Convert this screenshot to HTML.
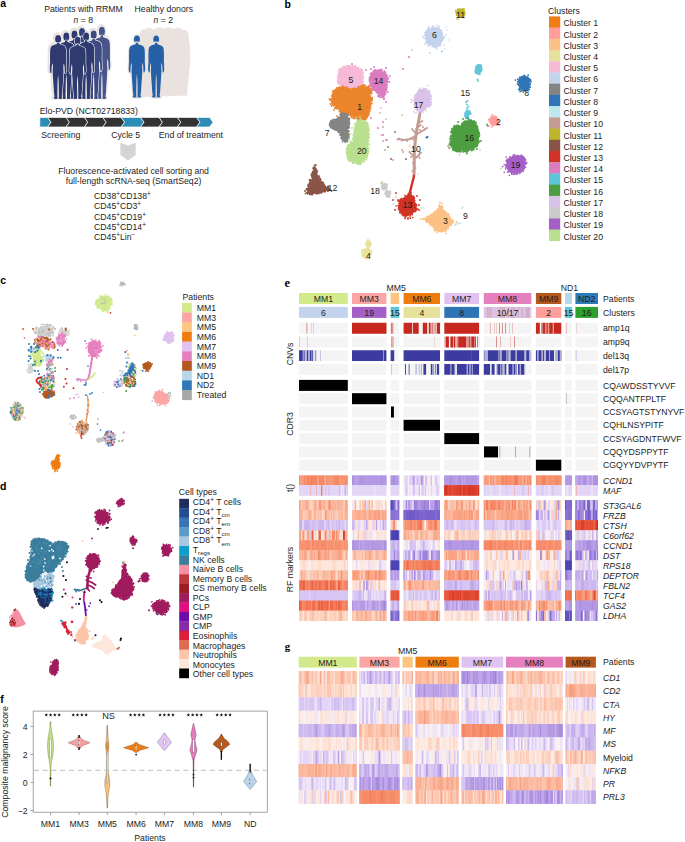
<!DOCTYPE html>
<html><head><meta charset="utf-8"><title>Figure</title><style>
html,body{margin:0;padding:0;background:#fff;overflow:hidden;}
svg{display:block;}
text{font-family:"Liberation Sans",sans-serif;font-size:8.7px;fill:#1d1d1b;}
.pl{font-weight:bold;font-size:10.5px;fill:#000;}
.pls{font-family:"Liberation Serif",serif;font-weight:bold;font-size:12.5px;fill:#000;}
.it{font-style:italic;}
</style></head><body>
<svg width="685" height="842" viewBox="0 0 685 842" shape-rendering="auto">
<text x="0.3" y="6.9" class="pl">a</text>
<defs><g id="pp"><ellipse cx="8" cy="3.8" rx="3.0" ry="4.0"/><path d="M9.1,7.2L9.3,8.8L13.2,9.9L15.2,11.5L15.9,14L16.1,20L16,26L16.3,31L16.4,34.5L15.8,37L14.8,37.3L14.6,35L14.4,31L13.9,27.5L13.4,29L13.3,32L13.5,36L13,44L12.4,52L12.2,56L11.6,60L12.4,62.3L8.6,62.5L8.7,58L8.6,50L8.45,44L8,38.5L7.55,44L7.4,50L7.3,58L7.4,62.5L3.6,62.3L4.4,60L3.8,56L3.6,52L3,44L2.5,36L2.7,32L2.6,29L2.1,27.5L1.6,31L1.4,35L1.2,37.3L0.2,37L-0.4,34.5L-0.3,31L0,26L-0.1,20L0.1,14L0.8,11.5L2.8,9.9L6.7,8.8L6.9,7.2Z"/></g></defs>
<use href="#pp" transform="translate(93.3,26.2) scale(1.0,1.153448275862069)" fill="#e9e2de" stroke="#e9e2de" stroke-width="3.6" stroke-linejoin="round" paint-order="stroke"/>
<use href="#pp" transform="translate(73.4,27.5) scale(1.0,1.1327586206896552)" fill="#e9e2de" stroke="#e9e2de" stroke-width="3.6" stroke-linejoin="round" paint-order="stroke"/>
<use href="#pp" transform="translate(65.9,29.8) scale(1.0,1.0948275862068966)" fill="#e9e2de" stroke="#e9e2de" stroke-width="3.6" stroke-linejoin="round" paint-order="stroke"/>
<use href="#pp" transform="translate(85.1,29.8) scale(1.0,1.0948275862068966)" fill="#e9e2de" stroke="#e9e2de" stroke-width="3.6" stroke-linejoin="round" paint-order="stroke"/>
<use href="#pp" transform="translate(57.7,31.9) scale(1.0,1.0620689655172415)" fill="#e9e2de" stroke="#e9e2de" stroke-width="3.6" stroke-linejoin="round" paint-order="stroke"/>
<use href="#pp" transform="translate(77.5,31.9) scale(1.0,1.0620689655172415)" fill="#e9e2de" stroke="#e9e2de" stroke-width="3.6" stroke-linejoin="round" paint-order="stroke"/>
<use href="#pp" transform="translate(49.5,34.3) scale(1.0,1.0224137931034483)" fill="#e9e2de" stroke="#e9e2de" stroke-width="3.6" stroke-linejoin="round" paint-order="stroke"/>
<use href="#pp" transform="translate(69,36.2) scale(1.0,0.9913793103448276)" fill="#e9e2de" stroke="#e9e2de" stroke-width="3.6" stroke-linejoin="round" paint-order="stroke"/>
<use href="#pp" transform="translate(93.9,27) scale(1.0,1.153448275862069)" fill="#48548a" stroke="#fff" stroke-width="1.1" stroke-linejoin="round" paint-order="stroke"/>
<use href="#pp" transform="translate(74,28.3) scale(1.0,1.1327586206896552)" fill="#34407a" stroke="#fff" stroke-width="1.1" stroke-linejoin="round" paint-order="stroke"/>
<use href="#pp" transform="translate(66.5,30.6) scale(1.0,1.0948275862068966)" fill="#2f3a6e" stroke="#fff" stroke-width="1.1" stroke-linejoin="round" paint-order="stroke"/>
<use href="#pp" transform="translate(85.7,30.6) scale(1.0,1.0948275862068966)" fill="#3e4a82" stroke="#fff" stroke-width="1.1" stroke-linejoin="round" paint-order="stroke"/>
<use href="#pp" transform="translate(58.3,32.7) scale(1.0,1.0620689655172415)" fill="#2f3a6e" stroke="#fff" stroke-width="1.1" stroke-linejoin="round" paint-order="stroke"/>
<use href="#pp" transform="translate(78.1,32.7) scale(1.0,1.0620689655172415)" fill="#2f3a6e" stroke="#fff" stroke-width="1.1" stroke-linejoin="round" paint-order="stroke"/>
<use href="#pp" transform="translate(50.1,35.1) scale(1.0,1.0224137931034483)" fill="#2f3a6e" stroke="#fff" stroke-width="1.1" stroke-linejoin="round" paint-order="stroke"/>
<use href="#pp" transform="translate(69.6,37) scale(1.0,0.9913793103448276)" fill="#2f3a6e" stroke="#fff" stroke-width="1.1" stroke-linejoin="round" paint-order="stroke"/>
<path d="M139.5,37 C139,31 141.5,28.5 145,29.5 C148,27 151.5,27.5 154,30 C157,26.5 161,26.5 164,29 C167,26.8 171,27.2 173.5,29.5 C176.5,27 180.5,27.5 182.5,30 C186,29.5 188.5,31.5 188.5,35 L189.8,46 L190.2,62 L189,74 L187.8,84 L187.2,95.5 L141,97.2 Z" fill="#e9e2de"/>
<use href="#pp" transform="translate(129.1,35.6) scale(0.98,0.99)" fill="#2560a6" stroke="#e9e2de" stroke-width="2.4" stroke-linejoin="round" paint-order="stroke"/>
<use href="#pp" transform="translate(148.5,35.6) scale(0.96,0.99)" fill="#2560a6" stroke="#e9e2de" stroke-width="2.4" stroke-linejoin="round" paint-order="stroke"/>
<text x="83.5" y="11.9" text-anchor="middle">Patients with RRMM</text>
<text x="83.4" y="22.7" text-anchor="middle"><tspan class="it">n</tspan> = 8</text>
<text x="163.8" y="11.9" text-anchor="middle">Healthy donors</text>
<text x="163.3" y="22.7" text-anchor="middle"><tspan class="it">n</tspan> = 2</text>
<text x="39.8" y="113.6">Elo-PVD (NCT02718833)</text>
<polygon points="39.8,117.4 47.6,117.4 51,122.2 47.6,127 39.8,127" fill="#2e8db6" stroke="#fff" stroke-width="0.7"/>
<polygon points="47.6,117.4 66,117.4 69.4,122.2 66,127 47.6,127 51,122.2" fill="#333333" stroke="#fff" stroke-width="0.7"/>
<polygon points="66,117.4 84.4,117.4 87.8,122.2 84.4,127 66,127 69.4,122.2" fill="#333333" stroke="#fff" stroke-width="0.7"/>
<polygon points="84.4,117.4 102.8,117.4 106.2,122.2 102.8,127 84.4,127 87.8,122.2" fill="#333333" stroke="#fff" stroke-width="0.7"/>
<polygon points="102.8,117.4 121.2,117.4 124.6,122.2 121.2,127 102.8,127 106.2,122.2" fill="#333333" stroke="#fff" stroke-width="0.7"/>
<polygon points="121.2,117.4 140.6,117.4 144,122.2 140.6,127 121.2,127 124.6,122.2" fill="#2e8db6" stroke="#fff" stroke-width="0.7"/>
<polygon points="140.6,117.4 159,117.4 162.4,122.2 159,127 140.6,127 144,122.2" fill="#333333" stroke="#fff" stroke-width="0.7"/>
<polygon points="159,117.4 177.4,117.4 180.8,122.2 177.4,127 159,127 162.4,122.2" fill="#333333" stroke="#fff" stroke-width="0.7"/>
<polygon points="177.4,117.4 196.6,117.4 200,122.2 196.6,127 177.4,127 180.8,122.2" fill="#333333" stroke="#fff" stroke-width="0.7"/>
<polygon points="196.6,117.4 209.6,117.4 213,122.2 209.6,127 196.6,127 200,122.2" fill="#2e8db6" stroke="#fff" stroke-width="0.7"/>
<text x="41.3" y="137.6">Screening</text>
<text x="111.2" y="137.6">Cycle 5</text>
<text x="158.8" y="137.6">End of treatment</text>
<polygon points="120.4,142.8 128,145.6 135.7,142.8 135.7,155 128,160.5 120.4,155" fill="#d4d4d4"/>
<text x="133.6" y="173.6" text-anchor="middle">Fluorescence-activated cell sorting and</text>
<text x="133.6" y="184" text-anchor="middle">full-length scRNA-seq (SmartSeq2)</text>
<text x="94" y="198.6"><tspan y="198.6">CD38</tspan><tspan y="195.6" font-size="6.4">+</tspan><tspan y="198.6">CD138</tspan><tspan y="195.6" font-size="6.4">+</tspan></text>
<text x="94" y="209"><tspan y="209">CD45</tspan><tspan y="206" font-size="6.4">+</tspan><tspan y="209">CD3</tspan><tspan y="206" font-size="6.4">+</tspan></text>
<text x="94" y="219.5"><tspan y="219.5">CD45</tspan><tspan y="216.5" font-size="6.4">+</tspan><tspan y="219.5">CD19</tspan><tspan y="216.5" font-size="6.4">+</tspan></text>
<text x="94" y="229.8"><tspan y="229.8">CD45</tspan><tspan y="226.8" font-size="6.4">+</tspan><tspan y="229.8">CD14</tspan><tspan y="226.8" font-size="6.4">+</tspan></text>
<text x="94" y="240.1"><tspan y="240.1">CD45</tspan><tspan y="237.1" font-size="6.4">+</tspan><tspan y="240.1">Lin</tspan><tspan y="237.1" font-size="6.4">−</tspan></text>
<text x="284.6" y="7.9" class="pl">b</text>
<polygon points="464.7,13 464.6,13.6 464.2,14.1 463.9,14.6 463.6,15.1 463.4,15.6 463.1,16.3 462.6,16.8 462,17.1 461.2,17.1 460.5,17.1 459.8,17 459.1,16.9 458.4,16.7 457.9,16.3 457.6,15.7 457.4,15 457.3,14.5 457,14 456.5,13.6 456.1,13 456,12.3 456.1,11.7 456.5,11.1 456.9,10.6 457.4,10.2 457.9,9.8 458.6,9.5 459.2,9.4 459.9,9.4 460.5,9.4 461.1,9.3 461.8,9.2 462.6,9.2 463.3,9.5 463.8,10 464.1,10.6 464.3,11.2 464.5,11.8 464.7,12.4" fill="#bfb52a"/>
<path d="M464 10.7h0M463.1 9.6h0M458.1 16.8h0M457.9 9.2h0M463.2 17.6h0M462.6 9.1h0M461.1 9.3h0M463.4 9.4h0M464.5 12.9h0M464.1 14.3h0M465 13.5h0M464.5 15h0M464.1 9.6h0M459.6 16.6h0M463.6 16.1h0M464.7 12h0M459.7 9h0M457.6 10.2h0M462.2 9.2h0M464.6 12.8h0M461.9 17.2h0M458.2 9.6h0M461.1 17h0M457.6 9.7h0M459.3 9.2h0M463.2 15.3h0M456.1 11.7h0M455.8 10.6h0M458.3 15.6h0M456.1 12.2h0M456.8 15.2h0M463.8 16.1h0M464.8 13.7h0M459.8 17h0M464 8.9h0M456.4 13.8h0M463.4 17.1h0" stroke="#bfb52a" stroke-width="1.7" stroke-linecap="round" fill="none"/>
<path d="M456.5 18.5h0M458 19.5h0" stroke="#bfb52a" stroke-width="1.5" stroke-linecap="round" fill="none"/>
<polygon points="443.4,37 443.4,38.5 443.1,40 442.4,41.4 441.6,42.6 440.6,43.6 439.7,44.8 438.7,45.9 437.4,46.7 436,47 434.5,46.7 433.2,46.1 431.9,45.6 430.7,45.1 429.3,44.7 428,44.1 427,42.9 426.4,41.5 426.1,40 425.9,38.5 425.7,37 425.5,35.5 425.7,33.9 426.3,32.5 427.3,31.3 428.3,30.3 429.4,29.4 430.5,28.4 431.7,27.7 433.1,27.3 434.5,27.3 435.9,27.7 437.1,28.2 438.4,28.6 439.8,29.1 441,29.9 442,31.1 442.6,32.5 443,34 443.2,35.5" fill="#c3d3ee"/>
<path d="M436.1 27.5h0M433.7 46.6h0M440.7 43.4h0M428.5 44.3h0M432.6 28.2h0M427 32.4h0M432.4 28.3h0M426.8 30.2h0M425.7 41.7h0M426.2 38.2h0M439.9 45.2h0M442.5 33.8h0M424 38h0M432.5 27.4h0M435.9 27.8h0M438.3 45.8h0M428.3 30.2h0M433.2 25.9h0M427.1 30.8h0M445.8 34.9h0M426.4 31h0M436.9 25.3h0M429 44h0M428.5 27.8h0M437.6 45.5h0M425.1 35.1h0M441.4 31.9h0M423 36.5h0M435 46.4h0M440 45.7h0M437.3 46.5h0M434.7 47.2h0M436.3 46.8h0M430.1 44.9h0M441.1 30.4h0M426.7 43.3h0M424.8 44.1h0M426.8 31.2h0M432.8 45.3h0M442.3 40.6h0M432.7 45.7h0M428.5 29.4h0M425.2 38.6h0M428.8 26.7h0M437.9 28.1h0M442.3 34h0M439.6 45.2h0M439.8 29.7h0M440.2 43h0M427.8 29.3h0M439.3 28.4h0M427.9 46.1h0M425.8 32.6h0M426.1 35.5h0M435.7 47.9h0M443.6 37.2h0M429.5 28.5h0M431.7 27.7h0M439.1 28.3h0M433 27.9h0M425.7 34.5h0M426.9 43.5h0M424.6 35.5h0M439.8 29.8h0M432.8 27.1h0M426 33.5h0M425 32.7h0M427.1 43.3h0M443.2 39.2h0M425.1 35.1h0M444.4 37.3h0M432.5 46.2h0M436.5 46.4h0M434.2 47.2h0M425.6 34.1h0M430.1 45.7h0M426.9 41.5h0M435.8 27.8h0M438.9 26.4h0M440.6 43h0M433 26.4h0M440.3 44.6h0" stroke="#c3d3ee" stroke-width="1.7" stroke-linecap="round" fill="none"/>
<path d="M446 27h0M447 30h0M444 45h0M449 40h0M442 51h0M445 49h0M437 49h0" stroke="#c3d3ee" stroke-width="1.5" stroke-linecap="round" fill="none"/>
<path d="M430 53h0M442 51.5h0" stroke="#6cc6d8" stroke-width="1.5" stroke-linecap="round" fill="none"/>
<polygon points="339.9,68.7 345.5,66.6 351.8,66.2 357.3,67 361.9,70.6 362.8,77.9 362,85.3 355.5,88.9 348.2,89.3 341.8,87.1 338.6,81.6 338.7,74.3" fill="#f6b9d6"/>
<path d="M337.9 74.9h0M339.1 70.1h0M340.4 72h0M340.1 71.1h0M338.9 72.2h0M338.9 70.9h0M339.8 72.6h0M340 71.9h0M339.2 69.6h0M338.3 74.5h0M339.1 73.3h0M343.8 67.4h0M343.6 67.2h0M344.6 67.3h0M342 68.2h0M343.3 66.7h0M343.4 67.3h0M343.7 67.4h0M345.1 67.5h0M344 67.7h0M339.6 69h0M339.9 68.7h0M348.5 66h0M351.1 66.5h0M347.1 65.7h0M349.2 66h0M349.7 65.9h0M349.5 65.9h0M345.1 66.1h0M349.3 66h0M349.4 67.2h0M348.7 66.4h0M351.6 66.7h0M351.7 66.9h0M355.8 65.9h0M356.9 67.8h0M355.3 66.8h0M354.6 67.1h0M354.4 66.1h0M354.2 66.1h0M355.2 66.7h0M352.6 65.9h0M356.1 67.6h0M356.6 67.8h0M360.8 70.3h0M360.9 71.2h0M362.1 69.9h0M360.6 71h0M362 71.1h0M357.7 68.7h0M360.2 69.1h0M358.6 67.7h0M360.6 68.9h0M358.3 68h0M360.6 69.1h0M363.3 76.8h0M362.2 73.7h0M362.9 74.6h0M362.4 73.7h0M361.6 69.9h0M362.7 76.8h0M362.7 74.1h0M363.1 74.8h0M361.8 73.2h0M362.4 74.1h0M363 72.7h0M362.9 72.1h0M361.4 71.3h0M361.8 70.7h0M362.3 85.3h0M363.1 78.5h0M363.2 82.2h0M362.3 84.5h0M362.3 82.7h0M362.3 84.6h0M361.9 78.8h0M361.2 83.7h0M363.3 81.2h0M363.2 77.9h0M362.6 84.4h0M363 83.1h0M361.9 83.8h0M362 83.8h0M361.9 85h0M359.2 86.4h0M358.2 86.9h0M360 85.7h0M361.4 86.6h0M362 86.8h0M357.7 88.2h0M358.8 86.5h0M357.8 87.9h0M357.5 88.3h0M360.1 87.6h0M360.4 86.7h0M361.9 86.3h0M355.4 89.3h0M352.9 88.7h0M354.4 88.5h0M348.5 89.6h0M349 90.1h0M349.7 89h0M353.7 88.6h0M351.7 89.6h0M350.1 89.7h0M351.7 88.2h0M347.5 89.6h0M350.3 90.1h0M348.2 89.1h0M347.9 88.8h0M352.6 89.5h0M343.1 87.9h0M344.6 87.5h0M348.8 89.8h0M344.4 88.2h0M344.3 86.8h0M343.7 88.6h0M347.1 89.7h0M345.7 87.7h0M343.8 86.8h0M345.6 87.9h0M344.7 88.4h0M343.3 86.9h0M344.2 88.4h0M340.3 83.9h0M339.8 81.8h0M339.4 83.3h0M339.7 84h0M341.4 84.7h0M340.1 83h0M339.1 81.9h0M338.8 83.9h0M338.2 83.2h0M339.5 81.8h0M339.8 83.2h0M340.8 86.7h0M337.7 80h0M338.2 77h0M338.6 75.7h0M338.9 77.9h0M339 80.9h0M339 80.5h0M338.9 78.3h0M338.8 75.5h0M338.8 81h0M338.3 76.9h0M337.7 82.1h0M338.3 77.1h0M337.7 77.8h0M337.9 80.8h0" stroke="#f6b9d6" stroke-width="1.8" stroke-linecap="round" fill="none"/>
<polygon points="371.7,73 375.3,70.1 380.8,70.2 385.4,73 387.9,78.5 386.8,84.7 385.2,90.1 384.5,95.9 380.9,96.8 377.2,91.8 372.8,89.2 370.2,84.8 370.1,78.5" fill="#db7cc0"/>
<path d="M370.4 73.6h0M371.5 76h0M371.4 75.4h0M371.6 73.1h0M370.9 74.3h0M369.6 77.1h0M372 74.7h0M371.6 75.7h0M370.8 75.9h0M370.6 78.4h0M369.8 77.3h0M373.4 70.9h0M371.8 72.8h0M373.4 72h0M373.7 71.6h0M373.2 71.4h0M374.9 70.9h0M374.1 71.7h0M375 69.7h0M371 73.6h0M375.5 70.7h0M376.2 71h0M378.5 70.8h0M380.1 71h0M378.5 69.8h0M378.5 70.3h0M380.4 69.7h0M376.9 70.4h0M378 70.4h0M375.8 71h0M381.4 70.3h0M381.5 70.4h0M380.2 70h0M380.5 70.4h0M384.4 71.8h0M381.8 69.5h0M381.4 71.4h0M381.1 71.3h0M384.1 70.9h0M382.7 72.8h0M385.6 74.4h0M386.4 77.1h0M388.4 77.8h0M385.5 72.4h0M387 75.2h0M386.6 74.8h0M385.3 72.1h0M384.7 73.2h0M387 76.8h0M385.6 74.9h0M387.5 77.1h0M387.3 80.8h0M387.9 81.5h0M386.8 83.1h0M386.9 83.9h0M386.2 84.5h0M387.9 79.2h0M387 85.3h0M386.7 81.1h0M387.6 81.3h0M387.4 81.2h0M387.8 79.2h0M387.9 81.7h0M385.9 90.3h0M386.4 86.2h0M386.5 88.4h0M386.6 89.5h0M386.2 85.5h0M385.5 88.9h0M386.6 85.9h0M386.3 85.6h0M385.7 86.4h0M385.3 89.3h0M387.1 87.3h0M384.5 93.6h0M385.4 93.8h0M385.6 93.9h0M384.6 91.8h0M385.2 90.8h0M385.6 92.3h0M385.2 90.8h0M384.1 92.1h0M385.4 92.3h0M386.2 91h0M384.7 95.1h0M381 97.3h0M382.5 97.2h0M382.9 96.3h0M383 95.5h0M383.3 96.9h0M382.1 96.8h0M384 97h0M377.5 93.4h0M379.1 95.7h0M379.7 97.2h0M378.8 95.4h0M378.1 92.6h0M376.9 92.2h0M379.8 94.2h0M379 92.5h0M379.5 94.5h0M379.4 95.1h0M379.2 96.3h0M378.1 93.1h0M373 89.1h0M374.5 89.7h0M373.1 90.3h0M375.9 91.6h0M376.3 90.2h0M372.9 90.2h0M376.3 90.9h0M374 90.1h0M375.9 91.5h0M375.6 90h0M372.5 88.9h0M370.6 85.6h0M371.2 86.2h0M372.3 87.3h0M371.4 88.7h0M372.5 86.1h0M370.9 85.8h0M372.3 86.1h0M371.2 88.3h0M370.1 86.3h0M370.6 84.9h0M369.7 79.9h0M370.8 77.7h0M370.1 84.7h0M369.7 79h0M369.5 79.9h0M370.3 82.8h0M369.5 79h0M369.5 78.6h0M369.3 80.7h0M369.8 82.5h0M370.6 84.4h0" stroke="#db7cc0" stroke-width="1.8" stroke-linecap="round" fill="none"/>
<path d="M371 69h0M374 67h0M366 70h0M384 99h0M386 102h0M388 92h0M390 76h0M389.5 82h0" stroke="#db7cc0" stroke-width="1.8" stroke-linecap="round" fill="none"/>
<polygon points="336.9,88.8 343.6,87 350.2,90.2 357.6,88.1 363.3,86 368.1,86.8 370.9,92.5 371.3,100.1 369.9,107.6 368.1,114.2 365.3,119 359.6,120.4 355.8,117.8 351.1,115.8 345.6,113 340.9,111.2 336.1,107.6 332.2,102.9 332.2,96.3 334,91.6" fill="#ec842c"/>
<path d="M335.2 90.3h0M335.6 89.3h0M333.6 92h0M337.4 89.8h0M333.8 91.5h0M334.5 92.4h0M337.1 89.7h0M334.6 90.7h0M335.9 89.8h0M338 87.8h0M337.6 89.4h0M339.5 87.5h0M340 87.9h0M339.3 87.1h0M339.8 87.1h0M336.9 87.9h0M342.2 87.8h0M338.2 89.6h0M340.1 88.4h0M342.5 87.8h0M342.7 87.6h0M342.2 86.2h0M338.3 89.1h0M348.5 89.8h0M347.4 87.7h0M348.9 88.9h0M345 89.3h0M351.1 90.5h0M347.9 89h0M350.9 90.7h0M345.3 87.6h0M349.2 89.9h0M350.4 89.4h0M343.5 86.4h0M347.3 89h0M345 88.4h0M346.1 87.1h0M345.6 87.9h0M354.6 89h0M356.3 89.5h0M352.8 90.3h0M358.2 88.4h0M350.8 88.8h0M350.5 89h0M356.5 88.8h0M353.7 88.2h0M355.1 89.6h0M358.1 88.1h0M353.8 89.9h0M355.6 88.4h0M352.9 88.9h0M351.3 90.5h0M355.5 88.8h0M354.6 88.8h0M359.5 88.1h0M362.6 85.1h0M358.8 88.7h0M360.4 86.4h0M361.6 86h0M360.5 87.6h0M358.8 87h0M358 87h0M360.6 86.9h0M359.5 88.9h0M362.1 87.2h0M361.7 87.7h0M360.8 87.9h0M362.7 86.7h0M362.5 86.5h0M367.5 87h0M365.2 85.2h0M368.7 85.9h0M364 85.1h0M363.9 86.4h0M363.8 87h0M366.9 87.2h0M363.7 85.5h0M370.5 89.9h0M369.6 90.1h0M370 91h0M369.3 88h0M369.5 88.5h0M371.3 90.8h0M370.6 89.3h0M371.1 91.7h0M371.6 92.2h0M369.6 89.4h0M370 92.9h0M368.2 87.4h0M369.2 89.6h0M370.2 96.5h0M371.6 99.9h0M372.2 97.7h0M371.3 99.2h0M370.5 93.9h0M370 94.3h0M370.6 98.4h0M371.5 93.5h0M370.7 93.5h0M371.5 100.8h0M372 98.5h0M370.7 94.1h0M371.1 101h0M372.4 99.8h0M370.3 97.1h0M370.8 101.1h0M368.9 107.3h0M369.5 104.2h0M370.5 101.1h0M370.5 100.5h0M372 103.5h0M370.5 108.3h0M371.7 103.5h0M369.6 107.4h0M370.1 104.5h0M369.6 107.2h0M370.1 100.6h0M370.9 104h0M370.1 106.3h0M370.6 101.8h0M369.8 104.2h0M370.7 106.3h0M369.4 111.2h0M367.2 113.4h0M370 108.8h0M368 113.7h0M369.8 111h0M369.2 113.4h0M367.8 112.3h0M369.7 108.6h0M369.1 107.6h0M369.8 110.1h0M368.7 107.9h0M368.8 111.9h0M368.6 113.8h0M369.4 110.7h0M367 116.2h0M368.6 115.6h0M366.3 117.6h0M366.5 117.7h0M368.4 115.7h0M367.1 114.1h0M366.3 114.4h0M368 114.8h0M367.2 113.5h0M367.3 116.9h0M365.8 118.7h0M366.3 116h0M365 118.9h0M360.4 119.1h0M360.2 119.8h0M363.2 119.6h0M360.9 120.9h0M360.7 120.6h0M365.6 120h0M363.6 118.5h0M364.6 119.2h0M359.1 119.5h0M365 119.2h0M359.8 120.1h0M359.2 119.2h0M355.9 117.4h0M358.3 118.5h0M357.4 118.4h0M358 120.4h0M358.1 120.1h0M357.8 119.3h0M356.9 118.2h0M357.5 118.9h0M358.6 119h0M354.5 118.6h0M355.3 117.1h0M353.1 118.1h0M356.3 118h0M354.4 118h0M353.5 116.9h0M355.9 116.2h0M351.7 116.3h0M356.2 117.3h0M354.3 117.8h0M351.6 117.6h0M347.7 115.1h0M347.2 113.4h0M347 114.5h0M346.7 112.8h0M351 114.9h0M347.2 112.4h0M350.2 115.3h0M350.7 115.8h0M347.6 113.6h0M348.1 113.8h0M348.3 113.1h0M346.7 113.4h0M346.7 115.2h0M342.9 110.9h0M341.4 111.9h0M340.6 110.6h0M343.2 110.9h0M342.3 111.9h0M341 112.8h0M344.6 111.7h0M343.6 112.7h0M341.5 110.7h0M342.8 113.1h0M344.7 113.6h0M337.1 108.8h0M340.3 110.2h0M339.6 108.7h0M340.2 109.4h0M338.5 108.3h0M336.8 107.6h0M339.7 109.9h0M335.7 107.5h0M340.8 112.2h0M336.8 108.5h0M335.9 107.4h0M339.4 111.4h0M336 108h0M335.8 106.1h0M332.5 101.8h0M335.4 106.1h0M335.3 105.6h0M333.2 104.8h0M335.6 107.9h0M332.1 104.1h0M337.1 107.2h0M333.3 105.7h0M335.7 107.1h0M334.8 108.1h0M335.9 106.8h0M334.1 102.9h0M332.6 99.2h0M333.1 103h0M331.2 100.4h0M332.8 101.9h0M331.7 101.9h0M331.8 101.7h0M333.1 100.3h0M333.1 100.2h0M331.2 99h0M332.1 102.9h0M331.6 95.9h0M332.4 98.1h0M332.9 97.8h0M331.1 99.1h0M333.8 92.9h0M332.5 94.2h0M332.7 97.3h0M333.1 94.8h0M332.9 91h0M333.1 95.2h0M333.3 95.6h0M333.7 93.9h0M333.8 92.5h0M334.5 90.4h0M333.2 92.4h0" stroke="#ec842c" stroke-width="1.8" stroke-linecap="round" fill="none"/>
<path d="M333 96h0M330 100h0M331.5 106h0M334 110h0M337 116h0M341 119h0M358 122.5h0M362 123h0M366 118h0M371 93h0M369 88h0M341 88h0M329.5 99h0M330.5 104h0" stroke="#ec842c" stroke-width="1.8" stroke-linecap="round" fill="none"/>
<polygon points="341,114.2 345.6,113.6 348.3,117 349.4,122.6 348.3,127.8 347.6,133.2 348.9,139 346.1,141.9 342.9,140.3 341,135.8 339,131.4 335.6,129.5 331.7,127.4 329.7,123.8 331.5,120.7 335.3,119.9 338.8,118.7" fill="#848484"/>
<path d="M340.7 117.5h0M338.9 117.9h0M341.1 115h0M338.6 117.1h0M340.9 115.7h0M341.1 115.9h0M340 118.4h0M340.2 117.5h0M340.4 114h0M343.6 112.9h0M341.6 113.9h0M340.5 115.1h0M344.7 114.8h0M345 113.4h0M343.2 113.6h0M345.5 113.8h0M340.2 114.5h0M342.7 113.4h0M347.6 114.1h0M348 115.2h0M346 114.3h0M347.1 115.5h0M347.2 115.2h0M346 114.1h0M347.3 115.5h0M347.1 115.3h0M348.1 119.5h0M348.2 119.7h0M349.3 119.6h0M349.1 122.2h0M349.3 119.8h0M349 118.2h0M348.5 120.8h0M348.5 120.2h0M349.3 120.1h0M349.3 118.4h0M349.6 122.8h0M348.7 126.7h0M348.7 123.8h0M349 124.4h0M348.7 126h0M349.3 124.6h0M348.6 128.1h0M348.2 125.6h0M349.1 127.4h0M348.8 123.1h0M348.3 123.6h0M347.6 132.5h0M347.9 128.1h0M347.2 132.9h0M347.5 128.4h0M348.8 130.9h0M347.7 132.3h0M349.1 127.2h0M348.9 130.9h0M348.6 131.5h0M347.9 130.9h0M347.6 135.7h0M348.6 136.6h0M348.5 134h0M347 133.1h0M349.1 138.1h0M348.8 134.9h0M348.9 138.4h0M347.8 137h0M348.7 135.9h0M348.6 136.5h0M347.7 136.1h0M347.3 140.3h0M348.5 138.4h0M347.4 141.5h0M345.9 140.3h0M348.5 139h0M348 138.4h0M347.5 141.5h0M347.2 141.1h0M344.7 141.6h0M344.9 140.4h0M345.1 142h0M346 141.2h0M345.5 141.3h0M343.1 139.9h0M342.6 141.5h0M341.2 138.2h0M341.5 135.2h0M341.3 137.9h0M342.9 139.1h0M342 138.9h0M342 138.7h0M343 138.5h0M341.2 137.1h0M342.3 139h0M339.9 134.7h0M340.6 133.7h0M341.6 135h0M339 132.4h0M338.8 131.8h0M340.1 134.9h0M340.2 134.7h0M340.9 135.1h0M341.4 134.9h0M336 129.2h0M335.7 129.4h0M336.1 129.9h0M338.8 131.7h0M336.4 130.1h0M338 130.4h0M338.1 131.9h0M335.5 129.9h0M334.2 128.9h0M334 129.4h0M333.6 127.7h0M335 129h0M333.4 129h0M334.2 129h0M332.2 127.4h0M332.1 128.1h0M329.9 125.6h0M330.5 126.3h0M329.6 124.8h0M332.1 127.1h0M329.6 125.1h0M330.6 127.4h0M329.9 122.8h0M330.8 125.3h0M331 122h0M331.2 123.2h0M331 123.1h0M331.8 120.8h0M330.7 123.6h0M329.9 123h0M331 120.6h0M332.3 120.1h0M331 121h0M333.5 119.8h0M334.2 119.7h0M335.8 119.5h0M334.1 120.7h0M333.9 119.8h0M336.4 120.2h0M338.7 118.1h0M337.4 120h0M337.1 119.9h0M337.4 119.4h0M337.2 118.4h0M337.5 118.9h0" stroke="#848484" stroke-width="1.9" stroke-linecap="round" fill="none"/>
<polygon points="357.1,121.2 361.8,120 367,122.6 368.6,132.8 368.3,142 367.6,151.2 365.5,158.9 359.9,163.3 353.3,162.8 348.6,159 346.4,152.2 348.1,145.6 352.7,141.2 354.5,134.1 355.2,126.2" fill="#b9e08e"/>
<path d="M357 122.8h0M356.2 125.4h0M356.5 125.9h0M355.7 124h0M357.4 121h0M355.7 126.2h0M356.4 122.4h0M356.4 122.5h0M356.2 125.3h0M354.7 124.1h0M359.9 121.4h0M360.7 121.3h0M360.8 119.7h0M359 119.9h0M360.9 121.1h0M359.5 121.1h0M359.1 120.6h0M360.8 120.9h0M360.9 119.1h0M366.2 122.9h0M367 122.7h0M365 121.2h0M364.3 121.5h0M362.3 121.4h0M363.6 121.6h0M364.9 121.3h0M366.4 122.8h0M364.5 120.9h0M365 120.8h0M365.2 122.2h0M368 127.9h0M368 129.7h0M367.4 127.2h0M367.9 123.1h0M368.5 131.4h0M367.2 124h0M368 125.1h0M366.9 125h0M368.7 128.6h0M367.4 125.6h0M368.3 131.7h0M368.2 127h0M367.5 123.6h0M369 130.3h0M366 124h0M367.8 127.6h0M366.8 126.4h0M366.9 128.3h0M368.7 126.8h0M369.6 134.3h0M368.2 136.6h0M368.1 139.7h0M368.2 133.9h0M368.6 134.6h0M368.2 133.1h0M367.8 132.8h0M367.6 133.4h0M367.9 140.2h0M368.6 137.9h0M368.2 136.2h0M367.5 135.2h0M368.6 137.4h0M368.5 140.7h0M368.3 140.6h0M368.5 136.4h0M369.2 137.3h0M368.4 147.1h0M367.2 150.3h0M367.1 151.8h0M368.2 143.4h0M367.7 150.6h0M368.3 150.4h0M368.2 149.2h0M366.7 149.3h0M368 151h0M367.9 147.7h0M369.2 144.6h0M367.2 143.2h0M369.1 144.7h0M368.4 151.3h0M367.4 149.1h0M367.9 150.9h0M367.2 151.4h0M367.9 152.6h0M367.3 155.5h0M366.8 157.8h0M367.5 151.3h0M367.1 155h0M368 153.8h0M367.1 157.2h0M366.5 153.8h0M367 153.9h0M368.1 151.8h0M365.9 155.9h0M367 155h0M367.2 155.1h0M367.3 155.2h0M366.9 156.3h0M364.6 159.4h0M363.2 160.1h0M363.6 161h0M364.3 161.6h0M363.3 160.3h0M360.2 162.4h0M361 163.4h0M361 162.2h0M360.2 161.8h0M363.1 161h0M362.7 161.7h0M361.7 161.7h0M366.4 159.7h0M358.4 163.3h0M355.5 162.5h0M357.3 162.5h0M355.9 162.7h0M353.8 163h0M360.2 164.4h0M357.2 163.3h0M357.6 164.1h0M356 162.3h0M358.2 163.6h0M359.2 163.9h0M355.6 162.4h0M348.8 158.3h0M350 159.2h0M352.4 163h0M350.6 159.6h0M349.5 158.3h0M349.9 160h0M347.9 159.5h0M349.1 161h0M350.3 160.9h0M351.7 161h0M353.4 162.9h0M346.3 151.8h0M347.1 156.5h0M348.4 157h0M347.5 157.1h0M347.1 154.7h0M348.8 157.9h0M346.4 152.7h0M347.1 153.3h0M347.1 154.7h0M347.6 154.9h0M347.9 158h0M347.9 156.8h0M347.5 157.1h0M348.4 145.5h0M347.1 148h0M348.3 147.8h0M348.8 145.9h0M346.5 151.6h0M347.6 149.8h0M347.4 152.1h0M347.5 147.9h0M346.2 149.2h0M348.5 146.8h0M348.6 145h0M347.5 149.6h0M347.1 149h0M347.5 145.8h0M348.9 145.2h0M351 143.4h0M350.8 143.9h0M350.1 144.2h0M347.7 146.3h0M351 141.2h0M349.6 144.7h0M348.9 145.4h0M350.7 142.2h0M350.6 142.4h0M348.1 144.8h0M352.9 139h0M353.9 134.1h0M354.3 133.6h0M353.8 136.4h0M353.6 139.4h0M354.3 138.5h0M352.6 138.5h0M353.6 139.8h0M354.3 136.9h0M354 139.8h0M353.6 140.5h0M353.7 139.7h0M353.2 134.8h0M353.6 141.8h0M354.5 131.1h0M354.4 129.8h0M354 131.9h0M355.6 128.2h0M354.3 132.5h0M353.9 133.9h0M355.6 134h0M355.7 130.3h0M354.7 127.4h0M354.7 128.4h0M355.7 126.6h0M355.1 132.4h0M355.7 131.5h0M355.6 133.1h0M355.9 128.1h0" stroke="#b9e08e" stroke-width="1.8" stroke-linecap="round" fill="none"/>
<path d="M352 128h0M350.5 134h0M349 139h0M356 117.5h0M360 117h0" stroke="#b9e08e" stroke-width="1.8" stroke-linecap="round" fill="none"/>
<polygon points="314.5,167.7 316.5,170.2 317,174.2 319.1,177.6 320,181.1 322.8,183 324.4,186.1 327.9,187.5 329.4,189.9 325.6,191.2 320.5,191.9 317,193.3 311.5,193.9 307.8,193.1 307,189.8 309.6,186.5 310.2,182.2 311.9,178.8 312.1,174.1 313.3,170.7" fill="#8a5548"/>
<path d="M313.5 167.4h0M313.9 168.8h0M313.2 168.8h0M314.9 167.4h0M314.8 167.7h0M314.9 168.5h0M315 168.6h0M316.2 170.9h0M315.7 170.9h0M315 167.4h0M315.5 168.4h0M316.3 169.5h0M316.6 174.5h0M317.4 171.1h0M316.6 173.1h0M316.9 172.8h0M316.6 174.6h0M316.4 173.8h0M316.4 173.3h0M316.3 173.6h0M317.6 176.3h0M317.8 176.6h0M319.4 176.1h0M318.4 177h0M318.1 176.3h0M319.1 177.2h0M316.6 174.4h0M318.3 176.6h0M320.6 180.2h0M319.7 181.4h0M319.3 181.2h0M320.4 178.8h0M320.6 180.5h0M318.9 176.9h0M318.9 179.7h0M319.5 181h0M321.9 182h0M322.8 183.4h0M321.7 183.4h0M319.4 180.8h0M323.3 182.6h0M321.7 183.1h0M322.4 183.8h0M324 184.6h0M323 183.6h0M323.4 183.6h0M324.7 186.1h0M324.2 185.3h0M324.1 185h0M328.5 186.8h0M327.3 188h0M325.4 186.5h0M327.8 187.3h0M327.6 187.8h0M325.2 186.2h0M327.9 186.5h0M327.5 187.6h0M328.3 189.9h0M329.3 188.6h0M327.6 187.9h0M329.8 189.7h0M328.5 187.5h0M327.8 191h0M327.5 190.7h0M327.9 190.7h0M328.3 190.2h0M328.1 190.9h0M328.2 189.4h0M327.5 190.8h0M329.1 189.4h0M323.8 191.5h0M325.3 191.5h0M322.1 191h0M321.5 192.7h0M322 192.1h0M320.8 191.1h0M321.8 192.3h0M324.9 191.5h0M321.6 192.3h0M323.7 191.2h0M320.6 191.2h0M319.1 192.2h0M320 191.7h0M320.9 192.7h0M319 193.4h0M318.3 193.6h0M318.8 191.6h0M315 192.8h0M312.3 194.7h0M317.4 192.9h0M312.6 193.2h0M316.6 193.5h0M311.7 192.9h0M313.6 192.7h0M312.4 194.5h0M313.4 193.1h0M316.4 193.7h0M310.5 193.7h0M307.8 193.8h0M308.9 193.1h0M309.9 194.2h0M311 194.4h0M308 192.5h0M310.9 193.4h0M307.5 192.6h0M307 189.7h0M306.9 192.6h0M307.9 193.5h0M307.3 189.4h0M308.3 193.4h0M307.3 190.3h0M306.4 188.9h0M310.5 187.2h0M308.2 186.5h0M309.5 187.1h0M309.1 188h0M308.5 189.6h0M308.3 188.2h0M309.9 186h0M309.5 183.2h0M309.1 184.2h0M310.2 183.1h0M310.2 185.5h0M309.9 185.7h0M310.3 186.4h0M309.9 182.5h0M309.5 185.4h0M310.8 179.9h0M310.3 181.1h0M311.7 181.1h0M310.9 180.5h0M309.9 182.8h0M310.3 179.9h0M310.6 179.8h0M312.6 175.9h0M311.8 176.2h0M311.4 174.7h0M312.7 177.5h0M311.5 175.3h0M312.2 177.4h0M312.4 177.7h0M312.8 177.9h0M312.6 175.1h0M313.5 173.5h0M312.7 171.8h0M312.7 173.4h0M313.2 173.5h0M312.1 173.1h0M313.4 171.2h0M312 173.5h0" stroke="#8a5548" stroke-width="1.9" stroke-linecap="round" fill="none"/>
<path d="M314.5 165.5h0M315.8 165h0M331.5 191h0M305.5 193.5h0M305 191h0M309.5 180h0M308 185h0" stroke="#8a5548" stroke-width="1.9" stroke-linecap="round" fill="none"/>
<polygon points="386.5,186.5 386.4,186.9 386.4,187.2 386.3,187.6 386.3,188 386.2,188.5 386,189.1 385.6,189.5 385.1,189.7 384.5,189.7 384,189.5 383.5,189.3 383.1,189.2 382.6,189 382.2,188.8 381.8,188.5 381.6,188.2 381.5,187.7 381.4,187.3 381.4,186.9 381.4,186.5 381.5,186.1 381.7,185.8 381.9,185.5 381.9,185.1 382,184.6 382.1,184 382.3,183.4 382.8,183.1 383.4,183.1 384,183.3 384.5,183.6 384.9,183.8 385.4,184 385.8,184.2 386.2,184.5 386.4,184.9 386.5,185.3 386.5,185.7 386.5,186.1" fill="#cbcbcb"/>
<path d="M381.5 186.4h0M384 189.6h0M384.5 183.7h0M381.9 188.1h0M386.3 188.3h0M381.6 186.5h0M386.1 188.9h0M382 186.6h0M386.1 186.2h0M386.4 187.8h0M384.3 189.3h0M386.4 183.8h0M387.3 185.2h0M386.8 185.4h0M382 183.9h0M386.5 184.7h0M385.8 188.6h0M382.5 181.6h0M384.4 189.5h0M387.2 187.8h0M383.4 189.7h0M382 183.4h0M386.1 188h0M381.9 188.7h0M386.4 183.7h0M383.5 189.2h0" stroke="#cbcbcb" stroke-width="1.7" stroke-linecap="round" fill="none"/>
<polygon points="390.4,194 390.5,194.5 390.5,195 390.3,195.5 390,195.9 389.8,196.3 389.5,196.7 389.2,197 388.8,197.2 388.4,197.2 388,196.9 387.7,196.6 387.4,196.3 387.1,196.2 386.8,196.2 386.4,196.1 386,195.9 385.7,195.5 385.5,195.1 385.3,194.6 385.1,194 385.1,193.4 385.2,192.8 385.6,192.4 386,192.1 386.5,192 386.8,191.8 387.1,191.6 387.3,191.4 387.7,191.2 388,191.2 388.3,191.2 388.7,191.2 389.1,191.1 389.5,191.2 389.9,191.5 390.1,192 390.2,192.5 390.2,193.1 390.3,193.5" fill="#cbcbcb"/>
<path d="M387.1 196.1h0M390.5 192.9h0M390.4 191.3h0M385.7 191.7h0M387.4 191.9h0M385.1 194.1h0M387.6 191.4h0M389.7 191.7h0M390.3 192.7h0M387.5 196.5h0M389.6 197.2h0M387.2 191.5h0M388.1 197h0M386.2 191.6h0M388.1 190.9h0M386.4 196.4h0M387.6 196.3h0M385 193.2h0M386.7 191.6h0M385.1 193.3h0M390.3 191.2h0M390.1 194.3h0M386.9 196.5h0M386.4 190.5h0M388.8 197.2h0" stroke="#cbcbcb" stroke-width="1.7" stroke-linecap="round" fill="none"/>
<path d="M381 183h0" stroke="#b9e08e" stroke-width="2" stroke-linecap="round" fill="none"/>
<path d="M393 204h0" stroke="#cbcbcb" stroke-width="1.5" stroke-linecap="round" fill="none"/>
<path d="M420,113 C419,120 417.5,126 416.5,132 C415.5,138 415,144 414.5,150 C414,157 414.5,165 414,175" fill="none" stroke="#c49c94" stroke-width="3.0" stroke-linecap="round" stroke-linejoin="round"/>
<path d="M416,136 L410,139 L404,140 L398.5,139" fill="none" stroke="#c49c94" stroke-width="2.2" stroke-linecap="round" stroke-linejoin="round"/>
<path d="M417,134 L421.5,131.5 L426,128.5" fill="none" stroke="#c49c94" stroke-width="2.0" stroke-linecap="round" stroke-linejoin="round"/>
<path d="M415.5,133 L412,129" fill="none" stroke="#c49c94" stroke-width="1.8" stroke-linecap="round" stroke-linejoin="round"/>
<path d="M418.5,123 L422.5,121" fill="none" stroke="#c49c94" stroke-width="1.8" stroke-linecap="round" stroke-linejoin="round"/>
<path d="M414.5,158 L418.5,156 L420,152.5" fill="none" stroke="#c49c94" stroke-width="2.0" stroke-linecap="round" stroke-linejoin="round"/>
<path d="M414,157 L410.5,153" fill="none" stroke="#c49c94" stroke-width="1.8" stroke-linecap="round" stroke-linejoin="round"/>
<path d="M416,129 L418,127 L421,125" fill="none" stroke="#c49c94" stroke-width="1.6" stroke-linecap="round" stroke-linejoin="round"/>
<path d="M419 116h0M418.5 121h0M417 127h0M420 130h0M423 127h0M425 129.5h0M427 128h0M413 139.5h0M407 141h0M402 140.5h0M399 138.5h0M397.5 139.5h0M415 145h0M413 148h0M416 150h0M413 163h0M415.5 168h0M412.5 171h0M419.5 158h0M421 153h0M409.5 152h0M411 157h0" stroke="#c49c94" stroke-width="2" stroke-linecap="round" fill="none"/>
<path d="M402 150h0M403 152h0M393 160h0M385 150h0M383 141h0M383 127h0M387 140h0" stroke="#c49c94" stroke-width="1.8" stroke-linecap="round" fill="none"/>
<path d="M406 159h0M391 159h0" stroke="#8a5548" stroke-width="1.8" stroke-linecap="round" fill="none"/>
<path d="M426.5 137.5h0M427.5 137h0" stroke="#2f74b5" stroke-width="2.2" stroke-linecap="round" fill="none"/>
<path d="M409 147h0M410 145h0" stroke="#e6e29c" stroke-width="1.7" stroke-linecap="round" fill="none"/>
<path d="M418 174h0M411 151h0" stroke="#fbc185" stroke-width="1.6" stroke-linecap="round" fill="none"/>
<polygon points="430.9,100 431,101.7 430.7,103.4 429.9,104.8 428.8,105.8 427.8,106.7 426.9,107.7 426,108.8 425,109.9 423.8,110.6 422.5,111 421.1,110.9 419.8,110.6 418.5,110.1 417.2,109.3 416.1,108.2 415.3,106.7 414.8,105 414.4,103.3 414.2,101.7 414.1,100 414.2,98.3 414.6,96.7 415.4,95.4 416.4,94.3 417.3,93.3 418.1,92.2 419,91.1 420,90.1 421.2,89.4 422.5,89.1 423.9,89 425.2,89.2 426.6,89.6 427.9,90.5 428.9,91.8 429.6,93.4 429.9,95.2 430.2,96.8 430.5,98.4" fill="#d9c2ea"/>
<path d="M419 110.2h0M428.4 106h0M414.4 107.4h0M419.7 111h0M429.8 93.3h0M430.5 95h0M430.3 96.1h0M431 99.5h0M421.7 89.9h0M416 113.1h0M419.8 111.4h0M417.7 91.5h0M416 109.6h0M422.8 111.3h0M417.1 110.5h0M411.5 99.7h0M420.1 88.1h0M413.9 111.8h0M431.1 95.7h0M430.1 99.8h0M429.8 106.1h0M417.9 111h0M430.5 104h0M416.9 93.9h0M425.1 88.8h0M427.9 85.5h0M417.8 91.7h0M425.5 89.6h0M430.9 104.9h0M421.2 111.1h0M421.4 110.1h0M419.3 89.7h0M424.3 89.8h0M414 104.7h0M415.7 94.7h0M430.6 101.3h0M415.1 103.5h0M413.8 100.6h0M424.8 89.1h0M419.7 89.8h0M423.2 112.1h0M429.1 93h0M431.1 99h0M423 110.3h0M418.4 90.8h0M411.2 102.4h0M415.2 106.2h0M427.8 91.2h0M428.8 105.3h0M414.9 107.1h0M431.4 102.8h0M428 106.4h0M416.7 94.6h0M428.1 90.2h0M414.6 101.5h0M414.3 97.6h0M419 113.5h0M426 110.1h0M420 110.8h0M431.2 98.5h0M414.8 95.5h0M428.2 91.4h0M413.3 100.6h0M417.1 93.3h0M429.6 95.2h0M425.9 88.3h0M417.5 108.6h0M415.7 95.3h0M430.7 95.7h0M425.7 110.6h0M423.5 88.4h0M431.4 96.3h0M420.9 90.2h0M430.8 104.4h0M431.1 98.3h0M417.9 93.7h0M429.6 91.1h0M417.5 110.4h0M429 106.7h0M415.7 95.7h0M422.5 110.2h0M422.9 89.6h0M414.3 100.5h0M416.8 109.3h0M418.5 90.7h0" stroke="#d9c2ea" stroke-width="1.7" stroke-linecap="round" fill="none"/>
<path d="M414,176 L412,184 L410,192 L408,198" fill="none" stroke="#d03326" stroke-width="2.4" stroke-linecap="round" stroke-linejoin="round"/>
<polygon points="416.1,205.5 416.3,207.1 416.1,208.7 415.4,210.2 414.4,211.3 413.3,212.3 412.3,213.2 411.3,214.1 410.2,215 408.9,215.8 407.5,216.2 406,216.2 404.6,215.9 403.2,215.2 402,214.3 401,213.1 400.2,211.7 399.6,210.1 399.3,208.6 399,207.1 398.8,205.5 398.8,203.9 399.1,202.3 399.7,200.9 400.6,199.7 401.7,198.8 402.8,198.1 403.9,197.3 405,196.5 406.1,195.5 407.5,194.7 409,194.2 410.6,194.3 412.1,195.1 413.2,196.4 414,198 414.4,199.7 414.8,201.2 415.2,202.6 415.7,204" fill="#d03326"/>
<path d="M413.9 197.4h0M405.4 218.3h0M399.3 205.6h0M408.1 194.2h0M411 192.4h0M417.9 209.2h0M414.6 211.2h0M416.8 208.8h0M411.3 213.9h0M405.6 215.9h0M398.1 205.6h0M399 201.3h0M416.1 210.5h0M400.1 211.7h0M413.9 211.2h0M414.5 200.8h0M402.9 215.5h0M401.3 198.5h0M399.8 211.3h0M416.3 208.2h0M411.8 213h0M399.9 200h0M415.9 209.2h0M399.1 203.5h0M401.1 212.5h0M416.5 205.7h0M405.4 215.3h0M398.5 200.8h0M410.3 218.2h0M398.7 206.3h0M415.4 203.9h0M396.1 206h0M406.2 215.9h0M400.4 211.6h0M412.7 217.5h0M414.2 197.6h0M410.1 216.8h0M400.4 199.5h0M401.1 212h0M415.4 211.4h0M415.2 210.5h0M414.6 202.2h0M401.6 214h0M404.9 195.3h0M398.4 201.3h0M413.4 197.2h0M415.6 207.1h0M410.9 194h0M399.9 212.8h0M412.7 212.2h0M409.6 194.3h0M398.6 207.6h0M405 217.9h0M404.7 215h0M399.1 201h0M413.8 198.6h0M398.6 209.6h0M402.8 214.3h0M408 219h0M409.5 193.6h0M405.3 216.6h0M399.2 206.4h0M402.6 214.5h0M405.7 215.3h0M419 210.2h0M413.5 212h0M403.6 215.7h0M400.2 200.9h0M410.3 215.5h0M403.5 214.6h0M399.2 208.3h0M414.4 198.5h0M412 214.5h0M416.6 204.6h0M400 209.6h0M400.5 209.8h0M412.5 212.7h0M399.8 212.6h0M412.3 214.6h0M408.3 194.8h0M398.6 209.4h0M402.8 214.5h0M413.6 196.1h0M414.7 200.3h0M410.8 194.5h0" stroke="#d03326" stroke-width="1.7" stroke-linecap="round" fill="none"/>
<path d="M396 193h0M398 200h0M393 200h0M395 210h0M420 200h0M419 205h0M417 196h0M408 218h0" stroke="#d03326" stroke-width="1.8" stroke-linecap="round" fill="none"/>
<path d="M396 197h0M411 217h0M420 210h0" stroke="#f5b080" stroke-width="1.7" stroke-linecap="round" fill="none"/>
<polygon points="480.9,70.5 480.8,71.1 480.7,71.9 480.5,72.7 480.1,73.4 479.6,73.9 478.9,74 478.3,73.8 477.8,73.5 477.4,73.2 477,73.1 476.5,73 476,72.9 475.6,72.6 475.3,72.1 475.2,71.5 475.2,70.8 475.3,70.2 475.4,69.5 475.6,68.9 475.8,68.3 476,67.8 476.3,67.2 476.7,66.6 477.1,66 477.5,65.5 478.1,65.2 478.7,65 479.2,65.1 479.7,65.4 480.1,65.7 480.5,66.1 480.9,66.3 481.3,66.6 481.7,66.9 482,67.4 482,68.1 481.8,68.8 481.5,69.5 481.1,70" fill="#5dc6d7"/>
<path d="M480.5 70.9h0M477 66.3h0M478.4 64.7h0M480 65.4h0M481.3 66.3h0M481.7 69.6h0M475.8 68.8h0M476.2 65.9h0M475.5 72.6h0M481.7 70.2h0M481.1 66.8h0M481 70.6h0M475.3 70.9h0M481 70.1h0M475.6 69.6h0M479.3 74.3h0M476.7 73h0M476.6 66h0M480 74.1h0M479.9 64.8h0M476.9 73.5h0M481.8 68.1h0M477.6 65.2h0M481.1 65.2h0M475.1 70.9h0M481 71.8h0M480.6 70.2h0M479.9 65.7h0M478 65.3h0M481.5 70.4h0M481 69.2h0M477.9 73.9h0M475.6 72.9h0M475.9 67.5h0" stroke="#5dc6d7" stroke-width="1.7" stroke-linecap="round" fill="none"/>
<path d="M477.5 79.5h0M478 81h0" stroke="#5dc6d7" stroke-width="1.8" stroke-linecap="round" fill="none"/>
<path d="M466 102h0M467.5 101h0M467 104.5h0M468.5 106.5h0M467 108h0" stroke="#5dc6d7" stroke-width="1.9" stroke-linecap="round" fill="none"/>
<polygon points="470.1,114.5 469.9,115.1 469.5,115.5 469.1,115.7 468.8,115.9 468.6,116.1 468.5,116.5 468.4,117.2 468.2,118 467.9,118.7 467.5,119.2 467,119.3 466.5,119.1 466.1,118.6 465.9,118 465.7,117.3 465.6,116.6 465.5,116.1 465.4,115.6 465.2,115.1 465.1,114.5 465.2,113.9 465.3,113.4 465.6,113 465.9,112.7 466.1,112.3 466.3,111.9 466.5,111.4 466.7,110.9 467.1,110.7 467.5,110.6 467.9,110.7 468.3,110.8 468.7,111 469.1,111.2 469.4,111.5 469.8,112 470,112.5 470.2,113.2 470.2,113.8" fill="#5dc6d7"/>
<path d="M465.4 113h0M470.8 113.4h0M468.4 117.7h0M466.2 111.4h0M466.9 110.1h0M466.6 110.8h0M469.2 111.8h0M468.4 117.2h0M468.5 110h0M468.4 118.3h0M464.7 114.8h0M470.1 112.7h0M465.7 112.3h0M465.1 113.6h0M470 111.9h0M468.2 118.8h0M469.6 113h0M470.3 113.4h0M465.8 117h0M465.6 113.8h0M467.9 119h0M469.8 111.4h0M465.9 116h0M470.8 113.8h0M465 113.1h0M470.3 113h0M465.8 118.5h0M465.3 114.9h0M465 116.4h0M466 112.1h0" stroke="#5dc6d7" stroke-width="1.7" stroke-linecap="round" fill="none"/>
<polygon points="453,128.6 456.8,125.4 460.6,127.6 463.6,122.7 467.7,120.7 472.4,120.6 475.2,122.9 477.5,127.6 478.3,134.1 478.4,140.6 476.6,146.2 471.5,149.4 465,150.8 458.4,150.9 452.8,149.1 450.5,144.3 451.2,137.8 452.2,132.3" fill="#4c9e40"/>
<path d="M453.8 129.4h0M454 130h0M453.5 132.2h0M452.3 130.5h0M453.9 129.7h0M451.9 128.6h0M451.7 130.5h0M452.1 132.3h0M456.6 125.4h0M455 127.1h0M454.5 125.8h0M455.6 127.1h0M455.3 126.6h0M454.1 126.4h0M454.5 127.4h0M454.7 128.8h0M455.3 127.4h0M453.5 128.1h0M456.3 126.4h0M458.6 125.6h0M457.2 125.9h0M458.3 125.5h0M460.7 127.4h0M459.5 127.2h0M459.7 126.8h0M458.9 126.7h0M457 125.7h0M462.4 125.3h0M460.8 126.3h0M462.4 127.4h0M463.3 122.2h0M461.6 125.9h0M463 123.5h0M461.9 125h0M461.5 128.1h0M461.8 124.7h0M462 123.7h0M461.8 126.1h0M462.7 125.3h0M464.8 122.6h0M464.1 123.7h0M467.2 121.1h0M465.6 121.2h0M464.8 121.4h0M466.7 122.5h0M467 121.5h0M465 121.1h0M466 122.6h0M463.9 122.4h0M470.9 120.9h0M470.3 121h0M469.4 119.8h0M469 120.2h0M468.7 120.6h0M469.2 119.7h0M470.6 121h0M471.2 120.2h0M470.6 121.5h0M470.2 120.8h0M474.8 121.9h0M474.4 123.4h0M474 121h0M476.1 122.6h0M473.3 123h0M475.6 122.7h0M472.9 121.4h0M473.4 122h0M475.6 122.9h0M476.1 126h0M476.7 125.5h0M477.3 128.3h0M475.5 124.8h0M476 125.4h0M476.5 125.7h0M477.4 126.6h0M475.4 124.2h0M476 122.8h0M475.3 125.2h0M477.5 127.3h0M477.7 129.1h0M477 127.8h0M478.1 131.4h0M477.3 129.9h0M477.8 130.4h0M479.2 132.7h0M477.2 133.3h0M478.4 130.5h0M478.4 132.6h0M477.9 134.3h0M478.3 133.1h0M477.4 130.4h0M477.5 128.6h0M478.5 134.6h0M477.9 139.3h0M477.2 137.3h0M479.1 136.5h0M477.4 136.6h0M479.5 135h0M478.5 140.5h0M477.8 138.6h0M478.2 137.9h0M477.7 138.9h0M479 133.4h0M478.1 139.9h0M478.9 134.9h0M476.9 146.2h0M477 145.7h0M479.2 141.8h0M476.5 144h0M476.7 143.8h0M478 143.2h0M477.4 141.3h0M475.6 145.6h0M478 143.4h0M477.3 141.2h0M476.9 141.5h0M477.4 144.9h0M472.9 149.5h0M476.3 146.3h0M472.3 148.2h0M472.2 149.9h0M475 145.5h0M474 147.5h0M472 149.4h0M471.5 147.7h0M475.5 146.2h0M474.9 147.5h0M474.2 146.6h0M472.7 149.1h0M473.8 149.4h0M471.1 149.3h0M471.4 148.5h0M467.5 149.6h0M466.3 151.9h0M469 150.2h0M471.8 150.3h0M467.7 151h0M465.6 150.6h0M465.8 151h0M471.6 150.5h0M467.5 151.4h0M466.9 151.2h0M465.1 150.8h0M467.1 151.5h0M464.4 151h0M463.8 151h0M457.3 151.8h0M464.3 150.7h0M459.4 151h0M460.1 150.4h0M463.9 149.7h0M463.3 151.7h0M459.2 149.9h0M461 151.7h0M458.7 150.8h0M465.6 151.1h0M465.4 151.6h0M459.9 151.6h0M455 149.2h0M456.5 149.7h0M456.1 151.1h0M455.1 150.1h0M453.6 148.6h0M455.7 150.9h0M457.1 151.2h0M457.9 151.5h0M453.1 149.7h0M456.7 149.8h0M454.4 150.4h0M456.9 150.4h0M451.8 146.9h0M449.9 144.8h0M450.9 145h0M451.6 143.6h0M451.5 146.3h0M453 148.7h0M453.5 148.7h0M451.1 145h0M452.8 149.8h0M451.5 144.6h0M451.5 146h0M450.8 137.6h0M451.7 142.2h0M450.4 141.4h0M451.8 139.8h0M450.5 141.3h0M450.4 142.9h0M451 141.4h0M451.3 138.6h0M451.8 141.7h0M449.6 144.6h0M450.1 142.1h0M449.3 144.1h0M450.6 142.5h0M450.7 137.8h0M451.2 131.9h0M453 133.9h0M450.9 136.1h0M450.9 132.2h0M452.4 135.7h0M452.1 132.7h0M451 135.7h0M452.4 134.8h0M450.7 136.4h0M453 133.5h0M452.6 132.5h0M451.9 132.6h0" stroke="#4c9e40" stroke-width="1.9" stroke-linecap="round" fill="none"/>
<path d="M467.5 118h0M451 145h0M450 139h0M477 149h0M481 141h0M467 153.5h0M463 119h0M458 122h0M449.5 148h0" stroke="#4c9e40" stroke-width="1.9" stroke-linecap="round" fill="none"/>
<path d="M459.5 154.5h0" stroke="#cbcbcb" stroke-width="1.8" stroke-linecap="round" fill="none"/>
<path d="M449 147.5h0M448 146h0" stroke="#c49c94" stroke-width="1.8" stroke-linecap="round" fill="none"/>
<path d="M480 150h0" stroke="#f5b080" stroke-width="1.6" stroke-linecap="round" fill="none"/>
<polygon points="498.5,121 498.8,121.7 498.8,122.5 498.5,123.2 498,123.8 497.3,124.2 496.7,124.5 496,124.8 495.4,125.2 494.8,125.6 494,125.8 493.2,125.7 492.5,125.3 492,124.7 491.7,124 491.4,123.4 491.2,123 490.9,122.5 490.4,122.1 489.9,121.6 489.5,121 489.3,120.3 489.3,119.5 489.5,118.8 490,118.2 490.5,117.7 491.2,117.2 491.8,116.9 492.5,116.6 493.2,116.4 494,116.4 494.7,116.7 495.3,117.1 495.8,117.6 496.2,118 496.6,118.5 497,118.9 497.4,119.3 497.8,119.8 498.2,120.4" fill="#ff9e9b"/>
<path d="M490.1 122.5h0M489.9 121.8h0M498.3 121.7h0M491.2 123.5h0M492.8 126h0M495.6 125h0M493.3 116.4h0M497.2 119.1h0M492.3 114.7h0M497.9 123.7h0M498.3 120.8h0M490.8 122.7h0M497.1 119.4h0M488.9 119.5h0M496.6 117.1h0M498.8 125.3h0M498.4 124.4h0M489.4 118.8h0M495.5 124.9h0M489.2 121h0M496.8 119.3h0M491 122.9h0M498.8 121.3h0M497 124.5h0M491 122.7h0M497.1 118.5h0M491.5 117.2h0M498.2 119.4h0M497.3 124.2h0M495.6 116.9h0M494.6 116.2h0M497.4 125h0M491.7 123.9h0M492 126.9h0M496.4 118.4h0M499.4 121.7h0M492.1 124.8h0M491.2 116.3h0M491.2 124.3h0" stroke="#ff9e9b" stroke-width="1.7" stroke-linecap="round" fill="none"/>
<path d="M487 124.5h0M488 126h0" stroke="#4c9e40" stroke-width="1.8" stroke-linecap="round" fill="none"/>
<path d="M489 126h0" stroke="#ff9e9b" stroke-width="1.8" stroke-linecap="round" fill="none"/>
<polygon points="529.6,83 529.6,84.1 529.7,85.2 529.6,86.5 529.2,87.6 528.5,88.5 527.6,89 526.7,89.4 525.8,89.7 524.9,89.9 524,89.9 523.1,89.7 522.3,89.5 521.4,89.2 520.5,88.9 519.6,88.3 519,87.5 518.6,86.3 518.5,85.2 518.4,84.1 518.2,83 517.9,81.8 517.9,80.6 518.2,79.4 518.9,78.5 519.8,77.9 520.6,77.3 521.4,76.7 522.2,76.1 523,75.6 524,75.7 524.9,76.2 525.7,76.8 526.4,77.3 527.3,77.5 528.3,77.7 529.3,78.3 529.8,79.4 529.9,80.6 529.8,81.9" fill="#2f74b5"/>
<path d="M530.5 79.8h0M530.4 83.4h0M529.7 86.6h0M520 88.1h0M518.7 84.9h0M524.1 75.6h0M521.9 76.5h0M528.6 89.1h0M529.8 79.1h0M520.1 77h0M529.3 87h0M519.6 89.7h0M523.4 91.1h0M525.2 90.5h0M524.7 75.7h0M529.6 79.2h0M529.7 80.8h0M528.1 77.8h0M529.3 85.8h0M526.3 89.5h0M530 84.8h0M517.3 84.1h0M521 91.1h0M522 90h0M526.1 77.3h0M526.5 90.5h0M520.7 91.4h0M528.1 88.3h0M522.6 89.7h0M517.7 79.3h0M518.7 89.4h0M530.5 80.5h0M521.7 77h0M523.2 91.9h0M528.2 75.2h0M527.9 89.7h0M522.4 89.6h0M519.5 77.7h0M519.9 89.5h0M531.1 81.6h0M530.1 87.2h0M520.1 91.4h0M524.2 90.5h0M522.9 89.9h0M525.1 75.9h0M522.9 90.1h0M522.7 89.4h0M529.6 80.1h0M519.7 88.5h0M517.6 81.9h0M527.2 76.9h0M529.8 84.3h0M525.2 90.8h0M521.9 89h0M515.4 80.1h0M527.6 77.2h0M524.1 89.7h0M529.4 89.3h0M519.9 88.9h0" stroke="#2f74b5" stroke-width="1.7" stroke-linecap="round" fill="none"/>
<polygon points="525.7,164.5 525.2,165.9 524.6,167.1 524,168.3 523.3,169.4 522.5,170.5 521.5,171.5 520.3,172.3 518.9,172.9 517.5,173.4 516,173.7 514.4,173.8 512.8,173.6 511.3,173.2 509.8,172.4 508.6,171.4 507.6,170.2 506.9,168.8 506.5,167.4 506.3,165.9 506.4,164.5 506.7,163.1 507.1,161.8 507.7,160.5 508.4,159.4 509.5,158.4 510.6,157.6 511.9,157 513.2,156.4 514.5,155.8 516,155.4 517.6,155.1 519.2,155.3 520.7,155.8 522.1,156.6 523.3,157.6 524.4,158.8 525.3,160.1 525.8,161.5 526,163" fill="#a560c7"/>
<path d="M523.3 168.7h0M516.4 172.7h0M504.3 164.6h0M507.7 161h0M522.6 170.2h0M509 158.7h0M513.2 155.8h0M523.9 159.1h0M511.6 172.4h0M513.2 156.1h0M506.2 166h0M520.9 155.8h0M524 168.8h0M517.3 155.9h0M525.3 159h0M517.7 172.6h0M523.3 156.5h0M511.9 174.3h0M506.4 160.8h0M510 156.6h0M523.9 168.3h0M517.2 155.4h0M517.3 173.8h0M506.8 165.7h0M515.5 173.1h0M523.8 157.3h0M521.8 170.5h0M519.8 173.4h0M509.8 157.8h0M525 167.5h0M513.7 174.3h0M507 162.6h0M502.7 166.6h0M522.5 170.6h0M505.8 165.1h0M516.2 173.4h0M516.9 174.2h0M507.6 172.1h0M525.4 162.9h0M514.6 154.9h0M522.4 157.3h0M518.7 172h0M511.7 173.4h0M521.3 155.2h0M524.1 168.2h0M514.9 174.1h0M523.4 171.1h0M524.3 158.1h0M509.4 175.3h0M508.6 171.8h0M526.8 162.6h0M512.5 156.7h0M506.5 166h0M506.1 157.1h0M506.7 164.5h0M513.4 155.1h0M511.9 173.8h0M524 166.9h0M511.8 157.3h0M522.6 171h0M525.3 159.1h0M507.6 160.2h0M521.6 155.4h0M506.1 160.8h0M507.4 159.2h0M505.9 166h0M521.1 172.2h0M506 167.7h0M525.6 160.1h0M525.6 167h0M506.6 160h0M521.5 155.4h0M505.6 168.8h0M522 156.1h0M504.2 172.3h0M507.2 162.5h0M526.1 163.7h0M523.7 169.2h0M507.2 159.8h0M505.9 165.7h0M514.9 155h0M506.3 165.8h0M525.6 163.8h0" stroke="#a560c7" stroke-width="1.7" stroke-linecap="round" fill="none"/>
<path d="M501 168.5h0" stroke="#b9e08e" stroke-width="1.8" stroke-linecap="round" fill="none"/>
<polygon points="423.7,219 429.2,216.7 433,214.2 436.1,212 438.2,208.7 440,205.2 441.9,207.7 442.7,211.2 446.2,213.4 448.9,215.5 450.8,219 453.8,221.8 450.9,224 448.1,226.2 446.9,229.5 442.8,231.8 439.1,231.3 435.5,228.9 432,225.3 428.2,222.2" fill="#fbc185"/>
<path d="M426.1 220.8h0M425.8 220.2h0M427 222h0M426.3 221.7h0M423.2 219.1h0M427.3 222.3h0M425.8 220.5h0M427.3 221.5h0M428 221.3h0M428.5 218h0M426.3 218.3h0M428.5 217.2h0M427.2 218.5h0M427.1 216.7h0M424.2 218.5h0M429 216.2h0M428.6 216.1h0M425.5 218.8h0M427.5 216.7h0M430.5 214.6h0M432.3 215.3h0M431.8 215.2h0M432.9 215.3h0M431.1 216.2h0M431.8 214.4h0M431.6 214.7h0M430.3 216.3h0M435.7 212h0M433.8 212.6h0M432.4 213.9h0M435 211.4h0M434.3 212.4h0M434.7 212.4h0M433.6 214.3h0M438 210.1h0M436.8 210.9h0M436.5 210.6h0M438 210.4h0M438.2 208.9h0M437.7 211.1h0M437.7 209.2h0M439 205.8h0M439.5 207.1h0M439.5 208.5h0M438.5 209.1h0M439.4 204.9h0M439.8 206.2h0M439.1 206.3h0M441 208.6h0M442.2 208.1h0M442.2 206.5h0M441.4 206.9h0M440.7 206.1h0M443.4 210.2h0M442.6 207.7h0M442 207.5h0M442.5 208.7h0M442.8 209.8h0M442.2 210.5h0M446 212.2h0M443.7 211.7h0M445.9 213.4h0M444.9 211.5h0M442.9 212.5h0M442.4 210.6h0M444.6 212.2h0M448.6 214.1h0M447.2 214.3h0M447.7 214h0M448 213.6h0M449 214.6h0M448.1 213.8h0M449.3 217.1h0M449 217.3h0M449.2 218h0M449.6 217.5h0M450.1 217.9h0M450.4 217.4h0M448.3 215.4h0M452.8 220h0M452.2 220.2h0M452.2 219.9h0M452.4 220.1h0M451.3 220.6h0M451.6 219.6h0M451.8 220h0M451.8 223.9h0M452.7 221.1h0M452.2 223.5h0M453.1 222.3h0M452.6 221.9h0M450.9 224.2h0M448.3 225h0M447.6 225.7h0M451.1 225.3h0M449.5 225.3h0M448.8 226h0M448.4 226.1h0M448.3 227.2h0M447.4 227.2h0M446.4 227.5h0M448.2 227.4h0M448 228.7h0M447.6 228.8h0M444.6 230.4h0M445.9 231.3h0M442.7 231.4h0M443.1 231.5h0M444.6 229.7h0M443.9 230.6h0M445.7 230.5h0M445.7 229.6h0M438.4 231.2h0M440.5 231.8h0M440.5 230.8h0M441.4 231.1h0M439.8 231.6h0M441 231.5h0M438.4 230.9h0M436.2 230.6h0M436.3 228.7h0M436 230.4h0M436.8 230.4h0M439.6 231.3h0M437.7 228.9h0M432 225.5h0M434.1 228.6h0M432.8 226.5h0M435.4 227.7h0M432.7 225.6h0M433.2 225.3h0M434.6 226.1h0M435.6 229.4h0M434.1 226.9h0M431.3 224.8h0M430.4 225.1h0M431 225.4h0M432.4 225.8h0M431.4 225h0M428.3 221.8h0M429.4 223.7h0M429.9 222.7h0" stroke="#fbc185" stroke-width="1.8" stroke-linecap="round" fill="none"/>
<polygon points="448.9,221 448.7,222.2 448.3,223.2 447.8,224.3 447.2,225.3 446.5,226.2 445.6,227 444.6,227.6 443.4,228 442.2,228.3 441,228.4 439.8,228.3 438.5,228.2 437.3,227.8 436.2,227.3 435.1,226.5 434.3,225.6 433.7,224.5 433.3,223.4 433.1,222.2 433.2,221 433.4,219.9 433.9,218.8 434.4,217.8 435,216.9 435.8,216.1 436.6,215.3 437.5,214.6 438.6,213.9 439.7,213.4 441,213.1 442.3,213 443.7,213.3 444.8,214 445.8,214.8 446.5,215.8 447.2,216.8 447.8,217.7 448.4,218.7 448.8,219.8" fill="#fbc185"/>
<path d="M436.7 214.6h0M443.5 213.5h0M437.8 228.2h0M446.3 225.9h0M449.7 220.7h0M440.2 213.2h0M442.8 228.2h0M432.5 221h0M446.1 227.4h0M444.9 227.5h0M434.2 219.3h0M435.1 217h0M445.5 214.6h0M444.3 228.9h0M436.1 227.6h0" stroke="#fbc185" stroke-width="1.7" stroke-linecap="round" fill="none"/>
<path d="M423 219h0M420.5 219h0M442 203.5h0M440 202.5h0M450 225h0M456.5 222h0M434.5 230.5h0M437 232.5h0M446 233.5h0" stroke="#fbc185" stroke-width="1.8" stroke-linecap="round" fill="none"/>
<path d="M422 208h0M424 208h0" stroke="#cbcbcb" stroke-width="1.6" stroke-linecap="round" fill="none"/>
<path d="M461.5 208.5h0M462.5 207h0" stroke="#bfe7ee" stroke-width="2" stroke-linecap="round" fill="none"/>
<path d="M456 224h0M458 223.5h0M460 223h0M455 225h0" stroke="#bfe7ee" stroke-width="2" stroke-linecap="round" fill="none"/>
<polygon points="371,243.5 371.1,244 371,244.5 370.9,245 370.7,245.4 370.3,245.8 369.9,245.9 369.5,245.9 369.1,245.9 368.8,246 368.5,246.2 368.1,246.5 367.7,246.6 367.3,246.5 366.9,246.1 366.7,245.7 366.6,245.2 366.4,244.8 366.3,244.4 366.2,244 366.2,243.5 366.3,243.1 366.4,242.7 366.5,242.3 366.6,241.8 366.8,241.4 367,240.9 367.3,240.6 367.7,240.4 368.1,240.3 368.5,240.3 368.9,240.3 369.3,240.5 369.6,240.9 369.8,241.3 370,241.7 370.1,242 370.4,242.3 370.7,242.6 370.9,243" fill="#e6e29c"/>
<path d="M368.1 247.4h0M367.5 240.2h0M370.1 246.2h0M366.4 243.9h0M366.2 243.5h0M370.9 242.6h0M367.4 246.1h0M365.2 243.1h0M370.6 242.5h0M369.2 245.9h0M366.9 241h0M368.8 247.4h0M368.8 240.2h0M371.1 244.1h0M367.7 239.9h0M369.9 245.7h0M370.4 245.5h0M370.4 245.6h0M366.2 244.1h0M367.6 247.3h0M370.2 242.2h0M369.9 246.1h0M366.6 246.1h0M368.7 245.7h0" stroke="#e6e29c" stroke-width="1.7" stroke-linecap="round" fill="none"/>
<polygon points="370.4,253 370.5,253.7 370.5,254.5 370.3,255.2 370,255.9 369.6,256.5 369.1,257 368.5,257.5 367.9,257.8 367.2,257.9 366.5,257.9 365.8,257.7 365.2,257.4 364.7,257.1 364.1,256.8 363.5,256.4 363,255.9 362.6,255.3 362.3,254.5 362.2,253.8 362.2,253 362.3,252.2 362.5,251.5 362.8,250.9 363.1,250.2 363.5,249.6 363.9,248.9 364.4,248.4 365.1,248.2 365.8,248.3 366.5,248.5 367.1,248.7 367.7,248.8 368.4,248.8 369.2,248.9 369.8,249.2 370.3,249.9 370.5,250.7 370.5,251.5 370.4,252.3" fill="#e6e29c"/>
<path d="M368.4 258h0M364.2 256.7h0M370.1 254.6h0M363.2 255.7h0M363.1 250.3h0M371.1 252.2h0M371 253.4h0M364.5 258.4h0M362.2 253.2h0M370.4 253.8h0M371.4 253.4h0M366.7 258.9h0M369 248.9h0M362.2 252.8h0M368.7 249.2h0M368.3 257.2h0M363 249.7h0M368.6 257.6h0M364 257.3h0M370.8 254.6h0M362.1 253.8h0M370.7 251.1h0M369 256.5h0M364 256.6h0M361.8 251.7h0M369.2 257.6h0M367.3 248.9h0M361.8 254.6h0M365.4 257.7h0M371.6 251.7h0M362.4 256.1h0M367.9 258h0M361.8 250.3h0M364.1 256.2h0M370.6 250.3h0M368.1 248.6h0M364.8 256.9h0M370.2 255.2h0M366.6 248.8h0M370.7 253.1h0" stroke="#e6e29c" stroke-width="1.7" stroke-linecap="round" fill="none"/>
<path d="M409 57h0" stroke="#db7cc0" stroke-width="2" stroke-linecap="round" fill="none"/>
<path d="M352 64h0" stroke="#db7cc0" stroke-width="2" stroke-linecap="round" fill="none"/>
<path d="M374 72h0" stroke="#db7cc0" stroke-width="2" stroke-linecap="round" fill="none"/>
<path d="M386 68h0" stroke="#db7cc0" stroke-width="2" stroke-linecap="round" fill="none"/>
<path d="M378 96h0" stroke="#db7cc0" stroke-width="2" stroke-linecap="round" fill="none"/>
<path d="M384 99h0" stroke="#db7cc0" stroke-width="2" stroke-linecap="round" fill="none"/>
<path d="M381 108h0" stroke="#f6b9d6" stroke-width="2" stroke-linecap="round" fill="none"/>
<path d="M378 128h0" stroke="#db7cc0" stroke-width="2" stroke-linecap="round" fill="none"/>
<path d="M383 122h0" stroke="#db7cc0" stroke-width="2" stroke-linecap="round" fill="none"/>
<path d="M386 119h0" stroke="#cbcbcb" stroke-width="2" stroke-linecap="round" fill="none"/>
<path d="M371 118h0" stroke="#db7cc0" stroke-width="2" stroke-linecap="round" fill="none"/>
<path d="M383 135h0" stroke="#db7cc0" stroke-width="2" stroke-linecap="round" fill="none"/>
<path d="M388 147h0" stroke="#4c9e40" stroke-width="2" stroke-linecap="round" fill="none"/>
<path d="M386 140h0" stroke="#c49c94" stroke-width="2" stroke-linecap="round" fill="none"/>
<path d="M381 135h0" stroke="#cbcbcb" stroke-width="2" stroke-linecap="round" fill="none"/>
<path d="M402 115h0" stroke="#b9e08e" stroke-width="2" stroke-linecap="round" fill="none"/>
<path d="M412 50h0" stroke="#c3d3ee" stroke-width="2" stroke-linecap="round" fill="none"/>
<path d="M403 69h0" stroke="#db7cc0" stroke-width="2" stroke-linecap="round" fill="none"/>
<path d="M395 132h0" stroke="#4c9e40" stroke-width="2" stroke-linecap="round" fill="none"/>
<path d="M375 86h0" stroke="#db7cc0" stroke-width="2" stroke-linecap="round" fill="none"/>
<path d="M380 113h0" stroke="#cbcbcb" stroke-width="2" stroke-linecap="round" fill="none"/>
<path d="M371 95h0" stroke="#f6b9d6" stroke-width="2" stroke-linecap="round" fill="none"/>
<text x="460.6" y="18.4" text-anchor="middle">11</text>
<text x="434.4" y="37.9" text-anchor="middle">6</text>
<text x="350.8" y="82.5" text-anchor="middle">5</text>
<text x="378.6" y="84.4" text-anchor="middle">14</text>
<text x="359.6" y="110.2" text-anchor="middle">1</text>
<text x="327.2" y="136.1" text-anchor="middle">7</text>
<text x="361.8" y="154.2" text-anchor="middle">20</text>
<text x="418.5" y="107.6" text-anchor="middle">17</text>
<text x="415.9" y="152" text-anchor="middle">10</text>
<text x="465.3" y="96.3" text-anchor="middle">15</text>
<text x="469.3" y="141" text-anchor="middle">16</text>
<text x="498.5" y="125.2" text-anchor="middle">2</text>
<text x="526.7" y="96.2" text-anchor="middle">8</text>
<text x="515.5" y="167.7" text-anchor="middle">19</text>
<text x="332.4" y="190.5" text-anchor="middle">12</text>
<text x="375" y="194" text-anchor="middle">18</text>
<text x="407.6" y="208.3" text-anchor="middle">13</text>
<text x="445.4" y="224.2" text-anchor="middle">3</text>
<text x="465.3" y="219.2" text-anchor="middle">9</text>
<text x="368.5" y="259" text-anchor="middle">4</text>
<text x="548" y="14.3">Clusters</text>
<rect x="549" y="16.4" width="11.2" height="11.5" fill="#ef7d12"/>
<text x="563.4" y="26.3">Cluster 1</text>
<rect x="549" y="27.6" width="11.2" height="11.5" fill="#ff9e9b"/>
<text x="563.4" y="37.5">Cluster 2</text>
<rect x="549" y="38.8" width="11.2" height="11.5" fill="#fbc185"/>
<text x="563.4" y="48.7">Cluster 3</text>
<rect x="549" y="50.1" width="11.2" height="11.5" fill="#e6e29c"/>
<text x="563.4" y="60">Cluster 4</text>
<rect x="549" y="61.3" width="11.2" height="11.5" fill="#f6b9d6"/>
<text x="563.4" y="71.2">Cluster 5</text>
<rect x="549" y="72.5" width="11.2" height="11.5" fill="#c3d3ee"/>
<text x="563.4" y="82.4">Cluster 6</text>
<rect x="549" y="83.7" width="11.2" height="11.5" fill="#848484"/>
<text x="563.4" y="93.6">Cluster 7</text>
<rect x="549" y="94.9" width="11.2" height="11.5" fill="#2f74b5"/>
<text x="563.4" y="104.8">Cluster 8</text>
<rect x="549" y="106.2" width="11.2" height="11.5" fill="#bfe7ee"/>
<text x="563.4" y="116.1">Cluster 9</text>
<rect x="549" y="117.4" width="11.2" height="11.5" fill="#c49c94"/>
<text x="563.4" y="127.3">Cluster 10</text>
<rect x="549" y="128.6" width="11.2" height="11.5" fill="#bfb52a"/>
<text x="563.4" y="138.5">Cluster 11</text>
<rect x="549" y="139.8" width="11.2" height="11.5" fill="#8a5548"/>
<text x="563.4" y="149.7">Cluster 12</text>
<rect x="549" y="151" width="11.2" height="11.5" fill="#d03326"/>
<text x="563.4" y="160.9">Cluster 13</text>
<rect x="549" y="162.3" width="11.2" height="11.5" fill="#db7cc0"/>
<text x="563.4" y="172.2">Cluster 14</text>
<rect x="549" y="173.5" width="11.2" height="11.5" fill="#5dc6d7"/>
<text x="563.4" y="183.4">Cluster 15</text>
<rect x="549" y="184.7" width="11.2" height="11.5" fill="#4c9e40"/>
<text x="563.4" y="194.6">Cluster 16</text>
<rect x="549" y="195.9" width="11.2" height="11.5" fill="#d9c2ea"/>
<text x="563.4" y="205.8">Cluster 17</text>
<rect x="549" y="207.1" width="11.2" height="11.5" fill="#cbcbcb"/>
<text x="563.4" y="217">Cluster 18</text>
<rect x="549" y="218.4" width="11.2" height="11.5" fill="#a560c7"/>
<text x="563.4" y="228.3">Cluster 19</text>
<rect x="549" y="229.6" width="11.2" height="11.5" fill="#b9e08e"/>
<text x="563.4" y="239.5">Cluster 20</text>
<text x="0.3" y="284" class="pl">c</text>
<polygon points="125.1,284 125.2,284.3 125,284.6 124.7,284.8 124.3,285 123.9,285.1 123.6,285.1 123.3,285.2 123.1,285.4 122.8,285.6 122.5,285.7 122.1,285.7 121.8,285.6 121.5,285.4 121.3,285.2 121,285.1 120.7,285 120.4,284.8 120.2,284.6 120,284.3 120,284 120.1,283.7 120.3,283.5 120.4,283.2 120.6,283 120.8,282.8 121.1,282.6 121.5,282.5 121.9,282.5 122.2,282.6 122.5,282.6 122.8,282.6 123.1,282.5 123.5,282.5 123.8,282.6 124.1,282.8 124.3,283 124.5,283.2 124.7,283.5 124.9,283.7" fill="#b8b8b8"/>
<path d="M120.6 285h0M120.8 282.5h0M122.2 285.8h0M121.6 285.2h0M120.5 283.1h0M124.8 284.9h0M124.7 283.7h0M121.6 282.2h0M122 282.7h0M123.5 282.3h0M119.8 285.2h0" stroke="#b8b8b8" stroke-width="1.5" stroke-linecap="round" fill="none"/>
<polygon points="137.6,327.2 137.6,327.6 137.7,328 137.7,328.5 137.6,329 137.4,329.4 137.1,329.6 136.7,329.7 136.4,329.7 136.1,329.7 135.8,329.8 135.5,329.9 135.2,329.9 134.9,329.7 134.6,329.4 134.4,329.1 134.1,328.8 133.9,328.5 133.7,328.1 133.6,327.7 133.7,327.2 133.9,326.8 134,326.4 134.1,326 134.1,325.6 134.3,325.1 134.5,324.8 134.9,324.7 135.2,324.7 135.5,324.7 135.8,324.6 136.1,324.5 136.5,324.4 136.8,324.5 137.1,324.7 137.3,325.1 137.5,325.5 137.6,325.9 137.7,326.4 137.7,326.8" fill="#b8b8b8"/>
<path d="M134.3 328.4h0M137.3 328.1h0M136.7 329.7h0M137.8 329.3h0M134.4 325.1h0M137.6 327.5h0M134.6 325.8h0M134.3 325.1h0M137.7 325.2h0M134.7 328.8h0M134.3 328.8h0M135.9 324.6h0M136.1 329.1h0" stroke="#b8b8b8" stroke-width="1.5" stroke-linecap="round" fill="none"/>
<path d="M134.7 335.3h0" stroke="#fdc57f" stroke-width="1.8" stroke-linecap="round" fill="none"/>
<polygon points="111.6,303 111.2,304.2 110.5,305.2 109.8,306.1 109.1,306.9 108.5,307.8 107.9,308.7 107.2,309.7 106.3,310.5 105.2,311 104,311 102.8,310.7 101.8,310.1 100.9,309.5 100,308.9 99,308.2 98.1,307.5 97.2,306.6 96.6,305.5 96.2,304.3 96.1,303 96.3,301.7 96.7,300.5 97.4,299.5 98.2,298.6 99.1,297.9 100.1,297.4 101.1,297 102,296.6 103,296.3 104,295.9 105.1,295.7 106.3,295.7 107.4,295.9 108.6,296.4 109.6,297.1 110.4,298.1 111.1,299.2 111.5,300.4 111.7,301.7" fill="#d3ea8c"/>
<path d="M95.9 304.3h0M112.2 300.4h0M96.3 300h0M97 306.1h0M108.8 296.1h0M108.1 309.7h0M96.2 302.3h0M103.3 310.9h0M111.1 304h0M96.1 303.4h0M111.9 303h0M110.9 299.5h0M98 306.9h0M105.2 296h0M110.8 298.8h0M108.8 307.7h0M105.8 310.5h0M100.2 295.9h0M103.7 311.4h0M97.9 308h0M96.3 303.9h0M103 296.4h0M105.6 294.5h0M95.7 302.5h0M100.9 297.3h0M110.4 305.7h0M102.4 296.4h0M107.1 310.5h0M107 309.4h0M96.9 300.8h0M111.3 298.2h0M109.9 309.1h0M96 303.2h0M104.1 296.6h0M95.5 304.2h0M110.1 305.5h0M108.9 296h0M112 304.6h0M95.9 303.1h0M108 310.2h0M98 300h0M100.1 296.7h0M107.4 309.8h0M100.2 297.4h0M108.1 309.5h0M97.5 308.3h0M107.5 312.1h0M107.8 312.2h0M101.3 296.1h0M100.8 296.4h0M95.6 302.6h0M105.2 296.1h0M95.5 302.3h0M102 296.9h0M103.3 296.8h0M111.3 304.4h0M111.7 299.9h0M97.5 307.5h0M109.9 307.8h0M107 310.8h0M96 304.6h0M102.8 310.9h0M96.3 301.6h0M106.7 310.5h0M102.3 310.5h0M100.1 297.1h0" stroke="#d3ea8c" stroke-width="1.7" stroke-linecap="round" fill="none"/>
<path d="M107.1 300.1h0M102.3 299.2h0M105.7 302.8h0M103.3 303.4h0M104.8 298.6h0M104.8 300.6h0M102.2 303.1h0M102.8 298.1h0M101.2 303.5h0M105.4 301.4h0M104.5 303.5h0M102.4 298.8h0" stroke="#bdbdbd" stroke-width="1.3" stroke-linecap="round" fill="none"/>
<path d="M110.5 312.8h0" stroke="#d42a2a" stroke-width="1.8" stroke-linecap="round" fill="none"/>
<polygon points="173.1,337.5 173.1,338.3 173.1,339.1 173.1,339.9 172.8,340.7 172.4,341.4 171.7,341.9 171.1,342.2 170.4,342.4 169.7,342.6 169,342.7 168.3,342.6 167.6,342.4 167,342 166.5,341.6 165.9,341.1 165.4,340.5 165,339.9 164.7,339.1 164.5,338.3 164.5,337.5 164.7,336.7 164.9,335.9 165.1,335.2 165.4,334.5 165.8,333.8 166.3,333.1 166.8,332.6 167.5,332.2 168.3,332.2 169,332.3 169.7,332.6 170.3,332.9 170.9,333.2 171.6,333.4 172.3,333.7 172.9,334.2 173.2,335 173.3,335.9 173.2,336.7" fill="#e1c1ef"/>
<path d="M174 335.3h0M173 340.4h0M165.1 340.2h0M168.2 343.1h0M171.4 332.9h0M164.5 335.7h0M173.3 338h0M166.2 333.9h0M172.1 331.9h0M164.8 335h0M167.3 332.2h0M169.6 343h0M164.9 337.1h0M171.3 341.6h0M168.8 342.4h0M164 336.9h0M167.7 332.3h0M165.6 334.7h0M164.2 340.5h0M162.9 339.6h0M173.9 336.1h0M171.3 332.8h0M166.2 333.7h0M172.9 334.4h0M172.5 333.8h0M173.3 341.1h0M173 333.8h0M165.2 340.1h0M170.1 332.9h0M172.1 332.9h0M167 342.1h0M171.4 342.6h0M167.3 331.7h0M164.1 338.8h0M173 340.3h0M170.6 332.8h0M171.7 341.8h0M168.7 342.2h0M166.8 332.7h0M164 338.7h0M173.4 338.8h0M169.5 332.7h0M168.7 332.9h0" stroke="#e1c1ef" stroke-width="1.7" stroke-linecap="round" fill="none"/>
<polygon points="150.6,366 150.3,366.6 150,367.1 149.7,367.6 149.4,368 149.2,368.4 148.9,368.9 148.6,369.5 148.1,370 147.6,370.4 147,370.5 146.4,370.3 145.9,369.9 145.4,369.5 145,369.1 144.5,368.8 144,368.4 143.6,367.9 143.4,367.3 143.4,366.6 143.6,366 143.8,365.4 143.9,364.9 144,364.3 144.2,363.7 144.5,363.2 144.9,362.8 145.4,362.5 145.9,362.3 146.5,362.2 147,362.1 147.5,362.1 148.1,362.2 148.6,362.4 149.1,362.7 149.6,363 150.1,363.4 150.5,364 150.8,364.6 150.8,365.3" fill="#b4581e"/>
<path d="M150.2 362.8h0M150.8 366.6h0M143.5 367.2h0M149.3 369.1h0M149.2 363.1h0M149.6 368.8h0M143.6 367.8h0M144.4 368.5h0M145.8 371.1h0M144.5 363.7h0M148.7 368.7h0M144.3 365h0M144 366.3h0M148 361.9h0M152.1 363.9h0M150.1 367.6h0M143.5 366.1h0M148.8 368.3h0M149.3 368.3h0M148.9 362.6h0M150.6 363.9h0M149 368.5h0M147.2 370.5h0M143.9 368.4h0M151.3 365.5h0M150.2 366.5h0M149.1 369h0M149.2 368.8h0M143 364.4h0M150.2 363.9h0M147.9 371h0M149.4 368.4h0M148.4 371.2h0" stroke="#b4581e" stroke-width="1.7" stroke-linecap="round" fill="none"/>
<path d="M141.2 370h0" stroke="#fdc57f" stroke-width="1.8" stroke-linecap="round" fill="none"/>
<path d="M142.8 370.8h0" stroke="#2f79b8" stroke-width="1.8" stroke-linecap="round" fill="none"/>
<polygon points="168.5,398 168.4,399 168.2,400 167.9,400.9 167.4,401.9 166.7,402.7 165.8,403.4 164.9,404 163.8,404.4 162.7,404.6 161.5,404.6 160.4,404.4 159.4,403.9 158.6,403.2 157.9,402.5 157.2,401.9 156.4,401.3 155.7,400.7 154.9,399.9 154.4,399 154.2,398 154.3,397 154.7,396 155.3,395.1 155.9,394.3 156.5,393.5 157.2,392.7 158.1,391.9 159.1,391.3 160.3,391.1 161.5,391.2 162.6,391.7 163.5,392.4 164.3,393 165.1,393.5 165.9,394 166.8,394.5 167.6,395.2 168.1,396 168.4,397" fill="#fba6a5"/>
<path d="M167.6 396.3h0M158.6 391.5h0M167 394.1h0M166.1 394.1h0M157 392h0M159.6 405.4h0M154.1 397.6h0M154.3 397.9h0M166.3 403.1h0M156.2 400.9h0M155.3 394.1h0M163.5 392.5h0M169.1 400.4h0M166.2 394h0M162 391.2h0M159.2 390.5h0M159.1 391.5h0M166.1 403.3h0M167.1 400.5h0M157.5 405.2h0M167.1 403.3h0M154.9 393.7h0M157.1 402.3h0M157.3 403h0M169.4 398.5h0M157.7 392.1h0M155.6 391.9h0M155.3 401.3h0M154.7 395.3h0M167.9 400.7h0M162.3 389.4h0M168.1 401.9h0M159 391.6h0M153.5 397.9h0M166.6 402.7h0M165.9 402.7h0M156.2 392.9h0M158.5 391.4h0M164.5 403.3h0M164.1 404.1h0M156.7 402.4h0M156 401.7h0M165.2 405.5h0M156.1 394.7h0M167.1 403.2h0M158.3 402.4h0M166.9 394.9h0M155.5 395.3h0M156.3 402.4h0M155.9 394h0M153.9 396.6h0M157.6 392.9h0M153.8 398.4h0M160.3 404.5h0M155 400.3h0M161.7 391.7h0M158.7 391.5h0M159.7 391.7h0M168.4 396.2h0" stroke="#fba6a5" stroke-width="1.7" stroke-linecap="round" fill="none"/>
<path d="M166.2 394.4h0M169.5 393.1h0M167.6 395.4h0M169.4 396.5h0M170.2 392.8h0M169.5 398h0M168.7 393.7h0M165.8 395.6h0M170.3 393.4h0M170.9 395.6h0M170.4 395.3h0M169.1 398.5h0M170.9 395.8h0M168 394.4h0M168.6 398h0M168.5 392.4h0" stroke="#bdbdbd" stroke-width="1.5" stroke-linecap="round" fill="none"/>
<path d="M152.2 401h0" stroke="#e1c1ef" stroke-width="1.8" stroke-linecap="round" fill="none"/>
<polygon points="135.4,370.5 135.5,371.7 135.2,372.9 134.8,373.9 134.4,374.8 133.9,375.5 133.3,376.1 132.6,376.4 132,376.4 131.3,376.2 130.7,375.7 130.2,374.9 129.7,373.9 129.3,372.9 128.9,371.8 128.7,370.5 128.8,369.1 129.3,368 129.9,367.3 130.5,366.8 131,366.2 131.4,365.6 132,364.9 132.7,364.3 133.4,364 134.2,364.4 134.7,365.5 135,366.9 135.1,368.2 135.2,369.3" fill="#2f79b8"/>
<path d="M135.3 372.1h0M131.5 370.5h0M135.4 368.2h0M132.4 365.2h0M129.2 367.5h0M135.2 369.4h0M128.3 370.4h0M130.5 372.1h0M133.4 371.4h0M131.4 374.3h0M132 376.5h0M132.1 364.1h0M134.7 374.5h0M128.8 370.3h0M131.3 366.5h0M134.9 373h0M134.2 369.7h0M129.6 372.5h0M134.2 374.4h0M134.4 365.7h0M133.2 367.5h0M130.2 375h0M132.5 363.4h0M132.5 363.7h0M134.1 366.8h0M130.7 376.6h0M131.1 376.7h0M133 365.8h0M131.2 376.7h0M131.6 368.1h0M131.8 363.4h0M134.5 365.6h0M133.2 371.3h0M134.2 375.5h0M133.2 375h0M130.2 373h0M133.8 369.1h0M131.2 370.1h0M131.5 363.7h0M130.8 370.2h0M133.3 373.4h0M129.7 375.3h0M134.2 372.7h0M130.5 365.7h0M132.1 364.5h0M133 370.5h0M128.7 373.5h0M132.7 366h0M132.7 363.4h0M135 374.8h0M132.4 369.5h0M132 372.9h0M131.3 377.1h0M128.8 371.6h0M135.4 374.3h0M128.5 371.7h0M132.5 373.7h0M134.6 376.1h0M134.9 369.3h0M134.8 365.6h0M129.9 373.9h0" stroke="#2f79b8" stroke-width="2" stroke-linecap="round" fill="none"/>
<path d="M135.8 369.1h0M133.3 372.1h0M134.9 368.7h0M131.8 374.6h0" stroke="#d3ea8c" stroke-width="2" stroke-linecap="round" fill="none"/>
<path d="M135 366.1h0M132.7 375.9h0M133.5 372.7h0M133.2 371.7h0M133.4 376.3h0" stroke="#fdc57f" stroke-width="2" stroke-linecap="round" fill="none"/>
<path d="M123.7 375.8h0M125.8 373.8h0M127.1 374.3h0M127.3 375.3h0M125.6 373.4h0M125.2 374.1h0M124.5 378.1h0M126.7 373.4h0M125.2 378.1h0M127.4 375h0M125.1 375.6h0M126.8 376.3h0M126.7 377.7h0M127.4 373.1h0" stroke="#2f79b8" stroke-width="2" stroke-linecap="round" fill="none"/>
<polygon points="133,381.5 132.7,382.1 132.5,382.7 132.4,383.4 132,384 131.3,384.4 130.6,384.6 129.9,384.7 129.1,384.9 128.3,384.9 127.6,384.5 127.1,384 126.8,383.3 126.5,382.7 126.3,382.1 125.9,381.5 125.7,380.8 125.8,380 126.3,379.4 127.2,379.1 127.9,379 128.5,378.8 129.1,378.3 129.9,378 130.7,378.1 131.4,378.6 131.9,379.1 132.5,379.5 133,380.1 133.2,380.8" fill="#7a7a58"/>
<path d="M135.2 381.7h0M127 378.1h0M124.9 381.4h0M124.1 381.9h0M129.7 380h0M135.3 382.2h0M129.7 386.5h0M134 385.3h0M132.1 376.5h0M131.5 383.9h0M128 384.5h0M131.8 382.9h0M126.8 384.6h0M127.1 384.6h0M126.7 379.1h0M130.6 386.3h0M126.1 377.7h0" stroke="#2f79b8" stroke-width="2" stroke-linecap="round" fill="none"/>
<path d="M130.9 384h0M132.2 380.2h0M131.4 382.1h0M126.8 382.9h0M129.7 382.6h0M129.1 377.9h0M130.2 382.1h0M127.7 382.6h0M127.3 380.1h0M128.7 384.8h0M126.8 376.9h0" stroke="#fdc57f" stroke-width="2" stroke-linecap="round" fill="none"/>
<path d="M127.5 381.4h0M129.4 387h0M133.7 381.2h0M130.5 384.9h0M129.1 386.5h0M124 379.2h0M130 378.9h0M127 386h0M124.2 380.4h0M133.4 383h0M134.1 379h0M126.4 378.1h0M132 381.7h0M134.3 383.7h0M125.5 379.9h0M124.4 382.8h0" stroke="#3ba23a" stroke-width="2" stroke-linecap="round" fill="none"/>
<path d="M131.9 376.8h0M132.5 377.1h0M123.8 382.5h0M126.7 382.6h0M133.3 381.7h0M133.9 377.8h0M133.8 385.6h0M126.6 385.9h0M132.7 386.3h0M130 379.5h0M127.4 380h0M134 383h0M127.7 378.3h0M128.6 380.3h0M128.5 383.9h0M132.6 383.6h0M135.1 379.4h0M135.1 383.7h0M125.8 384.9h0M134.3 382.7h0" stroke="#b4581e" stroke-width="2" stroke-linecap="round" fill="none"/>
<path d="M133.5 383.1h0M128.8 375.9h0M130 381.4h0M127.8 384.8h0M129.8 379.5h0M133.4 383.1h0" stroke="#fba6a5" stroke-width="2" stroke-linecap="round" fill="none"/>
<path d="M115.9 381.5h0M120.3 379.5h0M119.7 383.9h0M119.2 385.2h0M118.9 385.2h0M119.3 380.8h0M121.6 385.7h0M122.4 381.4h0M116.2 381.9h0M123.3 381.9h0M118.3 379.8h0M122.4 384.7h0M122.3 383.5h0M121.4 380.3h0M121.7 383.2h0M121.7 381.8h0M113.7 384.9h0M114.2 385.9h0M117 380.1h0M115.6 384.6h0M117.3 386.6h0M122.2 380.7h0" stroke="#cfcfcf" stroke-width="1.8" stroke-linecap="round" fill="none"/>
<path d="M119.2 387.1h0M115.4 382.7h0M120.4 380.9h0M117.5 383.8h0M117 381h0M114.5 383.5h0M119.9 380.8h0M117.6 379h0M117.2 384.7h0M114.2 381.7h0M121.4 379.6h0M120.2 384.4h0M120.6 384.2h0M116.7 381.3h0M118.6 385.9h0M121.6 384.9h0" stroke="#e1c1ef" stroke-width="1.8" stroke-linecap="round" fill="none"/>
<path d="M121 379h0M116.9 387h0M118.3 381.6h0M118.3 384.5h0M116.1 382.2h0M115.2 384.8h0M120 386.1h0M117.5 382.5h0" stroke="#2f79b8" stroke-width="1.8" stroke-linecap="round" fill="none"/>
<path d="M121.6 380.2h0M115.3 386.2h0M115.5 382.3h0M121.9 383.8h0" stroke="#fba6a5" stroke-width="1.8" stroke-linecap="round" fill="none"/>
<path d="M121 370.7h0M120.2 370.6h0M120.1 375.6h0M121 376.1h0M121.6 372.8h0M122.8 372.9h0M119.7 370.9h0M123 370.6h0M122.7 372.1h0M120.4 374.5h0M122.6 370.9h0M119.9 370.5h0M122.1 374.6h0M121.7 375.3h0M120.2 375h0M120.3 375h0M122.6 371.9h0M119.8 371.5h0" stroke="#d6d6d6" stroke-width="1.6" stroke-linecap="round" fill="none"/>
<path d="M125.3 352.1h0M127 362.5h0M126.5 366.5h0M135.5 384h0M134.5 386h0" stroke="#2f79b8" stroke-width="2.1" stroke-linecap="round" fill="none"/>
<path d="M126.9 350.8h0" stroke="#fba6a5" stroke-width="2" stroke-linecap="round" fill="none"/>
<path d="M127.9 354h0M128.3 355.2h0" stroke="#fdc57f" stroke-width="2" stroke-linecap="round" fill="none"/>
<path d="M125.8 358h0M127.5 358h0M129 358h0" stroke="#b9d5e8" stroke-width="2.2" stroke-linecap="round" fill="none"/>
<path d="M129.2 363.9h0M128.5 366.8h0M135 374.5h0M135.2 376h0" stroke="#d3ea8c" stroke-width="2.1" stroke-linecap="round" fill="none"/>
<path d="M126.2 391h0" stroke="#3ba23a" stroke-width="2" stroke-linecap="round" fill="none"/>
<path d="M103.3 392.5h0" stroke="#b9d5e8" stroke-width="1.6" stroke-linecap="round" fill="none"/>
<polygon points="53.5,331 53.4,332.2 52.7,333.3 51.6,334.2 50.2,334.9 48.7,335.3 47.2,335.5 45.7,335.5 44.3,335.4 42.8,335.5 41,335.7 38.9,335.5 37.4,334.7 36.8,333.4 37.1,332.1 37.6,331 37.8,330 38,328.9 38.6,327.9 39.8,327.1 41.2,326.6 42.6,326.2 44.2,325.8 45.8,325.8 47.4,326.1 48.8,326.6 50.1,327.2 51.3,328 52.4,328.8 53.2,329.8" fill="#d0d0d0"/>
<path d="M48.5 329h0M49.2 324.9h0M47 326.3h0M51.6 325.6h0M53 327.5h0M52.2 328.5h0M34.1 331h0M48.7 335.3h0M35.8 331.5h0M45.4 326.7h0M35.3 333.6h0M49.8 325.3h0M43.1 331.6h0M44.7 324.8h0M39.8 333.3h0M48.9 332.8h0M39.7 334.1h0M53.5 333.1h0M46.8 324.9h0M41.4 330.1h0M41.3 324.5h0M43 331h0M49.9 330.8h0M38.6 332.8h0M41.7 333.6h0M51.7 332.1h0M52.5 335.8h0M46.6 336.1h0M52.4 329h0M50.5 335.2h0M41.8 328.5h0M47.9 336.8h0M46.4 334.8h0M49.2 329.9h0M50 328.1h0M50.9 332.6h0M37 328h0M44.8 335.3h0M36.1 328.7h0M45.6 337.9h0M52.7 326.6h0M55.4 329.3h0M46.9 324.4h0M35.3 328.4h0" stroke="#c9c9c9" stroke-width="1.7" stroke-linecap="round" fill="none"/>
<path d="M41 327.1h0M36.1 332.8h0M51.2 332.2h0M42.2 332.5h0M38.1 335.7h0M42.6 332h0M43 324.4h0M38.5 329.9h0M47.2 328.6h0M42 331.3h0M50.3 324.8h0M51.2 329.1h0M53.9 327.9h0M50.1 328h0M47.4 324.9h0M49.9 332.7h0M49.5 332.9h0M39.9 337.1h0M48.2 334.4h0M39.5 331.5h0M48.9 325.6h0M38.1 333.5h0M41.5 336.2h0M42.2 332.5h0M39.2 331.7h0M39.6 337.3h0M49.3 335.9h0M40.8 336.1h0M46.3 326.1h0M43.2 330h0M42.9 336.6h0M47 333.2h0M53.1 332.7h0M49.8 333h0M46.1 337.3h0M44.5 329.7h0M35.2 331.9h0M50 335.7h0M36.6 327.4h0M55.2 328.9h0" stroke="#bdbdbd" stroke-width="1.7" stroke-linecap="round" fill="none"/>
<path d="M36.9 329.7h0M47 332.6h0M41.8 334.5h0M40.8 330h0M37.4 333.7h0M42 334.6h0M50.2 327.7h0M50.3 336.3h0M44.6 326.5h0M47.4 327.2h0M53.2 326.6h0M35.3 330.6h0M39.2 335.4h0M43.5 335.7h0M44 337h0M44.9 326.5h0M43.7 335.9h0M45.2 334.2h0M53 335.2h0M44.9 329.3h0M41.4 324.5h0M50.3 326h0M42.6 336h0M53.9 331.6h0M46 328.1h0M51.3 333.4h0M52.1 333.7h0M40.1 330.5h0M48.1 326.1h0M53.1 326.7h0M48.3 329.4h0M40.8 327h0M34.3 332.1h0M37.4 334.8h0M50.2 336.8h0M48.7 326.3h0" stroke="#d5d5d5" stroke-width="1.7" stroke-linecap="round" fill="none"/>
<polygon points="67.5,332 67.4,332.7 67.2,333.3 66.8,333.8 66.2,334.2 65.7,334.6 65.1,335 64.4,335.2 63.6,335.2 62.9,335 62.3,334.6 61.8,334.2 61.3,333.8 60.7,333.3 60.2,332.7 60.2,332 60.4,331.3 60.8,330.7 61.2,330.2 61.6,329.6 62.2,329.2 63,329.2 63.7,329.3 64.3,329.4 65,329.3 65.8,329.1 66.6,329.4 67.2,329.9 67.4,330.6 67.4,331.3" fill="#d3d3d3"/>
<path d="M64.3 330.8h0M67.2 332.4h0M63.8 334.3h0M62.4 331.1h0M60.6 334.5h0M65.8 332.8h0M62 328.4h0M61.5 333.1h0M62.2 334h0M66.6 335.1h0M69 333.4h0M61.8 330.8h0M60.8 332.2h0M63.9 330.2h0M62.2 335.3h0M59.5 331.3h0M66 330.5h0" stroke="#d3d3d3" stroke-width="1.6" stroke-linecap="round" fill="none"/>
<path d="M66.8 328.4h0M58.9 332.3h0M68.4 334.4h0M68.6 331.7h0M59.9 330.2h0M65.9 332.9h0M60.7 328.5h0M62 327.8h0M68.5 331.3h0M65.1 335.2h0M61.2 328.9h0M61.9 330.5h0M62.3 328.6h0M68.7 333.7h0M64.1 336.5h0M67.5 335.1h0M69 330.6h0M65.9 332.6h0M66.7 328.8h0M62.7 335.5h0M68.2 334.7h0M65.7 334.6h0M65.8 331.2h0" stroke="#c9c9c9" stroke-width="1.6" stroke-linecap="round" fill="none"/>
<path d="M33 329h0M49 329.5h0M65.5 328.5h0M66 330h0" stroke="#b4581e" stroke-width="2" stroke-linecap="round" fill="none"/>
<polygon points="64.9,339.5 64.8,340.4 64.9,341.5 65,342.8 64.6,344 63.8,344.8 62.9,345.1 61.9,345 61.1,344.8 60.3,344.4 59.5,343.9 58.9,343.3 58.4,342.4 58.1,341.5 58,340.5 58.1,339.5 58.1,338.6 58,337.5 58,336.2 58.4,335 59.2,334.3 60.1,334.1 61.1,334.2 61.9,334.3 62.7,334.5 63.5,335 64.1,335.7 64.6,336.5 64.9,337.5 65,338.5" fill="#e580bf"/>
<path d="M56.8 341.2h0M62.1 342.6h0M59.4 343.9h0M61.5 338.3h0M56.6 338.5h0M62 334.3h0M61.5 341.4h0M59.6 337.3h0M62.5 333.2h0M65.3 342h0M61.7 337.5h0M56.4 338.1h0M57.5 343h0M62.1 342.4h0M57.4 343.3h0M63.8 335.1h0M57.3 339.2h0M62.2 342.4h0M60.5 339.9h0M62 346h0M59.9 340.7h0M59.4 345.6h0M62.2 345.3h0M60.2 339.6h0M61.5 341.3h0M64.5 335.1h0M63.2 335.4h0M62.1 338.4h0M61.8 333.2h0M64.9 341.1h0M60.3 339.8h0M65 336.5h0M62.6 344h0M64.8 336.4h0M62.8 340.3h0M57.1 337.5h0M60.8 340.4h0M59.7 343.2h0M63.6 341.7h0M62.7 342h0M59.1 342.9h0M58.9 334.1h0M59.8 341h0M60 340.2h0M65.1 335.8h0M62.9 339h0M61.3 343.5h0M59.3 339.1h0M58.9 338.2h0M59.4 336.6h0M57.9 343.8h0M60.7 341.1h0M64.1 340h0" stroke="#e580bf" stroke-width="1.9" stroke-linecap="round" fill="none"/>
<path d="M59.9 341.1h0M61 337h0M60.7 339.6h0M66.5 339.3h0M61.9 341h0M57.2 341.3h0M64 339h0" stroke="#f0a8d8" stroke-width="1.9" stroke-linecap="round" fill="none"/>
<polygon points="51.6,345.4 51,346 50.7,346.7 50.3,347.6 49.3,348.2 47.7,348.2 46,347.8 44.3,347.4 42.7,346.7 41.3,345.9 40.2,345 39.1,344.1 38.1,343.1 37.5,342.1 37.8,341.3 38.7,340.7 39.2,340.1 39.3,339.3 39.6,338.3 40.6,337.7 42.2,337.8 44,338.2 45.7,338.7 47.3,339.3 48.7,340.1 49.8,341 50.8,342 51.8,342.9 52.4,343.9 52.3,344.8" fill="#c97a5a"/>
<path d="M54.6 346.7h0M45.8 348.4h0M53.6 342.8h0M50 345h0M41.9 337.2h0M38.3 344.6h0M46.1 340.5h0M37.4 340.1h0M46.3 348.2h0M46.6 337.9h0M49.3 339.9h0M38.7 346.1h0M50.6 339.3h0M44.8 338.2h0M52.1 347.1h0M46.5 348.2h0M38.6 345.2h0M38.1 339.8h0M47.7 339.1h0M44.7 342.7h0M44.4 339.9h0M48.1 340.9h0M48.4 349.6h0M46.8 339.8h0M41.6 340.1h0M40.9 343h0M47.7 338.6h0M37.4 340.4h0M48.7 340.9h0M46.6 346.8h0M46.6 344.6h0M41.4 336.8h0M45.8 345.2h0M40.9 345.8h0M42.1 346.1h0M43.3 342.8h0M41.5 338.3h0M38.2 340.9h0M46 341.9h0M42.9 339.2h0M38.8 336.7h0M48 344.6h0M41.2 338.2h0M48.8 348h0M37.3 338.7h0M40.7 341.3h0M42.1 341.1h0M54.5 347.5h0M34.8 339.7h0M37 340.1h0M53.4 348h0M46.3 339.1h0M48.3 345.5h0M39.1 344.6h0M45.9 337.9h0M49.8 342.4h0M37.2 343.6h0M52.2 341.9h0M48.4 344.2h0M54.6 345.1h0M43.1 339.7h0M53.5 344.8h0M40.1 344h0M39.5 343.9h0M43.8 337.4h0M35.1 342.3h0" stroke="#b4581e" stroke-width="2" stroke-linecap="round" fill="none"/>
<path d="M52.4 345.3h0M51.9 346.1h0M50.5 345.5h0M44.7 345.9h0M47.6 344.1h0M42.9 338.9h0M43.3 345.5h0M49.7 341.1h0M40.3 337.4h0M36.4 338.6h0M44.4 345.2h0M50.4 345h0M47.1 343.3h0M51 346.7h0M44.3 342.8h0M52.8 348.6h0M41.4 345.7h0M40.3 342.8h0M49.2 342.2h0M49 346.8h0M44.1 339.7h0M46.3 347.4h0M48.1 348.2h0M51 343.3h0M38.4 343.5h0M35.8 343.3h0M52.7 347h0M52.9 343.9h0M41.5 341.5h0" stroke="#fba6a5" stroke-width="2" stroke-linecap="round" fill="none"/>
<path d="M52.6 347.2h0M38.7 337h0M40.8 337h0M45.6 347.7h0M41.4 341.9h0M45.8 340h0M40 346.9h0M50.6 343.1h0M47.9 342.8h0M41.5 344.3h0M42.4 341.3h0M50.6 344.8h0M44.7 341.2h0M54.4 343.6h0M43.2 345.3h0" stroke="#e580bf" stroke-width="2" stroke-linecap="round" fill="none"/>
<path d="M35.2 352.3h0M36.9 351.7h0M30.5 356.6h0M32.3 351.2h0M36.8 356h0M37.3 354.1h0M29.9 349.8h0M36.1 351.5h0M37.3 346.1h0M38.8 355.4h0M32.6 351.2h0M34.9 348.9h0M39.3 349.8h0M31.1 350.3h0M37.1 345.4h0M31.4 346.8h0M29.1 350.8h0M39.6 350.2h0M34.6 353.8h0M34 358.5h0M38.9 357.3h0M34.5 352.4h0M37.9 348h0M38.4 349.8h0M35.2 352.3h0M38.9 347.4h0M39.1 347.6h0M36.5 349.1h0M31.3 348.2h0M33.6 348.3h0M38 356.4h0M37.9 347.6h0M36.8 354.7h0M36.1 347h0M38.5 356.4h0M35.2 347.8h0" stroke="#2f79b8" stroke-width="1.9" stroke-linecap="round" fill="none"/>
<path d="M37.1 348.9h0M32.4 349.9h0M38.5 355.4h0M30 349.9h0M35.2 348.9h0M38.6 351.5h0M32.4 350.9h0M29.6 348.6h0M33.8 358.7h0" stroke="#b9d5e8" stroke-width="1.9" stroke-linecap="round" fill="none"/>
<path d="M31.9 356.1h0M39.6 351.5h0M33.9 347.7h0M40.1 356h0M31 354.5h0" stroke="#d3ea8c" stroke-width="1.9" stroke-linecap="round" fill="none"/>
<polygon points="41.9,358 42.3,359.2 42.4,360.5 41.9,361.7 41.1,362.6 40.1,363.2 39.1,363.6 38,363.8 37,363.8 35.9,363.5 35.1,362.8 34.4,361.9 33.9,361 33.3,360.1 32.8,359.1 32.6,358 32.9,356.9 33.4,355.9 33.9,355 34.3,353.9 34.8,352.7 35.7,351.7 36.9,351.4 38.1,351.7 39.1,352.4 39.9,353.2 40.6,354.1 40.9,355.2 41.1,356.2 41.5,357" fill="#d3ea8c"/>
<path d="M42.4 353.1h0M40.2 357.9h0M37.5 355.1h0M34.2 359.7h0M41.6 363.5h0M34.5 360.7h0M39.2 364.8h0M36.8 351.1h0M39.4 355.5h0M43.7 354.2h0M36.8 364.5h0M41.3 361.8h0M40.2 360.6h0M33.5 364.5h0M41.5 356.9h0M36.7 356.3h0M41.7 351.6h0M32.9 353.8h0M35.3 354.3h0M37.3 350.6h0M38.5 351.3h0M39.4 366h0M40.2 351.9h0M43.3 359.2h0M34.7 355.1h0M40.9 360.4h0M38.6 363.5h0M39.3 349.9h0M35.9 366.1h0M34.2 357.4h0M39.8 350h0M38.4 362.7h0M35.5 355.4h0M32.2 363.5h0M42.9 360h0M35.6 350.9h0M35.4 365.6h0M36.4 351.9h0M41.9 360.7h0M38.8 353h0M34.4 362.7h0M36.5 365.6h0M35.8 349.9h0M39.3 352.5h0M30.5 358.6h0M39.1 358.9h0M37.9 364.8h0M42.6 359h0M34.9 365.7h0M38.3 356.4h0M42.9 360.9h0M37.4 357.4h0M31.8 356.1h0M40.6 364h0M40.6 364.9h0M41.3 362.9h0M32.8 354.2h0M35.8 363.9h0M40.1 363.6h0M37 363h0M39.4 353.3h0M43.2 360h0M39.5 356.2h0M34.1 353.5h0M34.2 355.7h0M33.7 360.8h0M34.1 356.9h0M39.7 364.8h0M43.2 356.5h0M37.5 364.4h0M36.6 362.6h0M31.3 355.4h0M33.4 364h0" stroke="#d3ea8c" stroke-width="2" stroke-linecap="round" fill="none"/>
<path d="M35.3 352.1h0M30.6 358.4h0M41 360.8h0M35.1 361.4h0M40.9 361.4h0M34.8 364.4h0M37.3 350.7h0" stroke="#2f79b8" stroke-width="2" stroke-linecap="round" fill="none"/>
<polygon points="51.4,358 51.3,358.4 51.5,359 51.8,359.8 51.5,360.5 50.8,360.8 50,360.8 49.3,360.7 48.7,360.8 48,360.7 47.4,360.4 47,360 46.5,359.6 46,359.2 45.8,358.6 45.9,358 46.1,357.5 46.4,357 46.5,356.4 46.9,355.9 47.4,355.5 48,355.4 48.7,355.3 49.3,355.1 50.1,355.1 50.8,355.3 51.4,355.7 51.8,356.2 51.9,356.8 51.7,357.5" fill="#b9d5e8"/>
<path d="M48.8 358.6h0M45.8 356h0M47 358.3h0M46.8 359.9h0M44.5 356.8h0M48.4 357.9h0M47.5 355.7h0M50.8 355.1h0M52.7 360.4h0M46.2 356.2h0M51.5 358.9h0M51.1 355.9h0M50 357.1h0M45.8 359.5h0M47.3 355.3h0M47.8 357.6h0M46.1 360.6h0M49.1 361.7h0M47.3 355.3h0M46.4 356.7h0M46.4 361.1h0M47.3 360.9h0M49.2 355.5h0M50.1 358.2h0M47.7 360.6h0M48.7 355.4h0M50.4 358.4h0M46.6 360.3h0M47.9 356h0M49 361.6h0M48.7 360.1h0M49.6 361.1h0M49.2 355.3h0" stroke="#b9d5e8" stroke-width="2" stroke-linecap="round" fill="none"/>
<path d="M50.7 355.4h0M47.2 355.2h0M51 361.1h0M47.6 354.9h0M53.1 358.3h0M53.1 358.2h0M53.5 357.1h0" stroke="#2f79b8" stroke-width="2" stroke-linecap="round" fill="none"/>
<polygon points="32.3,368.5 32.2,369 32,369.5 31.8,370 31.6,370.5 31.2,370.9 30.8,371.1 30.3,371.2 29.7,371.3 29.2,371.3 28.7,371 28.4,370.5 28.1,370 27.8,369.6 27.6,369.1 27.6,368.5 27.8,368 28.1,367.5 28.3,367.1 28.4,366.5 28.7,366 29.2,365.7 29.7,365.7 30.3,365.8 30.8,365.9 31.3,366.1 31.7,366.4 32,366.9 32.2,367.4 32.3,368" fill="#d2d2d2"/>
<path d="M30.2 368.2h0M29.5 372.7h0M32.2 366.2h0M31.8 364.5h0M29.1 372.1h0M28.6 365h0M30.3 369.1h0M30.8 368.3h0M31.3 372.1h0M27.8 372.3h0M31 364.4h0M32.9 369.6h0M34 369.9h0M31.9 368.1h0M31.5 372.6h0M32.9 370.8h0" stroke="#c9c9c9" stroke-width="1.7" stroke-linecap="round" fill="none"/>
<path d="M30 365.6h0M29.1 365.2h0M30.8 365.8h0M26.6 370.4h0M27.8 370.1h0M30.7 368.3h0M33 365.7h0M31.7 372.4h0M33.4 369.9h0M32.1 371.8h0M29.7 371.2h0M30.3 369.6h0M30.7 372.2h0M29.8 369h0" stroke="#d8d8d8" stroke-width="1.7" stroke-linecap="round" fill="none"/>
<path d="M50.6 380.3h0M53.7 379.3h0M47.1 369.8h0M50.9 378.4h0M55.1 371.2h0M49.4 374h0M48.8 376.6h0M49.7 359.8h0M50.8 361.5h0M55 367.9h0M50.8 375.4h0M52 372.7h0M49.6 364.5h0M52.3 372h0M51.5 372.4h0M48.9 362.7h0M52.5 364.4h0M48.6 375.4h0M49.2 369.8h0M49.7 359.8h0M49.6 375.5h0M48.8 362h0M48.8 364.2h0M50.6 365.5h0M50.2 368.9h0M50.3 364.2h0M53.3 376h0M55.1 371.3h0" stroke="#3ba23a" stroke-width="1.9" stroke-linecap="round" fill="none"/>
<path d="M52 368.8h0M53.5 378.4h0M50.2 363.7h0M48 366.7h0M49.7 378.2h0M50.8 370.9h0M47.3 370.6h0M51 369.8h0M50.3 380.5h0M51 361.9h0M51.6 374.7h0" stroke="#b9d5e8" stroke-width="1.9" stroke-linecap="round" fill="none"/>
<path d="M50.9 379.6h0M51.2 375.4h0M54.1 377h0M51.2 362h0M48 363.7h0M51.4 372.4h0M47.7 368.8h0M53.1 364.6h0M48.6 362.6h0M50 359.6h0M51.1 377.1h0M50.2 380h0M51.1 364.9h0M49.4 381.6h0M53.5 378.8h0" stroke="#fba6a5" stroke-width="1.9" stroke-linecap="round" fill="none"/>
<path d="M47.1 368.5h0M52.8 379.5h0M52.5 376.2h0M52.8 377.8h0M47.8 375.2h0M47.3 365.6h0M48.7 366.7h0" stroke="#2f79b8" stroke-width="1.9" stroke-linecap="round" fill="none"/>
<path d="M49.6 366.5h0M48.6 360.7h0M50 374h0M46.6 376.1h0M48.5 369.6h0M52.3 380.1h0M50.3 371.8h0M49.6 381h0" stroke="#e1c1ef" stroke-width="1.9" stroke-linecap="round" fill="none"/>
<path d="M46.7 365.1h0M53.1 379.5h0M47.2 373.5h0M49.4 377.4h0M47.8 366.3h0M48.7 361.7h0M47.1 374.4h0M48.1 379.1h0M50.2 374.5h0M51.3 377.9h0M50.7 360.9h0M51.5 372.5h0M48 378h0M51.9 360h0M53.7 378.6h0M47.8 376.8h0M52.6 376.5h0M51.7 362h0M51.4 363h0M47.1 364h0M53 372.7h0" stroke="#e580bf" stroke-width="1.9" stroke-linecap="round" fill="none"/>
<polygon points="51,383 50.7,383.8 50.2,384.6 49.8,385.2 49.3,385.9 48.7,386.6 48,387.3 47,387.8 45.9,388 44.8,387.9 43.8,387.5 42.9,386.7 42.3,385.8 42,384.9 42,383.9 42.1,383 42.4,382.2 42.7,381.4 43.2,380.7 43.6,380 44.2,379.3 45,378.7 46,378.2 47.1,378 48.2,378.2 49.2,378.6 50,379.3 50.7,380.1 51.1,381.1 51.2,382.1" fill="#b8b8a0"/>
<path d="M40.3 386.2h0M52.4 386.2h0M42.6 387.7h0M41.3 377.8h0M46.3 381.9h0M40.9 383.2h0M40.3 385.2h0M50 381.2h0M50 384.7h0M52.8 384.4h0M39.9 386.4h0M42.3 389.8h0M47.3 378.7h0M43.1 389.9h0M47.6 385h0M45.8 387.7h0M44.3 381.1h0M47.9 377.7h0M42.3 379.9h0M48.8 380.7h0M49.5 381.5h0M53.6 380.4h0M46.5 386.9h0M48.1 379.5h0M50.1 386.1h0M41.7 383.4h0" stroke="#d3ea8c" stroke-width="1.9" stroke-linecap="round" fill="none"/>
<path d="M41.7 379.3h0M43.1 387.1h0M44.2 375.7h0M47 378.2h0M53.6 386.4h0M53.1 381.3h0M41.1 387.2h0M50.5 378.2h0M45.2 380.1h0M39.2 382.1h0M41.6 385.1h0M45.8 381.1h0M46.8 384.4h0M54.3 382.3h0M47.7 390.8h0M51.4 379h0M43.7 388.6h0M49.8 378.9h0M42.2 382.2h0M42.4 389.4h0M50.6 380.4h0M43.9 382.2h0M47.5 378.4h0M49.7 389.8h0M47.5 384.7h0M52.1 384.9h0M42 377.1h0M41.7 387.1h0M45.1 378.8h0M47.7 389.4h0M41.9 389.5h0M48.3 389.7h0M39.9 380.9h0" stroke="#2f79b8" stroke-width="1.9" stroke-linecap="round" fill="none"/>
<path d="M51.6 388.8h0M41.2 386.9h0M49.4 387.2h0M46 388.5h0M49.1 386.6h0M47.8 380.1h0M54.3 384.2h0M46.5 387.6h0M50.6 378.4h0M47.1 390.3h0M48.3 380.6h0M46.4 388.2h0M47 386.5h0M40 384.4h0M54.4 382.6h0M49.5 388.5h0M46.1 382.9h0M49 378.6h0" stroke="#fdc57f" stroke-width="1.9" stroke-linecap="round" fill="none"/>
<path d="M42.9 386h0M47.5 389.6h0M45.1 376.9h0M54 385.5h0M45 389.1h0M40.2 384.7h0M45.9 384.9h0M50 386.4h0M49 380h0M49.7 382.7h0M45.7 379.2h0" stroke="#e1c1ef" stroke-width="1.9" stroke-linecap="round" fill="none"/>
<path d="M38.2 382.9h0M47.8 390.4h0M49 387.6h0M43.4 379.1h0M43.6 387.6h0M41.5 380.8h0M40.9 377.7h0M39.8 382.4h0M51.9 387.2h0M48.4 380.9h0M52.1 385.5h0M50.9 386.8h0M42.7 389.5h0M51.9 389h0M47.6 390.5h0" stroke="#3ba23a" stroke-width="1.9" stroke-linecap="round" fill="none"/>
<path d="M41.1 381.5h0M44.8 377.9h0M41.4 381h0M40.9 385h0M44.2 387.7h0M45.6 389.5h0M45.5 383.6h0" stroke="#ee7d10" stroke-width="1.9" stroke-linecap="round" fill="none"/>
<polygon points="52.9,393.5 52.5,394.1 52,394.7 51.4,395.1 50.9,395.5 50.3,395.9 49.7,396.3 48.9,396.7 48,396.9 47.1,396.8 46.3,396.4 45.6,395.9 45,395.4 44.5,394.8 44.2,394.2 44.1,393.5 44.4,392.8 44.8,392.3 45.3,391.7 45.8,391.3 46.5,390.9 47.3,390.8 48.1,390.7 48.9,390.6 49.8,390.5 50.8,390.6 51.7,390.9 52.4,391.4 52.8,392.1 53,392.8" fill="#b4581e"/>
<path d="M48.3 396.2h0M47.7 395.9h0M52 394.8h0M50.3 396.6h0M48.2 393.2h0M43.3 394.7h0M51.7 394.8h0M49.4 394.8h0M45.9 396.6h0M45.6 397h0M53.3 394.2h0M51.4 391.3h0M48.3 397.2h0M43.4 395h0M44.8 393h0M48.8 395.2h0M47.6 395.5h0M44.2 392.2h0" stroke="#ee7d10" stroke-width="2" stroke-linecap="round" fill="none"/>
<path d="M45.9 395.6h0M54.3 393.9h0M51.1 395.9h0M48.3 392.6h0M47.2 396.3h0M52.8 391.9h0M46.4 395.1h0M48 394.5h0M45.7 394.8h0M52.2 396.3h0M50.5 391.1h0M54.3 394.8h0M45.9 397.7h0M48.1 397.1h0M45.5 394.3h0M47.4 397.7h0M45.8 391.6h0M49.5 393.3h0M53 392.2h0M48 391.1h0M46.5 396.4h0M50 393.1h0M42.8 393.9h0M51.9 392.9h0M44.6 397h0M44.3 394.7h0M44.1 395.9h0M50.7 391.9h0M43.6 393.8h0M44.1 391.8h0M51.6 390.9h0M52.3 395h0M47.7 396h0M51.8 393.9h0M49 396.6h0M49.7 396.5h0M54.3 392.1h0M45.7 392.7h0M50.7 394.1h0M48.2 395.3h0M45.8 391.7h0M50.5 394.3h0M46.9 397.3h0M47.9 390h0M51.9 396.4h0M52.6 393.6h0" stroke="#b4581e" stroke-width="2" stroke-linecap="round" fill="none"/>
<path d="M48.9 390.5h0M48.7 397.7h0M53.9 394.9h0M48.9 396.3h0M49.7 393.8h0M51.6 394.6h0" stroke="#2f79b8" stroke-width="2" stroke-linecap="round" fill="none"/>
<path d="M29 344h0M28.5 350h0M31 347h0M29 356h0M28.6 361h0M33 365h0M35 371h0M31 352h0M34 344h0M39 374h0M38 371h0M41 378h0M39.5 389h0M40 392h0M58 357.8h0M60.6 357.8h0M57.8 350h0" stroke="#2f79b8" stroke-width="2" stroke-linecap="round" fill="none"/>
<path d="M40.5,377.5 C36.5,377.8 35.5,381 37.5,382.5 C39,383.5 40.5,385 41,386.5" fill="none" stroke="#d42a2a" stroke-width="1.8" stroke-linecap="round" stroke-linejoin="round"/>
<path d="M67.6 349.8h0M67 369h0M65.5 379h0M66.5 383.4h0M63.9 386.7h0M73.5 388.3h0" stroke="#d42a2a" stroke-width="2" stroke-linecap="round" fill="none"/>
<path d="M54 391h0M70 398.5h0" stroke="#e580bf" stroke-width="1.8" stroke-linecap="round" fill="none"/>
<path d="M76 394.5h0M78 394.5h0" stroke="#e1c1ef" stroke-width="1.8" stroke-linecap="round" fill="none"/>
<path d="M24.5 338h0" stroke="#e580bf" stroke-width="1.8" stroke-linecap="round" fill="none"/>
<path d="M23 329h0" stroke="#b4581e" stroke-width="1.8" stroke-linecap="round" fill="none"/>
<polygon points="101.2,348 101,349.2 100.6,350.3 100.1,351.3 99.5,352.1 98.8,352.9 98.2,353.8 97.4,354.6 96.6,355.2 95.6,355.7 94.5,355.8 93.4,355.7 92.4,355.4 91.5,354.8 90.7,354 90,353.1 89.6,352.1 89.1,351.1 88.7,350.2 88.2,349.1 88,348 87.9,346.8 88.1,345.6 88.5,344.5 89.1,343.5 89.7,342.5 90.5,341.7 91.4,341 92.5,340.8 93.5,340.9 94.5,341.1 95.4,341.3 96.4,341.4 97.4,341.6 98.4,341.9 99.3,342.5 100,343.4 100.5,344.5 100.9,345.6 101.1,346.8" fill="#e580bf"/>
<path d="M89.8 352.4h0M89.3 352.5h0M100.8 350h0M93.7 356.3h0M95.5 355.7h0M102.8 345.6h0M95.9 356.4h0M100.2 342h0M89.3 342.5h0M99.3 351.8h0M99.8 343.4h0M91.1 355.9h0M88.6 344h0M92.4 355.8h0M101.1 350.2h0M88.7 355.9h0M89.8 352.1h0M94 355.5h0M94.7 355.5h0M92.3 355.8h0M90.9 354.4h0M87.6 346.5h0M88.7 351.2h0M89.4 351.7h0M97.7 353.7h0M100.9 349.4h0M101.9 350.5h0M94.8 356.3h0M96.9 357.9h0M100.6 349.1h0M98.4 342.3h0M100.7 351.2h0M89.3 351.3h0M91.5 339h0M90 353.6h0M88.8 351.2h0M95.7 341.7h0M88.4 349.9h0M90.4 354.8h0M98.7 342.2h0M91.9 341.7h0M90.7 355h0M88.7 348.8h0M92.8 340.4h0M96.1 356.1h0M95.4 341.1h0M100.5 344.1h0M88.5 352h0M100.6 343.9h0M86.3 348.1h0M97.5 355.5h0M90.9 354.7h0M95.8 340.3h0M101.5 346.8h0M99.9 352.2h0M98.9 356.2h0M86.5 343.6h0M99.1 340.7h0M94.4 341.1h0M100.4 350.7h0M99.6 351.5h0" stroke="#e580bf" stroke-width="1.7" stroke-linecap="round" fill="none"/>
<path d="M95.7 350.6h0M98.8 345.1h0M96.9 350.7h0M94.9 350.7h0M95 345.7h0M95.2 352.4h0M98.2 350.7h0M99.9 348.5h0M96.2 353h0M99.1 348.8h0M92.8 345.8h0M98.7 349.1h0" stroke="#e8a0cc" stroke-width="1.3" stroke-linecap="round" fill="none"/>
<path d="M92.5,355 C91.5,362 90.5,368 89.5,374 L88,379" fill="none" stroke="#e580bf" stroke-width="2.0" stroke-linecap="round" stroke-linejoin="round"/>
<path d="M87,380 L82,380 L77,379" fill="none" stroke="#e580bf" stroke-width="1.4" stroke-linecap="round" stroke-linejoin="round"/>
<path d="M80.9 379.2h0M77.6 380.5h0M78.1 378.8h0M80.9 381.4h0M76.6 379.7h0" stroke="#e580bf" stroke-width="1.6" stroke-linecap="round" fill="none"/>
<path d="M78.3 380.3h0M79.4 378.6h0M77.7 380.5h0" stroke="#bdbdbd" stroke-width="1.6" stroke-linecap="round" fill="none"/>
<path d="M82.1 380.4h0M78.5 380.9h0" stroke="#e1c1ef" stroke-width="1.6" stroke-linecap="round" fill="none"/>
<path d="M89,379 L93,376 L95,373" fill="none" stroke="#d3ea8c" stroke-width="1.8" stroke-linecap="round" stroke-linejoin="round"/>
<path d="M86,382 L86,384 L84,385" fill="none" stroke="#2f79b8" stroke-width="1.3" stroke-linecap="round" stroke-linejoin="round"/>
<path d="M85 341h0M88 366h0" stroke="#2f79b8" stroke-width="1.7" stroke-linecap="round" fill="none"/>
<path d="M85.5 385h0M90 394h0M86 395h0M92 393h0" stroke="#2f79b8" stroke-width="1.8" stroke-linecap="round" fill="none"/>
<path d="M78.5 397h0" stroke="#e1c1ef" stroke-width="1.8" stroke-linecap="round" fill="none"/>
<path d="M74 398h0" stroke="#e580bf" stroke-width="1.8" stroke-linecap="round" fill="none"/>
<path d="M87.5,396 C88.5,402 88.2,410 87,416 L86,421" fill="none" stroke="#e09a5a" stroke-width="1.4" stroke-linecap="round" stroke-linejoin="round"/>
<path d="M88 400h0M87.5 405h0M87 410h0M86.5 414h0" stroke="#ee7d10" stroke-width="1.5" stroke-linecap="round" fill="none"/>
<path d="M89.5 405h0M88.5 412h0" stroke="#e580bf" stroke-width="1.3" stroke-linecap="round" fill="none"/>
<polygon points="88.9,428 88.8,429.6 88.2,431 87.3,432.1 86.3,433 85.4,433.8 84.3,434.3 83.1,434.5 81.9,434.5 80.7,434.4 79.5,434 78.6,433.1 77.9,431.9 77.2,430.7 76.3,429.5 75.5,428 75.6,426.3 76.6,424.9 77.8,424 78.7,423 79.5,422 80.7,421.4 81.9,421.8 83,422.4 84,422.5 85.4,422.2 86.9,422.3 88,423.4 88.4,424.9 88.7,426.5" fill="#d0a08a"/>
<path d="M79.9 422.3h0M79.5 423.1h0M87.1 423.4h0M84 423.6h0M83.8 423.8h0M81.5 431h0M77.8 431.9h0M88.2 425.5h0M78.8 422.6h0M80.4 432.9h0" stroke="#fba6a5" stroke-width="1.7" stroke-linecap="round" fill="none"/>
<path d="M85.8 422.7h0M80.5 432.1h0M81.5 424.6h0M88.2 426.9h0M87.2 431.2h0M83.9 434.5h0M88.5 426.8h0M82.8 426.9h0M85.5 434h0M81.8 427.3h0" stroke="#b9d5e8" stroke-width="1.7" stroke-linecap="round" fill="none"/>
<path d="M81.1 430.8h0M84.2 431.5h0M76.5 428.8h0M79.6 430.8h0M80 427.4h0M78.2 423.6h0M82.2 422.7h0M79.5 429.6h0M86.9 425.3h0M81.2 422.7h0M88.5 426.3h0M86.6 424.8h0M79.8 426.9h0M80.3 429.3h0M81.3 431.1h0" stroke="#bdbdbd" stroke-width="1.7" stroke-linecap="round" fill="none"/>
<path d="M88 424.8h0M82.2 427.2h0M85.2 425.9h0M82.5 421.8h0M81.2 424.8h0M79.4 429.2h0M81.7 431.9h0M85.8 425h0M79.5 421.9h0M82.5 425.3h0M76.4 429.6h0M87 429.1h0M81.6 426.3h0M82.1 428.2h0M79 426.4h0M86.1 427.2h0M80.2 421.8h0M77.9 423.8h0M81.8 420.7h0M78.6 426.9h0M81.4 434.6h0M83.3 434.2h0M79.2 422.9h0M81.4 433.1h0" stroke="#b4581e" stroke-width="1.7" stroke-linecap="round" fill="none"/>
<path d="M79.5 428.5h0M80.6 434.8h0M86.4 422.5h0M78.6 422.7h0M83.3 423.5h0M82 421.2h0M79 433.7h0M82.9 435h0M83.6 423.8h0M79 423.6h0M78.6 430.3h0" stroke="#fdc57f" stroke-width="1.7" stroke-linecap="round" fill="none"/>
<polygon points="76.9,417 76.6,417.5 76.2,418 75.8,418.4 75.3,418.9 74.8,419.2 74.1,419.4 73.4,419.4 72.6,419.4 72,419.3 71.4,418.9 70.9,418.6 70.3,418.4 69.5,418.1 69,417.6 69.1,417 69.6,416.5 70,416.1 70.2,415.5 70.4,415 71,414.6 71.9,414.6 72.7,414.8 73.3,414.9 74,414.9 74.7,415 75.3,415.2 75.8,415.5 76.4,415.9 76.8,416.4" fill="#cfcfcf"/>
<path d="M72.3 415.7h0M70.9 416.5h0M73.8 415.2h0M72.8 418.4h0M74.3 415.1h0M73.9 418.7h0M71.8 417h0M71.9 419.3h0M71.3 417.1h0M71.2 415.6h0M73.8 418.5h0M75.6 417.2h0" stroke="#bdbdbd" stroke-width="1.5" stroke-linecap="round" fill="none"/>
<path d="M81 436h0M81.5 438h0M82 434h0" stroke="#d42a2a" stroke-width="1.8" stroke-linecap="round" fill="none"/>
<path d="M70 424h0M73 427h0M76 433h0" stroke="#fba6a5" stroke-width="1.6" stroke-linecap="round" fill="none"/>
<path d="M98 419h0" stroke="#e580bf" stroke-width="1.7" stroke-linecap="round" fill="none"/>
<polygon points="115.3,438.5 115.4,440.1 115.1,441.6 114.4,443 113.5,444.1 112.6,445.2 111.5,446.1 110.2,446.7 108.8,446.6 107.5,446.1 106.5,445.1 105.7,443.7 105.3,442.3 104.9,441 104.3,439.9 103.6,438.5 103.3,436.9 103.7,435.3 104.6,434 105.4,432.9 106.3,431.6 107.4,430.5 108.8,430.2 110.2,430.6 111.3,431.5 112.3,432.4 113.2,433.3 114,434.4 114.6,435.7 115,437" fill="#c0b8d8"/>
<path d="M110.8 441.9h0M104.1 437.4h0M110.6 442.9h0M111.1 431.3h0M111.3 431.5h0M108.8 445.8h0M103.5 438.8h0M108.1 431.9h0M110.2 437.8h0M109 431.7h0M115.3 439.2h0M110.4 435.8h0M112 443.1h0M105.2 434.6h0M106.5 436.1h0M112.7 439.4h0M108.4 444.5h0M107.4 432.5h0M111.4 439.7h0M106.9 431.5h0M113 443.4h0M110.8 445.5h0M107.8 437.2h0M114.6 435.3h0M107.9 436.8h0M107.4 442.9h0M106.1 432.3h0M111.6 437h0M112.8 445.1h0M107.3 436.1h0M112.6 443.9h0M103.3 437.6h0" stroke="#2f79b8" stroke-width="1.7" stroke-linecap="round" fill="none"/>
<path d="M112.9 441.7h0M109.5 433.1h0M106.6 435.7h0M105.6 443.9h0M115.1 435.7h0M114.2 443.5h0M108.8 435.1h0M108.6 438.3h0M109.1 438.7h0M114.7 434.1h0M112.9 443.6h0M106.1 438.5h0M110.7 441.5h0M112.8 442.2h0M106.9 438.5h0M105.6 436.5h0M109.2 431.7h0M109.2 433.9h0M107.4 439.6h0M107.2 439h0M111.2 435.4h0M104.2 437.6h0M111.9 437.4h0M104 436.7h0M109.7 445.1h0M110.1 431h0M108.3 440.7h0" stroke="#e1c1ef" stroke-width="1.7" stroke-linecap="round" fill="none"/>
<path d="M115.1 435.3h0M111.1 442.6h0" stroke="#3ba23a" stroke-width="1.7" stroke-linecap="round" fill="none"/>
<path d="M111.5 437.7h0M108.1 433.6h0M105.1 440.6h0M108.4 442.2h0M112.5 444.7h0M107.4 434.9h0M111.3 440.7h0M113.1 433.1h0" stroke="#d42a2a" stroke-width="1.7" stroke-linecap="round" fill="none"/>
<path d="M114 438.9h0M107.9 440.4h0M114.4 441.9h0M109 436.8h0M106.6 433.5h0M109.3 443h0M105.1 438.5h0M111.3 432h0" stroke="#b4581e" stroke-width="1.7" stroke-linecap="round" fill="none"/>
<path d="M106.7 437.2h0M108 433.5h0M115.7 438.6h0M108.1 441.3h0M104.6 440.5h0M114.3 440.7h0M108 439.2h0M113.8 438.5h0M108 435h0M115.1 435.7h0M106.5 441.6h0M112.1 438.3h0M109.8 446.2h0" stroke="#cfcfcf" stroke-width="1.7" stroke-linecap="round" fill="none"/>
<polygon points="104.2,440 103.9,440.5 103.5,441 103,441.4 102.4,441.7 101.7,441.9 101.1,442 100.4,442.2 99.6,442.5 98.6,442.6 97.7,442.5 97.1,442 96.7,441.5 96.3,441 95.8,440.6 95.6,440 96,439.5 96.7,439.1 97.2,438.7 97.6,438.3 98,437.9 98.7,437.6 99.6,437.6 100.4,437.8 101.2,437.8 102.1,437.8 103,437.9 103.7,438.3 104.1,438.9 104.2,439.4" fill="#c8c8c8"/>
<path d="M99.7 439.7h0M97.3 439.1h0M101.6 438.8h0M102.8 440.8h0M98.2 442.2h0M97.2 439h0M100.1 438.4h0M98.9 442h0M102 438.8h0M99.3 440.7h0" stroke="#bdbdbd" stroke-width="1.5" stroke-linecap="round" fill="none"/>
<path d="M119 441h0M122 441h0" stroke="#3ba23a" stroke-width="1.7" stroke-linecap="round" fill="none"/>
<path d="M123 440h0M124 432h0M123.5 433h0" stroke="#e580bf" stroke-width="1.7" stroke-linecap="round" fill="none"/>
<path d="M97.5 424h0M100.5 430h0" stroke="#2f79b8" stroke-width="1.7" stroke-linecap="round" fill="none"/>
<polygon points="24,411.5 23.5,413.3 22.5,414.7 21.5,415.8 20.7,416.9 19.9,418 18.9,419.1 17.7,420 16.3,420.6 14.8,420.6 13.4,419.7 12.4,418.2 11.7,416.6 11,415 10.4,413.3 10.2,411.5 10.6,409.7 11.5,408.3 12.4,407.1 13.2,406 14.1,404.9 15.1,403.8 16.3,403 17.7,402.5 19.2,402.6 20.6,403.4 21.6,404.9 22.3,406.4 23.1,408 23.8,409.6" fill="#98a8a0"/>
<path d="M19.9 411.8h0M18 419.9h0M14.2 408.4h0M20.1 412.4h0M13.9 407.1h0M12.9 410h0M14.5 419.3h0M22.7 411.5h0M15.9 420.1h0M23.2 408h0M22.1 411.8h0M18.4 420.2h0M10.7 413.1h0M19.7 419.3h0M19.7 416.6h0" stroke="#3ba23a" stroke-width="1.7" stroke-linecap="round" fill="none"/>
<path d="M11.5 412.1h0M16.8 410.5h0M19.4 404.9h0M18.9 411.3h0M14.5 416.1h0M17.5 402.6h0M17 408.2h0M12.8 415.2h0M13.8 414.5h0M16.4 418.7h0M16.6 412.4h0M18.4 407.1h0M17.6 415.3h0M17.4 411.9h0M16.6 413.4h0M16.1 408.6h0M13 408.7h0M19.9 418.2h0M11 407.8h0M14.6 412.9h0M18.2 416.7h0M10.3 412.1h0M15.6 414.7h0M16.1 418.7h0M19.1 407h0M16.4 403.7h0M17.6 418h0M17.8 413.1h0M18.8 405.7h0M19 415.4h0" stroke="#2f79b8" stroke-width="1.7" stroke-linecap="round" fill="none"/>
<path d="M18.5 413.6h0M23.2 409.2h0M12.2 415.2h0M15.1 408.8h0M21.9 415.8h0M19.2 407.3h0M17 412h0" stroke="#e1c1ef" stroke-width="1.7" stroke-linecap="round" fill="none"/>
<path d="M20.7 414.8h0M16.6 403.2h0M13 408.5h0M17.7 418.7h0M18.1 416.2h0M20.5 406.4h0M22.1 410.4h0M14.1 413.2h0M13.7 405.4h0M19.1 414.8h0M18.3 407.7h0M21.7 405.9h0" stroke="#d3ea8c" stroke-width="1.7" stroke-linecap="round" fill="none"/>
<path d="M18.5 414.3h0M23.4 411.6h0M13.5 411.4h0M14.5 414.6h0M12.9 409.7h0M17.9 419.9h0M14.5 411.8h0M13.2 408.3h0M19.3 404.4h0M17.2 419.1h0M13 404.5h0M20.8 411.7h0M21.3 409.5h0M20.6 416.8h0M18.1 416.8h0M13.6 409.5h0M19.4 403.3h0M16.5 419.8h0M22.7 410.5h0M13.3 413.2h0M12.8 411.9h0" stroke="#fdc57f" stroke-width="1.7" stroke-linecap="round" fill="none"/>
<path d="M12.5 414.2h0M16.2 408.1h0M19.9 419.1h0M15.2 403.1h0M15.2 413.6h0" stroke="#e580bf" stroke-width="1.7" stroke-linecap="round" fill="none"/>
<path d="M15 402h0M14.5 403.5h0" stroke="#bdbdbd" stroke-width="1.7" stroke-linecap="round" fill="none"/>
<path d="M24 417h0M25 418h0" stroke="#e1c1ef" stroke-width="1.7" stroke-linecap="round" fill="none"/>
<polygon points="60,464.5 59.9,465.3 59.6,466.1 59.3,466.8 59,467.5 58.6,468.1 58.2,468.8 57.7,469.2 57.2,469.4 56.6,469.5 56,469.6 55.4,469.6 54.8,469.5 54.3,469.1 53.9,468.5 53.6,467.8 53.3,467.2 53,466.6 52.6,466 52.2,465.3 52,464.5 52,463.6 52.3,462.8 52.6,462.1 53,461.5 53.3,460.8 53.7,460.2 54.3,459.9 54.9,459.7 55.4,459.6 56,459.6 56.6,459.5 57.2,459.6 57.7,459.9 58.2,460.4 58.5,461.1 58.8,461.7 59.1,462.3 59.5,462.9 59.9,463.7" fill="#ee7d10"/>
<path d="M59.4 466.1h0M53.8 468.5h0M55.2 469.6h0M55.5 459.6h0M52.3 461.6h0M52.5 465.5h0M58.5 461.2h0M58.1 468.3h0M52.7 465.8h0M52.9 468.7h0M60.1 462.8h0M59.3 466.9h0M59.8 463.9h0M59 462.5h0M58.7 460.3h0M59.1 467.4h0M52.6 466.9h0M57.3 471.1h0M59.8 466.5h0M51.6 463.2h0M51.8 461.7h0M51.7 463.1h0M58.3 468.7h0M56.7 460h0M52.7 466.5h0M56.7 459.5h0M59.3 467.1h0M59.9 465.4h0M51.4 463.9h0M60 465.6h0M52.9 460.8h0M55.6 470.1h0M52.7 461.6h0M52.2 466.1h0M58.7 458.9h0M52.2 463.6h0M54.7 471.4h0M56 469.4h0M52.2 465.4h0" stroke="#ee7d10" stroke-width="1.7" stroke-linecap="round" fill="none"/>
<polygon points="59.1,458 59.2,458.3 59.3,458.7 59.3,459.2 59.2,459.5 58.9,459.8 58.7,460.1 58.4,460.3 58.1,460.5 57.8,460.6 57.5,460.7 57.2,460.7 56.8,460.6 56.5,460.5 56.2,460.3 55.9,460 55.7,459.6 55.6,459.2 55.5,458.8 55.5,458.4 55.5,458 55.6,457.6 55.7,457.2 55.9,456.9 56.1,456.7 56.3,456.5 56.5,456.2 56.7,455.9 56.9,455.6 57.2,455.4 57.5,455.2 57.9,455.1 58.2,455.1 58.6,455.2 59,455.5 59.2,455.8 59.3,456.3 59.3,456.8 59.2,457.3 59.1,457.7" fill="#ee7d10"/>
<path d="M58.5 460.4h0M58 460.6h0M58.8 459.8h0M59.1 455.9h0M57 461.2h0M56.4 460.4h0M57.1 455.1h0M57.9 461.2h0M56 460.4h0M59.8 455.9h0M56.3 456.3h0M58.7 455.4h0M58.3 460.5h0M57 455.6h0M56.8 460.7h0M55.4 458.3h0M58.2 454.9h0M59.1 459.1h0M57 455.6h0M56.9 456.1h0M57 461h0" stroke="#ee7d10" stroke-width="1.7" stroke-linecap="round" fill="none"/>
<text x="182.5" y="299.6">Patients</text>
<rect x="182.1" y="302.8" width="9.7" height="10" fill="#d3ea8c"/>
<text x="196.7" y="310.8">MM1</text>
<rect x="182.1" y="312.5" width="9.7" height="10" fill="#fba6a5"/>
<text x="196.7" y="320.5">MM3</text>
<rect x="182.1" y="322.2" width="9.7" height="10" fill="#fdc57f"/>
<text x="196.7" y="330.2">MM5</text>
<rect x="182.1" y="331.9" width="9.7" height="10" fill="#ee7d10"/>
<text x="196.7" y="339.9">MM6</text>
<rect x="182.1" y="341.6" width="9.7" height="10" fill="#e1c1ef"/>
<text x="196.7" y="349.6">MM7</text>
<rect x="182.1" y="351.3" width="9.7" height="10" fill="#e580bf"/>
<text x="196.7" y="359.3">MM8</text>
<rect x="182.1" y="361" width="9.7" height="10" fill="#b4581e"/>
<text x="196.7" y="369">MM9</text>
<rect x="182.1" y="370.7" width="9.7" height="10" fill="#b9d5e8"/>
<text x="196.7" y="378.7">ND1</text>
<rect x="182.1" y="380.4" width="9.7" height="10" fill="#2f79b8"/>
<text x="196.7" y="388.4">ND2</text>
<rect x="182.1" y="390.1" width="9.7" height="10" fill="#a7a7a7"/>
<text x="196.7" y="398.1">Treated</text>
<text x="0" y="489.8" class="pl">d</text>
<polygon points="123.7,500.6 123.7,501 123.5,501.4 123.5,501.8 123.5,502.2 123.8,502.7 123.9,503.2 123.6,503.8 123.1,504.2 122.3,504.4 121.6,504.4 121.1,504.5 120.7,504.7 120.1,505.1 119.5,505.4 119,505.4 118.6,505.1 118.3,504.8 118.1,504.4 117.8,504.2 117.3,504 116.9,503.8 116.6,503.4 116.6,502.9 116.8,502.4 117.1,501.9 117.6,501.5 118.1,501.2 118.6,500.9 119.1,500.7 119.4,500.4 119.8,500 120.3,499.5 120.9,499.1 121.6,498.9 122.1,499 122.5,499.3 122.9,499.6 123.2,499.9 123.5,500.2" fill="#a01b5e"/>
<path d="M122.2 504.4h0M122 498.9h0M119.9 505.9h0M117.8 504.1h0M118.1 504.7h0M123.6 501.5h0M117.2 501.6h0M118.2 504.4h0M120.8 499h0M123.3 500.7h0M121.4 498.5h0M118.4 504.6h0M118.7 504.4h0M120 499.8h0M123.8 501.2h0M124.3 503.3h0M118.1 504.9h0M123.5 504.4h0M119.5 499.6h0M120.4 504.3h0M120.3 504.9h0M122.6 499.1h0M124.2 500.5h0M116.5 503.4h0M121.3 505h0M118.1 501h0M119 500.8h0M117.2 501.8h0M120.6 505.6h0M117.9 500.8h0" stroke="#a01b5e" stroke-width="1.7" stroke-linecap="round" fill="none"/>
<path d="M118.5 506.5h0" stroke="#a01b5e" stroke-width="2" stroke-linecap="round" fill="none"/>
<polygon points="109.1,517 109.1,518 108.9,519 108.5,520 107.9,520.8 107.2,521.6 106.3,522.2 105.4,522.8 104.4,523.3 103.3,523.6 102.2,523.8 101,523.8 99.9,523.6 98.7,523.2 97.8,522.6 97,521.7 96.6,520.8 96.3,519.8 96.2,518.8 96.1,517.9 95.9,517 95.7,516.1 95.6,515 95.8,514 96.2,513 96.9,512.2 97.9,511.5 98.9,511.1 100,510.7 101.1,510.4 102.2,510.2 103.4,510.2 104.5,510.4 105.6,510.9 106.4,511.7 107,512.5 107.5,513.4 108,514.3 108.4,515.1 108.8,516" fill="#a01b5e"/>
<path d="M96.3 511.6h0M107.9 512.7h0M102.4 524.3h0M104.2 523.2h0M97.8 510.7h0M106.9 512.9h0M97.3 523h0M107.6 522.6h0M98.4 522.6h0M95.4 512.4h0M101 510.8h0M96.9 512.1h0M95.6 512.9h0M98.5 523.6h0M104.9 522.6h0M109.5 518.2h0M109.9 513.8h0M101.5 510h0M108.6 520.2h0M104 509.6h0M96 519.6h0M95.5 517h0M97.3 521.8h0M94.9 516.7h0M108.7 521.4h0M97.6 511.3h0M109.8 516.9h0M109.7 516.8h0M111.2 519.2h0M106.8 513h0M97.1 511.9h0M105.5 510.7h0M96.6 512.4h0M104.9 523.9h0M95 513.1h0M96.8 512.4h0M100.2 523.8h0M97.3 522.8h0M96 517.9h0M104.6 509.5h0M107.2 513.2h0M98.9 511h0M99.3 509.7h0M109.9 517.2h0M95.5 521h0M103 523.7h0M103.9 522.9h0M100 524.8h0M100.4 523.6h0M109.2 519.1h0M107 521.3h0M96.8 512.8h0M96.1 519.3h0M97 512.6h0M100.1 511h0M109.2 518.8h0M99.1 510.5h0M96.4 518h0M95.7 516.5h0M109.1 514.9h0" stroke="#a01b5e" stroke-width="1.7" stroke-linecap="round" fill="none"/>
<path d="M109.5 510.5h0M109.3 514h0M110 520h0M108 523h0M103 525h0" stroke="#a01b5e" stroke-width="1.8" stroke-linecap="round" fill="none"/>
<path d="M98 529h0M106.5 528h0M107.8 527.6h0" stroke="#1a1a1a" stroke-width="1.9" stroke-linecap="round" fill="none"/>
<path d="M82.5 541h0" stroke="#fdc5aa" stroke-width="1.8" stroke-linecap="round" fill="none"/>
<path d="M92 538.5h0" stroke="#a01b5e" stroke-width="1.8" stroke-linecap="round" fill="none"/>
<polygon points="136.2,541 136.3,541.5 136.3,542.1 136.2,542.7 136,543.2 135.7,543.8 135.3,544.2 134.9,544.5 134.4,544.7 133.9,544.8 133.4,544.8 132.9,544.7 132.5,544.4 132.2,543.9 131.9,543.5 131.6,543.1 131.3,542.8 130.8,542.5 130.5,542.1 130.4,541.6 130.5,541 130.8,540.5 131,540.1 131.2,539.6 131.1,539.1 131.2,538.3 131.3,537.6 131.7,537.1 132.3,536.9 132.9,536.9 133.4,537 133.9,537.3 134.3,537.6 134.7,538 135,538.4 135.2,538.9 135.4,539.3 135.6,539.7 135.8,540.1 136.1,540.5" fill="#a01b5e"/>
<path d="M135.1 539.3h0M130.2 541.2h0M132.4 536.9h0M134.9 544.8h0M133.4 544.8h0M130.7 541.3h0M130.7 540.7h0M131.9 543h0M133.5 536.6h0M136.5 542h0M133.4 536.8h0M131.3 543.3h0M130.2 539.4h0M132.7 536h0M137 540.3h0M134.8 544.2h0M136 540.1h0M130.6 540.1h0M135.7 539h0M130.5 538.1h0M136 540.8h0M131.4 543h0M131.3 539.4h0M134.7 544.6h0M131.1 542.6h0M135.9 539.5h0M136.6 540.6h0M130.4 540.4h0M131.7 537.3h0M132.1 544.8h0" stroke="#a01b5e" stroke-width="1.7" stroke-linecap="round" fill="none"/>
<path d="M133 548.3h0" stroke="#a01b5e" stroke-width="2" stroke-linecap="round" fill="none"/>
<path d="M135.5 538h0" stroke="#fdc5aa" stroke-width="1.8" stroke-linecap="round" fill="none"/>
<polygon points="171.1,550 170.9,550.8 170.8,551.5 170.6,552.3 170.3,553 169.7,553.6 169.1,554 168.5,554.2 167.8,554.6 167.2,554.9 166.5,555.3 165.7,555.4 165,555.2 164.3,554.7 163.8,554.1 163.3,553.5 162.8,552.9 162.4,552.3 162.1,551.6 162,550.8 162,550 162.1,549.2 162.1,548.4 162.1,547.5 162.3,546.7 162.8,546 163.6,545.6 164.5,545.6 165.2,545.7 165.9,545.7 166.5,545.6 167.2,545.4 167.9,545.2 168.7,545.3 169.4,545.6 170.1,546.1 170.6,546.7 171,547.5 171.1,548.3 171.2,549.2" fill="#a01b5e"/>
<path d="M167.7 554.7h0M162.2 547h0M162.5 552.6h0M164.2 555.4h0M165.1 546.3h0M162.5 548h0M162.1 548.6h0M162 547.6h0M169.1 554.1h0M162.6 549.3h0M163.7 553.3h0M166 545.2h0M164.5 545.2h0M165.7 555.2h0M166.3 545.6h0M170.8 551.6h0M166.1 545.6h0M163 553.6h0M168.4 553.6h0M172.7 547.6h0M163.6 545.4h0M171.1 550h0M163.3 544.4h0M162.6 551h0M168.4 555.8h0M166.1 546.2h0M164.2 554.7h0M166.1 545.6h0M171.6 551.3h0M166.7 544.4h0M171.2 548.7h0M166.4 545.7h0M171.4 550.5h0M161.7 548.4h0M166.8 555.5h0M164.5 554.9h0M170.2 545.2h0M171.1 550.2h0M164.2 545.8h0M167.1 545.8h0M167.2 545.6h0M161.8 549.1h0M168.7 544.6h0M168.7 545h0" stroke="#a01b5e" stroke-width="1.7" stroke-linecap="round" fill="none"/>
<path d="M163 556h0" stroke="#a01b5e" stroke-width="1.8" stroke-linecap="round" fill="none"/>
<polygon points="148.8,577.5 148.6,578.1 148.4,578.7 148.1,579.2 147.9,579.7 147.6,580.3 147.2,580.8 146.7,581.2 146.2,581.4 145.6,581.4 145,581.4 144.4,581.3 143.9,581.3 143.3,581.1 142.7,580.9 142.2,580.5 141.8,580 141.5,579.4 141.2,578.8 141.2,578.2 141.3,577.5 141.5,576.9 141.8,576.4 142.1,575.9 142.3,575.4 142.5,574.8 142.8,574.3 143.2,573.8 143.8,573.4 144.4,573.3 145,573.4 145.6,573.5 146.2,573.6 146.7,573.9 147.2,574.2 147.6,574.7 148,575.1 148.3,575.7 148.6,576.3 148.7,576.9" fill="#a01b5e"/>
<path d="M142.8 581.2h0M140.9 578.4h0M141.4 576.2h0M147.3 573.4h0M146.8 581.4h0M145.8 581.3h0M142.6 581.2h0M148.4 576h0M146 581.6h0M144.9 581.3h0M145.6 574.1h0M148.4 575.6h0M139.6 579h0M148.9 575.8h0M142.1 580.1h0M144.3 581.4h0M144.6 581.6h0M147.8 574.4h0M141.7 575.7h0M145 573.1h0M145.8 573.1h0M142.3 575.2h0M142.7 575h0M142.9 574.4h0M147.8 580.4h0M141.5 576.4h0M143.2 573.3h0M145.6 581.1h0M146.2 573.5h0M146.2 574h0M148.8 579.1h0M144.9 573h0M145.9 573.5h0M143.2 573.5h0" stroke="#a01b5e" stroke-width="1.7" stroke-linecap="round" fill="none"/>
<polygon points="168.8,607.3 168.5,608.4 168,609.3 167.4,610.2 166.8,611.1 166.1,611.9 165.2,612.6 164.3,613.2 163.2,613.7 162,614 160.8,614.2 159.6,614.1 158.3,613.9 157.2,613.4 156.3,612.7 155.5,611.9 154.9,611 154.3,610.2 153.8,609.3 153.3,608.3 152.9,607.3 152.7,606.2 152.9,605.1 153.3,604 154.1,603.1 155.2,602.4 156.3,602 157.5,601.7 158.6,601.5 159.7,601.2 160.8,601 162,600.9 163.2,600.9 164.3,601.3 165.4,601.8 166.3,602.5 167.2,603.3 168,604.1 168.5,605.1 168.8,606.2" fill="#a01b5e"/>
<path d="M167.7 603.3h0M161.2 614.3h0M163 600.6h0M168.5 602.5h0M156.5 601.8h0M151.3 606h0M161.3 614.2h0M154.1 603.5h0M162.2 600h0M152.6 606.9h0M167.1 611.5h0M152.3 606.2h0M156.3 613.1h0M167 604.1h0M168.4 605.4h0M153.7 608.5h0M157.7 602.1h0M153.6 603.9h0M169.2 606.6h0M163.8 614.2h0M160.9 614.3h0M164.2 600.9h0M166.4 611.9h0M151.9 601.8h0M168.6 609.1h0M161.7 600.3h0M162.4 600.4h0M153.6 610.8h0M168.2 608.5h0M153.3 608.8h0M153.5 604.5h0M160.1 601.6h0M152.8 604.3h0M168.2 610h0M155 609.8h0M155.8 602.5h0M157.1 614.3h0M163.4 601h0M157.1 602.1h0M168 604.4h0M163.3 613h0M156.8 600.9h0M153.6 607.7h0M159.7 599.9h0M152.5 606.9h0M161.7 614.4h0M167.1 602.2h0M153 608.5h0M165.2 614.8h0M155 602.7h0M168.2 609.8h0M169.7 606.4h0M153.6 608.8h0M157.8 614.3h0M164.7 601.1h0M159.4 613.5h0M158.2 600.7h0M166.7 611.6h0M162.7 600.1h0M169.1 605.3h0M165.7 612.7h0M162.3 614.8h0M157.3 601.1h0M168.5 604h0" stroke="#a01b5e" stroke-width="1.7" stroke-linecap="round" fill="none"/>
<path d="M149 610.2h0" stroke="#a01b5e" stroke-width="2.1" stroke-linecap="round" fill="none"/>
<path d="M158.5 613.5h0" stroke="#3a7d9c" stroke-width="1.3" stroke-linecap="round" fill="none"/>
<path d="M139.5 581h0" stroke="#a01b5e" stroke-width="1.8" stroke-linecap="round" fill="none"/>
<polygon points="32.4,540.5 35.8,539.1 40.4,539.1 44.3,539.8 47.4,540.7 50,542.3 52.7,546.2 54.4,543.5 56.7,542.1 60.2,541.9 63.5,542.4 66.5,544.2 67.9,546.7 67.4,550.6 65.8,553.7 64.3,556.4 62.2,560.1 58.3,562.8 56.1,566.2 54.7,569.4 51.9,571.3 47.9,571.8 44.2,570.8 42.1,571.3 40.9,574.9 39.6,577.4 35.7,580.4 31.7,581.5 26.9,579.6 26,575.7 27.2,567.8 29.2,562.9 30.7,558.9 31.3,556.4 31.6,549.6 32,543.9" fill="#3a7d9c"/>
<path d="M31.4 541.6h0M31.5 542.9h0M32.9 540.9h0M31.9 542.8h0M32.5 542h0M32.6 544.3h0M32.3 540.6h0M35.5 540.2h0M33.8 539.8h0M33.6 539.3h0M32.7 540.8h0M35.9 540h0M38 538.5h0M39.4 539.4h0M36.4 539.8h0M38.2 538.5h0M35.9 538.8h0M39.5 538.5h0M35.4 538.7h0M43.2 539.6h0M43.2 539.4h0M44.5 539.7h0M41.4 538.9h0M41.7 538.9h0M43 538.9h0M41.3 539.3h0M46.9 540.4h0M44.6 539.3h0M45.2 539.9h0M45 539.4h0M45.8 540.8h0M48.3 541.5h0M47.4 540.5h0M50.2 542.1h0M49.4 542.9h0M47.5 540.3h0M51.6 543h0M51.8 545.7h0M50.8 544.3h0M52.5 545.3h0M51.2 545.4h0M53.3 546.4h0M50.3 543.5h0M51.9 545.6h0M53.3 544.2h0M53.7 543.6h0M53.8 544.9h0M53.8 543.8h0M52.8 545.1h0M56.1 543.2h0M55.3 542.3h0M55.2 543.4h0M55.3 543.7h0M56.3 543.1h0M58 542.2h0M59.1 541.3h0M57.3 542.1h0M59.2 541.4h0M57.6 541.8h0M58.7 542.8h0M62.4 542.6h0M61.7 542.1h0M61.3 542.5h0M62.6 541.6h0M61.1 541.8h0M63.8 542.1h0M67 543.9h0M65.4 542.5h0M65 543.5h0M64.7 543.4h0M64.5 542.7h0M68.3 546.7h0M65.8 543.5h0M67.5 546h0M68.4 546.2h0M67.3 546.9h0M67.7 548h0M66.9 551.3h0M67 549h0M67.6 547.7h0M67.8 547.5h0M68.4 547.5h0M67.7 551.4h0M67.3 551.8h0M67.2 552.1h0M66.3 554h0M67.7 551.5h0M67.7 551.5h0M64.4 556.1h0M65.6 556.4h0M64.3 554.3h0M64 556.4h0M64.2 556.4h0M62.9 557.7h0M62.1 559.7h0M63.8 557.1h0M62.6 558.6h0M63.6 557.1h0M63.1 556.5h0M63.3 557.6h0M59.1 561.9h0M60.5 561h0M58.5 562.5h0M60.5 561.6h0M58.5 561.6h0M62.9 559.3h0M61.6 559.6h0M60.9 561.6h0M57.7 562.7h0M56.7 566.2h0M56.3 564.1h0M56 566.1h0M57.3 564.5h0M58.9 563.6h0M56.6 566.4h0M55.4 567.2h0M54.6 567.6h0M54.1 570.2h0M56 567.1h0M56.5 565.9h0M54.6 567.6h0M54 570.3h0M53.1 569.4h0M51.9 570h0M53.5 569.2h0M52.9 571.6h0M52.7 571.4h0M49.6 571.4h0M50.1 572.3h0M48.4 572.5h0M50.5 572.1h0M48.2 571.2h0M51 572.1h0M48.5 572h0M45 570.7h0M45.3 570.8h0M46.9 571.1h0M43.3 571.5h0M47.8 572.4h0M47.3 571h0M42.1 571.8h0M42.7 571h0M41.4 571.2h0M43.4 570.3h0M41.2 572.6h0M42.7 572.3h0M41 571.7h0M41 571.8h0M40.5 573.5h0M41.5 573.1h0M40.5 576.5h0M40.8 575.8h0M39.8 575.2h0M39.5 576.8h0M40.7 576.3h0M37.5 579.5h0M35.2 580.9h0M37.5 579.1h0M36.8 579h0M36.7 580.8h0M36.6 578.9h0M36.5 579.8h0M37.9 579h0M32.8 581h0M31.3 581.1h0M31.6 581.2h0M32.6 580.9h0M35.1 579.7h0M34.9 579.9h0M33.9 580.4h0M27.8 580.5h0M27.4 579.6h0M28.8 580.8h0M30.9 581.5h0M29.8 580.5h0M30.3 580.6h0M30.4 582.1h0M26.9 579.8h0M25.8 577.4h0M27.2 579.5h0M26.2 578.3h0M25.5 577h0M26.9 577.8h0M26.9 577.5h0M26.1 576.3h0M26.4 575h0M25.4 574.8h0M25.8 573.1h0M27.1 569.2h0M26.7 572.1h0M26.7 570.7h0M27.3 571.7h0M27.6 569.7h0M26.9 570.2h0M27 570.9h0M26.7 568.5h0M27.2 573.4h0M27.9 564.3h0M26.6 567.3h0M27.9 565.1h0M28.4 565.7h0M28.3 564.1h0M27.7 567h0M28.4 564.9h0M28.2 563.1h0M30.7 561.1h0M30.2 559.8h0M30.9 560.3h0M30.4 560.6h0M29.5 561.6h0M30.1 560.9h0M29.9 563.3h0M30.2 556.7h0M30.6 558h0M30.4 557.6h0M30.9 557.2h0M32.3 552.9h0M31.6 550.1h0M31.4 552.6h0M32.1 550.7h0M31.8 550.4h0M31.1 555.2h0M31 555.4h0M31.1 554.7h0M32.4 551.3h0M31.3 551.8h0M31.3 550.6h0M31.1 544.2h0M32.4 544.9h0M32.5 548.6h0M31.3 546.4h0M31.6 549.7h0M31.4 545h0M32 545.9h0M32.3 548.7h0M32.3 547.1h0" stroke="#3a7d9c" stroke-width="1.9" stroke-linecap="round" fill="none"/>
<path d="M47.9 566.1h0M51.5 551.5h0M40.2 560.9h0M32 562.2h0M36.2 562.6h0M47.1 543.1h0M38 564.1h0M41.1 550.8h0M43.8 553.9h0M49.6 562.4h0M50.6 546.8h0M40.2 563.1h0M59.6 550.7h0M44.4 542.7h0M49.6 551.3h0M53.9 555.3h0M55.5 542.9h0M43.2 560.1h0M36.9 546.3h0M48.4 561.2h0M36.7 549.1h0M48.8 541.4h0M57.6 564.6h0M65 551.7h0M42.3 560.4h0M64.9 556.6h0M38.5 559.5h0M47.2 566.6h0M58.9 555.1h0M38.8 563.7h0M44.4 543.3h0M57.3 548.3h0M61.3 547.4h0M45 551.3h0M60.3 560.8h0M59.3 557.3h0M58.7 549.8h0M33.9 561h0M48.6 546.4h0M43.4 558.1h0M39.2 553.3h0M44.1 543.5h0M42.1 556.3h0M36.9 567h0M38.8 543.1h0M40.7 557.1h0M56.9 546.3h0M55.6 565.3h0M59.7 546.1h0" stroke="#4a8cab" stroke-width="1.7" stroke-linecap="round" fill="none"/>
<path d="M41.7 548.3h0M34.3 554.5h0M45.1 563h0M50.1 545.5h0M53.3 551.2h0M43.7 566.4h0M43.8 570h0M44.8 559h0M49.3 550.8h0M60 558.4h0M51.8 549.6h0" stroke="#ffffff" stroke-width="1.7" stroke-linecap="round" fill="none"/>
<path d="M51.5,556.5 L54,555.5 L54.5,558.5 L52,559.5 Z" fill="#ffffff"/>
<path d="M30.5 547h0M29.5 553h0M28 560h0M27 566h0M25.5 571h0M32 578h0M61.9 566.9h0M62.9 570.9h0M66.5 549h0M60 564h0" stroke="#3a7d9c" stroke-width="2" stroke-linecap="round" fill="none"/>
<path d="M32 551h0M33 556h0M30.5 566h0" stroke="#a7c7e1" stroke-width="1.8" stroke-linecap="round" fill="none"/>
<polygon points="42,573.6 45.7,574.7 51.5,573.3 53.4,576.6 52.3,581.9 52.3,587.3 47.5,588.9 40.5,588.9 35,587.3 33.7,583.7 36.4,581.5 40.2,579.1" fill="#a7c7e1"/>
<path d="M40.4 578.7h0M41.7 575.4h0M40.6 577.3h0M40.1 578h0M40.4 578.3h0M40.8 575.1h0M42.3 575.2h0M43.1 574.4h0M44.7 573.6h0M43.6 574.9h0M44 573.8h0M44.6 573.7h0M48.8 574.6h0M50.1 573.8h0M49.8 573.5h0M48.6 574h0M50 572.9h0M48.1 574.6h0M47.1 574.8h0M45.7 575.2h0M53.8 576.4h0M52.2 574.4h0M53.1 576h0M52.2 574.4h0M53.9 575.6h0M53.2 577.4h0M52.7 580.9h0M53 580.8h0M53.5 577.3h0M52.9 578.8h0M52.6 576.5h0M52.6 577.6h0M52.6 585.3h0M51.6 585.7h0M52.8 584.9h0M52.4 582.5h0M51.7 582.6h0M52.4 581.9h0M53.1 585.1h0M50.5 587.4h0M48.8 588.2h0M49.1 589.1h0M51.2 587.7h0M48.6 587.9h0M48.9 588.2h0M50.6 587.6h0M43.4 589.5h0M42 588.7h0M40.6 588.7h0M39.8 589.4h0M44.5 588.6h0M40.6 588.4h0M46.9 589.4h0M45 588.8h0M43.7 589.6h0M39.9 589.4h0M39.7 588.8h0M36.2 587.5h0M35.8 587.1h0M35.6 587h0M38.4 588.5h0M38.6 587.9h0M35.3 586.9h0M35.2 586.4h0M34.5 586.3h0M34.4 583.9h0M34.1 586.2h0M33.9 582.8h0M33.4 584.1h0M34.3 582.9h0M35.9 581.7h0M36.2 582h0M40.1 579.5h0M36.1 581.1h0M37.4 579.9h0M36.4 582h0M40 578.7h0M40.1 579.3h0" stroke="#a7c7e1" stroke-width="1.8" stroke-linecap="round" fill="none"/>
<path d="M42,573.5 L46.5,574 L46,580 L42.5,581 Z" fill="#ffffff"/>
<path d="M46.2 584.9h0M50 585.7h0M48.9 583.7h0M39.4 579.7h0M42.1 580.2h0M50.1 586.2h0M48 584.5h0M43.8 586.9h0M42.7 587.6h0M45.5 582.3h0M47.5 577h0M44.6 576.1h0M47.1 580.2h0M49.1 586.1h0M46.7 586.5h0" stroke="#5c9bc9" stroke-width="1.7" stroke-linecap="round" fill="none"/>
<path d="M44.5 586h0M41.3 586.5h0M46.6 587.9h0M50.2 580.4h0M45 580.2h0M50.5 584.6h0M46 584.4h0M48.1 585.5h0M43.2 578.4h0M46.5 580.3h0M51.8 582.1h0M45.8 581.3h0M41.7 586.1h0M45.2 580.7h0M49.8 586.8h0M44.1 585.1h0" stroke="#ffffff" stroke-width="1.7" stroke-linecap="round" fill="none"/>
<path d="M50.4 581.6h0M50.5 578.7h0M47.2 578.4h0M51.4 581.5h0M44.1 579h0M50.5 582.1h0M44.9 581.2h0M50 577.5h0M51.9 584.7h0" stroke="#3a7d9c" stroke-width="1.7" stroke-linecap="round" fill="none"/>
<path d="M46.4 583h0M43.7 581h0M44.5 577.3h0M45.6 575.9h0M49.4 582h0M45.3 579.9h0M52.5 584.9h0M51.3 580.5h0M48 578h0M43.8 578.9h0" stroke="#a7c7e1" stroke-width="1.7" stroke-linecap="round" fill="none"/>
<polygon points="34.9,588.8 40.6,590.6 46.6,590.1 52.4,589.3 52.4,593.5 51.3,597.9 49.6,602.2 47.1,605.4 44.2,607.6 41.4,605.4 38.9,601.2 37.7,596.6 35.6,592.6" fill="#1f2d5c"/>
<path d="M35.5 592.4h0M34.2 589.7h0M35.9 590.6h0M34.8 591.9h0M35.5 588.9h0M34.9 588.4h0M38.6 589.9h0M37.4 589.7h0M36.7 589.3h0M35.8 589h0M36 588.7h0M39 589.7h0M37 589.9h0M40.8 590.8h0M44.9 590.5h0M42.5 591h0M44.9 589.6h0M44.1 590.4h0M42 591.1h0M43.4 590.7h0M41.2 591h0M49.9 590.4h0M48.1 589.2h0M49 589.2h0M50.8 589.1h0M47.4 589.9h0M51.4 589h0M50.4 589.4h0M51.3 590h0M52.1 591.7h0M52.7 592.1h0M51.7 589.9h0M52.4 592h0M51.9 591.5h0M51.5 595.4h0M52.2 594.5h0M51.6 596.9h0M51.4 596h0M51.5 594.9h0M52.2 593.6h0M50.9 597.5h0M49.5 600.5h0M50.9 600.7h0M50.6 599.8h0M51.2 600.1h0M50.2 600h0M47.9 604.5h0M48.5 603.1h0M49.4 602.7h0M48.3 604.7h0M47.8 603.3h0M44.7 606.5h0M46.7 605.8h0M46 605.6h0M47.6 606h0M45.1 606.8h0M43.2 606.4h0M42.4 606.7h0M44.2 608h0M41.4 605.1h0M43.4 606.6h0M40.8 603.2h0M41.3 605.7h0M38.6 602.4h0M39.4 601.2h0M39.7 604h0M40.1 604.8h0M37.8 597h0M39 601.2h0M38.5 600.9h0M38.9 601.2h0M37.8 599.9h0M38.6 599.2h0M36.8 596.7h0M37.2 594.7h0M36.7 595.4h0M35.6 592.9h0M35.8 594.1h0M36.2 593.9h0" stroke="#1f2d5c" stroke-width="1.9" stroke-linecap="round" fill="none"/>
<path d="M42.1 593.6h0M40.4 592.4h0M40.2 594.8h0M46.4 590.2h0M41.4 589.8h0M43.1 591h0M51.2 594.5h0M42.8 591.6h0M41.1 597.3h0M48.6 596.6h0M46.7 591.7h0M45.9 594.1h0M44.8 588.3h0M43.3 590.9h0M38.5 589.7h0M41.8 597h0M37.4 595.1h0M44.1 590.8h0M43.3 590.8h0M46.6 594.6h0M44.3 597.7h0M52.1 594h0" stroke="#0a9fcf" stroke-width="1.9" stroke-linecap="round" fill="none"/>
<path d="M46.2 596.3h0M45.8 593.1h0M44.2 591.1h0M43 597.4h0M47.9 593.9h0M38.4 596h0M41.8 596.9h0M37.8 595.6h0M42.8 594h0M41.6 596.4h0M47.1 590.7h0M42.6 590h0M48.6 591h0M41.7 591.4h0M43.9 594.7h0M41.5 589.2h0M43.1 593.9h0M47.8 592.7h0M38.4 592.3h0M50.7 590.7h0M52.2 592.5h0" stroke="#234e90" stroke-width="1.9" stroke-linecap="round" fill="none"/>
<path d="M38.5 595.5h0M43.6 591.8h0M42.8 591.6h0M42.7 590.5h0M46.8 596.6h0M36 592.8h0M49.5 593.4h0M42.2 591.7h0M43.6 591.6h0M50 592h0M37.8 590h0M48.3 592.6h0M46.9 590.1h0M39.8 596.5h0M45.6 592.8h0M46 591.1h0M51 591.3h0M40 597h0M36.9 594.1h0" stroke="#1f2d5c" stroke-width="1.9" stroke-linecap="round" fill="none"/>
<path d="M45.4 590.6h0M40.3 594.6h0M46.8 590.2h0M48.1 595.7h0M46.9 595.5h0M38.6 593.7h0M43.3 589h0M44.4 594.1h0" stroke="#3676b8" stroke-width="1.9" stroke-linecap="round" fill="none"/>
<path d="M42.3 599.2h0M43.5 600.7h0M49.9 598h0M42.7 599.9h0M51.4 598.4h0M49.3 598.7h0M49.3 598.7h0M47.1 598h0M48.3 595.7h0M44.5 601.6h0M48 599.8h0M45.5 598.1h0M42.1 600.5h0M44.2 600.8h0M46.9 601.6h0M42.1 601.2h0M43.2 600.9h0" stroke="#1f2d5c" stroke-width="1.9" stroke-linecap="round" fill="none"/>
<path d="M45.5 596.5h0M48 602.6h0M45.3 600.8h0M49.7 601.7h0M48.8 599.6h0M45.6 598.7h0M45.7 597h0M44.9 602.5h0" stroke="#234e90" stroke-width="1.9" stroke-linecap="round" fill="none"/>
<path d="M52 590h0M53 593h0M50 594h0M51.5 597h0M52.5 600.5h0" stroke="#0a9fcf" stroke-width="1.9" stroke-linecap="round" fill="none"/>
<path d="M34.5 588.5h0M35 590.5h0M36.5 593h0" stroke="#1f2d5c" stroke-width="2" stroke-linecap="round" fill="none"/>
<path d="M67 562.3h0M63.4 576h0M66 580h0M65.5 593.6h0M62.4 596.7h0M80 599h0M100 600.3h0M95.5 635.3h0M121 638.5h0M120.5 640h0" stroke="#111111" stroke-width="2.1" stroke-linecap="round" fill="none"/>
<path d="M63.9 589.6h0M72.5 597.5h0" stroke="#df0f80" stroke-width="2" stroke-linecap="round" fill="none"/>
<path d="M71.5 597.5h0M67 596h0M82.5 591h0" stroke="#fdc5aa" stroke-width="1.7" stroke-linecap="round" fill="none"/>
<path d="M72 607.5h0M72.5 622h0M71 632h0M75 640h0" stroke="#dc1f3b" stroke-width="1.8" stroke-linecap="round" fill="none"/>
<path d="M75 640.5h0" stroke="#2a4da0" stroke-width="1.8" stroke-linecap="round" fill="none"/>
<path d="M62.5 621.5h0" stroke="#5c9bc9" stroke-width="2" stroke-linecap="round" fill="none"/>
<polygon points="99.6,561.5 99.3,562.7 98.7,563.8 98.2,564.8 97.6,565.7 96.9,566.6 96.3,567.4 95.5,568.2 94.6,568.8 93.7,569.3 92.6,569.5 91.5,569.4 90.5,569 89.7,568.3 88.9,567.5 88.2,566.7 87.5,565.9 86.8,565 86.2,563.9 86,562.7 86,561.5 86.3,560.3 86.6,559.2 87,558.1 87.4,557 87.9,556 88.6,555.1 89.5,554.5 90.5,554.1 91.6,553.9 92.6,553.8 93.6,554 94.6,554.4 95.4,555 96.2,555.7 96.9,556.4 97.7,557.2 98.5,558 99.2,559 99.6,560.2" fill="#a01b5e"/>
<path d="M90 553.5h0M93.3 553.8h0M87.7 566.1h0M87.7 556.2h0M86.4 560.8h0M99.6 561h0M96.8 556.9h0M97.8 565.8h0M100.2 561.1h0M96 555.7h0M90.5 554.7h0M96.7 555.2h0M85.5 560.9h0M99 563.5h0M95.8 556.1h0M89.3 555h0M95.3 555.1h0M88.4 567.2h0M99.1 564.1h0M87.3 557h0M96.9 556h0M94.1 554.5h0M96 555.7h0M90.4 570.1h0M95.3 554.1h0M89.7 555.1h0M87.8 556.4h0M99.5 561.8h0M96.8 567.2h0M85.9 564.7h0M86.3 558.4h0M85.9 560.9h0M88.6 555.9h0M92.3 568.6h0M87.8 556.9h0M88.4 556.2h0M98.6 555.1h0M97.1 555.6h0M92.2 554.2h0M98.9 559.8h0M94.9 555h0M93.7 571.6h0M98.6 558.4h0M97.2 565.3h0M94.1 568.4h0M95.9 555.6h0M87.8 566h0M88.9 567.3h0M86.1 564.4h0M98.9 558.5h0M91.6 570.1h0M94.7 554.2h0M96.1 556.6h0M94.1 554.1h0M87.4 565.7h0M91.4 570.8h0M89 566.9h0M96.7 556.1h0M97.5 566.5h0M98.6 557h0M91.3 568.8h0M97 556.7h0" stroke="#a01b5e" stroke-width="1.7" stroke-linecap="round" fill="none"/>
<path d="M90.3,567 L89.5,572 L87.9,577.8 L87.5,583 L87.3,588.5" fill="none" stroke="#a01b5e" stroke-width="2.6" stroke-linecap="round" stroke-linejoin="round"/>
<path d="M88.5,581 L92,582.6 L95.6,585" fill="none" stroke="#a01b5e" stroke-width="1.8" stroke-linecap="round" stroke-linejoin="round"/>
<path d="M88,585 L91.5,586.5 L94.4,588.5" fill="none" stroke="#a01b5e" stroke-width="1.6" stroke-linecap="round" stroke-linejoin="round"/>
<path d="M88.5,578 L91.5,578" fill="none" stroke="#a01b5e" stroke-width="1.4" stroke-linecap="round" stroke-linejoin="round"/>
<path d="M88,589 L89.5,591" fill="none" stroke="#a01b5e" stroke-width="1.6" stroke-linecap="round" stroke-linejoin="round"/>
<path d="M86.5 576.5h0M86.4 580h0" stroke="#a01b5e" stroke-width="1.9" stroke-linecap="round" fill="none"/>
<path d="M74.5,589.5 L80,590.5 L85.5,588.5" fill="none" stroke="#3a7d9c" stroke-width="1.8" stroke-linecap="round" stroke-linejoin="round"/>
<path d="M76 591.5h0M78.5 590.5h0" stroke="#3a7d9c" stroke-width="1.8" stroke-linecap="round" fill="none"/>
<path d="M84.5,591.5 L83.9,596 L83.7,600.4" fill="none" stroke="#df0f80" stroke-width="1.8" stroke-linecap="round" stroke-linejoin="round"/>
<path d="M84.2,602 L85,607 L85.5,612 L86,616" fill="none" stroke="#6a0dab" stroke-width="1.8" stroke-linecap="round" stroke-linejoin="round"/>
<path d="M90.3 603.3h0M89.1 606.3h0M86.5 610h0" stroke="#8b2aa8" stroke-width="1.9" stroke-linecap="round" fill="none"/>
<path d="M84.5 592.2h0" stroke="#111111" stroke-width="2" stroke-linecap="round" fill="none"/>
<path d="M79 603.9h0M101.5 602.1h0" stroke="#111111" stroke-width="2.1" stroke-linecap="round" fill="none"/>
<polygon points="124.6,564.2 125.7,568.3 126.2,573.1 127.6,576.4 130.2,578.4 132.4,582.6 133.2,587.9 132.3,593.5 128.4,596.9 124.6,599.8 119.6,596.8 114.1,595.8 111.9,593.6 113.8,589 118.1,584.6 119.4,581.6 122.2,578.9 123,574.2 123,569.5 123.5,565.9" fill="#a01b5e"/>
<path d="M125.4 564.4h0M122.7 566.7h0M124.5 566.4h0M124.3 564.7h0M125.6 564.8h0M125.4 567.8h0M125.5 565.6h0M125.8 565.4h0M124.5 565h0M125.2 565h0M124 564.3h0M125.5 570.1h0M126.1 569.7h0M126 570.5h0M126.2 570.7h0M125.6 572.2h0M125.4 570.3h0M126 570.5h0M125.2 571.6h0M128.1 576.8h0M127.3 573.6h0M127.7 574.6h0M126 573.3h0M126.1 574.6h0M126.2 574.6h0M128 576.1h0M129.8 576.9h0M128.9 577h0M129.6 576.9h0M130.1 578.1h0M129.5 576.4h0M131.8 583.2h0M130.6 579.9h0M132 580.5h0M131.5 580h0M130.4 579.4h0M131.3 578.9h0M131.5 581.8h0M131.6 580.4h0M132.1 585h0M131.9 584.7h0M133.3 583.8h0M132.8 587.1h0M134 586.8h0M133 583.5h0M131.9 583.9h0M132 586.6h0M133.5 583.3h0M132.2 589.1h0M133.3 589.8h0M132.4 589.1h0M131.6 591h0M132.2 587.4h0M133.4 588.7h0M132.2 589.9h0M132.5 589.4h0M132 590.6h0M129.2 596.5h0M130 595.2h0M132 595h0M130.4 594.1h0M132.3 594h0M128.9 597.4h0M128.4 596.1h0M129.6 595.9h0M129.6 595.3h0M127.5 598.2h0M126.1 598.6h0M126.1 599h0M125.4 598.7h0M123.8 599.4h0M127.5 596h0M126.4 598.3h0M127 598.8h0M123 599h0M120.6 598.5h0M119.4 596.4h0M124.3 599.7h0M119.4 597h0M122.6 599.3h0M120.5 598.3h0M122.5 598.7h0M120 598.1h0M123.5 598.3h0M117.9 596.3h0M118.6 595.7h0M116.2 596.7h0M117 596.1h0M117.4 596.7h0M119.5 596.2h0M119.3 595.8h0M115.7 595.6h0M118.9 596.4h0M114.8 596.2h0M113 594.2h0M112.3 593.1h0M112.6 594.2h0M113.4 595.2h0M114.2 594.7h0M113.3 590.7h0M111.5 593h0M113.7 590.7h0M112.9 589.7h0M112 590.4h0M112.2 590.1h0M113.2 589.2h0M112.3 591.4h0M116.8 586.2h0M115.1 588.2h0M115.8 587.1h0M117.7 585.1h0M115.8 587.9h0M117.3 585h0M115.8 586.4h0M116.5 585.8h0M116 585.3h0M117.1 586.6h0M119.2 583.7h0M118.1 583.5h0M117.5 585h0M118.2 584.4h0M119.1 582.3h0M119.2 584.3h0M121 580.5h0M122.4 578.7h0M121.2 579.9h0M121.8 578.8h0M120.9 580.4h0M119.2 581.6h0M120.4 579.9h0M123.2 578.2h0M123.2 575.3h0M122.1 575.2h0M122.6 577.8h0M121.9 577h0M122.6 573.9h0M122.3 574.8h0M123.2 577.8h0M123.7 569.5h0M122.2 571.1h0M123.2 573.4h0M123.6 570.1h0M123.5 572.5h0M122.2 572.7h0M123.1 571.1h0M123.4 572h0M123.7 567.5h0M123.8 568.2h0M124.2 566.3h0M122.3 566.6h0M122.8 569.8h0M122.5 566.5h0" stroke="#a01b5e" stroke-width="2" stroke-linecap="round" fill="none"/>
<path d="M113.2 582.5h0M122.5 564.2h0M124.5 561.5h0" stroke="#fdc5aa" stroke-width="1.9" stroke-linecap="round" fill="none"/>
<path d="M123 562.5h0" stroke="#3a7d9c" stroke-width="1.8" stroke-linecap="round" fill="none"/>
<path d="M138.5 581.5h0M139.5 581h0" stroke="#a01b5e" stroke-width="2" stroke-linecap="round" fill="none"/>
<path d="M14,612 L17,609 L20,613 L23,619 L26,624 L22,626 L17,627.5 L11,627 L9,625 L11,619 Z" fill="#f590a4"/>
<path d="M15 616.1h0M11.8 620.1h0M20.7 618.6h0M11.6 616.9h0M13 612.8h0M11.7 621h0M15.7 619.6h0M12.6 615.4h0M12.7 621.2h0M19.3 623.4h0M13.5 623h0M9.7 617.2h0M12.7 615.2h0M11.1 622.9h0M18 622.3h0M11.4 622.3h0M11 623.5h0M12.3 622.1h0M11.2 615.2h0M10 619.8h0" stroke="#f590a4" stroke-width="1.7" stroke-linecap="round" fill="none"/>
<path d="M13 621.2h0M11.9 622.9h0M12.3 624.7h0M10.7 620.8h0M11.4 625.4h0M12.6 618.1h0M10.7 624.4h0M14.2 623.9h0M11.9 621.9h0" stroke="#c0383b" stroke-width="1.7" stroke-linecap="round" fill="none"/>
<path d="M14.4 625.3h0M15.3 622.3h0M11.9 618.9h0M9.9 622.6h0M12.5 621.2h0M14.4 623.8h0M14.1 619.9h0M13.4 622.7h0M14.5 625h0M14.8 623.5h0M10.7 621.6h0" stroke="#9e1c25" stroke-width="1.7" stroke-linecap="round" fill="none"/>
<path d="M15.3 609.5h0M14.2 610.5h0" stroke="#9e1c25" stroke-width="1.8" stroke-linecap="round" fill="none"/>
<path d="M62.5 623.5h0M64 623h0M63.5 625h0M65 624.8h0M66 626.5h0M64.5 627h0M66.5 628.5h0M67.5 630h0M68.5 631h0M66.8 631.5h0M69 632.8h0M68 633.5h0M65.5 622.5h0M71.9 621.7h0M71.3 634.8h0" stroke="#dc1f3b" stroke-width="2.4" stroke-linecap="round" fill="none"/>
<path d="M61.8 621.1h0M60.8 620.6h0" stroke="#5c9bc9" stroke-width="2" stroke-linecap="round" fill="none"/>
<path d="M72.5 607.5h0" stroke="#c0383b" stroke-width="2" stroke-linecap="round" fill="none"/>
<path d="M76 603.9h0" stroke="#2a4da0" stroke-width="1.9" stroke-linecap="round" fill="none"/>
<path d="M72.5 637h0" stroke="#fdc5aa" stroke-width="1.9" stroke-linecap="round" fill="none"/>
<path d="M86.1,617 L85.5,621 L84.3,626.5" fill="none" stroke="#fdc5aa" stroke-width="2.6" stroke-linecap="round" stroke-linejoin="round"/>
<polygon points="85.3,619.4 84.1,627.7 86.6,629.7 87.9,633.7 87.6,638.1 85.2,641.9 83.6,643.7 80.5,643.1 77.4,639.8 76.6,634.7 78.7,630.8 81.7,628.9" fill="#fdc5aa"/>
<path d="M84.3 623.6h0M81.4 628.6h0M82.8 625.6h0M85.7 619.5h0M81.7 626.9h0M83.8 624.5h0M82.4 627.6h0M83.3 623.6h0M84.4 622.5h0M81.9 628h0M82.7 624.3h0M81.4 629.2h0M85.1 621.3h0M82.6 626.5h0M82.7 626h0M84.6 624.4h0M84.5 622.2h0M84.7 626.7h0M85.3 624.7h0M85.5 621.5h0M85.6 622.7h0M85.6 621.5h0M85 621.2h0M84.4 622.3h0M84.1 624h0M84.9 624h0M83.6 626.2h0M86.2 628.8h0M85.9 628.4h0M87 629.3h0M84.7 627.3h0M84.9 628.1h0M87.9 631.4h0M87 632h0M86.6 631.2h0M87.4 633.5h0M86.4 631.5h0M86.7 631.9h0M87.6 638h0M88.4 635.1h0M87.6 634.7h0M86.9 636h0M87.5 637h0M88.3 636.5h0M88.1 635.7h0M87.7 639.3h0M87.4 638h0M87.4 638.4h0M87.8 639.1h0M86.9 639.3h0M87.6 638.8h0M85.1 640.2h0M84.5 641.6h0M85 643.5h0M85.2 642.5h0M83.5 642.9h0M81.5 643.8h0M82.1 643.8h0M80.1 642.7h0M81.9 643.4h0M83.2 643.9h0M79.2 641.5h0M78.6 641.2h0M77.4 640.8h0M78.6 641.5h0M77.9 641.2h0M77.1 640.4h0M78 639.6h0M76.3 636.8h0M76.7 639.1h0M77.7 639.5h0M77.4 635.3h0M76.9 638.3h0M77.3 635.5h0M77.7 639.8h0M77.4 638.8h0M78.3 632.1h0M76.5 635.4h0M78.8 631.5h0M76.8 634.5h0M76.4 634.4h0M78.5 631.9h0M77.6 633.3h0M81.2 629.1h0M79 630.5h0M80.9 628.8h0M79.4 629.8h0M80.1 630.3h0" stroke="#fdc5aa" stroke-width="1.9" stroke-linecap="round" fill="none"/>
<path d="M90 631h0M92 639h0M93.5 637.5h0" stroke="#fdc5aa" stroke-width="1.8" stroke-linecap="round" fill="none"/>
<polygon points="105,635.4 107,638.3 111.1,641.3 113.4,645.4 114.7,648.6 110.2,651.7 107.1,653.9 104,651.4 100.1,648.3 94.4,646.4 92.7,645.4 96.8,643.3 101.7,641.6 102.9,638.4" fill="#fde6da"/>
<path d="M103.1 636.8h0M103 638h0M103 638.6h0M103.2 637.3h0M103.8 635.7h0M104.2 637.1h0M106.8 637.7h0M104.9 635.5h0M106.6 637.3h0M105.2 636.4h0M106.4 636.8h0M107.2 639h0M110.1 641h0M110.5 640.4h0M110 640.7h0M109.3 640.9h0M106.9 638.1h0M108 638.4h0M111.4 640.7h0M113.8 645.9h0M111.8 643.8h0M112.1 643.3h0M113.5 644.4h0M112.9 644.4h0M111.5 643.5h0M112.8 644.6h0M115.3 648.6h0M113.3 646.7h0M113.6 648h0M114.8 647.5h0M114.5 647.3h0M113.8 650.1h0M112.6 649.5h0M112.3 650h0M113.8 648.1h0M110.7 651.5h0M114.3 649.9h0M113.8 649.1h0M114.3 649.5h0M110.7 651.7h0M108.1 652.9h0M110.7 651.7h0M108.2 654h0M107.3 653.8h0M108.8 652.3h0M105.2 653h0M104.8 652.4h0M106.9 653.1h0M104.4 651.4h0M105.1 651h0M103.5 651.1h0M101.8 648.7h0M100.2 648.9h0M101.9 648.4h0M100.4 647.9h0M103.5 651.1h0M102 649.9h0M103.7 651h0M96.2 646.7h0M98.2 648.2h0M96.8 646.8h0M94.4 647.2h0M95.7 646.1h0M96.8 647.1h0M95.3 646.7h0M97.6 647.9h0M98.6 647.9h0M93.8 645.3h0M93.3 646.1h0M92.5 645.4h0M96.1 643.1h0M96.1 644.5h0M93.2 645.1h0M93.4 644.6h0M94 644.1h0M95.2 644.6h0M97.3 642.7h0M99 641.8h0M97.9 642.8h0M98.6 643h0M99.1 641.6h0M97.1 642.7h0M97.4 642.4h0M97.8 642.7h0M96.9 643.3h0M103.2 638.6h0M101.9 641.4h0M102 640.6h0M102.4 639.4h0M102.9 639.9h0" stroke="#fde6da" stroke-width="1.9" stroke-linecap="round" fill="none"/>
<path d="M118.2 648.4h0M117.3 649h0M119 647.8h0" stroke="#e06a50" stroke-width="2.1" stroke-linecap="round" fill="none"/>
<polygon points="57.9,669 57.9,669.7 57.8,670.5 57.7,671.2 57.3,671.9 56.9,672.4 56.4,672.9 55.9,673.4 55.3,673.8 54.7,674.3 54,674.6 53.2,674.7 52.5,674.6 51.8,674.1 51.3,673.5 50.9,672.7 50.6,671.9 50.4,671.2 50.3,670.5 50.1,669.7 50.1,669 50.1,668.3 50.3,667.5 50.4,666.8 50.7,666.1 51,665.4 51.4,664.7 51.9,664.1 52.6,663.7 53.3,663.6 54,663.7 54.7,663.9 55.3,664.1 56,664.4 56.6,664.7 57.2,665.1 57.7,665.8 57.9,666.6 58,667.5 57.9,668.3" fill="#a01b5e"/>
<path d="M54.5 664.5h0M55.5 674.3h0M53.4 663.7h0M55 674.7h0M53.9 663.3h0M50.6 672h0M55.8 673.4h0M50.8 672.1h0M50.1 667.1h0M54.7 663.4h0M56.1 664.5h0M50.2 671.4h0M57.7 668.2h0M54.4 664.1h0M55.5 673.8h0M54.1 663.5h0M52.7 663.5h0M54.7 674.7h0M58.5 670h0M50 667h0M50.1 670.1h0M49.8 670.2h0M50.4 672.6h0M56 664.3h0M54.4 663.5h0M56.5 663.7h0M57.2 665.2h0M57.7 670h0M57.5 664.9h0M50.9 665.8h0M52.2 674.3h0M58.1 667.4h0M51.5 674h0M57.7 669.7h0M50.1 671.9h0M57 672.7h0M51 662.1h0M54.5 675.2h0M58 666.1h0M49.8 668.8h0M52.8 662.9h0M50.2 669.8h0" stroke="#a01b5e" stroke-width="1.7" stroke-linecap="round" fill="none"/>
<polygon points="58,662.5 58,662.9 58,663.3 57.9,663.7 57.7,664.1 57.5,664.4 57.2,664.6 56.9,664.7 56.6,664.8 56.3,664.9 56,665 55.7,665.1 55.3,665.1 55,664.9 54.8,664.6 54.6,664.3 54.4,664 54.2,663.7 54,663.3 53.9,662.9 53.9,662.5 54,662.1 54.1,661.7 54.3,661.4 54.4,661 54.6,660.7 54.8,660.3 55,660.1 55.4,660 55.7,660 56,660 56.3,660 56.6,660.1 56.9,660.2 57.2,660.4 57.5,660.6 57.7,660.9 57.9,661.3 58,661.7 58,662.1" fill="#a01b5e"/>
<path d="M54 662.4h0M54.9 664.9h0M53.2 661.8h0M57.8 662.3h0M54.4 662.6h0M58.3 663.3h0M58.2 662.6h0M57.7 660.7h0M57.9 661h0M54.6 665.4h0M54.8 664.6h0M53.8 663.5h0M54.7 660.6h0M54.6 660.7h0M55.7 664.7h0M53.3 661h0M57.9 664.7h0M54.9 659.9h0M56.4 660h0M53.7 662.3h0" stroke="#a01b5e" stroke-width="1.7" stroke-linecap="round" fill="none"/>
<path d="M56.5 659.5h0" stroke="#333333" stroke-width="1.6" stroke-linecap="round" fill="none"/>
<text x="178.8" y="494.6">Cell types</text>
<rect x="179.2" y="498.8" width="9.8" height="9.7" fill="#1f2d5c"/>
<text x="192.8" y="505.1">CD4<tspan dy="-3.0" font-size="6.4">+</tspan><tspan dy="3.0"> T cells</tspan></text>
<rect x="179.2" y="508.2" width="9.8" height="9.7" fill="#234e90"/>
<text x="192.8" y="514.7">CD4<tspan dy="-3.0" font-size="6.4">+</tspan><tspan dy="3.0"> T</tspan><tspan dy="2.2" font-size="6.2">cm</tspan></text>
<rect x="179.2" y="517.7" width="9.8" height="9.7" fill="#3676b8"/>
<text x="192.8" y="524.2">CD4<tspan dy="-3.0" font-size="6.4">+</tspan><tspan dy="3.0"> T</tspan><tspan dy="2.2" font-size="6.2">em</tspan></text>
<rect x="179.2" y="527.1" width="9.8" height="9.7" fill="#5c9bc9"/>
<text x="192.8" y="533.8">CD8<tspan dy="-3.0" font-size="6.4">+</tspan><tspan dy="3.0"> T</tspan><tspan dy="2.2" font-size="6.2">cm</tspan></text>
<rect x="179.2" y="536.5" width="9.8" height="9.7" fill="#a7c7e1"/>
<text x="192.8" y="543.3">CD8<tspan dy="-3.0" font-size="6.4">+</tspan><tspan dy="3.0"> T</tspan><tspan dy="2.2" font-size="6.2">em</tspan></text>
<rect x="179.2" y="546" width="9.8" height="9.7" fill="#0a9fcf"/>
<text x="192.8" y="552.9">T<tspan dy="2.2" font-size="6.2">regs</tspan></text>
<rect x="179.2" y="555.4" width="9.8" height="9.7" fill="#3a7d9c"/>
<text x="192.8" y="562.5">NK cells</text>
<rect x="179.2" y="564.8" width="9.8" height="9.7" fill="#f590a4"/>
<text x="192.8" y="572">Naive B cells</text>
<rect x="179.2" y="574.2" width="9.8" height="9.7" fill="#c0383b"/>
<text x="192.8" y="581.6">Memory B cells</text>
<rect x="179.2" y="583.7" width="9.8" height="9.7" fill="#9e1c25"/>
<text x="192.8" y="591.1">CS memory B cells</text>
<rect x="179.2" y="593.1" width="9.8" height="9.7" fill="#a01b5e"/>
<text x="192.8" y="600.7">PCs</text>
<rect x="179.2" y="602.5" width="9.8" height="9.7" fill="#df0f80"/>
<text x="192.8" y="610.3">CLP</text>
<rect x="179.2" y="612" width="9.8" height="9.7" fill="#6a0dab"/>
<text x="192.8" y="619.8">GMP</text>
<rect x="179.2" y="621.4" width="9.8" height="9.7" fill="#8b2aa8"/>
<text x="192.8" y="629.4">CMP</text>
<rect x="179.2" y="630.8" width="9.8" height="9.7" fill="#dc1f3b"/>
<text x="192.8" y="638.9">Eosinophils</text>
<rect x="179.2" y="640.2" width="9.8" height="9.7" fill="#e06a50"/>
<text x="192.8" y="648.5">Macrophages</text>
<rect x="179.2" y="649.7" width="9.8" height="9.7" fill="#fdc5aa"/>
<text x="192.8" y="658.1">Neutrophils</text>
<rect x="179.2" y="659.1" width="9.8" height="9.7" fill="#fde6da"/>
<text x="192.8" y="667.6">Monocytes</text>
<rect x="179.2" y="668.5" width="9.8" height="9.7" fill="#000000"/>
<text x="192.8" y="677.2">Other cell types</text>
<text x="284.6" y="286.6" class="pls">e</text>
<rect x="299" y="293" width="48.8" height="11" fill="#d3ea8c"/>
<text x="323.4" y="301.9" text-anchor="middle">MM1</text>
<rect x="352" y="293" width="34.4" height="11" fill="#fba6a5"/>
<text x="369.2" y="301.9" text-anchor="middle">MM3</text>
<rect x="390.6" y="293" width="8.6" height="11" fill="#fdc57f"/>
<rect x="403.6" y="293" width="36.4" height="11" fill="#ee7d10"/>
<text x="421.8" y="301.9" text-anchor="middle">MM6</text>
<rect x="444.3" y="293" width="34.8" height="11" fill="#e1c1ef"/>
<text x="461.7" y="301.9" text-anchor="middle">MM7</text>
<rect x="483.8" y="293" width="47.5" height="11" fill="#e580bf"/>
<text x="507.5" y="301.9" text-anchor="middle">MM8</text>
<rect x="535.9" y="293" width="25.4" height="11" fill="#b4581e"/>
<text x="548.6" y="301.9" text-anchor="middle">MM9</text>
<rect x="565" y="293" width="6.9" height="11" fill="#b9d5e8"/>
<rect x="575.4" y="293" width="22.6" height="11" fill="#2f79b8"/>
<text x="586.7" y="301.9" text-anchor="middle">ND2</text>
<text x="396.2" y="290.5" text-anchor="middle">MM5</text>
<text x="569.4" y="290.6" text-anchor="middle">ND1</text>
<rect x="299" y="306.9" width="48.8" height="11" fill="#c3d3ee"/>
<text x="323.4" y="315.8" text-anchor="middle">6</text>
<rect x="352" y="306.9" width="34.4" height="11" fill="#a560c7"/>
<text x="369.2" y="315.8" text-anchor="middle">19</text>
<rect x="390.6" y="306.9" width="8.6" height="11" fill="#5dc6d7"/>
<text x="394.9" y="315.8" text-anchor="middle">15</text>
<rect x="403.6" y="306.9" width="36.4" height="11" fill="#e6e29c"/>
<text x="421.8" y="315.8" text-anchor="middle">4</text>
<rect x="444.3" y="306.9" width="34.8" height="11" fill="#2f74b5"/>
<text x="461.7" y="315.8" text-anchor="middle">8</text>
<rect x="483.8" y="306.9" width="47.5" height="11" fill="#dcc2e6"/>
<path d="M486.9 306.9h0.8v11h-0.8zM488.5 306.9h0.8v11h-0.8zM490 306.9h0.6v11h-0.6zM491.4 306.9h0.5v11h-0.5zM498.9 306.9h0.6v11h-0.6zM500.5 306.9h0.8v11h-0.8zM502.2 306.9h0.9v11h-0.9zM503.8 306.9h0.8v11h-0.8zM508.1 306.9h0.9v11h-0.9zM511.4 306.9h0.7v11h-0.7zM512.8 306.9h0.8v11h-0.8zM514.6 306.9h0.7v11h-0.7zM518.1 306.9h0.8v11h-0.8zM521.6 306.9h0.9v11h-0.9zM525.7 306.9h0.7v11h-0.7zM527.1 306.9h0.7v11h-0.7zM528.3 306.9h0.9v11h-0.9z" fill="#cca4ae"/>
<text x="507.5" y="315.8" text-anchor="middle">10/17</text>
<rect x="535.9" y="306.9" width="25.4" height="11" fill="#ff9e9b"/>
<text x="548.6" y="315.8" text-anchor="middle">2</text>
<rect x="565" y="306.9" width="6.9" height="11" fill="#5dc6d7"/>
<text x="568.5" y="315.8" text-anchor="middle">15</text>
<rect x="575.4" y="306.9" width="22.6" height="11" fill="#2ca02c"/>
<text x="586.7" y="315.8" text-anchor="middle">16</text>
<rect x="299" y="322.8" width="48.8" height="10.9" fill="#f4f4f4"/>
<path d="M306 322.8h0.8v10.9h-0.8z" fill="#e3a7a3"/>
<path d="M307.4 322.8h0.6v10.9h-0.6zM313 322.8h0.6v10.9h-0.6z" fill="#e6b4b1"/>
<path d="M311 322.8h0.5v10.9h-0.5z" fill="#e6b3b0"/>
<rect x="352" y="322.8" width="34.4" height="10.9" fill="#f4f4f4"/>
<path d="M352 322.8h1v10.9h-1zM353 322.8h0.8v10.9h-0.8zM353.7 322.8h1.3v10.9h-1.3zM355 322.8h1.3v10.9h-1.3zM356.2 322.8h1.1v10.9h-1.1zM357.2 322.8h0.8v10.9h-0.8zM358 322.8h1.3v10.9h-1.3zM359.3 322.8h1.4v10.9h-1.4zM360.6 322.8h0.7v10.9h-0.7zM361.3 322.8h1.5v10.9h-1.5zM362.8 322.8h1.1v10.9h-1.1zM363.8 322.8h0.8v10.9h-0.8zM364.6 322.8h0.6v10.9h-0.6zM365.2 322.8h1.4v10.9h-1.4zM366.6 322.8h1.5v10.9h-1.5zM368 322.8h0.6v10.9h-0.6zM368.6 322.8h0.9v10.9h-0.9zM369.5 322.8h0.5v10.9h-0.5zM370 322.8h0.6v10.9h-0.6zM370.6 322.8h1.3v10.9h-1.3zM371.8 322.8h1.5v10.9h-1.5zM373.3 322.8h1.3v10.9h-1.3zM374.6 322.8h1.1v10.9h-1.1zM375.6 322.8h1.5v10.9h-1.5zM377.1 322.8h1.4v10.9h-1.4zM378.4 322.8h0.7v10.9h-0.7zM379 322.8h1.3v10.9h-1.3zM380.3 322.8h1.6v10.9h-1.6zM381.9 322.8h1.6v10.9h-1.6zM383.4 322.8h1.4v10.9h-1.4zM384.8 322.8h1.2v10.9h-1.2zM386 322.8h0.5v10.9h-0.5z" fill="#c7281d"/>
<rect x="390.6" y="322.8" width="8.6" height="10.9" fill="#f4f4f4"/>
<path d="M390.9 322.8h0.7v10.9h-0.7z" fill="#c7281d"/>
<path d="M392.2 322.8h0.8v10.9h-0.8z" fill="#da7d77"/>
<path d="M393.4 322.8h0.6v10.9h-0.6z" fill="#e6b4b0"/>
<rect x="403.6" y="322.8" width="36.4" height="10.9" fill="#f4f4f4"/>
<path d="M403.6 322.8h1.6v10.9h-1.6zM405.2 322.8h1.2v10.9h-1.2zM406.3 322.8h0.8v10.9h-0.8zM407.1 322.8h1v10.9h-1zM408.1 322.8h1.4v10.9h-1.4zM409.4 322.8h1.2v10.9h-1.2zM410.6 322.8h1.5v10.9h-1.5zM412.9 322.8h0.7v10.9h-0.7zM413.5 322.8h0.6v10.9h-0.6zM414.1 322.8h1.2v10.9h-1.2zM415.2 322.8h0.8v10.9h-0.8zM416 322.8h0.7v10.9h-0.7zM416.7 322.8h0.8v10.9h-0.8zM417.5 322.8h1.2v10.9h-1.2zM422.8 322.8h1.6v10.9h-1.6zM424.4 322.8h1.6v10.9h-1.6zM425.9 322.8h1.3v10.9h-1.3zM428.8 322.8h0.6v10.9h-0.6zM429.3 322.8h1.3v10.9h-1.3zM433.7 322.8h0.6v10.9h-0.6zM435.6 322.8h0.7v10.9h-0.7zM437 322.8h1.1v10.9h-1.1zM438 322.8h1.4v10.9h-1.4zM439.4 322.8h0.7v10.9h-0.7z" fill="#c7281d"/>
<path d="M431.4 322.8h1.5v10.9h-1.5z" fill="#d7716a"/>
<path d="M432.9 322.8h0.9v10.9h-0.9z" fill="#e6b6b3"/>
<path d="M434.3 322.8h1.3v10.9h-1.3z" fill="#e4ada9"/>
<rect x="444.3" y="322.8" width="34.8" height="10.9" fill="#f4f4f4"/>
<path d="M444.3 322.8h0.6v10.9h-0.6zM444.8 322.8h1.1v10.9h-1.1zM445.9 322.8h1.2v10.9h-1.2zM447.1 322.8h1.3v10.9h-1.3zM448.3 322.8h0.7v10.9h-0.7zM449 322.8h1.5v10.9h-1.5zM450.4 322.8h1v10.9h-1zM451.4 322.8h1.2v10.9h-1.2zM452.6 322.8h1.3v10.9h-1.3zM453.8 322.8h1.3v10.9h-1.3zM455.1 322.8h1.6v10.9h-1.6zM456.7 322.8h1.6v10.9h-1.6zM458.2 322.8h1.2v10.9h-1.2zM459.4 322.8h0.6v10.9h-0.6zM460 322.8h1.5v10.9h-1.5zM461.4 322.8h1.3v10.9h-1.3zM462.6 322.8h1.4v10.9h-1.4zM464 322.8h0.7v10.9h-0.7zM464.7 322.8h1.2v10.9h-1.2zM465.8 322.8h0.9v10.9h-0.9zM466.6 322.8h0.9v10.9h-0.9zM467.5 322.8h1.2v10.9h-1.2zM468.6 322.8h1.2v10.9h-1.2zM469.8 322.8h1.1v10.9h-1.1zM470.8 322.8h0.8v10.9h-0.8zM471.6 322.8h1.3v10.9h-1.3zM472.9 322.8h1v10.9h-1zM473.8 322.8h0.6v10.9h-0.6zM474.4 322.8h1.4v10.9h-1.4zM475.7 322.8h1.1v10.9h-1.1zM476.7 322.8h1.4v10.9h-1.4zM478 322.8h0.9v10.9h-0.9zM478.9 322.8h0.2v10.9h-0.2z" fill="#c7281d"/>
<rect x="483.8" y="322.8" width="47.5" height="10.9" fill="#f4f4f4"/>
<path d="M490 322.8h0.5v10.9h-0.5z" fill="#d97871"/>
<path d="M494 322.8h0.5v10.9h-0.5z" fill="#df9792"/>
<path d="M496.5 322.8h0.5v10.9h-0.5z" fill="#e3a5a1"/>
<path d="M499 322.8h0.5v10.9h-0.5zM502 322.8h0.5v10.9h-0.5zM505 322.8h0.5v10.9h-0.5z" fill="#c7281d"/>
<path d="M509 322.8h0.6v10.9h-0.6z" fill="#e6b3b0"/>
<path d="M512 322.8h0.5v10.9h-0.5z" fill="#de918c"/>
<rect x="535.9" y="322.8" width="25.4" height="10.9" fill="#f4f4f4"/>
<path d="M535.9 322.8h1.2v10.9h-1.2zM537.1 322.8h1.3v10.9h-1.3zM538.4 322.8h1.4v10.9h-1.4zM542.4 322.8h1.1v10.9h-1.1zM543.5 322.8h0.9v10.9h-0.9zM544.3 322.8h1v10.9h-1zM546.3 322.8h1.1v10.9h-1.1zM547.3 322.8h0.6v10.9h-0.6zM549.1 322.8h1.5v10.9h-1.5zM550.5 322.8h1.5v10.9h-1.5zM552 322.8h0.9v10.9h-0.9zM553.5 322.8h1.5v10.9h-1.5zM554.9 322.8h1.4v10.9h-1.4zM556.2 322.8h0.7v10.9h-0.7zM556.9 322.8h1.5v10.9h-1.5zM558.4 322.8h1.1v10.9h-1.1zM559.5 322.8h1.2v10.9h-1.2zM560.6 322.8h0.7v10.9h-0.7z" fill="#c7281d"/>
<path d="M541.1 322.8h1.3v10.9h-1.3z" fill="#da807a"/>
<path d="M545.3 322.8h1v10.9h-1z" fill="#d97b74"/>
<path d="M547.9 322.8h1.2v10.9h-1.2z" fill="#e19f9a"/>
<path d="M552.8 322.8h0.7v10.9h-0.7z" fill="#e4aca8"/>
<rect x="565" y="322.8" width="6.9" height="10.9" fill="#f4f4f4"/>
<path d="M566.2 322.8h0.5v10.9h-0.5z" fill="#dd8a84"/>
<rect x="575.4" y="322.8" width="22.6" height="10.9" fill="#f4f4f4"/>
<path d="M576.6 322.8h0.5v10.9h-0.5z" fill="#e5b1ad"/>
<rect x="299" y="336.5" width="48.8" height="10.9" fill="#f4f4f4"/>
<path d="M299.6 336.5h0.4v10.9h-0.4z" fill="#dc857f"/>
<path d="M307 336.5h0.5v10.9h-0.5z" fill="#e1a09b"/>
<rect x="352" y="336.5" width="34.4" height="10.9" fill="#f4f4f4"/>
<rect x="390.6" y="336.5" width="8.6" height="10.9" fill="#f4f4f4"/>
<path d="M391.6 336.5h0.6v10.9h-0.6z" fill="#c7281d"/>
<path d="M392.6 336.5h0.9v10.9h-0.9z" fill="#dc8983"/>
<rect x="403.6" y="336.5" width="36.4" height="10.9" fill="#f4f4f4"/>
<path d="M434.4 336.5h0.4v10.9h-0.4z" fill="#e5b1ad"/>
<rect x="444.3" y="336.5" width="34.8" height="10.9" fill="#f4f4f4"/>
<path d="M444.3 336.5h1.5v10.9h-1.5z" fill="#e4aaa6"/>
<path d="M445.8 336.5h0.9v10.9h-0.9zM446.7 336.5h1.3v10.9h-1.3zM447.9 336.5h1v10.9h-1zM450.4 336.5h0.7v10.9h-0.7zM451 336.5h0.7v10.9h-0.7zM451.7 336.5h1.3v10.9h-1.3zM453.6 336.5h1.3v10.9h-1.3zM454.9 336.5h0.6v10.9h-0.6zM458.1 336.5h1.3v10.9h-1.3zM459.4 336.5h1.3v10.9h-1.3zM460.7 336.5h1.2v10.9h-1.2zM461.8 336.5h0.5v10.9h-0.5zM462.3 336.5h0.8v10.9h-0.8zM463.1 336.5h0.6v10.9h-0.6zM463.6 336.5h1.5v10.9h-1.5zM465 336.5h1.2v10.9h-1.2zM468.5 336.5h1.4v10.9h-1.4zM471.2 336.5h1.4v10.9h-1.4zM472.6 336.5h1.2v10.9h-1.2zM473.8 336.5h0.7v10.9h-0.7zM475.1 336.5h0.9v10.9h-0.9zM477.4 336.5h0.7v10.9h-0.7zM479 336.5h0.1v10.9h-0.1z" fill="#c7281d"/>
<path d="M455.5 336.5h1.4v10.9h-1.4z" fill="#e5afab"/>
<path d="M456.9 336.5h1.3v10.9h-1.3z" fill="#dc8882"/>
<path d="M466.2 336.5h1.1v10.9h-1.1z" fill="#db857f"/>
<path d="M467.3 336.5h1.2v10.9h-1.2z" fill="#db847e"/>
<path d="M469.8 336.5h1.4v10.9h-1.4z" fill="#de918b"/>
<path d="M474.4 336.5h0.7v10.9h-0.7z" fill="#d87670"/>
<rect x="483.8" y="336.5" width="47.5" height="10.9" fill="#f4f4f4"/>
<path d="M496.5 336.5h0.5v10.9h-0.5zM514 336.5h0.5v10.9h-0.5z" fill="#c7281d"/>
<path d="M500 336.5h0.5v10.9h-0.5z" fill="#d97b74"/>
<path d="M510.5 336.5h0.5v10.9h-0.5z" fill="#e2a19d"/>
<rect x="535.9" y="336.5" width="25.4" height="10.9" fill="#f4f4f4"/>
<rect x="565" y="336.5" width="6.9" height="10.9" fill="#f4f4f4"/>
<rect x="575.4" y="336.5" width="22.6" height="10.9" fill="#f4f4f4"/>
<rect x="299" y="350.2" width="48.8" height="10.9" fill="#f4f4f4"/>
<path d="M299 350.2h3.8v10.9h-3.8zM303.5 350.2h1.2v10.9h-1.2zM306.6 350.2h1.4v10.9h-1.4zM308.6 350.2h0.6v10.9h-0.6zM309.8 350.2h1.8v10.9h-1.8zM312.2 350.2h0.8v10.9h-0.8zM315 350.2h0.5v10.9h-0.5z" fill="#3b3ba0"/>
<path d="M305.2 350.2h0.8v10.9h-0.8z" fill="#b1b1d6"/>
<path d="M313.6 350.2h0.6v10.9h-0.6z" fill="#adadd4"/>
<path d="M316.2 350.2h0.4v10.9h-0.4z" fill="#b6b6d8"/>
<path d="M320.1 350.2h0.8v10.9h-0.8z" fill="#bcbcda"/>
<rect x="352" y="350.2" width="34.4" height="10.9" fill="#f4f4f4"/>
<path d="M352 350.2h31.5v10.9h-31.5zM384 350.2h2.4v10.9h-2.4z" fill="#3b3ba0"/>
<rect x="390.6" y="350.2" width="8.6" height="10.9" fill="#f4f4f4"/>
<path d="M390.6 350.2h3.6v10.9h-3.6z" fill="#3b3ba0"/>
<rect x="403.6" y="350.2" width="36.4" height="10.9" fill="#f4f4f4"/>
<path d="M403.6 350.2h1.5v10.9h-1.5zM405 350.2h0.5v10.9h-0.5zM405.5 350.2h1.6v10.9h-1.6zM407 350.2h1.1v10.9h-1.1zM408.1 350.2h1v10.9h-1zM409 350.2h0.9v10.9h-0.9zM409.8 350.2h0.7v10.9h-0.7zM410.5 350.2h0.7v10.9h-0.7zM411.2 350.2h0.7v10.9h-0.7zM411.9 350.2h1.3v10.9h-1.3zM413.2 350.2h0.8v10.9h-0.8zM414 350.2h0.7v10.9h-0.7zM414.7 350.2h0.6v10.9h-0.6zM415.3 350.2h1.3v10.9h-1.3zM416.5 350.2h1v10.9h-1zM417.5 350.2h1.4v10.9h-1.4zM418.8 350.2h0.6v10.9h-0.6zM419.4 350.2h1.5v10.9h-1.5zM420.9 350.2h0.6v10.9h-0.6zM421.5 350.2h1.3v10.9h-1.3zM422.7 350.2h1.4v10.9h-1.4zM424.1 350.2h1.4v10.9h-1.4zM425.4 350.2h1.3v10.9h-1.3zM426.6 350.2h1.4v10.9h-1.4zM428 350.2h1.2v10.9h-1.2zM429.1 350.2h0.7v10.9h-0.7zM429.8 350.2h0.7v10.9h-0.7zM430.4 350.2h1.3v10.9h-1.3zM431.7 350.2h1.2v10.9h-1.2zM432.8 350.2h1.2v10.9h-1.2zM433.9 350.2h0.8v10.9h-0.8zM434.7 350.2h1.6v10.9h-1.6zM436.3 350.2h0.7v10.9h-0.7zM436.9 350.2h0.6v10.9h-0.6zM437.4 350.2h1.4v10.9h-1.4zM438.7 350.2h1.2v10.9h-1.2zM439.9 350.2h0.1v10.9h-0.1z" fill="#3b3ba0"/>
<rect x="444.3" y="350.2" width="34.8" height="10.9" fill="#f4f4f4"/>
<path d="M444.3 350.2h1.3v10.9h-1.3zM445.5 350.2h0.9v10.9h-0.9zM446.4 350.2h1.4v10.9h-1.4zM447.7 350.2h1.6v10.9h-1.6zM449.2 350.2h1.1v10.9h-1.1zM450.3 350.2h1.2v10.9h-1.2zM451.5 350.2h0.9v10.9h-0.9zM452.3 350.2h1.2v10.9h-1.2zM453.5 350.2h1v10.9h-1zM454.4 350.2h1.5v10.9h-1.5zM455.8 350.2h0.8v10.9h-0.8zM456.5 350.2h0.7v10.9h-0.7zM457.2 350.2h1.6v10.9h-1.6zM458.8 350.2h1.5v10.9h-1.5zM460.2 350.2h0.6v10.9h-0.6zM460.8 350.2h1.3v10.9h-1.3zM462.1 350.2h0.8v10.9h-0.8zM462.9 350.2h1.4v10.9h-1.4zM464.2 350.2h0.6v10.9h-0.6zM464.8 350.2h1.4v10.9h-1.4zM466.1 350.2h1v10.9h-1zM467 350.2h0.5v10.9h-0.5zM467.5 350.2h0.8v10.9h-0.8zM468.3 350.2h0.6v10.9h-0.6zM468.8 350.2h1v10.9h-1zM469.8 350.2h0.8v10.9h-0.8zM470.5 350.2h1.4v10.9h-1.4zM472 350.2h1.6v10.9h-1.6zM473.5 350.2h1.2v10.9h-1.2zM474.7 350.2h0.8v10.9h-0.8zM475.4 350.2h1v10.9h-1zM476.4 350.2h0.9v10.9h-0.9zM477.3 350.2h0.7v10.9h-0.7zM477.9 350.2h0.6v10.9h-0.6zM478.4 350.2h0.7v10.9h-0.7z" fill="#3b3ba0"/>
<rect x="483.8" y="350.2" width="47.5" height="10.9" fill="#f4f4f4"/>
<path d="M483.8 350.2h1.3v10.9h-1.3zM509.9 350.2h1.2v10.9h-1.2z" fill="#9191c7"/>
<path d="M485.1 350.2h1v10.9h-1z" fill="#acacd3"/>
<path d="M486 350.2h0.8v10.9h-0.8z" fill="#9b9bcc"/>
<path d="M486.8 350.2h1.2v10.9h-1.2zM499.7 350.2h1v10.9h-1z" fill="#adadd4"/>
<path d="M488 350.2h1v10.9h-1zM489 350.2h0.9v10.9h-0.9zM489.9 350.2h1.4v10.9h-1.4zM491.2 350.2h1.2v10.9h-1.2zM492.3 350.2h0.8v10.9h-0.8zM493.1 350.2h0.7v10.9h-0.7zM493.8 350.2h1.6v10.9h-1.6zM495.4 350.2h1.5v10.9h-1.5zM496.9 350.2h1.6v10.9h-1.6zM499.1 350.2h0.7v10.9h-0.7zM501.7 350.2h1v10.9h-1zM502.6 350.2h1v10.9h-1zM503.6 350.2h1.1v10.9h-1.1zM504.7 350.2h1.4v10.9h-1.4zM507.3 350.2h1.3v10.9h-1.3zM511 350.2h1.5v10.9h-1.5zM512.5 350.2h1.5v10.9h-1.5zM514 350.2h0.7v10.9h-0.7zM514.6 350.2h1v10.9h-1zM516.6 350.2h1.2v10.9h-1.2zM517.7 350.2h1.1v10.9h-1.1zM518.7 350.2h0.6v10.9h-0.6zM519.3 350.2h1.2v10.9h-1.2zM520.4 350.2h0.6v10.9h-0.6zM521 350.2h1.5v10.9h-1.5zM522.5 350.2h1.2v10.9h-1.2zM523.7 350.2h0.9v10.9h-0.9zM526.1 350.2h0.7v10.9h-0.7zM526.8 350.2h1.1v10.9h-1.1zM527.9 350.2h1.5v10.9h-1.5z" fill="#3b3ba0"/>
<path d="M498.4 350.2h0.7v10.9h-0.7z" fill="#8d8dc5"/>
<path d="M500.7 350.2h1.1v10.9h-1.1zM506 350.2h1.3v10.9h-1.3z" fill="#9393c8"/>
<path d="M508.5 350.2h1.4v10.9h-1.4z" fill="#b9b9d9"/>
<path d="M524.6 350.2h1.6v10.9h-1.6z" fill="#babada"/>
<path d="M529.4 350.2h1.3v10.9h-1.3z" fill="#afafd4"/>
<path d="M530.6 350.2h0.7v10.9h-0.7z" fill="#a7a7d1"/>
<rect x="535.9" y="350.2" width="25.4" height="10.9" fill="#f4f4f4"/>
<path d="M535.9 350.2h0.7v10.9h-0.7zM536.5 350.2h0.9v10.9h-0.9zM538.4 350.2h0.9v10.9h-0.9zM539.3 350.2h0.6v10.9h-0.6zM539.8 350.2h1.3v10.9h-1.3zM543 350.2h1.2v10.9h-1.2zM545.7 350.2h1.3v10.9h-1.3zM547 350.2h1.4v10.9h-1.4zM548.3 350.2h0.9v10.9h-0.9zM549.7 350.2h0.9v10.9h-0.9zM550.6 350.2h1.2v10.9h-1.2zM551.7 350.2h1.4v10.9h-1.4zM553.1 350.2h0.9v10.9h-0.9zM558 350.2h1.1v10.9h-1.1zM559 350.2h0.9v10.9h-0.9zM561.1 350.2h0.3v10.9h-0.3z" fill="#3b3ba0"/>
<path d="M541.1 350.2h1.5v10.9h-1.5z" fill="#8282c0"/>
<path d="M542.5 350.2h0.6v10.9h-0.6z" fill="#a3a3cf"/>
<path d="M544.2 350.2h1.5v10.9h-1.5z" fill="#b4b4d7"/>
<path d="M549.2 350.2h0.6v10.9h-0.6z" fill="#b0b0d5"/>
<path d="M554.9 350.2h1.6v10.9h-1.6z" fill="#b2b2d6"/>
<path d="M556.5 350.2h1v10.9h-1z" fill="#8d8dc5"/>
<path d="M557.5 350.2h0.5v10.9h-0.5z" fill="#9999ca"/>
<path d="M559.9 350.2h1.2v10.9h-1.2z" fill="#acacd3"/>
<rect x="565" y="350.2" width="6.9" height="10.9" fill="#f4f4f4"/>
<rect x="575.4" y="350.2" width="22.6" height="10.9" fill="#f4f4f4"/>
<path d="M575.8 350.2h0.5v10.9h-0.5z" fill="#8d8dc5"/>
<rect x="299" y="363.9" width="48.8" height="10.9" fill="#f4f4f4"/>
<rect x="352" y="363.9" width="34.4" height="10.9" fill="#f4f4f4"/>
<rect x="390.6" y="363.9" width="8.6" height="10.9" fill="#f4f4f4"/>
<path d="M391.2 363.9h0.5v10.9h-0.5z" fill="#9b9bcc"/>
<rect x="403.6" y="363.9" width="36.4" height="10.9" fill="#f4f4f4"/>
<path d="M405 363.9h0.9v10.9h-0.9zM408.7 363.9h0.8v10.9h-0.8zM423.4 363.9h1.5v10.9h-1.5zM424.9 363.9h1.2v10.9h-1.2zM430.8 363.9h1.6v10.9h-1.6zM433.5 363.9h0.6v10.9h-0.6zM435.2 363.9h0.6v10.9h-0.6zM436.8 363.9h1.3v10.9h-1.3zM438.1 363.9h1v10.9h-1z" fill="#3b3ba0"/>
<path d="M415.4 363.9h1.4v10.9h-1.4z" fill="#b5b5d7"/>
<path d="M418.7 363.9h1v10.9h-1z" fill="#b6b6d8"/>
<path d="M420.9 363.9h0.8v10.9h-0.8z" fill="#9292c7"/>
<path d="M432.3 363.9h0.6v10.9h-0.6z" fill="#9898ca"/>
<rect x="444.3" y="363.9" width="34.8" height="10.9" fill="#f4f4f4"/>
<path d="M444.3 363.9h1.5v10.9h-1.5zM445.8 363.9h0.6v10.9h-0.6zM446.4 363.9h0.6v10.9h-0.6zM447 363.9h0.7v10.9h-0.7zM447.6 363.9h0.9v10.9h-0.9zM448.5 363.9h0.9v10.9h-0.9zM449.3 363.9h1.3v10.9h-1.3zM451.3 363.9h1.1v10.9h-1.1zM452.3 363.9h1.5v10.9h-1.5zM453.7 363.9h1v10.9h-1zM456.9 363.9h1v10.9h-1zM457.9 363.9h1.5v10.9h-1.5zM459.3 363.9h0.5v10.9h-0.5zM459.8 363.9h0.7v10.9h-0.7zM460.5 363.9h1.5v10.9h-1.5zM461.9 363.9h1.1v10.9h-1.1zM463 363.9h1v10.9h-1zM463.9 363.9h0.6v10.9h-0.6zM464.5 363.9h1.6v10.9h-1.6zM466 363.9h0.8v10.9h-0.8zM467.9 363.9h0.7v10.9h-0.7zM468.6 363.9h0.7v10.9h-0.7zM470.5 363.9h1.4v10.9h-1.4zM472.8 363.9h1.4v10.9h-1.4zM474.1 363.9h1v10.9h-1zM475.1 363.9h1.5v10.9h-1.5zM476.6 363.9h1.6v10.9h-1.6zM478.1 363.9h1v10.9h-1z" fill="#3b3ba0"/>
<path d="M454.7 363.9h0.7v10.9h-0.7z" fill="#b4b4d7"/>
<path d="M466.8 363.9h1.1v10.9h-1.1z" fill="#a1a1ce"/>
<path d="M469.3 363.9h1.3v10.9h-1.3z" fill="#8585c1"/>
<path d="M471.9 363.9h0.9v10.9h-0.9z" fill="#8a8ac4"/>
<rect x="483.8" y="363.9" width="47.5" height="10.9" fill="#f4f4f4"/>
<path d="M483.8 363.9h0.9v10.9h-0.9zM484.7 363.9h0.9v10.9h-0.9zM485.6 363.9h0.9v10.9h-0.9zM486.5 363.9h0.9v10.9h-0.9zM487.4 363.9h0.9v10.9h-0.9zM488.3 363.9h0.9v10.9h-0.9zM489.2 363.9h0.9v10.9h-0.9zM491.9 363.9h0.9v10.9h-0.9zM492.8 363.9h0.9v10.9h-0.9zM493.7 363.9h0.9v10.9h-0.9zM497.3 363.9h0.9v10.9h-0.9zM498.2 363.9h0.9v10.9h-0.9zM499.1 363.9h0.9v10.9h-0.9zM500.9 363.9h0.9v10.9h-0.9zM504.5 363.9h0.9v10.9h-0.9zM505.4 363.9h0.9v10.9h-0.9zM509 363.9h0.9v10.9h-0.9zM509.9 363.9h0.9v10.9h-0.9zM510.8 363.9h0.9v10.9h-0.9zM511.7 363.9h0.9v10.9h-0.9zM513.5 363.9h0.9v10.9h-0.9zM514.4 363.9h0.9v10.9h-0.9zM518 363.9h0.9v10.9h-0.9zM518.9 363.9h0.9v10.9h-0.9zM520.7 363.9h0.9v10.9h-0.9zM521.6 363.9h0.9v10.9h-0.9zM522.5 363.9h0.9v10.9h-0.9zM523.4 363.9h0.9v10.9h-0.9z" fill="#3b3ba0"/>
<path d="M491 363.9h0.9v10.9h-0.9z" fill="#a4a4d0"/>
<path d="M496.4 363.9h0.9v10.9h-0.9z" fill="#a6a6d1"/>
<path d="M500 363.9h0.9v10.9h-0.9z" fill="#9494c9"/>
<path d="M501.8 363.9h0.9v10.9h-0.9z" fill="#7e7ebf"/>
<path d="M502.7 363.9h0.9v10.9h-0.9z" fill="#9292c7"/>
<path d="M508.1 363.9h0.9v10.9h-0.9z" fill="#8a8ac4"/>
<path d="M515.3 363.9h0.9v10.9h-0.9z" fill="#8787c2"/>
<path d="M516.2 363.9h0.9v10.9h-0.9z" fill="#7c7cbd"/>
<path d="M519.8 363.9h0.9v10.9h-0.9z" fill="#a1a1ce"/>
<path d="M524.3 363.9h0.9v10.9h-0.9z" fill="#adadd4"/>
<rect x="535.9" y="363.9" width="25.4" height="10.9" fill="#f4f4f4"/>
<rect x="565" y="363.9" width="6.9" height="10.9" fill="#f4f4f4"/>
<rect x="575.4" y="363.9" width="22.6" height="10.9" fill="#f4f4f4"/>
<rect x="299" y="379.9" width="48.8" height="11" fill="#f4f4f4"/>
<rect x="352" y="379.9" width="34.4" height="11" fill="#f4f4f4"/>
<rect x="390.6" y="379.9" width="8.6" height="11" fill="#f4f4f4"/>
<rect x="403.6" y="379.9" width="36.4" height="11" fill="#f4f4f4"/>
<rect x="444.3" y="379.9" width="34.8" height="11" fill="#f4f4f4"/>
<rect x="483.8" y="379.9" width="47.5" height="11" fill="#f4f4f4"/>
<rect x="535.9" y="379.9" width="25.4" height="11" fill="#f4f4f4"/>
<rect x="565" y="379.9" width="6.9" height="11" fill="#f4f4f4"/>
<rect x="575.4" y="379.9" width="22.6" height="11" fill="#f4f4f4"/>
<rect x="299" y="393.2" width="48.8" height="11" fill="#f4f4f4"/>
<rect x="352" y="393.2" width="34.4" height="11" fill="#f4f4f4"/>
<rect x="390.6" y="393.2" width="8.6" height="11" fill="#f4f4f4"/>
<rect x="403.6" y="393.2" width="36.4" height="11" fill="#f4f4f4"/>
<rect x="444.3" y="393.2" width="34.8" height="11" fill="#f4f4f4"/>
<rect x="483.8" y="393.2" width="47.5" height="11" fill="#f4f4f4"/>
<rect x="535.9" y="393.2" width="25.4" height="11" fill="#f4f4f4"/>
<rect x="565" y="393.2" width="6.9" height="11" fill="#f4f4f4"/>
<rect x="575.4" y="393.2" width="22.6" height="11" fill="#f4f4f4"/>
<rect x="299" y="406.5" width="48.8" height="11" fill="#f4f4f4"/>
<rect x="352" y="406.5" width="34.4" height="11" fill="#f4f4f4"/>
<rect x="390.6" y="406.5" width="8.6" height="11" fill="#f4f4f4"/>
<rect x="403.6" y="406.5" width="36.4" height="11" fill="#f4f4f4"/>
<rect x="444.3" y="406.5" width="34.8" height="11" fill="#f4f4f4"/>
<rect x="483.8" y="406.5" width="47.5" height="11" fill="#f4f4f4"/>
<rect x="535.9" y="406.5" width="25.4" height="11" fill="#f4f4f4"/>
<rect x="565" y="406.5" width="6.9" height="11" fill="#f4f4f4"/>
<rect x="575.4" y="406.5" width="22.6" height="11" fill="#f4f4f4"/>
<rect x="299" y="419.8" width="48.8" height="11" fill="#f4f4f4"/>
<rect x="352" y="419.8" width="34.4" height="11" fill="#f4f4f4"/>
<rect x="390.6" y="419.8" width="8.6" height="11" fill="#f4f4f4"/>
<rect x="403.6" y="419.8" width="36.4" height="11" fill="#f4f4f4"/>
<rect x="444.3" y="419.8" width="34.8" height="11" fill="#f4f4f4"/>
<rect x="483.8" y="419.8" width="47.5" height="11" fill="#f4f4f4"/>
<rect x="535.9" y="419.8" width="25.4" height="11" fill="#f4f4f4"/>
<rect x="565" y="419.8" width="6.9" height="11" fill="#f4f4f4"/>
<rect x="575.4" y="419.8" width="22.6" height="11" fill="#f4f4f4"/>
<rect x="299" y="433.1" width="48.8" height="11" fill="#f4f4f4"/>
<rect x="352" y="433.1" width="34.4" height="11" fill="#f4f4f4"/>
<rect x="390.6" y="433.1" width="8.6" height="11" fill="#f4f4f4"/>
<rect x="403.6" y="433.1" width="36.4" height="11" fill="#f4f4f4"/>
<rect x="444.3" y="433.1" width="34.8" height="11" fill="#f4f4f4"/>
<rect x="483.8" y="433.1" width="47.5" height="11" fill="#f4f4f4"/>
<rect x="535.9" y="433.1" width="25.4" height="11" fill="#f4f4f4"/>
<rect x="565" y="433.1" width="6.9" height="11" fill="#f4f4f4"/>
<rect x="575.4" y="433.1" width="22.6" height="11" fill="#f4f4f4"/>
<rect x="299" y="446.4" width="48.8" height="11" fill="#f4f4f4"/>
<rect x="352" y="446.4" width="34.4" height="11" fill="#f4f4f4"/>
<rect x="390.6" y="446.4" width="8.6" height="11" fill="#f4f4f4"/>
<rect x="403.6" y="446.4" width="36.4" height="11" fill="#f4f4f4"/>
<rect x="444.3" y="446.4" width="34.8" height="11" fill="#f4f4f4"/>
<rect x="483.8" y="446.4" width="47.5" height="11" fill="#f4f4f4"/>
<rect x="535.9" y="446.4" width="25.4" height="11" fill="#f4f4f4"/>
<rect x="565" y="446.4" width="6.9" height="11" fill="#f4f4f4"/>
<rect x="575.4" y="446.4" width="22.6" height="11" fill="#f4f4f4"/>
<rect x="299" y="459.7" width="48.8" height="11" fill="#f4f4f4"/>
<rect x="352" y="459.7" width="34.4" height="11" fill="#f4f4f4"/>
<rect x="390.6" y="459.7" width="8.6" height="11" fill="#f4f4f4"/>
<rect x="403.6" y="459.7" width="36.4" height="11" fill="#f4f4f4"/>
<rect x="444.3" y="459.7" width="34.8" height="11" fill="#f4f4f4"/>
<rect x="483.8" y="459.7" width="47.5" height="11" fill="#f4f4f4"/>
<rect x="535.9" y="459.7" width="25.4" height="11" fill="#f4f4f4"/>
<rect x="565" y="459.7" width="6.9" height="11" fill="#f4f4f4"/>
<rect x="575.4" y="459.7" width="22.6" height="11" fill="#f4f4f4"/>
<rect x="299" y="379.9" width="48.8" height="11" fill="#000000"/>
<rect x="352" y="393.2" width="34.4" height="11" fill="#000000"/>
<rect x="566" y="393.2" width="0.5" height="11" fill="#9a9a9a"/>
<rect x="391" y="406.5" width="2.9" height="11" fill="#000000"/>
<rect x="403.6" y="419.8" width="36.4" height="11" fill="#000000"/>
<rect x="444.3" y="433.1" width="34.8" height="11" fill="#000000"/>
<rect x="484" y="446.4" width="14" height="11" fill="#000000"/>
<rect x="499.6" y="446.4" width="0.6" height="11" fill="#808080"/>
<rect x="515.3" y="446.4" width="0.6" height="11" fill="#808080"/>
<rect x="529.6" y="446.4" width="0.6" height="11" fill="#808080"/>
<rect x="535.9" y="459.7" width="25.4" height="11" fill="#000000"/>
<rect x="299" y="475.5" width="48.8" height="9.9" fill="#f79271"/>
<path d="M299 475.5h0.9v9.9h-0.9zM303.5 475.5h2v9.9h-2zM309.9 475.5h1.2v9.9h-1.2zM312.3 475.5h1.3v9.9h-1.3zM313.6 475.5h2v9.9h-2zM316.5 475.5h0.9v9.9h-0.9zM320.3 475.5h0.8v9.9h-0.8zM328.9 475.5h0.9v9.9h-0.9zM334.7 475.5h0.8v9.9h-0.8zM335.5 475.5h0.9v9.9h-0.9zM336.4 475.5h1.4v9.9h-1.4zM337.7 475.5h1.7v9.9h-1.7zM345.9 475.5h1.1v9.9h-1.1z" fill="#f68866"/>
<path d="M299.9 475.5h1.3v9.9h-1.3zM302.4 475.5h1.2v9.9h-1.2zM306.4 475.5h0.9v9.9h-0.9zM317.4 475.5h1.9v9.9h-1.9zM325.3 475.5h1v9.9h-1zM331.6 475.5h0.9v9.9h-0.9z" fill="#f9a586"/>
<path d="M301.1 475.5h1.4v9.9h-1.4zM327.9 475.5h1.1v9.9h-1.1zM329.8 475.5h1.9v9.9h-1.9zM339.3 475.5h1.7v9.9h-1.7zM342.6 475.5h1.3v9.9h-1.3zM346.9 475.5h0.9v9.9h-0.9z" fill="#f89c7c"/>
<path d="M305.4 475.5h1v9.9h-1zM309 475.5h0.9v9.9h-0.9zM321 475.5h1.5v9.9h-1.5zM326.3 475.5h1.7v9.9h-1.7zM332.4 475.5h1.4v9.9h-1.4zM333.7 475.5h1v9.9h-1zM340.9 475.5h1.7v9.9h-1.7zM343.8 475.5h1.1v9.9h-1.1zM344.8 475.5h1.1v9.9h-1.1z" fill="#f79271"/>
<path d="M307.2 475.5h1.8v9.9h-1.8zM311 475.5h1.4v9.9h-1.4zM315.5 475.5h1v9.9h-1zM319.2 475.5h1.1v9.9h-1.1zM322.5 475.5h1.9v9.9h-1.9z" fill="#f57f5c"/>
<path d="M324.3 475.5h1.1v9.9h-1.1z" fill="#fab195"/>
<rect x="299" y="485.3" width="48.8" height="10.3" fill="#e2d5f6"/>
<path d="M299 485.3h1.1v10.3h-1.1zM300 485.3h1.7v10.3h-1.7zM301.7 485.3h1.3v10.3h-1.3zM303 485.3h0.8v10.3h-0.8zM303.7 485.3h2v10.3h-2zM305.6 485.3h1.1v10.3h-1.1zM306.6 485.3h0.9v10.3h-0.9zM307.5 485.3h1.8v10.3h-1.8zM309.3 485.3h1.8v10.3h-1.8zM311.1 485.3h1.3v10.3h-1.3zM312.3 485.3h1.2v10.3h-1.2zM313.5 485.3h1.3v10.3h-1.3zM314.7 485.3h1.1v10.3h-1.1zM315.8 485.3h1.5v10.3h-1.5zM317.3 485.3h1.9v10.3h-1.9zM319.1 485.3h1.9v10.3h-1.9zM321.8 485.3h0.9v10.3h-0.9zM322.7 485.3h1.8v10.3h-1.8zM324.4 485.3h0.8v10.3h-0.8zM326.5 485.3h1.1v10.3h-1.1zM327.5 485.3h0.9v10.3h-0.9zM329.8 485.3h1.2v10.3h-1.2zM330.9 485.3h1.7v10.3h-1.7zM332.6 485.3h1.7v10.3h-1.7zM334.2 485.3h0.9v10.3h-0.9zM335 485.3h1.3v10.3h-1.3zM336.3 485.3h1v10.3h-1zM337.2 485.3h1.2v10.3h-1.2zM338.4 485.3h1.6v10.3h-1.6zM339.9 485.3h0.8v10.3h-0.8zM342 485.3h1v10.3h-1zM345.8 485.3h1.2v10.3h-1.2z" fill="#e2d5f6"/>
<path d="M320.9 485.3h1v10.3h-1zM340.6 485.3h1.4v10.3h-1.4zM342.9 485.3h1.3v10.3h-1.3z" fill="#eee5f8"/>
<path d="M325.2 485.3h1.3v10.3h-1.3zM328.3 485.3h1.5v10.3h-1.5zM344.2 485.3h0.8v10.3h-0.8zM345 485.3h0.9v10.3h-0.9zM347 485.3h0.9v10.3h-0.9z" fill="#d7c5f3"/>
<rect x="352" y="475.5" width="34.4" height="9.9" fill="#b398e3"/>
<path d="M352 475.5h0.9v9.9h-0.9zM360.9 475.5h1.6v9.9h-1.6zM381.1 475.5h1.5v9.9h-1.5z" fill="#a98ee0"/>
<path d="M352.9 475.5h1.8v9.9h-1.8zM354.6 475.5h0.9v9.9h-0.9zM357.3 475.5h0.8v9.9h-0.8zM358.1 475.5h1.3v9.9h-1.3zM359.4 475.5h1.6v9.9h-1.6zM362.4 475.5h1.9v9.9h-1.9zM364.3 475.5h1.7v9.9h-1.7zM365.9 475.5h0.8v9.9h-0.8zM366.6 475.5h1.9v9.9h-1.9zM368.5 475.5h1v9.9h-1zM369.4 475.5h1.9v9.9h-1.9zM371.3 475.5h0.9v9.9h-0.9zM372.1 475.5h1.5v9.9h-1.5zM373.6 475.5h1.2v9.9h-1.2zM374.7 475.5h2v9.9h-2zM376.6 475.5h1.9v9.9h-1.9zM378.4 475.5h1.4v9.9h-1.4zM379.8 475.5h1.4v9.9h-1.4zM382.6 475.5h1.8v9.9h-1.8zM384.3 475.5h1.6v9.9h-1.6zM385.9 475.5h0.6v9.9h-0.6z" fill="#b398e3"/>
<path d="M355.5 475.5h1.9v9.9h-1.9z" fill="#bfa7e8"/>
<rect x="352" y="485.3" width="34.4" height="10.3" fill="#e2d5f6"/>
<path d="M352 485.3h1v10.3h-1zM353 485.3h0.8v10.3h-0.8zM353.7 485.3h1.9v10.3h-1.9zM355.6 485.3h1.6v10.3h-1.6zM357.1 485.3h1.9v10.3h-1.9zM358.9 485.3h1.9v10.3h-1.9zM360.8 485.3h1v10.3h-1zM361.8 485.3h1.4v10.3h-1.4zM363.1 485.3h1.5v10.3h-1.5zM364.5 485.3h1.1v10.3h-1.1zM365.5 485.3h1.6v10.3h-1.6zM367.1 485.3h1.6v10.3h-1.6zM368.6 485.3h1v10.3h-1zM369.5 485.3h1.1v10.3h-1.1zM370.6 485.3h1v10.3h-1zM371.5 485.3h1.5v10.3h-1.5zM373 485.3h1.1v10.3h-1.1zM375.1 485.3h1.9v10.3h-1.9zM376.9 485.3h0.9v10.3h-0.9zM377.8 485.3h1.3v10.3h-1.3zM379 485.3h1.2v10.3h-1.2zM380.1 485.3h1.8v10.3h-1.8zM381.9 485.3h1.1v10.3h-1.1zM382.9 485.3h1.4v10.3h-1.4zM384.2 485.3h1.6v10.3h-1.6z" fill="#e2d5f6"/>
<path d="M374.1 485.3h1.1v10.3h-1.1zM385.8 485.3h0.7v10.3h-0.7z" fill="#eee5f8"/>
<rect x="390.6" y="475.5" width="8.6" height="9.9" fill="#b398e3"/>
<path d="M390.6 475.5h0.9v9.9h-0.9zM391.5 475.5h1.3v9.9h-1.3zM394.4 475.5h1.8v9.9h-1.8zM396.2 475.5h1.6v9.9h-1.6z" fill="#b398e3"/>
<path d="M392.7 475.5h1.8v9.9h-1.8z" fill="#a98ee0"/>
<path d="M397.8 475.5h0.9v9.9h-0.9zM398.6 475.5h0.6v9.9h-0.6z" fill="#bfa7e8"/>
<rect x="390.6" y="485.3" width="8.6" height="10.3" fill="#e2d5f6"/>
<path d="M390.6 485.3h1.6v10.3h-1.6zM392.1 485.3h2v10.3h-2zM394 485.3h1.9v10.3h-1.9zM395.9 485.3h1.4v10.3h-1.4zM397.2 485.3h1.8v10.3h-1.8zM399 485.3h0.3v10.3h-0.3z" fill="#e2d5f6"/>
<rect x="403.6" y="475.5" width="36.4" height="9.9" fill="#e7dbf6"/>
<path d="M403.6 475.5h1.1v9.9h-1.1zM407.6 475.5h1.8v9.9h-1.8zM410.6 475.5h1.1v9.9h-1.1zM414.7 475.5h0.9v9.9h-0.9zM429.2 475.5h1.6v9.9h-1.6zM431.5 475.5h1.2v9.9h-1.2zM432.7 475.5h1.9v9.9h-1.9zM437.6 475.5h1.4v9.9h-1.4z" fill="#f9f2f4"/>
<path d="M404.6 475.5h1.8v9.9h-1.8zM406.4 475.5h1.3v9.9h-1.3zM415.6 475.5h0.9v9.9h-0.9zM418.5 475.5h1.3v9.9h-1.3zM436.9 475.5h0.8v9.9h-0.8z" fill="#e2d5f6"/>
<path d="M409.4 475.5h1.3v9.9h-1.3zM416.4 475.5h1.3v9.9h-1.3zM419.7 475.5h1.3v9.9h-1.3zM422.8 475.5h1.3v9.9h-1.3zM435.3 475.5h1.6v9.9h-1.6z" fill="#d7c5f3"/>
<path d="M411.7 475.5h1.8v9.9h-1.8zM417.6 475.5h0.9v9.9h-0.9zM425.2 475.5h1.7v9.9h-1.7z" fill="#cbb6ee"/>
<path d="M413.4 475.5h1.3v9.9h-1.3zM421 475.5h1.8v9.9h-1.8z" fill="#b398e3"/>
<path d="M424 475.5h1.3v9.9h-1.3zM427.8 475.5h1.5v9.9h-1.5z" fill="#fbece8"/>
<path d="M426.9 475.5h0.9v9.9h-0.9zM434.5 475.5h0.8v9.9h-0.8zM439 475.5h1.1v9.9h-1.1z" fill="#eee5f8"/>
<path d="M430.8 475.5h0.8v9.9h-0.8z" fill="#bfa7e8"/>
<rect x="403.6" y="485.3" width="36.4" height="10.3" fill="#ece2f8"/>
<path d="M403.6 485.3h1.4v10.3h-1.4zM407.5 485.3h1.7v10.3h-1.7zM411.1 485.3h1.6v10.3h-1.6zM420 485.3h1.6v10.3h-1.6zM426.3 485.3h1.4v10.3h-1.4zM428.8 485.3h2v10.3h-2zM433.2 485.3h1.7v10.3h-1.7z" fill="#f9f2f4"/>
<path d="M405 485.3h1v10.3h-1zM418.3 485.3h1.7v10.3h-1.7zM423.4 485.3h1.1v10.3h-1.1zM430.8 485.3h1.1v10.3h-1.1zM435.8 485.3h1.9v10.3h-1.9z" fill="#e2d5f6"/>
<path d="M406 485.3h1.5v10.3h-1.5zM412.6 485.3h1.7v10.3h-1.7zM414.2 485.3h0.8v10.3h-0.8zM421.5 485.3h1.9v10.3h-1.9z" fill="#d7c5f3"/>
<path d="M409.1 485.3h2v10.3h-2zM415 485.3h1.8v10.3h-1.8zM416.7 485.3h1.6v10.3h-1.6zM424.4 485.3h0.8v10.3h-0.8zM425.1 485.3h1.2v10.3h-1.2zM427.7 485.3h1.2v10.3h-1.2zM431.8 485.3h1.4v10.3h-1.4zM434.8 485.3h1.1v10.3h-1.1z" fill="#eee5f8"/>
<path d="M437.7 485.3h1v10.3h-1z" fill="#cbb6ee"/>
<path d="M438.7 485.3h1.4v10.3h-1.4z" fill="#fbece8"/>
<rect x="444.3" y="475.5" width="34.8" height="9.9" fill="#b398e3"/>
<path d="M444.3 475.5h1v9.9h-1zM445.3 475.5h1v9.9h-1zM446.2 475.5h2v9.9h-2zM448.1 475.5h1.6v9.9h-1.6zM451.5 475.5h1.9v9.9h-1.9zM453.3 475.5h1.3v9.9h-1.3zM454.6 475.5h1.1v9.9h-1.1zM456.8 475.5h1.4v9.9h-1.4zM458.1 475.5h1.6v9.9h-1.6zM462.8 475.5h1.7v9.9h-1.7zM466.8 475.5h1.5v9.9h-1.5zM468.2 475.5h1.9v9.9h-1.9zM470 475.5h1.8v9.9h-1.8zM471.8 475.5h0.8v9.9h-0.8zM472.5 475.5h0.8v9.9h-0.8zM473.3 475.5h1.7v9.9h-1.7zM474.9 475.5h1.1v9.9h-1.1zM475.9 475.5h1.1v9.9h-1.1z" fill="#b398e3"/>
<path d="M449.7 475.5h1.8v9.9h-1.8zM459.7 475.5h1.6v9.9h-1.6zM465.7 475.5h1.2v9.9h-1.2zM478.7 475.5h0.4v9.9h-0.4z" fill="#a98ee0"/>
<path d="M455.7 475.5h1.2v9.9h-1.2zM461.2 475.5h1.7v9.9h-1.7zM464.5 475.5h1.3v9.9h-1.3zM477 475.5h1.8v9.9h-1.8z" fill="#bfa7e8"/>
<rect x="444.3" y="485.3" width="34.8" height="10.3" fill="#dc402c"/>
<path d="M444.3 485.3h1.4v10.3h-1.4zM478.3 485.3h0.9v10.3h-0.9z" fill="#d12b1d"/>
<path d="M445.7 485.3h1.1v10.3h-1.1zM459.7 485.3h2v10.3h-2zM463 485.3h1.7v10.3h-1.7zM467.3 485.3h1.1v10.3h-1.1zM468.3 485.3h1v10.3h-1zM469.3 485.3h1.9v10.3h-1.9zM472.3 485.3h1.4v10.3h-1.4zM475.8 485.3h0.9v10.3h-0.9z" fill="#d73624"/>
<path d="M446.7 485.3h1v10.3h-1zM447.6 485.3h0.8v10.3h-0.8zM449.1 485.3h0.8v10.3h-0.8zM449.9 485.3h1.3v10.3h-1.3zM453.6 485.3h1.7v10.3h-1.7zM456.1 485.3h0.9v10.3h-0.9zM457 485.3h1.7v10.3h-1.7zM458.6 485.3h1.1v10.3h-1.1zM464.7 485.3h1.4v10.3h-1.4zM471.1 485.3h1.3v10.3h-1.3zM473.7 485.3h1.4v10.3h-1.4zM475 485.3h0.8v10.3h-0.8z" fill="#dc402c"/>
<path d="M448.4 485.3h0.8v10.3h-0.8zM452.2 485.3h1.4v10.3h-1.4zM461.6 485.3h1.5v10.3h-1.5z" fill="#e8553a"/>
<path d="M451.2 485.3h1.1v10.3h-1.1zM455.3 485.3h0.8v10.3h-0.8zM466.1 485.3h1.3v10.3h-1.3zM476.6 485.3h1.7v10.3h-1.7z" fill="#e24b33"/>
<rect x="483.8" y="475.5" width="47.5" height="9.9" fill="#f89c7c"/>
<path d="M483.8 475.5h1.8v9.9h-1.8zM487.3 475.5h1.5v9.9h-1.5zM496.9 475.5h0.8v9.9h-0.8zM498.5 475.5h0.8v9.9h-0.8zM499.3 475.5h1.4v9.9h-1.4zM503.5 475.5h1.1v9.9h-1.1zM508.3 475.5h1.1v9.9h-1.1zM511.3 475.5h1.4v9.9h-1.4zM528.3 475.5h1.2v9.9h-1.2z" fill="#f9a586"/>
<path d="M485.5 475.5h1.8v9.9h-1.8zM491 475.5h0.9v9.9h-0.9zM495.9 475.5h1v9.9h-1zM497.7 475.5h0.9v9.9h-0.9zM518.4 475.5h1.6v9.9h-1.6zM519.9 475.5h0.9v9.9h-0.9z" fill="#f89c7c"/>
<path d="M488.8 475.5h1.6v9.9h-1.6z" fill="#fbbca3"/>
<path d="M490.3 475.5h0.8v9.9h-0.8zM492.7 475.5h1.5v9.9h-1.5zM500.7 475.5h1.2v9.9h-1.2zM512.7 475.5h1.3v9.9h-1.3zM517.2 475.5h1.2v9.9h-1.2zM520.7 475.5h1.3v9.9h-1.3zM526.8 475.5h1.5v9.9h-1.5zM530.4 475.5h1v9.9h-1z" fill="#f79271"/>
<path d="M491.9 475.5h0.8v9.9h-0.8zM494.1 475.5h1.9v9.9h-1.9zM521.9 475.5h1.9v9.9h-1.9zM525.1 475.5h1.7v9.9h-1.7z" fill="#fab195"/>
<path d="M501.9 475.5h1.7v9.9h-1.7zM507.4 475.5h1v9.9h-1z" fill="#f57f5c"/>
<path d="M504.5 475.5h1v9.9h-1zM505.5 475.5h2v9.9h-2zM509.4 475.5h2v9.9h-2zM513.9 475.5h1.9v9.9h-1.9zM523.8 475.5h1.4v9.9h-1.4zM529.4 475.5h1v9.9h-1z" fill="#f68866"/>
<path d="M515.7 475.5h1.5v9.9h-1.5z" fill="#ee6a4b"/>
<rect x="483.8" y="485.3" width="47.5" height="10.3" fill="#e2d5f6"/>
<path d="M483.8 485.3h0.9v10.3h-0.9zM494.4 485.3h0.9v10.3h-0.9zM506.1 485.3h1.5v10.3h-1.5zM521.8 485.3h1.8v10.3h-1.8zM523.6 485.3h0.8v10.3h-0.8zM530.4 485.3h1v10.3h-1z" fill="#d7c5f3"/>
<path d="M484.6 485.3h1.4v10.3h-1.4zM486 485.3h1.1v10.3h-1.1zM487.1 485.3h1.3v10.3h-1.3zM488.3 485.3h1.8v10.3h-1.8zM491.2 485.3h1.6v10.3h-1.6zM492.7 485.3h1.8v10.3h-1.8zM495.3 485.3h1.2v10.3h-1.2zM496.4 485.3h0.9v10.3h-0.9zM497.3 485.3h2v10.3h-2zM500.9 485.3h1.5v10.3h-1.5zM502.4 485.3h1v10.3h-1zM503.4 485.3h1.5v10.3h-1.5zM504.8 485.3h1.4v10.3h-1.4zM507.6 485.3h1.4v10.3h-1.4zM509 485.3h1.8v10.3h-1.8zM510.8 485.3h2v10.3h-2zM512.7 485.3h1.2v10.3h-1.2zM514.6 485.3h1.1v10.3h-1.1zM515.7 485.3h1v10.3h-1zM516.7 485.3h1.6v10.3h-1.6zM518.3 485.3h1.1v10.3h-1.1zM519.3 485.3h1v10.3h-1zM520.2 485.3h1.7v10.3h-1.7zM524.3 485.3h1.5v10.3h-1.5zM525.8 485.3h1.8v10.3h-1.8zM527.5 485.3h1.4v10.3h-1.4zM528.9 485.3h1.5v10.3h-1.5z" fill="#e2d5f6"/>
<path d="M490 485.3h1.2v10.3h-1.2zM499.2 485.3h1.8v10.3h-1.8zM513.8 485.3h0.8v10.3h-0.8z" fill="#eee5f8"/>
<rect x="535.9" y="475.5" width="25.4" height="9.9" fill="#f79271"/>
<path d="M535.9 475.5h1.3v9.9h-1.3zM539.4 475.5h1.3v9.9h-1.3zM540.7 475.5h1.8v9.9h-1.8zM547.6 475.5h1.5v9.9h-1.5zM549.1 475.5h1.9v9.9h-1.9zM551 475.5h2v9.9h-2zM556 475.5h1.2v9.9h-1.2zM558.1 475.5h2v9.9h-2zM560 475.5h0.8v9.9h-0.8z" fill="#f79271"/>
<path d="M537.1 475.5h0.8v9.9h-0.8zM545.4 475.5h0.8v9.9h-0.8zM554.2 475.5h1.9v9.9h-1.9z" fill="#f68866"/>
<path d="M537.9 475.5h1.6v9.9h-1.6zM546.1 475.5h1.6v9.9h-1.6zM553 475.5h1.2v9.9h-1.2z" fill="#f89c7c"/>
<path d="M542.4 475.5h1.8v9.9h-1.8zM544.1 475.5h1.3v9.9h-1.3zM557.1 475.5h1v9.9h-1zM560.8 475.5h0.6v9.9h-0.6z" fill="#f57f5c"/>
<rect x="535.9" y="485.3" width="25.4" height="10.3" fill="#e2d5f6"/>
<path d="M535.9 485.3h1.9v10.3h-1.9zM537.8 485.3h1.3v10.3h-1.3zM539.1 485.3h1.4v10.3h-1.4zM540.4 485.3h1.3v10.3h-1.3zM544.4 485.3h1.8v10.3h-1.8zM546.2 485.3h1v10.3h-1zM547.2 485.3h1.5v10.3h-1.5zM550.1 485.3h1.5v10.3h-1.5zM553.5 485.3h2v10.3h-2zM555.5 485.3h0.9v10.3h-0.9zM556.3 485.3h1.7v10.3h-1.7zM558 485.3h1.5v10.3h-1.5zM559.4 485.3h1.7v10.3h-1.7zM561.1 485.3h0.3v10.3h-0.3z" fill="#e2d5f6"/>
<path d="M541.7 485.3h2v10.3h-2zM551.6 485.3h2v10.3h-2z" fill="#d7c5f3"/>
<path d="M543.7 485.3h0.8v10.3h-0.8zM548.6 485.3h1.6v10.3h-1.6z" fill="#eee5f8"/>
<rect x="565" y="475.5" width="6.9" height="9.9" fill="#b398e3"/>
<path d="M565 475.5h1.2v9.9h-1.2zM566.1 475.5h1v9.9h-1zM567 475.5h1v9.9h-1zM568 475.5h1.8v9.9h-1.8zM569.7 475.5h1.5v9.9h-1.5zM571.2 475.5h0.7v9.9h-0.7z" fill="#b398e3"/>
<rect x="565" y="485.3" width="6.9" height="10.3" fill="#e2d5f6"/>
<path d="M565 485.3h1.6v10.3h-1.6zM568.1 485.3h1.2v10.3h-1.2zM569.3 485.3h1.6v10.3h-1.6zM570.8 485.3h1.2v10.3h-1.2z" fill="#e2d5f6"/>
<path d="M566.6 485.3h1.6v10.3h-1.6z" fill="#eee5f8"/>
<rect x="575.4" y="475.5" width="22.6" height="9.9" fill="#b398e3"/>
<path d="M575.4 475.5h1v9.9h-1zM576.4 475.5h1.6v9.9h-1.6zM581 475.5h1.8v9.9h-1.8zM588.3 475.5h1.6v9.9h-1.6z" fill="#bfa7e8"/>
<path d="M578 475.5h1.2v9.9h-1.2zM579.1 475.5h1.9v9.9h-1.9zM582.7 475.5h1.1v9.9h-1.1zM585.3 475.5h2v9.9h-2zM589.8 475.5h1.1v9.9h-1.1zM593.6 475.5h1.6v9.9h-1.6zM596.5 475.5h1v9.9h-1z" fill="#b398e3"/>
<path d="M583.8 475.5h1.6v9.9h-1.6zM590.8 475.5h1v9.9h-1zM592.5 475.5h1.1v9.9h-1.1zM595.1 475.5h1.5v9.9h-1.5zM597.5 475.5h0.5v9.9h-0.5z" fill="#a98ee0"/>
<path d="M587.2 475.5h1.1v9.9h-1.1z" fill="#cbb6ee"/>
<path d="M591.7 475.5h0.8v9.9h-0.8z" fill="#e2d5f6"/>
<rect x="575.4" y="485.3" width="22.6" height="10.3" fill="#e2d5f6"/>
<path d="M575.4 485.3h1.8v10.3h-1.8zM577.2 485.3h1.1v10.3h-1.1zM578.2 485.3h1.4v10.3h-1.4zM579.6 485.3h1.1v10.3h-1.1zM580.6 485.3h1v10.3h-1zM581.6 485.3h1.8v10.3h-1.8zM583.4 485.3h1.7v10.3h-1.7zM585.1 485.3h1.3v10.3h-1.3zM586.3 485.3h1.6v10.3h-1.6zM587.8 485.3h1.4v10.3h-1.4zM589.2 485.3h2v10.3h-2zM592.8 485.3h1.4v10.3h-1.4zM594.1 485.3h1.7v10.3h-1.7zM595.8 485.3h1.4v10.3h-1.4zM597.1 485.3h0.9v10.3h-0.9z" fill="#e2d5f6"/>
<path d="M591.1 485.3h1.7v10.3h-1.7z" fill="#eee5f8"/>
<rect x="310.5" y="485.3" width="0.6" height="10.3" fill="#f3a48c"/>
<rect x="316" y="485.3" width="0.6" height="10.3" fill="#f3a48c"/>
<rect x="322.3" y="485.3" width="0.6" height="10.3" fill="#f3a48c"/>
<rect x="339" y="485.3" width="0.6" height="10.3" fill="#f3a48c"/>
<rect x="345" y="485.3" width="0.6" height="10.3" fill="#f3a48c"/>
<rect x="419" y="485.3" width="0.6" height="10.3" fill="#f3a48c"/>
<rect x="425" y="485.3" width="0.6" height="10.3" fill="#f3a48c"/>
<rect x="514" y="485.3" width="0.6" height="10.3" fill="#f3a48c"/>
<rect x="528" y="485.3" width="0.6" height="10.3" fill="#f3a48c"/>
<rect x="576" y="485.3" width="0.6" height="10.3" fill="#f3a48c"/>
<rect x="321" y="485.3" width="0.8" height="10.3" fill="#e06048"/>
<rect x="299" y="500.2" width="48.8" height="10.1" fill="#fab195"/>
<path d="M299 500.2h0.8v10.1h-0.8zM318.5 500.2h1.5v10.1h-1.5z" fill="#f89c7c"/>
<path d="M299.7 500.2h1v10.1h-1zM305.2 500.2h0.9v10.1h-0.9zM306.9 500.2h1v10.1h-1zM327.9 500.2h1.3v10.1h-1.3zM334.7 500.2h1v10.1h-1zM345.1 500.2h2v10.1h-2z" fill="#f9a586"/>
<path d="M300.7 500.2h1.1v10.1h-1.1zM310.1 500.2h1.7v10.1h-1.7zM311.7 500.2h1.9v10.1h-1.9zM317 500.2h1.5v10.1h-1.5zM344.2 500.2h0.9v10.1h-0.9z" fill="#fcd2c0"/>
<path d="M301.7 500.2h1.9v10.1h-1.9zM303.5 500.2h1.7v10.1h-1.7zM321 500.2h1.9v10.1h-1.9zM324.6 500.2h1.5v10.1h-1.5zM330.4 500.2h1.2v10.1h-1.2zM333.3 500.2h1.4v10.1h-1.4zM335.6 500.2h2v10.1h-2zM339.6 500.2h1.4v10.1h-1.4z" fill="#fbbca3"/>
<path d="M306 500.2h1v10.1h-1zM307.8 500.2h1.5v10.1h-1.5zM313.6 500.2h1.5v10.1h-1.5zM315.1 500.2h2v10.1h-2zM322.8 500.2h1.1v10.1h-1.1zM323.9 500.2h0.8v10.1h-0.8zM331.5 500.2h0.9v10.1h-0.9zM332.4 500.2h1v10.1h-1zM337.6 500.2h0.9v10.1h-0.9zM338.4 500.2h1.2v10.1h-1.2zM340.9 500.2h1.7v10.1h-1.7zM347 500.2h0.8v10.1h-0.8z" fill="#fab195"/>
<path d="M309.3 500.2h0.9v10.1h-0.9z" fill="#fddcce"/>
<path d="M319.9 500.2h1.1v10.1h-1.1z" fill="#f79271"/>
<path d="M326.1 500.2h1.8v10.1h-1.8zM342.6 500.2h1.7v10.1h-1.7z" fill="#fcc8b2"/>
<path d="M329.1 500.2h1.3v10.1h-1.3z" fill="#f68866"/>
<rect x="352" y="500.2" width="34.4" height="10.1" fill="#fde6dc"/>
<path d="M352 500.2h1.4v10.1h-1.4z" fill="#eee5f8"/>
<path d="M353.3 500.2h1.3v10.1h-1.3zM360.7 500.2h1.3v10.1h-1.3zM384 500.2h1.3v10.1h-1.3z" fill="#fbece8"/>
<path d="M354.6 500.2h1.4v10.1h-1.4zM364.1 500.2h2v10.1h-2zM371.3 500.2h1.6v10.1h-1.6z" fill="#fab195"/>
<path d="M356 500.2h0.8v10.1h-0.8zM369.8 500.2h1.5v10.1h-1.5zM372.8 500.2h1.1v10.1h-1.1zM380.2 500.2h1.7v10.1h-1.7z" fill="#fde6dc"/>
<path d="M356.7 500.2h1v10.1h-1zM357.7 500.2h1.9v10.1h-1.9zM373.8 500.2h1.7v10.1h-1.7zM382.7 500.2h1.3v10.1h-1.3z" fill="#f9f2f4"/>
<path d="M359.6 500.2h1.2v10.1h-1.2zM385.3 500.2h0.9v10.1h-0.9z" fill="#fbbca3"/>
<path d="M362 500.2h1.1v10.1h-1.1zM363.1 500.2h1.1v10.1h-1.1zM376.6 500.2h1v10.1h-1z" fill="#fcc8b2"/>
<path d="M366 500.2h1.2v10.1h-1.2zM379.3 500.2h1v10.1h-1z" fill="#e2d5f6"/>
<path d="M367.2 500.2h1.7v10.1h-1.7zM386.1 500.2h0.3v10.1h-0.3z" fill="#fcd2c0"/>
<path d="M368.8 500.2h1.1v10.1h-1.1z" fill="#f9a586"/>
<path d="M375.5 500.2h1.2v10.1h-1.2zM377.5 500.2h1.8v10.1h-1.8zM381.9 500.2h0.9v10.1h-0.9z" fill="#fddcce"/>
<rect x="390.6" y="500.2" width="8.6" height="10.1" fill="#8c71d5"/>
<path d="M390.6 500.2h1.3v10.1h-1.3z" fill="#5046b5"/>
<path d="M391.8 500.2h1.9v10.1h-1.9z" fill="#5f4ebe"/>
<path d="M393.7 500.2h1.2v10.1h-1.2z" fill="#8369d0"/>
<path d="M394.8 500.2h1.4v10.1h-1.4z" fill="#a98ee0"/>
<path d="M396.2 500.2h1.4v10.1h-1.4z" fill="#eee5f8"/>
<path d="M397.5 500.2h1.8v10.1h-1.8z" fill="#8c71d5"/>
<rect x="403.6" y="500.2" width="36.4" height="10.1" fill="#b398e3"/>
<path d="M403.6 500.2h1.3v10.1h-1.3zM404.9 500.2h1v10.1h-1zM412 500.2h2v10.1h-2zM428.8 500.2h1.8v10.1h-1.8z" fill="#e2d5f6"/>
<path d="M405.8 500.2h1.3v10.1h-1.3zM424.6 500.2h0.8v10.1h-0.8zM430.5 500.2h0.8v10.1h-0.8zM437.7 500.2h1.1v10.1h-1.1z" fill="#a98ee0"/>
<path d="M407.1 500.2h1.2v10.1h-1.2z" fill="#d7c5f3"/>
<path d="M408.2 500.2h2v10.1h-2zM417.5 500.2h1.8v10.1h-1.8zM419.3 500.2h1.6v10.1h-1.6zM422.1 500.2h1.6v10.1h-1.6zM426.4 500.2h0.8v10.1h-0.8zM432.1 500.2h1.4v10.1h-1.4z" fill="#b398e3"/>
<path d="M410.1 500.2h1.9v10.1h-1.9zM433.4 500.2h1v10.1h-1z" fill="#cbb6ee"/>
<path d="M413.9 500.2h1.8v10.1h-1.8zM427.8 500.2h1v10.1h-1zM434.4 500.2h1.7v10.1h-1.7zM436 500.2h1.8v10.1h-1.8z" fill="#9679da"/>
<path d="M415.6 500.2h2v10.1h-2zM420.9 500.2h1.2v10.1h-1.2zM425.3 500.2h1.1v10.1h-1.1zM427.1 500.2h0.8v10.1h-0.8zM438.7 500.2h1.3v10.1h-1.3z" fill="#a083dd"/>
<path d="M423.6 500.2h1v10.1h-1z" fill="#8369d0"/>
<path d="M431.3 500.2h0.9v10.1h-0.9z" fill="#bfa7e8"/>
<rect x="444.3" y="500.2" width="34.8" height="10.1" fill="#fbbca3"/>
<path d="M444.3 500.2h2v10.1h-2zM453.5 500.2h0.8v10.1h-0.8zM468.6 500.2h1.4v10.1h-1.4z" fill="#f9a586"/>
<path d="M446.3 500.2h1.3v10.1h-1.3z" fill="#f68866"/>
<path d="M447.5 500.2h0.8v10.1h-0.8zM459.3 500.2h0.8v10.1h-0.8zM460.1 500.2h1v10.1h-1zM478.6 500.2h0.6v10.1h-0.6z" fill="#fbbca3"/>
<path d="M448.3 500.2h1v10.1h-1zM464.6 500.2h1.1v10.1h-1.1zM474.6 500.2h0.9v10.1h-0.9z" fill="#fddcce"/>
<path d="M449.2 500.2h1.9v10.1h-1.9zM452 500.2h1.5v10.1h-1.5zM454.3 500.2h2v10.1h-2zM462.7 500.2h2v10.1h-2zM466.6 500.2h1.2v10.1h-1.2zM467.8 500.2h0.9v10.1h-0.9zM477.3 500.2h1.3v10.1h-1.3z" fill="#fcc8b2"/>
<path d="M451.1 500.2h1v10.1h-1zM457.5 500.2h1.9v10.1h-1.9zM465.6 500.2h1.1v10.1h-1.1zM470 500.2h1.5v10.1h-1.5z" fill="#fab195"/>
<path d="M456.2 500.2h1.3v10.1h-1.3zM461 500.2h1.7v10.1h-1.7z" fill="#f79271"/>
<path d="M471.4 500.2h1.5v10.1h-1.5z" fill="#fcd2c0"/>
<path d="M472.9 500.2h1.8v10.1h-1.8z" fill="#f89c7c"/>
<path d="M475.5 500.2h1.9v10.1h-1.9z" fill="#fde6dc"/>
<rect x="483.8" y="500.2" width="47.5" height="10.1" fill="#f89c7c"/>
<path d="M483.8 500.2h1v10.1h-1zM489.8 500.2h1.2v10.1h-1.2zM492.9 500.2h1.3v10.1h-1.3zM502.1 500.2h1.7v10.1h-1.7zM513.6 500.2h1v10.1h-1zM529.6 500.2h1.8v10.1h-1.8z" fill="#f79271"/>
<path d="M484.8 500.2h1.3v10.1h-1.3zM489 500.2h0.8v10.1h-0.8zM495.4 500.2h1v10.1h-1zM500.2 500.2h1.1v10.1h-1.1z" fill="#f9a586"/>
<path d="M486.1 500.2h1v10.1h-1zM508.9 500.2h0.8v10.1h-0.8z" fill="#f27454"/>
<path d="M487 500.2h1.2v10.1h-1.2zM490.9 500.2h2v10.1h-2zM494.1 500.2h1.4v10.1h-1.4zM498.9 500.2h1.3v10.1h-1.3zM511.4 500.2h1.5v10.1h-1.5z" fill="#f57f5c"/>
<path d="M488.2 500.2h0.9v10.1h-0.9zM496.4 500.2h1.6v10.1h-1.6zM501.2 500.2h1v10.1h-1zM505.3 500.2h0.9v10.1h-0.9zM506.2 500.2h1.4v10.1h-1.4zM507.5 500.2h1.4v10.1h-1.4zM509.6 500.2h0.9v10.1h-0.9zM512.9 500.2h0.8v10.1h-0.8zM518 500.2h1.9v10.1h-1.9zM523.2 500.2h1.5v10.1h-1.5zM526.1 500.2h1.6v10.1h-1.6z" fill="#f89c7c"/>
<path d="M498 500.2h1v10.1h-1zM514.5 500.2h1.7v10.1h-1.7z" fill="#f68866"/>
<path d="M503.8 500.2h1.6v10.1h-1.6zM519.8 500.2h1.7v10.1h-1.7zM524.7 500.2h1.5v10.1h-1.5z" fill="#fab195"/>
<path d="M510.5 500.2h1v10.1h-1zM516.2 500.2h1.8v10.1h-1.8z" fill="#fcc8b2"/>
<path d="M521.4 500.2h1.8v10.1h-1.8zM527.7 500.2h1.9v10.1h-1.9z" fill="#fbbca3"/>
<rect x="535.9" y="500.2" width="25.4" height="10.1" fill="#fbece8"/>
<path d="M535.9 500.2h1.1v10.1h-1.1zM559.5 500.2h1.4v10.1h-1.4z" fill="#fcc8b2"/>
<path d="M536.9 500.2h1.6v10.1h-1.6zM548 500.2h1.9v10.1h-1.9zM553.4 500.2h1.9v10.1h-1.9z" fill="#e2d5f6"/>
<path d="M538.4 500.2h1.9v10.1h-1.9z" fill="#cbb6ee"/>
<path d="M540.2 500.2h1.9v10.1h-1.9z" fill="#fcd2c0"/>
<path d="M542.1 500.2h1.6v10.1h-1.6zM545.9 500.2h1.2v10.1h-1.2zM551.8 500.2h1.7v10.1h-1.7z" fill="#fde6dc"/>
<path d="M543.6 500.2h1.4v10.1h-1.4z" fill="#b398e3"/>
<path d="M544.9 500.2h1v10.1h-1z" fill="#bfa7e8"/>
<path d="M547 500.2h1v10.1h-1zM549.8 500.2h2v10.1h-2zM560.9 500.2h0.5v10.1h-0.5z" fill="#fbece8"/>
<path d="M555.3 500.2h2v10.1h-2z" fill="#fab195"/>
<path d="M557.3 500.2h0.8v10.1h-0.8z" fill="#f79271"/>
<path d="M558 500.2h1.5v10.1h-1.5z" fill="#a98ee0"/>
<rect x="565" y="500.2" width="6.9" height="10.1" fill="#7962cc"/>
<path d="M565 500.2h1.3v10.1h-1.3z" fill="#6652c2"/>
<path d="M566.2 500.2h1.5v10.1h-1.5zM569.4 500.2h1.3v10.1h-1.3z" fill="#8c71d5"/>
<path d="M567.7 500.2h1.8v10.1h-1.8z" fill="#8369d0"/>
<path d="M570.6 500.2h1.4v10.1h-1.4z" fill="#7962cc"/>
<rect x="575.4" y="500.2" width="22.6" height="10.1" fill="#a98ee0"/>
<path d="M575.4 500.2h1.9v10.1h-1.9zM578.8 500.2h1.8v10.1h-1.8z" fill="#9679da"/>
<path d="M577.2 500.2h1.6v10.1h-1.6zM581.5 500.2h0.9v10.1h-0.9zM589.7 500.2h1.2v10.1h-1.2z" fill="#cbb6ee"/>
<path d="M580.5 500.2h1v10.1h-1zM582.3 500.2h1.3v10.1h-1.3z" fill="#a083dd"/>
<path d="M583.6 500.2h1.9v10.1h-1.9z" fill="#7962cc"/>
<path d="M585.4 500.2h1.9v10.1h-1.9z" fill="#e2d5f6"/>
<path d="M587.2 500.2h1.4v10.1h-1.4z" fill="#6652c2"/>
<path d="M588.5 500.2h1.3v10.1h-1.3zM592.7 500.2h1.1v10.1h-1.1z" fill="#705ac7"/>
<path d="M590.9 500.2h1.9v10.1h-1.9z" fill="#d7c5f3"/>
<path d="M593.8 500.2h1.4v10.1h-1.4z" fill="#8369d0"/>
<path d="M595.1 500.2h2v10.1h-2z" fill="#bfa7e8"/>
<path d="M597 500.2h1v10.1h-1z" fill="#b398e3"/>
<rect x="299" y="510.2" width="48.8" height="10.1" fill="#fbbca3"/>
<path d="M299 510.2h2v10.1h-2zM308.2 510.2h1.7v10.1h-1.7zM331 510.2h0.8v10.1h-0.8zM333.6 510.2h1v10.1h-1zM341.5 510.2h1.6v10.1h-1.6zM346 510.2h1.6v10.1h-1.6z" fill="#fab195"/>
<path d="M300.9 510.2h0.9v10.1h-0.9zM307.2 510.2h1.1v10.1h-1.1zM310.7 510.2h1.2v10.1h-1.2zM314.7 510.2h2v10.1h-2zM318.3 510.2h0.8v10.1h-0.8zM320.2 510.2h1.9v10.1h-1.9zM326.6 510.2h1.6v10.1h-1.6zM328.1 510.2h1.7v10.1h-1.7zM332.6 510.2h1v10.1h-1zM338.6 510.2h1.7v10.1h-1.7zM340.3 510.2h1.3v10.1h-1.3zM347.6 510.2h0.3v10.1h-0.3z" fill="#fbbca3"/>
<path d="M301.8 510.2h1v10.1h-1zM309.8 510.2h1v10.1h-1zM313.8 510.2h0.9v10.1h-0.9zM344.5 510.2h1.5v10.1h-1.5z" fill="#f9a586"/>
<path d="M302.7 510.2h1.7v10.1h-1.7zM311.9 510.2h2v10.1h-2zM317.4 510.2h0.9v10.1h-0.9zM331.8 510.2h0.9v10.1h-0.9zM335.9 510.2h1.2v10.1h-1.2zM343.1 510.2h1.5v10.1h-1.5z" fill="#fcd2c0"/>
<path d="M304.4 510.2h2v10.1h-2zM306.3 510.2h0.9v10.1h-0.9zM316.6 510.2h0.8v10.1h-0.8zM319 510.2h1.3v10.1h-1.3zM323.9 510.2h1.1v10.1h-1.1zM329.7 510.2h1.3v10.1h-1.3zM334.5 510.2h1.5v10.1h-1.5zM337 510.2h1.7v10.1h-1.7z" fill="#fcc8b2"/>
<path d="M322 510.2h1.9v10.1h-1.9z" fill="#fddcce"/>
<path d="M325 510.2h1.7v10.1h-1.7z" fill="#f89c7c"/>
<rect x="352" y="510.2" width="34.4" height="10.1" fill="#fab195"/>
<path d="M352 510.2h1v10.1h-1zM353 510.2h1.7v10.1h-1.7zM360.6 510.2h0.9v10.1h-0.9zM365.7 510.2h1.9v10.1h-1.9zM367.5 510.2h1.1v10.1h-1.1zM380 510.2h1.3v10.1h-1.3z" fill="#fbbca3"/>
<path d="M354.7 510.2h1.1v10.1h-1.1zM355.7 510.2h1v10.1h-1zM356.6 510.2h1.6v10.1h-1.6zM359.4 510.2h1.2v10.1h-1.2zM361.4 510.2h1.1v10.1h-1.1zM362.4 510.2h1.8v10.1h-1.8zM371.1 510.2h1.6v10.1h-1.6zM372.7 510.2h1.4v10.1h-1.4zM381.2 510.2h0.9v10.1h-0.9zM383.7 510.2h1.2v10.1h-1.2z" fill="#fab195"/>
<path d="M358.1 510.2h1.3v10.1h-1.3zM364.2 510.2h1.6v10.1h-1.6zM368.6 510.2h1.5v10.1h-1.5zM370.1 510.2h1.1v10.1h-1.1zM375.5 510.2h1v10.1h-1zM376.4 510.2h1.4v10.1h-1.4zM382 510.2h1.7v10.1h-1.7zM384.8 510.2h1.6v10.1h-1.6z" fill="#f9a586"/>
<path d="M374 510.2h1.5v10.1h-1.5zM377.8 510.2h1.3v10.1h-1.3zM379 510.2h1v10.1h-1z" fill="#f89c7c"/>
<rect x="390.6" y="510.2" width="8.6" height="10.1" fill="#8c71d5"/>
<path d="M390.6 510.2h1v10.1h-1zM398 510.2h0.9v10.1h-0.9z" fill="#8369d0"/>
<path d="M391.5 510.2h1.4v10.1h-1.4zM392.8 510.2h1.8v10.1h-1.8zM394.6 510.2h1.8v10.1h-1.8z" fill="#8c71d5"/>
<path d="M396.3 510.2h1.7v10.1h-1.7z" fill="#9679da"/>
<path d="M398.8 510.2h0.4v10.1h-0.4z" fill="#a083dd"/>
<rect x="403.6" y="510.2" width="36.4" height="10.1" fill="#7962cc"/>
<path d="M403.6 510.2h1.4v10.1h-1.4zM407.8 510.2h1.1v10.1h-1.1zM414.8 510.2h1.6v10.1h-1.6zM416.3 510.2h1.7v10.1h-1.7zM420.9 510.2h1.9v10.1h-1.9zM424.7 510.2h1.4v10.1h-1.4zM426.1 510.2h1.5v10.1h-1.5zM427.6 510.2h2v10.1h-2zM429.5 510.2h0.8v10.1h-0.8zM430.2 510.2h1.5v10.1h-1.5zM431.7 510.2h1.9v10.1h-1.9zM433.5 510.2h1.8v10.1h-1.8zM437.1 510.2h1.4v10.1h-1.4zM438.4 510.2h1.3v10.1h-1.3zM439.6 510.2h0.4v10.1h-0.4z" fill="#7962cc"/>
<path d="M404.9 510.2h1.7v10.1h-1.7zM419.1 510.2h1.9v10.1h-1.9zM422.8 510.2h2v10.1h-2zM435.3 510.2h1.8v10.1h-1.8z" fill="#8369d0"/>
<path d="M406.5 510.2h1.3v10.1h-1.3zM408.8 510.2h2v10.1h-2zM410.7 510.2h1.1v10.1h-1.1zM411.8 510.2h1.1v10.1h-1.1zM412.8 510.2h2v10.1h-2zM417.9 510.2h1.2v10.1h-1.2z" fill="#705ac7"/>
<rect x="444.3" y="510.2" width="34.8" height="10.1" fill="#f9aa8c"/>
<path d="M444.3 510.2h1.3v10.1h-1.3zM447.5 510.2h1.7v10.1h-1.7zM449.2 510.2h1.3v10.1h-1.3zM452.2 510.2h1.1v10.1h-1.1zM462.4 510.2h1.5v10.1h-1.5zM466.8 510.2h1.9v10.1h-1.9z" fill="#fab195"/>
<path d="M445.5 510.2h1.1v10.1h-1.1zM453.2 510.2h2v10.1h-2zM455.2 510.2h1.5v10.1h-1.5zM456.6 510.2h1.8v10.1h-1.8zM459.4 510.2h1.3v10.1h-1.3zM461.6 510.2h0.8v10.1h-0.8zM475.6 510.2h0.9v10.1h-0.9zM476.5 510.2h1.7v10.1h-1.7zM478.1 510.2h1v10.1h-1z" fill="#f9a586"/>
<path d="M446.6 510.2h1v10.1h-1zM450.5 510.2h1.8v10.1h-1.8zM465 510.2h0.8v10.1h-0.8zM472.7 510.2h1.3v10.1h-1.3zM474 510.2h1.7v10.1h-1.7z" fill="#fbbca3"/>
<path d="M458.4 510.2h1.1v10.1h-1.1zM460.7 510.2h0.9v10.1h-0.9zM463.9 510.2h1.2v10.1h-1.2zM465.8 510.2h1.1v10.1h-1.1zM468.7 510.2h1.2v10.1h-1.2zM469.8 510.2h1.9v10.1h-1.9zM471.7 510.2h1.1v10.1h-1.1z" fill="#f89c7c"/>
<rect x="483.8" y="510.2" width="47.5" height="10.1" fill="#f9a586"/>
<path d="M483.8 510.2h1.5v10.1h-1.5z" fill="#f79271"/>
<path d="M485.2 510.2h1.9v10.1h-1.9zM492.3 510.2h1.1v10.1h-1.1zM499.2 510.2h1.2v10.1h-1.2zM526.4 510.2h0.9v10.1h-0.9z" fill="#fbbca3"/>
<path d="M487 510.2h1.4v10.1h-1.4zM493.4 510.2h1.1v10.1h-1.1zM501.2 510.2h0.9v10.1h-0.9zM506.2 510.2h1.5v10.1h-1.5zM507.6 510.2h1.4v10.1h-1.4zM511.1 510.2h1.4v10.1h-1.4zM518.2 510.2h1.7v10.1h-1.7zM519.9 510.2h1.7v10.1h-1.7zM521.5 510.2h1.2v10.1h-1.2zM523.4 510.2h2v10.1h-2zM525.3 510.2h1.2v10.1h-1.2zM527.2 510.2h1.3v10.1h-1.3z" fill="#f89c7c"/>
<path d="M488.4 510.2h0.8v10.1h-0.8zM489.1 510.2h2v10.1h-2zM497.7 510.2h1.5v10.1h-1.5zM502.1 510.2h1.7v10.1h-1.7zM504.5 510.2h1.8v10.1h-1.8zM509 510.2h1.3v10.1h-1.3zM510.3 510.2h0.9v10.1h-0.9zM512.4 510.2h1.2v10.1h-1.2zM513.6 510.2h1.5v10.1h-1.5zM516.1 510.2h1.3v10.1h-1.3z" fill="#f9a586"/>
<path d="M491.1 510.2h1.2v10.1h-1.2zM496.1 510.2h1.7v10.1h-1.7zM500.3 510.2h0.9v10.1h-0.9zM503.7 510.2h0.8v10.1h-0.8zM515 510.2h1.2v10.1h-1.2zM517.4 510.2h0.8v10.1h-0.8zM529.5 510.2h1.9v10.1h-1.9z" fill="#fab195"/>
<path d="M494.4 510.2h1.7v10.1h-1.7zM522.7 510.2h0.8v10.1h-0.8zM528.5 510.2h1.1v10.1h-1.1z" fill="#fcc8b2"/>
<rect x="535.9" y="510.2" width="25.4" height="10.1" fill="#d7c5f3"/>
<path d="M535.9 510.2h1.6v10.1h-1.6zM537.4 510.2h1.5v10.1h-1.5z" fill="#a083dd"/>
<path d="M538.9 510.2h1.8v10.1h-1.8zM546.5 510.2h1.2v10.1h-1.2zM553.8 510.2h1.9v10.1h-1.9z" fill="#e2d5f6"/>
<path d="M540.6 510.2h1.3v10.1h-1.3zM557.9 510.2h1.4v10.1h-1.4z" fill="#bfa7e8"/>
<path d="M541.9 510.2h1.4v10.1h-1.4z" fill="#cbb6ee"/>
<path d="M543.2 510.2h1.5v10.1h-1.5zM559.2 510.2h1.9v10.1h-1.9z" fill="#fbece8"/>
<path d="M544.6 510.2h0.9v10.1h-0.9zM547.7 510.2h2v10.1h-2z" fill="#b398e3"/>
<path d="M545.5 510.2h1.1v10.1h-1.1z" fill="#eee5f8"/>
<path d="M549.6 510.2h1.4v10.1h-1.4z" fill="#f9f2f4"/>
<path d="M550.9 510.2h1.5v10.1h-1.5zM552.4 510.2h1.5v10.1h-1.5zM561 510.2h0.3v10.1h-0.3z" fill="#fcd2c0"/>
<path d="M555.6 510.2h1.6v10.1h-1.6z" fill="#f9a586"/>
<path d="M557.1 510.2h0.8v10.1h-0.8z" fill="#fde6dc"/>
<rect x="565" y="510.2" width="6.9" height="10.1" fill="#8c71d5"/>
<path d="M565 510.2h1.9v10.1h-1.9zM566.9 510.2h1.2v10.1h-1.2zM570.8 510.2h1.1v10.1h-1.1z" fill="#8c71d5"/>
<path d="M568.1 510.2h0.9v10.1h-0.9zM568.9 510.2h2v10.1h-2z" fill="#8369d0"/>
<rect x="575.4" y="510.2" width="22.6" height="10.1" fill="#9679da"/>
<path d="M575.4 510.2h0.9v10.1h-0.9zM589.6 510.2h0.8v10.1h-0.8z" fill="#9679da"/>
<path d="M576.2 510.2h1.7v10.1h-1.7zM579.8 510.2h1.1v10.1h-1.1zM581.9 510.2h2v10.1h-2z" fill="#a98ee0"/>
<path d="M577.9 510.2h2v10.1h-2zM584.9 510.2h1.2v10.1h-1.2zM586.1 510.2h1.7v10.1h-1.7z" fill="#8c71d5"/>
<path d="M580.8 510.2h1.1v10.1h-1.1zM594.4 510.2h1.2v10.1h-1.2z" fill="#a083dd"/>
<path d="M583.9 510.2h1.1v10.1h-1.1z" fill="#eee5f8"/>
<path d="M587.8 510.2h1.9v10.1h-1.9zM595.5 510.2h1.7v10.1h-1.7z" fill="#705ac7"/>
<path d="M590.4 510.2h0.8v10.1h-0.8z" fill="#8369d0"/>
<path d="M591.2 510.2h1.7v10.1h-1.7zM597.1 510.2h0.9v10.1h-0.9z" fill="#cbb6ee"/>
<path d="M592.8 510.2h1.6v10.1h-1.6z" fill="#7962cc"/>
<rect x="299" y="520.3" width="48.8" height="10.1" fill="#d7c5f3"/>
<path d="M299 520.3h1.5v10.1h-1.5zM304 520.3h1.5v10.1h-1.5zM306.4 520.3h1v10.1h-1zM307.4 520.3h1.2v10.1h-1.2zM308.6 520.3h1.5v10.1h-1.5zM311.8 520.3h1.1v10.1h-1.1zM318.3 520.3h2v10.1h-2zM320.3 520.3h1.9v10.1h-1.9zM322.1 520.3h2v10.1h-2zM326 520.3h0.8v10.1h-0.8zM327.9 520.3h1.8v10.1h-1.8zM338.2 520.3h1.9v10.1h-1.9zM347.5 520.3h0.4v10.1h-0.4z" fill="#cbb6ee"/>
<path d="M300.5 520.3h1.5v10.1h-1.5zM305.5 520.3h1v10.1h-1zM313.6 520.3h1v10.1h-1zM335.7 520.3h0.8v10.1h-0.8z" fill="#bfa7e8"/>
<path d="M301.9 520.3h1.3v10.1h-1.3zM303.2 520.3h0.9v10.1h-0.9zM324.1 520.3h1.9v10.1h-1.9zM329.7 520.3h1.8v10.1h-1.8zM334.6 520.3h1.1v10.1h-1.1zM344.3 520.3h1.9v10.1h-1.9z" fill="#e2d5f6"/>
<path d="M310.1 520.3h1.8v10.1h-1.8zM312.9 520.3h0.8v10.1h-0.8zM314.6 520.3h1.8v10.1h-1.8zM316.4 520.3h2v10.1h-2zM326.7 520.3h1.2v10.1h-1.2zM331.5 520.3h1.8v10.1h-1.8zM333.2 520.3h1.4v10.1h-1.4zM336.5 520.3h1.7v10.1h-1.7zM340.1 520.3h1.5v10.1h-1.5zM341.5 520.3h1.3v10.1h-1.3zM342.7 520.3h1.6v10.1h-1.6zM346.1 520.3h1.4v10.1h-1.4z" fill="#d7c5f3"/>
<rect x="352" y="520.3" width="34.4" height="10.1" fill="#eee5f8"/>
<path d="M352 520.3h1.9v10.1h-1.9z" fill="#cbb6ee"/>
<path d="M353.9 520.3h1.8v10.1h-1.8zM363.9 520.3h1.2v10.1h-1.2zM380 520.3h1.3v10.1h-1.3z" fill="#d7c5f3"/>
<path d="M355.6 520.3h1.8v10.1h-1.8zM368.9 520.3h1.8v10.1h-1.8z" fill="#fde6dc"/>
<path d="M357.4 520.3h1v10.1h-1zM358.3 520.3h2v10.1h-2zM372 520.3h1.3v10.1h-1.3zM384.4 520.3h1.1v10.1h-1.1z" fill="#e2d5f6"/>
<path d="M360.3 520.3h1.1v10.1h-1.1zM362.7 520.3h1.3v10.1h-1.3zM365.1 520.3h0.9v10.1h-0.9zM378.2 520.3h1.8v10.1h-1.8z" fill="#eee5f8"/>
<path d="M361.4 520.3h1.4v10.1h-1.4zM370.6 520.3h1.4v10.1h-1.4zM381.2 520.3h1.3v10.1h-1.3z" fill="#fbece8"/>
<path d="M365.9 520.3h1.9v10.1h-1.9zM382.5 520.3h1.9v10.1h-1.9zM385.4 520.3h1v10.1h-1z" fill="#bfa7e8"/>
<path d="M367.7 520.3h1.2v10.1h-1.2zM374.8 520.3h1.3v10.1h-1.3z" fill="#fddcce"/>
<path d="M373.2 520.3h1.7v10.1h-1.7z" fill="#fcd2c0"/>
<path d="M376.1 520.3h1.4v10.1h-1.4z" fill="#b398e3"/>
<path d="M377.4 520.3h0.8v10.1h-0.8z" fill="#f9f2f4"/>
<rect x="390.6" y="520.3" width="8.6" height="10.1" fill="#fcd2c0"/>
<path d="M390.6 520.3h1.1v10.1h-1.1z" fill="#e2d5f6"/>
<path d="M391.7 520.3h1.5v10.1h-1.5z" fill="#fbbca3"/>
<path d="M393.2 520.3h1.9v10.1h-1.9z" fill="#f68866"/>
<path d="M395 520.3h1.6v10.1h-1.6z" fill="#fcc8b2"/>
<path d="M396.6 520.3h1.7v10.1h-1.7zM398.2 520.3h1.1v10.1h-1.1z" fill="#f9f2f4"/>
<rect x="403.6" y="520.3" width="36.4" height="10.1" fill="#f79271"/>
<path d="M403.6 520.3h1.6v10.1h-1.6zM421.6 520.3h0.8v10.1h-0.8zM436.6 520.3h1.9v10.1h-1.9z" fill="#f9a586"/>
<path d="M405.2 520.3h0.9v10.1h-0.9zM409.6 520.3h1.3v10.1h-1.3zM411.6 520.3h0.9v10.1h-0.9zM413.8 520.3h1.9v10.1h-1.9zM419 520.3h0.8v10.1h-0.8zM429.6 520.3h1.1v10.1h-1.1zM430.6 520.3h1.2v10.1h-1.2zM433.7 520.3h1.3v10.1h-1.3zM439.9 520.3h0.1v10.1h-0.1z" fill="#f68866"/>
<path d="M406 520.3h1.3v10.1h-1.3zM412.5 520.3h1.4v10.1h-1.4zM415.7 520.3h1.6v10.1h-1.6zM427.8 520.3h1.8v10.1h-1.8zM431.8 520.3h2v10.1h-2z" fill="#f89c7c"/>
<path d="M407.2 520.3h1v10.1h-1zM408.2 520.3h1.4v10.1h-1.4z" fill="#f79271"/>
<path d="M410.8 520.3h0.9v10.1h-0.9zM417.3 520.3h1.8v10.1h-1.8z" fill="#f57f5c"/>
<path d="M419.7 520.3h1.9v10.1h-1.9z" fill="#ee6a4b"/>
<path d="M422.4 520.3h1.9v10.1h-1.9zM426 520.3h1.9v10.1h-1.9zM438.4 520.3h1.5v10.1h-1.5z" fill="#fab195"/>
<path d="M424.2 520.3h1.9v10.1h-1.9z" fill="#f9f2f4"/>
<path d="M435 520.3h1.7v10.1h-1.7z" fill="#f27454"/>
<rect x="444.3" y="520.3" width="34.8" height="10.1" fill="#d7c5f3"/>
<path d="M444.3 520.3h1.9v10.1h-1.9zM448 520.3h1.7v10.1h-1.7zM449.7 520.3h1.4v10.1h-1.4zM452.6 520.3h1.8v10.1h-1.8zM457.6 520.3h1.5v10.1h-1.5zM461.5 520.3h0.8v10.1h-0.8zM462.2 520.3h1.7v10.1h-1.7zM463.9 520.3h1.9v10.1h-1.9zM467.1 520.3h0.9v10.1h-0.9zM467.9 520.3h2v10.1h-2zM469.9 520.3h1v10.1h-1zM473.7 520.3h1.9v10.1h-1.9zM476.5 520.3h1.4v10.1h-1.4zM477.8 520.3h1.3v10.1h-1.3z" fill="#d7c5f3"/>
<path d="M446.2 520.3h1.9v10.1h-1.9zM451 520.3h1.7v10.1h-1.7zM460.5 520.3h1.1v10.1h-1.1zM475.5 520.3h1v10.1h-1z" fill="#cbb6ee"/>
<path d="M454.4 520.3h2v10.1h-2z" fill="#eee5f8"/>
<path d="M456.3 520.3h1.4v10.1h-1.4zM459.1 520.3h1.4v10.1h-1.4zM465.7 520.3h1.4v10.1h-1.4zM470.8 520.3h1.3v10.1h-1.3zM472 520.3h1.7v10.1h-1.7z" fill="#e2d5f6"/>
<rect x="483.8" y="520.3" width="47.5" height="10.1" fill="#d7c5f3"/>
<path d="M483.8 520.3h1.7v10.1h-1.7zM485.5 520.3h1.2v10.1h-1.2zM486.6 520.3h1.2v10.1h-1.2zM487.8 520.3h1.6v10.1h-1.6zM489.4 520.3h1.9v10.1h-1.9zM491.2 520.3h1.4v10.1h-1.4zM494 520.3h0.8v10.1h-0.8zM494.7 520.3h0.8v10.1h-0.8zM496.4 520.3h1.1v10.1h-1.1zM504.2 520.3h1.3v10.1h-1.3zM509 520.3h1.1v10.1h-1.1zM512 520.3h1.5v10.1h-1.5zM516.5 520.3h1.5v10.1h-1.5zM519.5 520.3h1.9v10.1h-1.9zM521.3 520.3h0.8v10.1h-0.8zM522.1 520.3h1.6v10.1h-1.6zM523.7 520.3h1v10.1h-1zM529.8 520.3h0.8v10.1h-0.8zM530.6 520.3h0.8v10.1h-0.8z" fill="#d7c5f3"/>
<path d="M492.6 520.3h1.4v10.1h-1.4zM505.4 520.3h1.9v10.1h-1.9zM510.1 520.3h2v10.1h-2zM513.4 520.3h1.2v10.1h-1.2zM525.9 520.3h2v10.1h-2zM527.9 520.3h2v10.1h-2z" fill="#cbb6ee"/>
<path d="M495.4 520.3h1v10.1h-1zM497.4 520.3h2v10.1h-2zM499.4 520.3h1.4v10.1h-1.4zM500.7 520.3h2v10.1h-2zM502.6 520.3h1.6v10.1h-1.6zM507.2 520.3h1.8v10.1h-1.8zM514.6 520.3h2v10.1h-2zM518 520.3h1.6v10.1h-1.6z" fill="#e2d5f6"/>
<path d="M524.6 520.3h1.4v10.1h-1.4z" fill="#bfa7e8"/>
<rect x="535.9" y="520.3" width="25.4" height="10.1" fill="#decff4"/>
<path d="M535.9 520.3h1.4v10.1h-1.4zM538.7 520.3h0.9v10.1h-0.9zM540.5 520.3h1.4v10.1h-1.4zM546.5 520.3h1.5v10.1h-1.5zM550 520.3h1.6v10.1h-1.6zM551.5 520.3h1.2v10.1h-1.2z" fill="#eee5f8"/>
<path d="M537.2 520.3h0.8v10.1h-0.8zM539.5 520.3h1v10.1h-1zM543.4 520.3h1v10.1h-1zM545.3 520.3h1.2v10.1h-1.2zM552.7 520.3h1.1v10.1h-1.1zM556.5 520.3h1.8v10.1h-1.8zM558.3 520.3h1.6v10.1h-1.6z" fill="#e2d5f6"/>
<path d="M537.9 520.3h0.8v10.1h-0.8zM541.8 520.3h1.6v10.1h-1.6zM544.4 520.3h1v10.1h-1zM548 520.3h2v10.1h-2zM553.7 520.3h1.3v10.1h-1.3zM554.9 520.3h1.7v10.1h-1.7zM559.8 520.3h0.9v10.1h-0.9z" fill="#d7c5f3"/>
<path d="M560.7 520.3h0.7v10.1h-0.7z" fill="#f9f2f4"/>
<rect x="565" y="520.3" width="6.9" height="10.1" fill="#fab195"/>
<path d="M565 520.3h1.9v10.1h-1.9z" fill="#f9a586"/>
<path d="M566.9 520.3h1.9v10.1h-1.9zM568.7 520.3h1.7v10.1h-1.7z" fill="#fbbca3"/>
<path d="M570.4 520.3h1.6v10.1h-1.6z" fill="#fab195"/>
<rect x="575.4" y="520.3" width="22.6" height="10.1" fill="#e24b33"/>
<path d="M575.4 520.3h1.8v10.1h-1.8zM587.1 520.3h1v10.1h-1zM589.6 520.3h1.4v10.1h-1.4zM592 520.3h1.4v10.1h-1.4z" fill="#e24b33"/>
<path d="M577.1 520.3h1.3v10.1h-1.3zM597.9 520.3h0.1v10.1h-0.1z" fill="#eb6042"/>
<path d="M578.4 520.3h0.8v10.1h-0.8zM579.1 520.3h2v10.1h-2zM584.1 520.3h1.6v10.1h-1.6zM585.6 520.3h1.5v10.1h-1.5zM588 520.3h1.6v10.1h-1.6zM590.9 520.3h1.1v10.1h-1.1z" fill="#e8553a"/>
<path d="M581 520.3h1.7v10.1h-1.7zM582.7 520.3h1.5v10.1h-1.5zM595.2 520.3h1.6v10.1h-1.6z" fill="#dc402c"/>
<path d="M593.3 520.3h1.9v10.1h-1.9z" fill="#ee6a4b"/>
<path d="M596.7 520.3h1.2v10.1h-1.2z" fill="#d12b1d"/>
<rect x="299" y="530.4" width="48.8" height="10.1" fill="#fbbca3"/>
<path d="M299 530.4h1.3v10.1h-1.3zM308.1 530.4h1.2v10.1h-1.2zM310.6 530.4h1.4v10.1h-1.4zM337.3 530.4h1.6v10.1h-1.6zM344.9 530.4h2v10.1h-2z" fill="#f9a586"/>
<path d="M300.3 530.4h0.8v10.1h-0.8zM307 530.4h1.2v10.1h-1.2z" fill="#f89c7c"/>
<path d="M301 530.4h1.5v10.1h-1.5zM306 530.4h1.1v10.1h-1.1zM331.2 530.4h0.8v10.1h-0.8zM341.4 530.4h1.6v10.1h-1.6z" fill="#fddcce"/>
<path d="M302.5 530.4h1.5v10.1h-1.5zM335.7 530.4h1.7v10.1h-1.7z" fill="#f79271"/>
<path d="M303.9 530.4h1.2v10.1h-1.2zM314.9 530.4h0.9v10.1h-0.9zM323.5 530.4h1.5v10.1h-1.5zM334.7 530.4h1.1v10.1h-1.1zM338.8 530.4h1.3v10.1h-1.3z" fill="#fcc8b2"/>
<path d="M305.1 530.4h1v10.1h-1zM326.4 530.4h1v10.1h-1zM346.8 530.4h1v10.1h-1z" fill="#fcd2c0"/>
<path d="M309.3 530.4h1.4v10.1h-1.4z" fill="#d7c5f3"/>
<path d="M312 530.4h1.7v10.1h-1.7z" fill="#eb6042"/>
<path d="M313.7 530.4h1.3v10.1h-1.3zM315.8 530.4h1.4v10.1h-1.4zM317.2 530.4h1.4v10.1h-1.4z" fill="#fbece8"/>
<path d="M318.5 530.4h0.8v10.1h-0.8z" fill="#ee6a4b"/>
<path d="M319.2 530.4h1.8v10.1h-1.8z" fill="#e8553a"/>
<path d="M320.9 530.4h1.3v10.1h-1.3z" fill="#f9f2f4"/>
<path d="M322.2 530.4h1.4v10.1h-1.4zM340.1 530.4h1.4v10.1h-1.4z" fill="#fde6dc"/>
<path d="M325 530.4h1.4v10.1h-1.4zM332 530.4h1.9v10.1h-1.9z" fill="#f68866"/>
<path d="M327.3 530.4h1.6v10.1h-1.6z" fill="#e2d5f6"/>
<path d="M328.8 530.4h1.1v10.1h-1.1z" fill="#fab195"/>
<path d="M329.9 530.4h1.4v10.1h-1.4z" fill="#fbbca3"/>
<path d="M333.9 530.4h0.9v10.1h-0.9z" fill="#f57f5c"/>
<path d="M343 530.4h1.9v10.1h-1.9z" fill="#dc402c"/>
<rect x="352" y="530.4" width="34.4" height="10.1" fill="#fbece8"/>
<path d="M352 530.4h0.9v10.1h-0.9zM372.6 530.4h2v10.1h-2zM374.5 530.4h1.8v10.1h-1.8zM386.1 530.4h0.3v10.1h-0.3z" fill="#f9f2f4"/>
<path d="M352.8 530.4h1.3v10.1h-1.3zM363.3 530.4h1.1v10.1h-1.1zM370 530.4h0.9v10.1h-0.9z" fill="#e2d5f6"/>
<path d="M354.1 530.4h1.2v10.1h-1.2zM356 530.4h1.6v10.1h-1.6z" fill="#fbece8"/>
<path d="M355.2 530.4h0.8v10.1h-0.8zM359.1 530.4h0.9v10.1h-0.9zM359.9 530.4h1.8v10.1h-1.8zM368.4 530.4h1.6v10.1h-1.6zM377.2 530.4h1.1v10.1h-1.1zM381 530.4h1.8v10.1h-1.8zM382.7 530.4h1.8v10.1h-1.8z" fill="#fde6dc"/>
<path d="M357.5 530.4h1.6v10.1h-1.6z" fill="#fcc8b2"/>
<path d="M361.7 530.4h1.6v10.1h-1.6zM365.6 530.4h1.4v10.1h-1.4zM367 530.4h1.4v10.1h-1.4zM376.2 530.4h1v10.1h-1zM378.3 530.4h1v10.1h-1zM384.4 530.4h1.7v10.1h-1.7z" fill="#fddcce"/>
<path d="M364.4 530.4h1.3v10.1h-1.3z" fill="#d7c5f3"/>
<path d="M370.8 530.4h1.8v10.1h-1.8zM379.2 530.4h1.8v10.1h-1.8z" fill="#eee5f8"/>
<rect x="390.6" y="530.4" width="8.6" height="10.1" fill="#5046b5"/>
<path d="M390.6 530.4h2v10.1h-2z" fill="#574ab9"/>
<path d="M392.5 530.4h2v10.1h-2zM394.4 530.4h1.9v10.1h-1.9zM397.3 530.4h1.2v10.1h-1.2z" fill="#4942b1"/>
<path d="M396.2 530.4h1.1v10.1h-1.1z" fill="#413eac"/>
<path d="M398.4 530.4h0.8v10.1h-0.8z" fill="#705ac7"/>
<rect x="403.6" y="530.4" width="36.4" height="10.1" fill="#fbbca3"/>
<path d="M403.6 530.4h0.9v10.1h-0.9zM407.5 530.4h0.9v10.1h-0.9zM410.3 530.4h1.3v10.1h-1.3zM414.6 530.4h1.2v10.1h-1.2zM415.8 530.4h0.8v10.1h-0.8zM416.5 530.4h1.7v10.1h-1.7zM425.4 530.4h0.9v10.1h-0.9zM426.2 530.4h1.3v10.1h-1.3zM433.6 530.4h1.4v10.1h-1.4zM436.9 530.4h1.1v10.1h-1.1zM437.9 530.4h1.2v10.1h-1.2zM439.1 530.4h0.9v10.1h-0.9z" fill="#fab195"/>
<path d="M404.4 530.4h2v10.1h-2zM408.4 530.4h0.8v10.1h-0.8zM420.7 530.4h1.4v10.1h-1.4zM432.8 530.4h0.9v10.1h-0.9zM434.9 530.4h2v10.1h-2z" fill="#f9a586"/>
<path d="M406.4 530.4h1.2v10.1h-1.2zM419.9 530.4h0.9v10.1h-0.9zM422 530.4h1.9v10.1h-1.9z" fill="#fbbca3"/>
<path d="M409.1 530.4h1.3v10.1h-1.3zM411.6 530.4h1v10.1h-1zM423.9 530.4h1.5v10.1h-1.5zM427.4 530.4h1.3v10.1h-1.3zM429.5 530.4h0.9v10.1h-0.9zM430.3 530.4h1.8v10.1h-1.8zM432.1 530.4h0.8v10.1h-0.8z" fill="#fcc8b2"/>
<path d="M412.6 530.4h2v10.1h-2zM418.2 530.4h0.9v10.1h-0.9zM419.1 530.4h0.8v10.1h-0.8z" fill="#fcd2c0"/>
<path d="M428.7 530.4h0.9v10.1h-0.9z" fill="#fddcce"/>
<rect x="444.3" y="530.4" width="34.8" height="10.1" fill="#fcd2c0"/>
<path d="M444.3 530.4h1.4v10.1h-1.4zM448.6 530.4h1.6v10.1h-1.6zM463.2 530.4h1.8v10.1h-1.8zM466.8 530.4h1v10.1h-1zM473.2 530.4h1.2v10.1h-1.2z" fill="#fcc8b2"/>
<path d="M445.6 530.4h1.3v10.1h-1.3zM450.1 530.4h2v10.1h-2zM453.2 530.4h1.2v10.1h-1.2zM464.9 530.4h1.9v10.1h-1.9z" fill="#fde6dc"/>
<path d="M446.8 530.4h1.8v10.1h-1.8zM467.7 530.4h1.7v10.1h-1.7z" fill="#fddcce"/>
<path d="M452 530.4h1.2v10.1h-1.2zM458.8 530.4h1.8v10.1h-1.8z" fill="#fbece8"/>
<path d="M454.4 530.4h0.9v10.1h-0.9zM460.5 530.4h1.6v10.1h-1.6zM462 530.4h1.2v10.1h-1.2zM470.1 530.4h1.7v10.1h-1.7zM471.7 530.4h1.6v10.1h-1.6zM474.4 530.4h1.6v10.1h-1.6zM475.9 530.4h1.4v10.1h-1.4zM477.2 530.4h1.8v10.1h-1.8zM479 530.4h0.2v10.1h-0.2z" fill="#fcd2c0"/>
<path d="M455.2 530.4h1.7v10.1h-1.7zM456.9 530.4h2v10.1h-2z" fill="#fbbca3"/>
<path d="M469.3 530.4h0.8v10.1h-0.8z" fill="#fab195"/>
<rect x="483.8" y="530.4" width="47.5" height="10.1" fill="#fcd6c6"/>
<path d="M483.8 530.4h1.3v10.1h-1.3zM485.8 530.4h1.9v10.1h-1.9zM495.9 530.4h1.4v10.1h-1.4zM497.9 530.4h0.9v10.1h-0.9zM501.4 530.4h1.5v10.1h-1.5zM502.9 530.4h2v10.1h-2zM513.9 530.4h1.3v10.1h-1.3z" fill="#fbece8"/>
<path d="M485 530.4h0.9v10.1h-0.9zM489.4 530.4h1.2v10.1h-1.2zM491.6 530.4h0.8v10.1h-0.8zM494.7 530.4h1.2v10.1h-1.2zM498.8 530.4h1.1v10.1h-1.1zM510.4 530.4h1.8v10.1h-1.8zM515.1 530.4h1.6v10.1h-1.6zM529.4 530.4h1.4v10.1h-1.4z" fill="#fcd2c0"/>
<path d="M487.7 530.4h1.8v10.1h-1.8zM505.6 530.4h0.8v10.1h-0.8zM507.9 530.4h0.8v10.1h-0.8zM508.6 530.4h1.8v10.1h-1.8zM520 530.4h1.3v10.1h-1.3zM523.4 530.4h1.5v10.1h-1.5zM527.8 530.4h1.6v10.1h-1.6z" fill="#fde6dc"/>
<path d="M490.5 530.4h1.1v10.1h-1.1zM493.4 530.4h1.4v10.1h-1.4zM499.9 530.4h1.6v10.1h-1.6zM504.9 530.4h0.8v10.1h-0.8zM521.3 530.4h0.8v10.1h-0.8zM526.8 530.4h1.1v10.1h-1.1z" fill="#fddcce"/>
<path d="M492.4 530.4h1v10.1h-1zM516.6 530.4h1.7v10.1h-1.7z" fill="#fbbca3"/>
<path d="M497.2 530.4h0.8v10.1h-0.8zM506.3 530.4h1.6v10.1h-1.6zM518.3 530.4h0.8v10.1h-0.8zM522 530.4h1.4v10.1h-1.4zM524.8 530.4h2v10.1h-2z" fill="#fcc8b2"/>
<path d="M512.1 530.4h1.8v10.1h-1.8zM519 530.4h1v10.1h-1z" fill="#f9f2f4"/>
<path d="M530.7 530.4h0.6v10.1h-0.6z" fill="#f9a586"/>
<rect x="535.9" y="530.4" width="25.4" height="10.1" fill="#eee5f8"/>
<path d="M535.9 530.4h1.6v10.1h-1.6z" fill="#fcc8b2"/>
<path d="M537.4 530.4h1.1v10.1h-1.1zM541.3 530.4h1.4v10.1h-1.4zM560.4 530.4h0.9v10.1h-0.9z" fill="#fcd2c0"/>
<path d="M538.4 530.4h1.3v10.1h-1.3zM542.6 530.4h0.8v10.1h-0.8zM555.5 530.4h1v10.1h-1z" fill="#bfa7e8"/>
<path d="M539.7 530.4h1.7v10.1h-1.7z" fill="#eee5f8"/>
<path d="M543.4 530.4h0.9v10.1h-0.9z" fill="#cbb6ee"/>
<path d="M544.3 530.4h1.1v10.1h-1.1zM557.8 530.4h1.9v10.1h-1.9z" fill="#d7c5f3"/>
<path d="M545.3 530.4h1.8v10.1h-1.8zM547.1 530.4h1.5v10.1h-1.5zM548.5 530.4h1.9v10.1h-1.9z" fill="#fbece8"/>
<path d="M550.3 530.4h1.5v10.1h-1.5zM551.8 530.4h2v10.1h-2z" fill="#e2d5f6"/>
<path d="M553.8 530.4h1.8v10.1h-1.8zM556.5 530.4h1.3v10.1h-1.3zM559.6 530.4h0.9v10.1h-0.9z" fill="#f9f2f4"/>
<rect x="565" y="530.4" width="6.9" height="10.1" fill="#6652c2"/>
<path d="M565 530.4h1.8v10.1h-1.8zM569.4 530.4h1.4v10.1h-1.4z" fill="#8369d0"/>
<path d="M566.7 530.4h1.3v10.1h-1.3zM570.7 530.4h0.8v10.1h-0.8zM571.5 530.4h0.5v10.1h-0.5z" fill="#6652c2"/>
<path d="M568 530.4h1.4v10.1h-1.4z" fill="#5f4ebe"/>
<rect x="575.4" y="530.4" width="22.6" height="10.1" fill="#decff4"/>
<path d="M575.4 530.4h1.6v10.1h-1.6zM579.8 530.4h1.1v10.1h-1.1zM582.4 530.4h1.1v10.1h-1.1zM585.3 530.4h1.5v10.1h-1.5zM589.4 530.4h1.4v10.1h-1.4zM590.8 530.4h1.7v10.1h-1.7z" fill="#eee5f8"/>
<path d="M576.9 530.4h0.8v10.1h-0.8zM588.7 530.4h0.8v10.1h-0.8z" fill="#cbb6ee"/>
<path d="M577.7 530.4h1.1v10.1h-1.1z" fill="#fcd2c0"/>
<path d="M578.7 530.4h1.1v10.1h-1.1zM580.9 530.4h1.5v10.1h-1.5z" fill="#e2d5f6"/>
<path d="M583.4 530.4h2v10.1h-2zM597.5 530.4h0.5v10.1h-0.5z" fill="#d7c5f3"/>
<path d="M586.8 530.4h1.9v10.1h-1.9z" fill="#fde6dc"/>
<path d="M592.4 530.4h1.2v10.1h-1.2z" fill="#b398e3"/>
<path d="M593.5 530.4h1.8v10.1h-1.8z" fill="#fbece8"/>
<path d="M595.2 530.4h1.1v10.1h-1.1z" fill="#f9f2f4"/>
<path d="M596.2 530.4h1.3v10.1h-1.3z" fill="#bfa7e8"/>
<rect x="299" y="540.4" width="48.8" height="10.1" fill="#f79271"/>
<path d="M299 540.4h1.3v10.1h-1.3zM303.5 540.4h0.9v10.1h-0.9zM310.3 540.4h1.7v10.1h-1.7zM326.5 540.4h1.5v10.1h-1.5zM333.4 540.4h1.7v10.1h-1.7zM344.7 540.4h1.8v10.1h-1.8z" fill="#f89c7c"/>
<path d="M300.3 540.4h1.1v10.1h-1.1zM301.3 540.4h0.8v10.1h-0.8zM302.1 540.4h1.4v10.1h-1.4zM304.3 540.4h1.9v10.1h-1.9zM306.2 540.4h0.8v10.1h-0.8zM308.9 540.4h1.5v10.1h-1.5zM313.6 540.4h2v10.1h-2zM315.6 540.4h1.2v10.1h-1.2zM318.4 540.4h1.5v10.1h-1.5zM319.8 540.4h1.3v10.1h-1.3zM323.3 540.4h1.3v10.1h-1.3zM327.9 540.4h1.1v10.1h-1.1zM329 540.4h1.9v10.1h-1.9zM330.9 540.4h0.8v10.1h-0.8zM331.6 540.4h1.8v10.1h-1.8zM335 540.4h1.2v10.1h-1.2zM336.1 540.4h2v10.1h-2zM338 540.4h2v10.1h-2zM340 540.4h1v10.1h-1zM341 540.4h1.1v10.1h-1.1zM346.4 540.4h1.5v10.1h-1.5z" fill="#f79271"/>
<path d="M307 540.4h1.9v10.1h-1.9zM312 540.4h1.7v10.1h-1.7zM316.8 540.4h1.7v10.1h-1.7zM321.1 540.4h0.8v10.1h-0.8zM321.9 540.4h1.5v10.1h-1.5zM324.5 540.4h2v10.1h-2zM343.5 540.4h1.2v10.1h-1.2z" fill="#f68866"/>
<path d="M342.1 540.4h1.5v10.1h-1.5z" fill="#f9a586"/>
<rect x="352" y="540.4" width="34.4" height="10.1" fill="#b398e3"/>
<path d="M352 540.4h1.4v10.1h-1.4zM354.3 540.4h1.4v10.1h-1.4zM355.6 540.4h1.5v10.1h-1.5zM357.1 540.4h0.8v10.1h-0.8zM357.8 540.4h1v10.1h-1zM359.9 540.4h1.4v10.1h-1.4zM361.3 540.4h1.1v10.1h-1.1zM364 540.4h1.5v10.1h-1.5zM366.3 540.4h2v10.1h-2zM368.2 540.4h1.6v10.1h-1.6zM371.6 540.4h1.3v10.1h-1.3zM372.8 540.4h1.6v10.1h-1.6zM374.4 540.4h1.3v10.1h-1.3zM375.6 540.4h1.8v10.1h-1.8zM377.4 540.4h2v10.1h-2zM379.4 540.4h1.7v10.1h-1.7zM381.1 540.4h1v10.1h-1zM383.1 540.4h1.2v10.1h-1.2zM386.2 540.4h0.2v10.1h-0.2z" fill="#b398e3"/>
<path d="M353.3 540.4h1v10.1h-1zM370.8 540.4h0.8v10.1h-0.8zM384.3 540.4h2v10.1h-2z" fill="#a98ee0"/>
<path d="M358.7 540.4h1.3v10.1h-1.3zM362.4 540.4h1.6v10.1h-1.6zM365.4 540.4h0.9v10.1h-0.9zM369.8 540.4h1.1v10.1h-1.1zM382 540.4h1.2v10.1h-1.2z" fill="#bfa7e8"/>
<rect x="390.6" y="540.4" width="8.6" height="10.1" fill="#cbb6ee"/>
<path d="M390.6 540.4h1v10.1h-1zM391.5 540.4h1.6v10.1h-1.6zM396.6 540.4h1.9v10.1h-1.9z" fill="#cbb6ee"/>
<path d="M393.1 540.4h1.6v10.1h-1.6zM398.4 540.4h0.9v10.1h-0.9z" fill="#bfa7e8"/>
<path d="M394.6 540.4h2v10.1h-2z" fill="#d7c5f3"/>
<rect x="403.6" y="540.4" width="36.4" height="10.1" fill="#e7dbf6"/>
<path d="M403.6 540.4h1.6v10.1h-1.6z" fill="#fbece8"/>
<path d="M405.2 540.4h1.5v10.1h-1.5zM416.8 540.4h1.7v10.1h-1.7zM418.4 540.4h2v10.1h-2zM427.9 540.4h1.2v10.1h-1.2zM429.1 540.4h1.9v10.1h-1.9z" fill="#eee5f8"/>
<path d="M406.6 540.4h1.1v10.1h-1.1zM420.4 540.4h0.9v10.1h-0.9zM422.3 540.4h0.9v10.1h-0.9zM424.4 540.4h1.6v10.1h-1.6zM425.9 540.4h2v10.1h-2zM432.3 540.4h1.3v10.1h-1.3zM439.4 540.4h0.6v10.1h-0.6z" fill="#e2d5f6"/>
<path d="M407.7 540.4h1.7v10.1h-1.7zM415.9 540.4h0.9v10.1h-0.9zM431 540.4h1.4v10.1h-1.4zM434.5 540.4h1.3v10.1h-1.3zM435.8 540.4h1.5v10.1h-1.5z" fill="#f9f2f4"/>
<path d="M409.3 540.4h1.8v10.1h-1.8zM412.3 540.4h0.8v10.1h-0.8zM413.1 540.4h1.1v10.1h-1.1zM414.1 540.4h1.9v10.1h-1.9zM421.3 540.4h1.1v10.1h-1.1zM433.6 540.4h1v10.1h-1z" fill="#d7c5f3"/>
<path d="M411.1 540.4h1.3v10.1h-1.3z" fill="#cbb6ee"/>
<path d="M423.2 540.4h1.3v10.1h-1.3z" fill="#bfa7e8"/>
<path d="M437.3 540.4h1.5v10.1h-1.5zM438.7 540.4h0.8v10.1h-0.8z" fill="#fde6dc"/>
<rect x="444.3" y="540.4" width="34.8" height="10.1" fill="#b398e3"/>
<path d="M444.3 540.4h1.5v10.1h-1.5zM445.7 540.4h1v10.1h-1zM446.6 540.4h1.9v10.1h-1.9zM450.8 540.4h1.3v10.1h-1.3zM452.1 540.4h1.4v10.1h-1.4zM453.5 540.4h1.6v10.1h-1.6zM455 540.4h1.6v10.1h-1.6zM456.6 540.4h1.3v10.1h-1.3zM457.8 540.4h1.4v10.1h-1.4zM459.2 540.4h1.4v10.1h-1.4zM460.6 540.4h1.6v10.1h-1.6zM463.5 540.4h1.5v10.1h-1.5zM464.9 540.4h1.1v10.1h-1.1zM465.9 540.4h1.4v10.1h-1.4zM467.3 540.4h1.3v10.1h-1.3zM468.6 540.4h0.9v10.1h-0.9zM469.4 540.4h1.9v10.1h-1.9zM472.8 540.4h1.4v10.1h-1.4zM474.2 540.4h1.3v10.1h-1.3zM475.4 540.4h1v10.1h-1zM476.3 540.4h1.8v10.1h-1.8zM478.1 540.4h0.8v10.1h-0.8zM478.8 540.4h0.3v10.1h-0.3z" fill="#b398e3"/>
<path d="M448.5 540.4h0.8v10.1h-0.8zM449.2 540.4h1.7v10.1h-1.7zM462.2 540.4h1.3v10.1h-1.3zM471.3 540.4h1.6v10.1h-1.6z" fill="#a98ee0"/>
<rect x="483.8" y="540.4" width="47.5" height="10.1" fill="#f79271"/>
<path d="M483.8 540.4h1.6v10.1h-1.6zM485.3 540.4h1.6v10.1h-1.6zM486.9 540.4h1.2v10.1h-1.2zM488 540.4h1.5v10.1h-1.5zM494.7 540.4h0.9v10.1h-0.9zM495.6 540.4h0.8v10.1h-0.8zM497.9 540.4h1.3v10.1h-1.3zM499.2 540.4h1.5v10.1h-1.5zM504 540.4h0.9v10.1h-0.9zM504.9 540.4h1.9v10.1h-1.9zM506.8 540.4h1v10.1h-1zM509.6 540.4h1.1v10.1h-1.1zM511.4 540.4h0.9v10.1h-0.9zM512.3 540.4h1v10.1h-1zM516.7 540.4h1.2v10.1h-1.2zM519.8 540.4h0.8v10.1h-0.8zM520.6 540.4h1.5v10.1h-1.5zM525.9 540.4h1.5v10.1h-1.5zM528.4 540.4h1.6v10.1h-1.6zM529.9 540.4h0.9v10.1h-0.9z" fill="#f68866"/>
<path d="M489.5 540.4h1.5v10.1h-1.5zM491 540.4h1.1v10.1h-1.1z" fill="#f57f5c"/>
<path d="M492 540.4h1.4v10.1h-1.4zM493.4 540.4h1.4v10.1h-1.4zM500.7 540.4h1.6v10.1h-1.6zM502.2 540.4h1.8v10.1h-1.8zM507.7 540.4h1.9v10.1h-1.9zM510.6 540.4h0.8v10.1h-0.8zM515.4 540.4h1.4v10.1h-1.4zM523.7 540.4h1.3v10.1h-1.3zM530.8 540.4h0.6v10.1h-0.6z" fill="#f79271"/>
<path d="M496.3 540.4h1.7v10.1h-1.7zM513.2 540.4h0.9v10.1h-0.9zM514.1 540.4h1.3v10.1h-1.3zM525 540.4h0.9v10.1h-0.9z" fill="#f89c7c"/>
<path d="M517.8 540.4h2v10.1h-2zM522 540.4h1.8v10.1h-1.8zM527.4 540.4h1.1v10.1h-1.1z" fill="#f9a586"/>
<rect x="535.9" y="540.4" width="25.4" height="10.1" fill="#f79271"/>
<path d="M535.9 540.4h2v10.1h-2zM537.9 540.4h0.8v10.1h-0.8zM541.7 540.4h1.9v10.1h-1.9zM545.3 540.4h1.8v10.1h-1.8zM550.9 540.4h1.6v10.1h-1.6zM552.5 540.4h1.4v10.1h-1.4zM554.8 540.4h1.3v10.1h-1.3zM560 540.4h1.4v10.1h-1.4z" fill="#f79271"/>
<path d="M538.6 540.4h0.8v10.1h-0.8zM539.4 540.4h0.8v10.1h-0.8zM540.1 540.4h1.7v10.1h-1.7zM543.5 540.4h1.8v10.1h-1.8zM547.9 540.4h1.9v10.1h-1.9zM549.7 540.4h1.2v10.1h-1.2zM556.1 540.4h1.8v10.1h-1.8zM559 540.4h1v10.1h-1z" fill="#f68866"/>
<path d="M547.1 540.4h0.9v10.1h-0.9zM553.8 540.4h1.1v10.1h-1.1zM557.9 540.4h1.2v10.1h-1.2z" fill="#f89c7c"/>
<rect x="565" y="540.4" width="6.9" height="10.1" fill="#b398e3"/>
<path d="M565 540.4h0.9v10.1h-0.9z" fill="#bfa7e8"/>
<path d="M565.8 540.4h0.8v10.1h-0.8zM566.5 540.4h1.7v10.1h-1.7zM568.2 540.4h1.3v10.1h-1.3zM569.5 540.4h1.9v10.1h-1.9z" fill="#b398e3"/>
<path d="M571.4 540.4h0.6v10.1h-0.6z" fill="#a98ee0"/>
<rect x="575.4" y="540.4" width="22.6" height="10.1" fill="#b398e3"/>
<path d="M575.4 540.4h1.6v10.1h-1.6zM576.9 540.4h2v10.1h-2zM585.1 540.4h1v10.1h-1zM592.6 540.4h2v10.1h-2z" fill="#bfa7e8"/>
<path d="M578.9 540.4h1.9v10.1h-1.9zM581.8 540.4h0.8v10.1h-0.8zM582.5 540.4h1.8v10.1h-1.8zM584.3 540.4h0.8v10.1h-0.8zM590.7 540.4h2v10.1h-2zM594.6 540.4h0.8v10.1h-0.8zM595.4 540.4h1.5v10.1h-1.5zM597.6 540.4h0.4v10.1h-0.4z" fill="#b398e3"/>
<path d="M580.8 540.4h1v10.1h-1z" fill="#cbb6ee"/>
<path d="M586.1 540.4h1v10.1h-1zM587 540.4h2v10.1h-2zM588.9 540.4h1.9v10.1h-1.9zM596.8 540.4h0.8v10.1h-0.8z" fill="#a98ee0"/>
<rect x="299" y="550.5" width="48.8" height="10.1" fill="#fab195"/>
<path d="M299 550.5h1v10.1h-1zM303 550.5h1.5v10.1h-1.5zM308.9 550.5h1.9v10.1h-1.9zM312.5 550.5h1.5v10.1h-1.5zM331.3 550.5h1.6v10.1h-1.6z" fill="#fbbca3"/>
<path d="M299.9 550.5h1.3v10.1h-1.3zM305.7 550.5h1.9v10.1h-1.9zM316.4 550.5h1.9v10.1h-1.9zM321 550.5h1.6v10.1h-1.6zM322.6 550.5h2v10.1h-2zM326.4 550.5h1.5v10.1h-1.5zM332.8 550.5h1.5v10.1h-1.5zM334.2 550.5h1.8v10.1h-1.8zM335.9 550.5h1v10.1h-1zM341 550.5h1.6v10.1h-1.6z" fill="#fab195"/>
<path d="M301.2 550.5h0.8v10.1h-0.8zM315.2 550.5h1.3v10.1h-1.3zM329.4 550.5h1.9v10.1h-1.9zM342.6 550.5h0.9v10.1h-0.9zM346.6 550.5h1.3v10.1h-1.3z" fill="#fcc8b2"/>
<path d="M301.9 550.5h1.1v10.1h-1.1zM310.8 550.5h1.7v10.1h-1.7zM313.9 550.5h1.3v10.1h-1.3zM327.9 550.5h1.6v10.1h-1.6zM336.9 550.5h1.1v10.1h-1.1zM337.9 550.5h1.2v10.1h-1.2zM345.4 550.5h1.2v10.1h-1.2z" fill="#f9a586"/>
<path d="M304.4 550.5h1.4v10.1h-1.4zM319.7 550.5h1.3v10.1h-1.3zM324.6 550.5h1.9v10.1h-1.9zM339.1 550.5h2v10.1h-2z" fill="#f89c7c"/>
<path d="M307.6 550.5h1.4v10.1h-1.4zM343.5 550.5h2v10.1h-2z" fill="#fcd2c0"/>
<path d="M318.2 550.5h1.6v10.1h-1.6z" fill="#f68866"/>
<rect x="352" y="550.5" width="34.4" height="10.1" fill="#fbbca3"/>
<path d="M352 550.5h1v10.1h-1zM363.2 550.5h1.5v10.1h-1.5zM373.9 550.5h1.1v10.1h-1.1z" fill="#fddcce"/>
<path d="M353 550.5h1.3v10.1h-1.3zM357.4 550.5h1v10.1h-1zM361.8 550.5h1.4v10.1h-1.4zM366 550.5h0.9v10.1h-0.9zM366.8 550.5h1.9v10.1h-1.9zM374.9 550.5h1.2v10.1h-1.2zM377.6 550.5h1.5v10.1h-1.5zM381.9 550.5h2v10.1h-2z" fill="#fbbca3"/>
<path d="M354.3 550.5h2v10.1h-2zM364.7 550.5h1.4v10.1h-1.4zM370.6 550.5h1.7v10.1h-1.7zM376.1 550.5h1.6v10.1h-1.6zM384.9 550.5h1.2v10.1h-1.2z" fill="#fab195"/>
<path d="M356.2 550.5h1.2v10.1h-1.2zM360.2 550.5h1.7v10.1h-1.7z" fill="#fcd2c0"/>
<path d="M358.3 550.5h1.9v10.1h-1.9zM372.3 550.5h1.7v10.1h-1.7zM379 550.5h1.8v10.1h-1.8zM380.7 550.5h1.2v10.1h-1.2z" fill="#fcc8b2"/>
<path d="M368.7 550.5h2v10.1h-2zM383.8 550.5h1.1v10.1h-1.1zM386 550.5h0.4v10.1h-0.4z" fill="#f9a586"/>
<rect x="390.6" y="550.5" width="8.6" height="10.1" fill="#a98ee0"/>
<path d="M390.6 550.5h1.9v10.1h-1.9zM392.5 550.5h1.6v10.1h-1.6z" fill="#cbb6ee"/>
<path d="M394 550.5h1.4v10.1h-1.4z" fill="#9679da"/>
<path d="M395.4 550.5h1.3v10.1h-1.3z" fill="#e2d5f6"/>
<path d="M396.6 550.5h1.5v10.1h-1.5z" fill="#b398e3"/>
<path d="M398 550.5h0.8v10.1h-0.8z" fill="#bfa7e8"/>
<path d="M398.8 550.5h0.5v10.1h-0.5z" fill="#a98ee0"/>
<rect x="403.6" y="550.5" width="36.4" height="10.1" fill="#bfa7e8"/>
<path d="M403.6 550.5h1.6v10.1h-1.6zM416.1 550.5h1.8v10.1h-1.8zM421.1 550.5h1.3v10.1h-1.3z" fill="#e2d5f6"/>
<path d="M405.2 550.5h0.8v10.1h-0.8zM409.2 550.5h1.5v10.1h-1.5zM434.7 550.5h0.9v10.1h-0.9z" fill="#bfa7e8"/>
<path d="M405.9 550.5h0.8v10.1h-0.8zM411.9 550.5h1.4v10.1h-1.4zM417.9 550.5h2v10.1h-2zM428.3 550.5h0.8v10.1h-0.8zM433.2 550.5h1.5v10.1h-1.5zM435.5 550.5h0.8v10.1h-0.8z" fill="#cbb6ee"/>
<path d="M406.6 550.5h1.9v10.1h-1.9z" fill="#d7c5f3"/>
<path d="M408.4 550.5h0.8v10.1h-0.8zM426.9 550.5h1.5v10.1h-1.5zM432.4 550.5h0.8v10.1h-0.8zM436.3 550.5h2v10.1h-2z" fill="#b398e3"/>
<path d="M410.6 550.5h1.4v10.1h-1.4z" fill="#f9f2f4"/>
<path d="M413.3 550.5h2v10.1h-2zM419.8 550.5h1.4v10.1h-1.4zM422.4 550.5h1v10.1h-1zM423.3 550.5h2v10.1h-2zM431 550.5h1.5v10.1h-1.5z" fill="#a083dd"/>
<path d="M415.3 550.5h0.9v10.1h-0.9zM429.1 550.5h1.9v10.1h-1.9z" fill="#eee5f8"/>
<path d="M425.3 550.5h1.6v10.1h-1.6z" fill="#9679da"/>
<path d="M438.2 550.5h1.3v10.1h-1.3zM439.4 550.5h0.6v10.1h-0.6z" fill="#a98ee0"/>
<rect x="444.3" y="550.5" width="34.8" height="10.1" fill="#fab195"/>
<path d="M444.3 550.5h1.5v10.1h-1.5zM447 550.5h0.9v10.1h-0.9zM473.3 550.5h0.9v10.1h-0.9z" fill="#fcc8b2"/>
<path d="M445.8 550.5h1.3v10.1h-1.3zM447.8 550.5h0.8v10.1h-0.8zM450.5 550.5h1.7v10.1h-1.7zM467.2 550.5h2v10.1h-2zM477.4 550.5h1.2v10.1h-1.2z" fill="#f89c7c"/>
<path d="M448.5 550.5h2v10.1h-2zM452.1 550.5h1.2v10.1h-1.2zM453.3 550.5h1.9v10.1h-1.9zM455.2 550.5h1.3v10.1h-1.3zM456.4 550.5h1.1v10.1h-1.1zM462.7 550.5h1.2v10.1h-1.2zM463.8 550.5h1.8v10.1h-1.8zM474.2 550.5h1.4v10.1h-1.4zM475.5 550.5h1.1v10.1h-1.1zM476.5 550.5h0.9v10.1h-0.9z" fill="#f9a586"/>
<path d="M457.5 550.5h1.1v10.1h-1.1z" fill="#fbece8"/>
<path d="M458.6 550.5h1.9v10.1h-1.9zM470.1 550.5h1.7v10.1h-1.7zM471.8 550.5h1.6v10.1h-1.6z" fill="#fab195"/>
<path d="M460.4 550.5h1.5v10.1h-1.5zM478.5 550.5h0.7v10.1h-0.7z" fill="#fbbca3"/>
<path d="M461.8 550.5h0.9v10.1h-0.9z" fill="#f79271"/>
<path d="M465.6 550.5h1.7v10.1h-1.7z" fill="#fddcce"/>
<path d="M469.1 550.5h1v10.1h-1z" fill="#fcd2c0"/>
<rect x="483.8" y="550.5" width="47.5" height="10.1" fill="#fbece8"/>
<path d="M483.8 550.5h1.8v10.1h-1.8zM493.6 550.5h1.2v10.1h-1.2zM498.4 550.5h2v10.1h-2zM517.2 550.5h0.9v10.1h-0.9zM525.9 550.5h1.7v10.1h-1.7z" fill="#eee5f8"/>
<path d="M485.5 550.5h1.8v10.1h-1.8zM487.3 550.5h1.3v10.1h-1.3zM497.1 550.5h1.3v10.1h-1.3zM504.4 550.5h1.8v10.1h-1.8zM513.8 550.5h1.3v10.1h-1.3z" fill="#fddcce"/>
<path d="M488.6 550.5h1.4v10.1h-1.4zM494.8 550.5h1.1v10.1h-1.1zM507.5 550.5h1.8v10.1h-1.8zM509.2 550.5h1.5v10.1h-1.5z" fill="#fbece8"/>
<path d="M489.9 550.5h1.1v10.1h-1.1zM502.3 550.5h1.3v10.1h-1.3z" fill="#fcd2c0"/>
<path d="M490.9 550.5h1.2v10.1h-1.2zM495.9 550.5h1.3v10.1h-1.3z" fill="#fcc8b2"/>
<path d="M492.1 550.5h1.6v10.1h-1.6zM503.6 550.5h0.9v10.1h-0.9zM510.7 550.5h1.8v10.1h-1.8zM515 550.5h1.5v10.1h-1.5z" fill="#f9f2f4"/>
<path d="M500.3 550.5h2v10.1h-2zM521.3 550.5h1.7v10.1h-1.7zM522.9 550.5h1.6v10.1h-1.6zM530.8 550.5h0.6v10.1h-0.6z" fill="#e2d5f6"/>
<path d="M506.2 550.5h1.4v10.1h-1.4zM519.3 550.5h2v10.1h-2z" fill="#fab195"/>
<path d="M512.4 550.5h1.5v10.1h-1.5z" fill="#b398e3"/>
<path d="M516.5 550.5h0.8v10.1h-0.8zM528.8 550.5h0.9v10.1h-0.9zM529.7 550.5h1.2v10.1h-1.2z" fill="#fde6dc"/>
<path d="M518.1 550.5h1.3v10.1h-1.3z" fill="#bfa7e8"/>
<path d="M524.4 550.5h1.5v10.1h-1.5zM527.5 550.5h1.3v10.1h-1.3z" fill="#d7c5f3"/>
<rect x="535.9" y="550.5" width="25.4" height="10.1" fill="#fbece8"/>
<path d="M535.9 550.5h1.4v10.1h-1.4zM538.1 550.5h1.2v10.1h-1.2zM543 550.5h1.5v10.1h-1.5zM551.8 550.5h1.7v10.1h-1.7z" fill="#fbece8"/>
<path d="M537.2 550.5h0.9v10.1h-0.9zM559 550.5h1.6v10.1h-1.6z" fill="#eee5f8"/>
<path d="M539.2 550.5h1v10.1h-1zM549.8 550.5h2v10.1h-2zM560.5 550.5h0.8v10.1h-0.8z" fill="#fde6dc"/>
<path d="M540.2 550.5h1.7v10.1h-1.7z" fill="#9679da"/>
<path d="M541.8 550.5h1.2v10.1h-1.2z" fill="#fddcce"/>
<path d="M544.5 550.5h0.9v10.1h-0.9z" fill="#f9f2f4"/>
<path d="M545.3 550.5h1v10.1h-1zM556.6 550.5h1.4v10.1h-1.4z" fill="#fcc8b2"/>
<path d="M546.3 550.5h1.7v10.1h-1.7z" fill="#f89c7c"/>
<path d="M548 550.5h1.9v10.1h-1.9zM553.4 550.5h1.6v10.1h-1.6z" fill="#fab195"/>
<path d="M555 550.5h1.7v10.1h-1.7zM557.9 550.5h1.2v10.1h-1.2z" fill="#d7c5f3"/>
<rect x="565" y="550.5" width="6.9" height="10.1" fill="#9679da"/>
<path d="M565 550.5h0.8v10.1h-0.8z" fill="#a98ee0"/>
<path d="M565.8 550.5h1v10.1h-1z" fill="#9679da"/>
<path d="M566.8 550.5h1.1v10.1h-1.1zM567.8 550.5h2v10.1h-2z" fill="#b398e3"/>
<path d="M569.7 550.5h1.8v10.1h-1.8z" fill="#705ac7"/>
<path d="M571.5 550.5h0.5v10.1h-0.5z" fill="#8369d0"/>
<rect x="575.4" y="550.5" width="22.6" height="10.1" fill="#a98ee0"/>
<path d="M575.4 550.5h1v10.1h-1zM578.2 550.5h1.9v10.1h-1.9zM588.8 550.5h1.1v10.1h-1.1zM591.4 550.5h1.1v10.1h-1.1z" fill="#a98ee0"/>
<path d="M576.4 550.5h1.9v10.1h-1.9zM580.1 550.5h1.7v10.1h-1.7zM593.9 550.5h1.9v10.1h-1.9z" fill="#8c71d5"/>
<path d="M581.7 550.5h1v10.1h-1z" fill="#bfa7e8"/>
<path d="M582.6 550.5h1.4v10.1h-1.4z" fill="#e2d5f6"/>
<path d="M584 550.5h1.5v10.1h-1.5z" fill="#fbece8"/>
<path d="M585.5 550.5h1.8v10.1h-1.8zM595.8 550.5h1.5v10.1h-1.5z" fill="#cbb6ee"/>
<path d="M587.2 550.5h1.7v10.1h-1.7z" fill="#f9f2f4"/>
<path d="M589.9 550.5h1.5v10.1h-1.5zM597.3 550.5h0.8v10.1h-0.8z" fill="#9679da"/>
<path d="M592.5 550.5h1.5v10.1h-1.5z" fill="#b398e3"/>
<rect x="299" y="560.5" width="48.8" height="10.1" fill="#fde6dc"/>
<path d="M299 560.5h1v10.1h-1zM308.1 560.5h1.6v10.1h-1.6zM309.7 560.5h1.7v10.1h-1.7zM321.2 560.5h0.8v10.1h-0.8z" fill="#f9f2f4"/>
<path d="M300 560.5h0.8v10.1h-0.8zM326.3 560.5h1.5v10.1h-1.5zM340 560.5h1.1v10.1h-1.1zM345.6 560.5h1.6v10.1h-1.6z" fill="#fbece8"/>
<path d="M300.7 560.5h1.3v10.1h-1.3zM306.2 560.5h2v10.1h-2zM312.7 560.5h1.5v10.1h-1.5zM314.1 560.5h1v10.1h-1zM315.1 560.5h1.3v10.1h-1.3zM316.4 560.5h1.7v10.1h-1.7zM321.9 560.5h1.8v10.1h-1.8zM323.7 560.5h1.3v10.1h-1.3zM324.9 560.5h1.4v10.1h-1.4zM327.8 560.5h1.7v10.1h-1.7zM329.4 560.5h1.3v10.1h-1.3zM330.6 560.5h1.9v10.1h-1.9zM336.5 560.5h1.8v10.1h-1.8zM338.3 560.5h1.8v10.1h-1.8zM341 560.5h1.3v10.1h-1.3zM343 560.5h1.2v10.1h-1.2z" fill="#fde6dc"/>
<path d="M302 560.5h1.2v10.1h-1.2zM303.2 560.5h1.9v10.1h-1.9zM305 560.5h1.2v10.1h-1.2zM311.3 560.5h1.5v10.1h-1.5zM318 560.5h1.4v10.1h-1.4zM319.4 560.5h1.8v10.1h-1.8zM332.4 560.5h1.4v10.1h-1.4zM333.8 560.5h1.5v10.1h-1.5zM335.3 560.5h1.3v10.1h-1.3zM342.2 560.5h0.9v10.1h-0.9zM347.1 560.5h0.8v10.1h-0.8z" fill="#fddcce"/>
<path d="M344.1 560.5h1.5v10.1h-1.5z" fill="#fcd2c0"/>
<rect x="352" y="560.5" width="34.4" height="10.1" fill="#f9f2f4"/>
<path d="M352 560.5h1.4v10.1h-1.4zM354.3 560.5h1.9v10.1h-1.9zM359.2 560.5h1.1v10.1h-1.1zM375.3 560.5h1.1v10.1h-1.1zM376.4 560.5h1.8v10.1h-1.8zM381.2 560.5h0.9v10.1h-0.9z" fill="#fbece8"/>
<path d="M353.3 560.5h1.1v10.1h-1.1zM357.4 560.5h1.8v10.1h-1.8zM364.8 560.5h1.4v10.1h-1.4zM367.5 560.5h0.9v10.1h-0.9zM385.9 560.5h0.6v10.1h-0.6z" fill="#f9f2f4"/>
<path d="M356.2 560.5h1.3v10.1h-1.3zM368.3 560.5h1.5v10.1h-1.5z" fill="#e2d5f6"/>
<path d="M360.2 560.5h1.6v10.1h-1.6zM361.8 560.5h1.7v10.1h-1.7zM366.1 560.5h1.4v10.1h-1.4zM369.8 560.5h1.6v10.1h-1.6zM373.8 560.5h1.5v10.1h-1.5z" fill="#fde6dc"/>
<path d="M363.4 560.5h1.4v10.1h-1.4zM371.3 560.5h1v10.1h-1zM372.2 560.5h1.7v10.1h-1.7zM378.2 560.5h1.3v10.1h-1.3zM382.1 560.5h2v10.1h-2zM384 560.5h1.9v10.1h-1.9z" fill="#eee5f8"/>
<path d="M379.4 560.5h1.9v10.1h-1.9z" fill="#d7c5f3"/>
<rect x="390.6" y="560.5" width="8.6" height="10.1" fill="#5046b5"/>
<path d="M390.6 560.5h2v10.1h-2zM393.6 560.5h0.8v10.1h-0.8zM394.4 560.5h2v10.1h-2z" fill="#5046b5"/>
<path d="M392.6 560.5h1.1v10.1h-1.1z" fill="#4942b1"/>
<path d="M396.3 560.5h1v10.1h-1zM398.3 560.5h1v10.1h-1z" fill="#413eac"/>
<path d="M397.3 560.5h1.1v10.1h-1.1z" fill="#574ab9"/>
<rect x="403.6" y="560.5" width="36.4" height="10.1" fill="#f57f5c"/>
<path d="M403.6 560.5h1.2v10.1h-1.2zM412.1 560.5h2v10.1h-2zM415.4 560.5h0.9v10.1h-0.9zM416.2 560.5h1.8v10.1h-1.8zM420.5 560.5h1.7v10.1h-1.7zM422.2 560.5h1.2v10.1h-1.2zM431.8 560.5h1.5v10.1h-1.5zM435.2 560.5h1.5v10.1h-1.5z" fill="#f57f5c"/>
<path d="M404.8 560.5h2v10.1h-2zM410.5 560.5h1.6v10.1h-1.6zM414 560.5h1.4v10.1h-1.4zM419.3 560.5h1.2v10.1h-1.2z" fill="#f79271"/>
<path d="M406.7 560.5h2v10.1h-2z" fill="#ee6a4b"/>
<path d="M408.7 560.5h1.9v10.1h-1.9zM418 560.5h1.4v10.1h-1.4zM426.4 560.5h1.4v10.1h-1.4zM433.2 560.5h2v10.1h-2zM438.1 560.5h2v10.1h-2z" fill="#f68866"/>
<path d="M423.4 560.5h2v10.1h-2zM425.3 560.5h1.1v10.1h-1.1zM427.7 560.5h1.8v10.1h-1.8zM429.5 560.5h0.9v10.1h-0.9zM430.3 560.5h1.5v10.1h-1.5zM436.6 560.5h1.5v10.1h-1.5z" fill="#f27454"/>
<rect x="444.3" y="560.5" width="34.8" height="10.1" fill="#e2d5f6"/>
<path d="M444.3 560.5h1v10.1h-1zM452.1 560.5h1.6v10.1h-1.6zM462 560.5h0.9v10.1h-0.9zM469.5 560.5h0.8v10.1h-0.8zM470.2 560.5h1.7v10.1h-1.7z" fill="#e2d5f6"/>
<path d="M445.2 560.5h2v10.1h-2zM456.9 560.5h1.6v10.1h-1.6zM458.5 560.5h1.7v10.1h-1.7zM462.9 560.5h1.3v10.1h-1.3zM472.7 560.5h0.9v10.1h-0.9zM474.4 560.5h1.4v10.1h-1.4zM476.7 560.5h1.9v10.1h-1.9z" fill="#d7c5f3"/>
<path d="M447.2 560.5h1.1v10.1h-1.1zM448.3 560.5h0.9v10.1h-0.9z" fill="#fbece8"/>
<path d="M449.1 560.5h2v10.1h-2zM478.6 560.5h0.6v10.1h-0.6z" fill="#cbb6ee"/>
<path d="M451 560.5h1.1v10.1h-1.1zM464.1 560.5h1.2v10.1h-1.2zM465.3 560.5h1v10.1h-1zM471.9 560.5h0.8v10.1h-0.8z" fill="#eee5f8"/>
<path d="M453.6 560.5h1.4v10.1h-1.4zM466.2 560.5h2v10.1h-2zM468.2 560.5h1.3v10.1h-1.3z" fill="#f9f2f4"/>
<path d="M454.9 560.5h2v10.1h-2zM460.1 560.5h2v10.1h-2zM473.5 560.5h0.9v10.1h-0.9zM475.7 560.5h1.1v10.1h-1.1z" fill="#bfa7e8"/>
<rect x="483.8" y="560.5" width="47.5" height="10.1" fill="#fde6dc"/>
<path d="M483.8 560.5h1.1v10.1h-1.1zM487.6 560.5h1.1v10.1h-1.1zM490.5 560.5h1.2v10.1h-1.2zM496.2 560.5h2v10.1h-2zM500.3 560.5h2v10.1h-2zM509.5 560.5h2v10.1h-2zM520.3 560.5h1.9v10.1h-1.9zM523.7 560.5h1.8v10.1h-1.8z" fill="#fbece8"/>
<path d="M484.9 560.5h1v10.1h-1zM488.6 560.5h1v10.1h-1zM489.5 560.5h1v10.1h-1zM503.1 560.5h1.3v10.1h-1.3zM506 560.5h1v10.1h-1zM511.5 560.5h0.8v10.1h-0.8zM512.3 560.5h1.1v10.1h-1.1zM515.4 560.5h2v10.1h-2zM525.5 560.5h1.6v10.1h-1.6zM527.1 560.5h0.8v10.1h-0.8zM527.8 560.5h1.4v10.1h-1.4z" fill="#fde6dc"/>
<path d="M485.8 560.5h1.8v10.1h-1.8zM494.4 560.5h1.9v10.1h-1.9zM522.2 560.5h1.6v10.1h-1.6zM529.2 560.5h1.2v10.1h-1.2z" fill="#fcd2c0"/>
<path d="M491.6 560.5h1.5v10.1h-1.5zM493.1 560.5h1.4v10.1h-1.4zM499.1 560.5h1.3v10.1h-1.3zM502.3 560.5h0.9v10.1h-0.9zM504.3 560.5h1.8v10.1h-1.8zM507 560.5h1.5v10.1h-1.5zM508.5 560.5h1.1v10.1h-1.1zM514.6 560.5h0.8v10.1h-0.8zM517.3 560.5h1.1v10.1h-1.1zM518.4 560.5h2v10.1h-2zM530.3 560.5h1.1v10.1h-1.1z" fill="#fddcce"/>
<path d="M498.2 560.5h0.9v10.1h-0.9zM513.3 560.5h1.4v10.1h-1.4z" fill="#f9f2f4"/>
<rect x="535.9" y="560.5" width="25.4" height="10.1" fill="#f9f2f4"/>
<path d="M535.9 560.5h1.7v10.1h-1.7zM537.6 560.5h1.6v10.1h-1.6z" fill="#fde6dc"/>
<path d="M539.1 560.5h1.1v10.1h-1.1zM543.6 560.5h1.6v10.1h-1.6zM546.8 560.5h1.7v10.1h-1.7zM548.5 560.5h1.5v10.1h-1.5zM557.6 560.5h2v10.1h-2zM560.4 560.5h1v10.1h-1z" fill="#eee5f8"/>
<path d="M540.2 560.5h1.9v10.1h-1.9zM555.5 560.5h1.4v10.1h-1.4z" fill="#f9f2f4"/>
<path d="M542.1 560.5h1.6v10.1h-1.6zM545.2 560.5h1.7v10.1h-1.7zM550 560.5h1v10.1h-1zM550.9 560.5h1v10.1h-1zM551.9 560.5h1.9v10.1h-1.9z" fill="#fbece8"/>
<path d="M553.7 560.5h1.9v10.1h-1.9z" fill="#fddcce"/>
<path d="M556.9 560.5h0.8v10.1h-0.8z" fill="#fcd2c0"/>
<path d="M559.6 560.5h0.8v10.1h-0.8z" fill="#cbb6ee"/>
<rect x="565" y="560.5" width="6.9" height="10.1" fill="#574ab9"/>
<path d="M565 560.5h1v10.1h-1z" fill="#5f4ebe"/>
<path d="M565.9 560.5h1.2v10.1h-1.2zM567 560.5h1.4v10.1h-1.4z" fill="#5046b5"/>
<path d="M568.4 560.5h0.8v10.1h-0.8zM571 560.5h0.8v10.1h-0.8z" fill="#574ab9"/>
<path d="M569.1 560.5h1.9v10.1h-1.9z" fill="#4942b1"/>
<path d="M571.8 560.5h0.2v10.1h-0.2z" fill="#6652c2"/>
<rect x="575.4" y="560.5" width="22.6" height="10.1" fill="#eee5f8"/>
<path d="M575.4 560.5h1.5v10.1h-1.5zM581.3 560.5h1.2v10.1h-1.2zM584.9 560.5h1.8v10.1h-1.8zM596.7 560.5h1.4v10.1h-1.4z" fill="#eee5f8"/>
<path d="M576.8 560.5h2v10.1h-2zM593.2 560.5h1.7v10.1h-1.7z" fill="#fddcce"/>
<path d="M578.8 560.5h1.8v10.1h-1.8zM580.5 560.5h0.8v10.1h-0.8zM583.7 560.5h1.3v10.1h-1.3zM586.7 560.5h2v10.1h-2zM594.8 560.5h1.9v10.1h-1.9z" fill="#e2d5f6"/>
<path d="M582.4 560.5h1.3v10.1h-1.3zM591.9 560.5h1.4v10.1h-1.4z" fill="#d7c5f3"/>
<path d="M588.6 560.5h1.8v10.1h-1.8z" fill="#cbb6ee"/>
<path d="M590.4 560.5h1.5v10.1h-1.5z" fill="#f9f2f4"/>
<rect x="299" y="570.5" width="48.8" height="10.1" fill="#fbbca3"/>
<path d="M299 570.5h1.7v10.1h-1.7zM307.5 570.5h1.7v10.1h-1.7z" fill="#fde6dc"/>
<path d="M300.7 570.5h2v10.1h-2zM333.6 570.5h1.9v10.1h-1.9z" fill="#f9a586"/>
<path d="M302.6 570.5h1.2v10.1h-1.2zM304.7 570.5h2v10.1h-2zM309.1 570.5h1.8v10.1h-1.8zM310.8 570.5h1.3v10.1h-1.3zM314.2 570.5h1.5v10.1h-1.5zM315.7 570.5h1.3v10.1h-1.3zM318.3 570.5h1.1v10.1h-1.1zM320.8 570.5h1.5v10.1h-1.5zM325.7 570.5h1.5v10.1h-1.5zM328.4 570.5h1v10.1h-1zM329.4 570.5h1.4v10.1h-1.4zM337.2 570.5h1v10.1h-1zM339.2 570.5h1.6v10.1h-1.6z" fill="#fcc8b2"/>
<path d="M303.7 570.5h1v10.1h-1zM316.9 570.5h1.4v10.1h-1.4zM324 570.5h1.7v10.1h-1.7zM327.1 570.5h1.3v10.1h-1.3zM338.1 570.5h1.1v10.1h-1.1zM346.5 570.5h1.1v10.1h-1.1zM347.5 570.5h0.4v10.1h-0.4z" fill="#fab195"/>
<path d="M306.7 570.5h0.9v10.1h-0.9zM319.4 570.5h1.4v10.1h-1.4z" fill="#fcd2c0"/>
<path d="M312 570.5h0.8v10.1h-0.8zM335.4 570.5h1.9v10.1h-1.9zM342.4 570.5h0.8v10.1h-0.8z" fill="#fddcce"/>
<path d="M312.8 570.5h1.5v10.1h-1.5zM322.2 570.5h1.8v10.1h-1.8zM332.4 570.5h1.2v10.1h-1.2zM343.2 570.5h1.5v10.1h-1.5zM344.6 570.5h1.9v10.1h-1.9z" fill="#fbbca3"/>
<path d="M330.7 570.5h1.8v10.1h-1.8z" fill="#f89c7c"/>
<path d="M340.7 570.5h1.8v10.1h-1.8z" fill="#f79271"/>
<rect x="352" y="570.5" width="34.4" height="10.1" fill="#f9a586"/>
<path d="M352 570.5h1.6v10.1h-1.6zM358.9 570.5h1.3v10.1h-1.3zM372.7 570.5h1.6v10.1h-1.6zM376.9 570.5h1.3v10.1h-1.3zM382.5 570.5h1.4v10.1h-1.4z" fill="#fab195"/>
<path d="M353.6 570.5h1.7v10.1h-1.7zM374.9 570.5h1v10.1h-1zM375.9 570.5h1v10.1h-1zM381.6 570.5h0.9v10.1h-0.9z" fill="#f79271"/>
<path d="M355.2 570.5h0.8v10.1h-0.8zM357.5 570.5h1.5v10.1h-1.5zM361.3 570.5h1.5v10.1h-1.5zM364.7 570.5h2v10.1h-2zM369.1 570.5h1.9v10.1h-1.9zM371 570.5h1.7v10.1h-1.7zM374.2 570.5h0.8v10.1h-0.8zM378.1 570.5h0.8v10.1h-0.8zM380.2 570.5h1.4v10.1h-1.4zM383.9 570.5h1.3v10.1h-1.3z" fill="#f9a586"/>
<path d="M356 570.5h1.5v10.1h-1.5zM366.6 570.5h1.2v10.1h-1.2z" fill="#f89c7c"/>
<path d="M360.2 570.5h1.2v10.1h-1.2zM362.8 570.5h1.9v10.1h-1.9z" fill="#fcd2c0"/>
<path d="M367.8 570.5h1.4v10.1h-1.4zM378.9 570.5h1.4v10.1h-1.4z" fill="#f68866"/>
<path d="M385.1 570.5h1.3v10.1h-1.3z" fill="#fbbca3"/>
<rect x="390.6" y="570.5" width="8.6" height="10.1" fill="#b398e3"/>
<path d="M390.6 570.5h0.9v10.1h-0.9z" fill="#a98ee0"/>
<path d="M391.5 570.5h1.4v10.1h-1.4zM394.1 570.5h1.9v10.1h-1.9zM397.2 570.5h1.7v10.1h-1.7zM398.8 570.5h0.4v10.1h-0.4z" fill="#b398e3"/>
<path d="M392.8 570.5h1.3v10.1h-1.3z" fill="#cbb6ee"/>
<path d="M395.9 570.5h1.4v10.1h-1.4z" fill="#bfa7e8"/>
<rect x="403.6" y="570.5" width="36.4" height="10.1" fill="#cbb6ee"/>
<path d="M403.6 570.5h1.1v10.1h-1.1zM429.7 570.5h1.2v10.1h-1.2z" fill="#9679da"/>
<path d="M404.7 570.5h1.6v10.1h-1.6zM412.6 570.5h1.6v10.1h-1.6zM421.1 570.5h2v10.1h-2zM436.1 570.5h1.9v10.1h-1.9zM437.9 570.5h1.6v10.1h-1.6z" fill="#e2d5f6"/>
<path d="M406.2 570.5h0.9v10.1h-0.9zM409 570.5h1.7v10.1h-1.7zM416.7 570.5h2v10.1h-2zM419.4 570.5h1.8v10.1h-1.8zM424.7 570.5h1.3v10.1h-1.3zM425.9 570.5h1.4v10.1h-1.4zM427.3 570.5h1.4v10.1h-1.4zM430.8 570.5h0.8v10.1h-0.8zM431.6 570.5h1.8v10.1h-1.8z" fill="#cbb6ee"/>
<path d="M407.1 570.5h2v10.1h-2z" fill="#fbece8"/>
<path d="M410.6 570.5h0.9v10.1h-0.9zM415.5 570.5h1.2v10.1h-1.2z" fill="#f9f2f4"/>
<path d="M411.5 570.5h1.2v10.1h-1.2zM423 570.5h1.7v10.1h-1.7z" fill="#b398e3"/>
<path d="M414.1 570.5h1.4v10.1h-1.4z" fill="#a083dd"/>
<path d="M418.6 570.5h0.8v10.1h-0.8z" fill="#a98ee0"/>
<path d="M428.6 570.5h1.1v10.1h-1.1z" fill="#d7c5f3"/>
<path d="M433.3 570.5h1.5v10.1h-1.5zM434.7 570.5h1.4v10.1h-1.4zM439.5 570.5h0.5v10.1h-0.5z" fill="#eee5f8"/>
<rect x="444.3" y="570.5" width="34.8" height="10.1" fill="#f89c7c"/>
<path d="M444.3 570.5h1.4v10.1h-1.4zM449.8 570.5h1.3v10.1h-1.3zM451.1 570.5h1.6v10.1h-1.6zM461.2 570.5h1v10.1h-1zM462.1 570.5h1.5v10.1h-1.5zM471.8 570.5h1.7v10.1h-1.7z" fill="#f89c7c"/>
<path d="M445.7 570.5h0.8v10.1h-0.8zM446.4 570.5h2v10.1h-2zM456.1 570.5h1.9v10.1h-1.9zM463.6 570.5h1.1v10.1h-1.1zM470.1 570.5h1v10.1h-1z" fill="#f9a586"/>
<path d="M448.4 570.5h1.4v10.1h-1.4zM464.7 570.5h1.2v10.1h-1.2zM465.8 570.5h1.7v10.1h-1.7zM471 570.5h0.8v10.1h-0.8z" fill="#f68866"/>
<path d="M452.7 570.5h1.9v10.1h-1.9zM457.9 570.5h0.9v10.1h-0.9zM460.2 570.5h1v10.1h-1zM468.3 570.5h0.8v10.1h-0.8zM474.6 570.5h1.4v10.1h-1.4zM476.7 570.5h1.5v10.1h-1.5zM478.2 570.5h0.9v10.1h-0.9z" fill="#f79271"/>
<path d="M454.5 570.5h1.6v10.1h-1.6zM469.1 570.5h1v10.1h-1zM473.4 570.5h1.2v10.1h-1.2z" fill="#fab195"/>
<path d="M458.7 570.5h1.5v10.1h-1.5zM467.5 570.5h0.9v10.1h-0.9z" fill="#f57f5c"/>
<path d="M476 570.5h0.8v10.1h-0.8z" fill="#fcc8b2"/>
<rect x="483.8" y="570.5" width="47.5" height="10.1" fill="#f9f2f4"/>
<path d="M483.8 570.5h2v10.1h-2zM489 570.5h1.8v10.1h-1.8zM506.9 570.5h1v10.1h-1zM511.4 570.5h1.8v10.1h-1.8z" fill="#eee5f8"/>
<path d="M485.8 570.5h1.8v10.1h-1.8zM528.9 570.5h1.4v10.1h-1.4z" fill="#b398e3"/>
<path d="M487.5 570.5h1.5v10.1h-1.5zM513.2 570.5h1.8v10.1h-1.8zM521.4 570.5h1.9v10.1h-1.9zM526.6 570.5h1v10.1h-1z" fill="#d7c5f3"/>
<path d="M490.7 570.5h1.9v10.1h-1.9zM498.2 570.5h1v10.1h-1zM523.3 570.5h1.1v10.1h-1.1z" fill="#fbece8"/>
<path d="M492.6 570.5h1.9v10.1h-1.9zM503.9 570.5h1.4v10.1h-1.4z" fill="#fcc8b2"/>
<path d="M494.5 570.5h1.8v10.1h-1.8zM496.3 570.5h2v10.1h-2zM505.2 570.5h1v10.1h-1zM516.1 570.5h1.9v10.1h-1.9zM517.9 570.5h2v10.1h-2z" fill="#f9f2f4"/>
<path d="M499.1 570.5h1.2v10.1h-1.2zM509.6 570.5h1.8v10.1h-1.8zM515 570.5h1.2v10.1h-1.2z" fill="#e2d5f6"/>
<path d="M500.3 570.5h0.8v10.1h-0.8zM503 570.5h1v10.1h-1z" fill="#bfa7e8"/>
<path d="M501.1 570.5h2v10.1h-2zM507.8 570.5h1.8v10.1h-1.8z" fill="#fddcce"/>
<path d="M506.1 570.5h0.8v10.1h-0.8zM519.8 570.5h1.6v10.1h-1.6zM524.3 570.5h1.5v10.1h-1.5zM530.2 570.5h1.1v10.1h-1.1z" fill="#fde6dc"/>
<path d="M525.8 570.5h0.8v10.1h-0.8z" fill="#a98ee0"/>
<path d="M527.5 570.5h1.4v10.1h-1.4z" fill="#f79271"/>
<rect x="535.9" y="570.5" width="25.4" height="10.1" fill="#fde6dc"/>
<path d="M535.9 570.5h1.8v10.1h-1.8zM539.5 570.5h0.9v10.1h-0.9zM550.7 570.5h1.1v10.1h-1.1z" fill="#f9f2f4"/>
<path d="M537.6 570.5h1.3v10.1h-1.3zM548.8 570.5h1.2v10.1h-1.2z" fill="#fbece8"/>
<path d="M538.8 570.5h0.8v10.1h-0.8zM553.7 570.5h0.8v10.1h-0.8zM558.3 570.5h1.6v10.1h-1.6z" fill="#eee5f8"/>
<path d="M540.4 570.5h1.7v10.1h-1.7zM545.2 570.5h1.7v10.1h-1.7zM557.3 570.5h1.1v10.1h-1.1z" fill="#fcc8b2"/>
<path d="M542 570.5h1.5v10.1h-1.5zM549.9 570.5h0.8v10.1h-0.8z" fill="#fddcce"/>
<path d="M543.5 570.5h1.8v10.1h-1.8zM552.9 570.5h0.8v10.1h-0.8z" fill="#fcd2c0"/>
<path d="M546.9 570.5h1.9v10.1h-1.9zM555.5 570.5h1.9v10.1h-1.9z" fill="#fbbca3"/>
<path d="M551.8 570.5h1.2v10.1h-1.2z" fill="#fde6dc"/>
<path d="M554.5 570.5h1v10.1h-1z" fill="#e2d5f6"/>
<path d="M559.9 570.5h1.5v10.1h-1.5z" fill="#cbb6ee"/>
<rect x="565" y="570.5" width="6.9" height="10.1" fill="#a98ee0"/>
<path d="M565 570.5h2v10.1h-2z" fill="#9679da"/>
<path d="M566.9 570.5h1.4v10.1h-1.4z" fill="#a083dd"/>
<path d="M568.3 570.5h1.6v10.1h-1.6z" fill="#b398e3"/>
<path d="M569.9 570.5h1.3v10.1h-1.3z" fill="#a98ee0"/>
<path d="M571.2 570.5h0.8v10.1h-0.8z" fill="#bfa7e8"/>
<rect x="575.4" y="570.5" width="22.6" height="10.1" fill="#bfa7e8"/>
<path d="M575.4 570.5h1.6v10.1h-1.6zM578 570.5h2v10.1h-2zM580.8 570.5h1.9v10.1h-1.9zM596.8 570.5h1.3v10.1h-1.3z" fill="#bfa7e8"/>
<path d="M576.9 570.5h1.1v10.1h-1.1zM582.6 570.5h1.2v10.1h-1.2zM593.2 570.5h0.9v10.1h-0.9z" fill="#cbb6ee"/>
<path d="M579.9 570.5h0.9v10.1h-0.9zM594.9 570.5h1.9v10.1h-1.9z" fill="#e2d5f6"/>
<path d="M583.8 570.5h1.9v10.1h-1.9z" fill="#f9f2f4"/>
<path d="M585.6 570.5h2v10.1h-2zM590.5 570.5h1v10.1h-1z" fill="#b398e3"/>
<path d="M587.6 570.5h1.3v10.1h-1.3zM588.8 570.5h1.7v10.1h-1.7zM594.1 570.5h0.9v10.1h-0.9z" fill="#d7c5f3"/>
<path d="M591.5 570.5h1.8v10.1h-1.8z" fill="#eee5f8"/>
<rect x="299" y="580.6" width="48.8" height="10.1" fill="#f27454"/>
<path d="M299 580.6h1.1v10.1h-1.1zM313.7 580.6h1.5v10.1h-1.5zM316.4 580.6h0.9v10.1h-0.9zM321.8 580.6h1.9v10.1h-1.9zM332.4 580.6h0.8v10.1h-0.8zM340.4 580.6h1v10.1h-1zM345.6 580.6h2v10.1h-2z" fill="#f68866"/>
<path d="M300 580.6h1.7v10.1h-1.7zM312 580.6h1.7v10.1h-1.7zM315.1 580.6h1.3v10.1h-1.3zM318.8 580.6h1.4v10.1h-1.4zM325.3 580.6h0.9v10.1h-0.9zM329.8 580.6h1.3v10.1h-1.3zM331 580.6h1.4v10.1h-1.4zM339.5 580.6h0.9v10.1h-0.9z" fill="#ee6a4b"/>
<path d="M301.7 580.6h1.3v10.1h-1.3zM304.6 580.6h0.9v10.1h-0.9zM309.3 580.6h1.1v10.1h-1.1zM310.3 580.6h1.7v10.1h-1.7zM320.1 580.6h1.7v10.1h-1.7zM323.6 580.6h0.9v10.1h-0.9z" fill="#f27454"/>
<path d="M302.9 580.6h1.8v10.1h-1.8zM307.2 580.6h1.3v10.1h-1.3zM326.2 580.6h1.7v10.1h-1.7zM333.1 580.6h1.3v10.1h-1.3zM337.9 580.6h1.7v10.1h-1.7zM347.5 580.6h0.4v10.1h-0.4z" fill="#eb6042"/>
<path d="M305.5 580.6h1.8v10.1h-1.8zM327.9 580.6h2v10.1h-2zM341.3 580.6h1.8v10.1h-1.8zM343.1 580.6h1.7v10.1h-1.7z" fill="#f79271"/>
<path d="M308.5 580.6h0.9v10.1h-0.9z" fill="#fab195"/>
<path d="M317.2 580.6h1.6v10.1h-1.6zM324.5 580.6h0.9v10.1h-0.9zM334.4 580.6h1.6v10.1h-1.6zM344.8 580.6h0.8v10.1h-0.8z" fill="#f57f5c"/>
<path d="M336 580.6h2v10.1h-2z" fill="#f89c7c"/>
<rect x="352" y="580.6" width="34.4" height="10.1" fill="#fbece8"/>
<path d="M352 580.6h1.7v10.1h-1.7zM354.7 580.6h0.9v10.1h-0.9zM360.9 580.6h1v10.1h-1zM361.9 580.6h1.3v10.1h-1.3zM369.1 580.6h1v10.1h-1zM377.4 580.6h1.1v10.1h-1.1zM382.5 580.6h1.6v10.1h-1.6z" fill="#fde6dc"/>
<path d="M353.7 580.6h1v10.1h-1zM372.9 580.6h1.6v10.1h-1.6zM374.5 580.6h1.9v10.1h-1.9zM379.7 580.6h1.5v10.1h-1.5zM384.1 580.6h1v10.1h-1z" fill="#fddcce"/>
<path d="M355.6 580.6h1.7v10.1h-1.7z" fill="#fcd2c0"/>
<path d="M357.3 580.6h1.9v10.1h-1.9z" fill="#eee5f8"/>
<path d="M359.1 580.6h1.9v10.1h-1.9zM378.5 580.6h1.3v10.1h-1.3z" fill="#fbbca3"/>
<path d="M363.1 580.6h2v10.1h-2z" fill="#bfa7e8"/>
<path d="M365 580.6h0.9v10.1h-0.9zM381.2 580.6h1.4v10.1h-1.4z" fill="#fbece8"/>
<path d="M365.9 580.6h2v10.1h-2z" fill="#b398e3"/>
<path d="M367.9 580.6h1.3v10.1h-1.3z" fill="#d7c5f3"/>
<path d="M370.1 580.6h1.9v10.1h-1.9zM386.2 580.6h0.3v10.1h-0.3z" fill="#fcc8b2"/>
<path d="M371.9 580.6h1v10.1h-1z" fill="#e2d5f6"/>
<path d="M376.3 580.6h1.1v10.1h-1.1zM385 580.6h1.2v10.1h-1.2z" fill="#f9f2f4"/>
<rect x="390.6" y="580.6" width="8.6" height="10.1" fill="#d7c5f3"/>
<path d="M390.6 580.6h1.7v10.1h-1.7zM392.3 580.6h1.5v10.1h-1.5zM393.8 580.6h1.2v10.1h-1.2zM394.9 580.6h1.6v10.1h-1.6z" fill="#d7c5f3"/>
<path d="M396.4 580.6h1.8v10.1h-1.8zM398.1 580.6h0.9v10.1h-0.9z" fill="#e2d5f6"/>
<path d="M399 580.6h0.3v10.1h-0.3z" fill="#cbb6ee"/>
<rect x="403.6" y="580.6" width="36.4" height="10.1" fill="#fbbca3"/>
<path d="M403.6 580.6h2v10.1h-2z" fill="#f9a586"/>
<path d="M405.5 580.6h0.9v10.1h-0.9zM406.4 580.6h2v10.1h-2zM413.2 580.6h0.9v10.1h-0.9zM426.5 580.6h0.8v10.1h-0.8zM427.3 580.6h1v10.1h-1zM430.4 580.6h0.9v10.1h-0.9z" fill="#fcc8b2"/>
<path d="M408.4 580.6h1.5v10.1h-1.5zM409.8 580.6h1.4v10.1h-1.4z" fill="#f79271"/>
<path d="M411.2 580.6h1.1v10.1h-1.1zM412.2 580.6h1v10.1h-1zM414 580.6h1.1v10.1h-1.1zM415.1 580.6h2v10.1h-2zM417 580.6h2v10.1h-2zM429.1 580.6h1.3v10.1h-1.3zM436.7 580.6h1.2v10.1h-1.2zM438.6 580.6h1.4v10.1h-1.4z" fill="#fab195"/>
<path d="M418.9 580.6h1.2v10.1h-1.2zM420 580.6h1.9v10.1h-1.9zM423.8 580.6h1.4v10.1h-1.4zM425.2 580.6h1.4v10.1h-1.4zM428.2 580.6h0.9v10.1h-0.9zM431.3 580.6h1.6v10.1h-1.6zM432.8 580.6h1.6v10.1h-1.6zM434.4 580.6h1.3v10.1h-1.3zM435.6 580.6h1.1v10.1h-1.1zM437.9 580.6h0.8v10.1h-0.8z" fill="#fbbca3"/>
<path d="M421.9 580.6h2v10.1h-2z" fill="#f89c7c"/>
<rect x="444.3" y="580.6" width="34.8" height="10.1" fill="#d0bcf0"/>
<path d="M444.3 580.6h1.2v10.1h-1.2zM446.8 580.6h1.3v10.1h-1.3zM448 580.6h1.5v10.1h-1.5zM449.5 580.6h1.2v10.1h-1.2zM450.6 580.6h0.9v10.1h-0.9zM451.5 580.6h1.2v10.1h-1.2zM460.3 580.6h1.2v10.1h-1.2zM461.4 580.6h0.9v10.1h-0.9zM469 580.6h1.9v10.1h-1.9zM473.8 580.6h1v10.1h-1zM474.7 580.6h0.8v10.1h-0.8zM475.4 580.6h1.2v10.1h-1.2z" fill="#cbb6ee"/>
<path d="M445.5 580.6h1.3v10.1h-1.3zM452.6 580.6h2v10.1h-2zM456.9 580.6h1.8v10.1h-1.8zM458.7 580.6h1.7v10.1h-1.7zM462.3 580.6h1.4v10.1h-1.4zM463.6 580.6h1.9v10.1h-1.9zM465.5 580.6h1.6v10.1h-1.6zM467.1 580.6h1v10.1h-1zM476.6 580.6h1.3v10.1h-1.3z" fill="#d7c5f3"/>
<path d="M454.6 580.6h1.2v10.1h-1.2zM455.7 580.6h1.2v10.1h-1.2zM470.8 580.6h1.3v10.1h-1.3zM472 580.6h1.8v10.1h-1.8zM477.8 580.6h1.4v10.1h-1.4z" fill="#bfa7e8"/>
<path d="M468.1 580.6h1v10.1h-1z" fill="#e2d5f6"/>
<rect x="483.8" y="580.6" width="47.5" height="10.1" fill="#f5edf6"/>
<path d="M483.8 580.6h1v10.1h-1zM484.8 580.6h1.3v10.1h-1.3zM498.4 580.6h0.9v10.1h-0.9zM511.1 580.6h1.2v10.1h-1.2zM520.2 580.6h0.8v10.1h-0.8z" fill="#fbece8"/>
<path d="M486 580.6h1.2v10.1h-1.2zM494.5 580.6h2v10.1h-2zM522.3 580.6h1.1v10.1h-1.1zM524.3 580.6h1.7v10.1h-1.7z" fill="#fde6dc"/>
<path d="M487.1 580.6h1.2v10.1h-1.2z" fill="#fddcce"/>
<path d="M488.3 580.6h2v10.1h-2zM497.6 580.6h0.9v10.1h-0.9zM502.2 580.6h2v10.1h-2zM508.2 580.6h1.1v10.1h-1.1zM523.4 580.6h1v10.1h-1z" fill="#e2d5f6"/>
<path d="M490.3 580.6h1.1v10.1h-1.1z" fill="#fab195"/>
<path d="M491.3 580.6h1.8v10.1h-1.8zM493 580.6h1.5v10.1h-1.5zM517.1 580.6h0.9v10.1h-0.9z" fill="#d7c5f3"/>
<path d="M496.4 580.6h1.2v10.1h-1.2zM512.2 580.6h1.7v10.1h-1.7z" fill="#fcc8b2"/>
<path d="M499.3 580.6h1.7v10.1h-1.7zM504.9 580.6h1.3v10.1h-1.3z" fill="#bfa7e8"/>
<path d="M501 580.6h1.2v10.1h-1.2z" fill="#fbbca3"/>
<path d="M504.1 580.6h0.9v10.1h-0.9zM506.2 580.6h1v10.1h-1zM527.7 580.6h1.5v10.1h-1.5zM529.2 580.6h1.5v10.1h-1.5zM530.6 580.6h0.7v10.1h-0.7z" fill="#f9f2f4"/>
<path d="M507.2 580.6h1v10.1h-1zM509.2 580.6h2v10.1h-2z" fill="#eee5f8"/>
<path d="M513.8 580.6h1.9v10.1h-1.9zM517.9 580.6h1.6v10.1h-1.6zM526 580.6h1.8v10.1h-1.8z" fill="#cbb6ee"/>
<path d="M515.7 580.6h1.5v10.1h-1.5zM519.4 580.6h0.8v10.1h-0.8z" fill="#b398e3"/>
<path d="M520.9 580.6h1.4v10.1h-1.4z" fill="#9679da"/>
<rect x="535.9" y="580.6" width="25.4" height="10.1" fill="#fbece8"/>
<path d="M535.9 580.6h1.1v10.1h-1.1zM541.8 580.6h1.1v10.1h-1.1z" fill="#e2d5f6"/>
<path d="M536.9 580.6h1.8v10.1h-1.8zM555.5 580.6h1.1v10.1h-1.1z" fill="#fbece8"/>
<path d="M538.7 580.6h2v10.1h-2z" fill="#f9f2f4"/>
<path d="M540.7 580.6h1.2v10.1h-1.2zM549.4 580.6h1.8v10.1h-1.8z" fill="#fde6dc"/>
<path d="M542.9 580.6h1.8v10.1h-1.8zM561.1 580.6h0.2v10.1h-0.2z" fill="#eee5f8"/>
<path d="M544.6 580.6h1.6v10.1h-1.6z" fill="#fbbca3"/>
<path d="M546.2 580.6h1.3v10.1h-1.3zM557.6 580.6h1.5v10.1h-1.5zM559.9 580.6h1.2v10.1h-1.2z" fill="#bfa7e8"/>
<path d="M547.5 580.6h2v10.1h-2z" fill="#f9a586"/>
<path d="M551.2 580.6h1.3v10.1h-1.3z" fill="#fddcce"/>
<path d="M552.5 580.6h1.2v10.1h-1.2z" fill="#d7c5f3"/>
<path d="M553.6 580.6h2v10.1h-2z" fill="#fcd2c0"/>
<path d="M556.6 580.6h1v10.1h-1z" fill="#f89c7c"/>
<path d="M559 580.6h1v10.1h-1z" fill="#cbb6ee"/>
<rect x="565" y="580.6" width="6.9" height="10.1" fill="#cbb6ee"/>
<path d="M565 580.6h1.9v10.1h-1.9zM566.9 580.6h1v10.1h-1zM567.9 580.6h0.9v10.1h-0.9zM570.1 580.6h1.8v10.1h-1.8z" fill="#cbb6ee"/>
<path d="M568.7 580.6h1.5v10.1h-1.5z" fill="#d7c5f3"/>
<rect x="575.4" y="580.6" width="22.6" height="10.1" fill="#cbb6ee"/>
<path d="M575.4 580.6h1.3v10.1h-1.3zM576.6 580.6h2v10.1h-2zM580 580.6h1.7v10.1h-1.7zM583.6 580.6h1.9v10.1h-1.9zM585.4 580.6h1v10.1h-1zM586.4 580.6h1.3v10.1h-1.3zM587.6 580.6h0.9v10.1h-0.9zM588.5 580.6h0.8v10.1h-0.8zM590.4 580.6h1.9v10.1h-1.9zM592.2 580.6h0.8v10.1h-0.8zM593 580.6h1.5v10.1h-1.5zM594.4 580.6h1.4v10.1h-1.4z" fill="#cbb6ee"/>
<path d="M578.6 580.6h1.5v10.1h-1.5zM589.3 580.6h1.2v10.1h-1.2zM595.7 580.6h1.5v10.1h-1.5zM597.1 580.6h0.9v10.1h-0.9z" fill="#d7c5f3"/>
<path d="M581.6 580.6h2v10.1h-2z" fill="#bfa7e8"/>
<rect x="299" y="590.6" width="48.8" height="10.1" fill="#d7c5f3"/>
<path d="M299 590.6h1.2v10.1h-1.2zM314.5 590.6h1.1v10.1h-1.1z" fill="#cbb6ee"/>
<path d="M300.2 590.6h1.1v10.1h-1.1zM301.2 590.6h1.5v10.1h-1.5zM302.7 590.6h1.5v10.1h-1.5zM304.2 590.6h1.6v10.1h-1.6zM305.7 590.6h1.9v10.1h-1.9zM307.5 590.6h1.4v10.1h-1.4zM310.2 590.6h0.9v10.1h-0.9zM311 590.6h0.8v10.1h-0.8zM311.8 590.6h0.8v10.1h-0.8zM312.5 590.6h2v10.1h-2zM315.5 590.6h0.9v10.1h-0.9zM316.4 590.6h1.6v10.1h-1.6zM317.9 590.6h1.2v10.1h-1.2zM319.1 590.6h1.5v10.1h-1.5zM320.5 590.6h1v10.1h-1zM321.5 590.6h2v10.1h-2zM323.4 590.6h1.6v10.1h-1.6zM325 590.6h2v10.1h-2zM327 590.6h0.9v10.1h-0.9zM327.8 590.6h1.6v10.1h-1.6zM329.4 590.6h1v10.1h-1zM330.3 590.6h1.7v10.1h-1.7zM332 590.6h1.1v10.1h-1.1zM333 590.6h0.9v10.1h-0.9zM333.9 590.6h1v10.1h-1zM334.8 590.6h0.9v10.1h-0.9zM335.7 590.6h1.8v10.1h-1.8zM337.4 590.6h1.3v10.1h-1.3zM338.7 590.6h1.9v10.1h-1.9zM340.6 590.6h1.3v10.1h-1.3zM341.9 590.6h1.5v10.1h-1.5zM343.3 590.6h1.9v10.1h-1.9zM345.2 590.6h1.3v10.1h-1.3zM346.5 590.6h0.9v10.1h-0.9zM347.3 590.6h0.6v10.1h-0.6z" fill="#d7c5f3"/>
<path d="M308.9 590.6h1.3v10.1h-1.3z" fill="#e2d5f6"/>
<rect x="352" y="590.6" width="34.4" height="10.1" fill="#decff4"/>
<path d="M352 590.6h1.9v10.1h-1.9zM361.6 590.6h1.5v10.1h-1.5zM375.5 590.6h2v10.1h-2zM378.8 590.6h1.8v10.1h-1.8zM380.6 590.6h1.2v10.1h-1.2zM381.7 590.6h1.2v10.1h-1.2zM382.9 590.6h1.6v10.1h-1.6zM385.6 590.6h0.9v10.1h-0.9z" fill="#e2d5f6"/>
<path d="M353.8 590.6h0.9v10.1h-0.9zM354.6 590.6h1v10.1h-1zM355.6 590.6h1.6v10.1h-1.6zM357.2 590.6h0.9v10.1h-0.9zM368.7 590.6h1.6v10.1h-1.6zM373.3 590.6h0.9v10.1h-0.9z" fill="#d7c5f3"/>
<path d="M358 590.6h1.9v10.1h-1.9zM359.9 590.6h1.7v10.1h-1.7zM363 590.6h1v10.1h-1zM367.4 590.6h1.4v10.1h-1.4zM370.3 590.6h1.2v10.1h-1.2z" fill="#cbb6ee"/>
<path d="M363.9 590.6h1.6v10.1h-1.6zM365.5 590.6h1.9v10.1h-1.9zM371.4 590.6h1.9v10.1h-1.9zM374.2 590.6h1.4v10.1h-1.4zM377.5 590.6h1.3v10.1h-1.3z" fill="#eee5f8"/>
<path d="M384.5 590.6h1.2v10.1h-1.2z" fill="#bfa7e8"/>
<rect x="390.6" y="590.6" width="8.6" height="10.1" fill="#eb6042"/>
<path d="M390.6 590.6h0.8v10.1h-0.8zM391.4 590.6h1.6v10.1h-1.6zM393.7 590.6h1.8v10.1h-1.8z" fill="#eb6042"/>
<path d="M392.9 590.6h0.8v10.1h-0.8zM399.1 590.6h0.1v10.1h-0.1z" fill="#e24b33"/>
<path d="M395.5 590.6h1.8v10.1h-1.8zM397.3 590.6h1.9v10.1h-1.9z" fill="#e8553a"/>
<rect x="403.6" y="590.6" width="36.4" height="10.1" fill="#decff4"/>
<path d="M403.6 590.6h0.9v10.1h-0.9zM404.5 590.6h1.8v10.1h-1.8zM407.9 590.6h1v10.1h-1zM411.2 590.6h1.7v10.1h-1.7zM418 590.6h1.7v10.1h-1.7zM421.4 590.6h1.1v10.1h-1.1zM422.5 590.6h1.4v10.1h-1.4zM426.8 590.6h0.9v10.1h-0.9zM427.6 590.6h1.1v10.1h-1.1zM428.6 590.6h1.8v10.1h-1.8zM433 590.6h1.9v10.1h-1.9zM436.4 590.6h1.9v10.1h-1.9z" fill="#e2d5f6"/>
<path d="M406.2 590.6h1.8v10.1h-1.8zM414 590.6h1.5v10.1h-1.5z" fill="#eee5f8"/>
<path d="M408.9 590.6h1.4v10.1h-1.4zM410.3 590.6h1v10.1h-1zM416.1 590.6h2v10.1h-2zM419.7 590.6h1.8v10.1h-1.8zM423.8 590.6h1.4v10.1h-1.4zM425.1 590.6h1.7v10.1h-1.7zM430.3 590.6h1.4v10.1h-1.4zM438.3 590.6h1.2v10.1h-1.2z" fill="#d7c5f3"/>
<path d="M412.8 590.6h1.2v10.1h-1.2zM415.4 590.6h0.8v10.1h-0.8zM431.7 590.6h1.3v10.1h-1.3zM439.4 590.6h0.6v10.1h-0.6z" fill="#cbb6ee"/>
<path d="M434.8 590.6h1.6v10.1h-1.6z" fill="#bfa7e8"/>
<rect x="444.3" y="590.6" width="34.8" height="10.1" fill="#e24b33"/>
<path d="M444.3 590.6h1.6v10.1h-1.6zM447.1 590.6h2v10.1h-2zM459 590.6h1v10.1h-1zM461 590.6h1.1v10.1h-1.1zM462 590.6h1.1v10.1h-1.1zM473.1 590.6h1.5v10.1h-1.5zM478.1 590.6h1.1v10.1h-1.1z" fill="#e8553a"/>
<path d="M445.8 590.6h1.3v10.1h-1.3z" fill="#eb6042"/>
<path d="M449 590.6h1.8v10.1h-1.8zM450.8 590.6h1.4v10.1h-1.4zM453.8 590.6h1.1v10.1h-1.1zM454.9 590.6h1v10.1h-1zM455.8 590.6h2v10.1h-2zM463.1 590.6h1.5v10.1h-1.5zM465.5 590.6h1.5v10.1h-1.5zM468 590.6h1.7v10.1h-1.7zM469.7 590.6h1.6v10.1h-1.6zM471.3 590.6h1.9v10.1h-1.9zM475.3 590.6h1v10.1h-1z" fill="#e24b33"/>
<path d="M452.2 590.6h1.7v10.1h-1.7zM457.8 590.6h1.3v10.1h-1.3zM459.9 590.6h1.1v10.1h-1.1zM464.6 590.6h1v10.1h-1zM467 590.6h1.1v10.1h-1.1zM474.5 590.6h0.9v10.1h-0.9zM476.3 590.6h1.9v10.1h-1.9z" fill="#dc402c"/>
<rect x="483.8" y="590.6" width="47.5" height="10.1" fill="#decff4"/>
<path d="M483.8 590.6h1.9v10.1h-1.9zM489.7 590.6h1.6v10.1h-1.6zM496.6 590.6h1v10.1h-1zM502.6 590.6h0.9v10.1h-0.9zM508.3 590.6h1.5v10.1h-1.5zM512.2 590.6h0.8v10.1h-0.8zM520 590.6h1v10.1h-1zM522.8 590.6h1.3v10.1h-1.3z" fill="#e2d5f6"/>
<path d="M485.6 590.6h1.2v10.1h-1.2zM529.8 590.6h1.6v10.1h-1.6z" fill="#b398e3"/>
<path d="M486.8 590.6h1.1v10.1h-1.1z" fill="#fbece8"/>
<path d="M487.9 590.6h1.9v10.1h-1.9zM509.7 590.6h1.1v10.1h-1.1z" fill="#bfa7e8"/>
<path d="M491.2 590.6h1.2v10.1h-1.2zM492.4 590.6h1v10.1h-1zM493.4 590.6h1.6v10.1h-1.6zM494.9 590.6h1.7v10.1h-1.7zM497.5 590.6h2v10.1h-2zM499.5 590.6h1.5v10.1h-1.5zM503.4 590.6h2v10.1h-2zM505.4 590.6h0.9v10.1h-0.9zM507.3 590.6h1.1v10.1h-1.1zM510.7 590.6h1.5v10.1h-1.5zM516.1 590.6h2v10.1h-2zM518.1 590.6h1.9v10.1h-1.9z" fill="#d7c5f3"/>
<path d="M501 590.6h1.7v10.1h-1.7zM520.9 590.6h1.9v10.1h-1.9zM524 590.6h1.9v10.1h-1.9zM525.9 590.6h1.1v10.1h-1.1zM526.9 590.6h1v10.1h-1z" fill="#cbb6ee"/>
<path d="M506.2 590.6h1.1v10.1h-1.1zM514.8 590.6h1.3v10.1h-1.3zM527.9 590.6h1.9v10.1h-1.9z" fill="#eee5f8"/>
<path d="M512.9 590.6h2v10.1h-2z" fill="#f9f2f4"/>
<rect x="535.9" y="590.6" width="25.4" height="10.1" fill="#dccbf4"/>
<path d="M535.9 590.6h1.4v10.1h-1.4zM537.2 590.6h1.9v10.1h-1.9zM539.1 590.6h2v10.1h-2zM542.2 590.6h1.3v10.1h-1.3zM543.4 590.6h1.7v10.1h-1.7zM552.8 590.6h0.9v10.1h-0.9zM558.1 590.6h1v10.1h-1zM560 590.6h1.3v10.1h-1.3z" fill="#e2d5f6"/>
<path d="M541.1 590.6h1.2v10.1h-1.2zM545.1 590.6h1.5v10.1h-1.5zM551.3 590.6h1.6v10.1h-1.6zM553.6 590.6h1.4v10.1h-1.4zM555 590.6h1.9v10.1h-1.9zM556.9 590.6h1.3v10.1h-1.3zM559.1 590.6h1v10.1h-1z" fill="#d7c5f3"/>
<path d="M546.5 590.6h2v10.1h-2zM548.4 590.6h1.8v10.1h-1.8zM550.2 590.6h1.1v10.1h-1.1z" fill="#cbb6ee"/>
<rect x="565" y="590.6" width="6.9" height="10.1" fill="#ee6a4b"/>
<path d="M565 590.6h1.5v10.1h-1.5zM568.5 590.6h1.5v10.1h-1.5zM569.9 590.6h1v10.1h-1z" fill="#ee6a4b"/>
<path d="M566.5 590.6h1.3v10.1h-1.3zM567.7 590.6h0.8v10.1h-0.8z" fill="#f27454"/>
<path d="M570.9 590.6h1.1v10.1h-1.1z" fill="#f57f5c"/>
<rect x="575.4" y="590.6" width="22.6" height="10.1" fill="#f79271"/>
<path d="M575.4 590.6h1v10.1h-1z" fill="#d73624"/>
<path d="M576.4 590.6h1.3v10.1h-1.3z" fill="#f9a586"/>
<path d="M577.6 590.6h1.3v10.1h-1.3zM578.9 590.6h1.1v10.1h-1.1z" fill="#f57f5c"/>
<path d="M579.9 590.6h2v10.1h-2zM591.8 590.6h1.9v10.1h-1.9z" fill="#f68866"/>
<path d="M581.9 590.6h1.4v10.1h-1.4zM583.2 590.6h1.9v10.1h-1.9zM597 590.6h1.1v10.1h-1.1z" fill="#f89c7c"/>
<path d="M585.1 590.6h1.9v10.1h-1.9z" fill="#f27454"/>
<path d="M587 590.6h1.5v10.1h-1.5zM588.4 590.6h1.7v10.1h-1.7z" fill="#f79271"/>
<path d="M590 590.6h1.8v10.1h-1.8zM595.6 590.6h1.5v10.1h-1.5z" fill="#fab195"/>
<path d="M593.6 590.6h2v10.1h-2z" fill="#e24b33"/>
<rect x="299" y="600.7" width="48.8" height="10.1" fill="#f27454"/>
<path d="M299 600.7h1.6v10.1h-1.6zM327.6 600.7h1v10.1h-1zM331.6 600.7h1.2v10.1h-1.2z" fill="#e8553a"/>
<path d="M300.5 600.7h1.6v10.1h-1.6zM306.1 600.7h0.8v10.1h-0.8zM306.9 600.7h1.6v10.1h-1.6zM309.6 600.7h1.5v10.1h-1.5zM314.4 600.7h1.4v10.1h-1.4zM317.1 600.7h1.8v10.1h-1.8zM322.8 600.7h1.4v10.1h-1.4zM325.1 600.7h1.6v10.1h-1.6zM330.6 600.7h1v10.1h-1zM340.2 600.7h1.8v10.1h-1.8zM345.6 600.7h0.9v10.1h-0.9z" fill="#f27454"/>
<path d="M302 600.7h2v10.1h-2zM304 600.7h1.1v10.1h-1.1zM342 600.7h1.9v10.1h-1.9zM343.9 600.7h1.8v10.1h-1.8zM346.5 600.7h1.3v10.1h-1.3z" fill="#f68866"/>
<path d="M305 600.7h1.2v10.1h-1.2zM308.4 600.7h1.2v10.1h-1.2zM320.2 600.7h0.8v10.1h-0.8zM332.7 600.7h1.6v10.1h-1.6zM334.3 600.7h1.5v10.1h-1.5zM337 600.7h1.5v10.1h-1.5z" fill="#f57f5c"/>
<path d="M311 600.7h1.4v10.1h-1.4zM315.7 600.7h1.4v10.1h-1.4z" fill="#f79271"/>
<path d="M312.4 600.7h2v10.1h-2zM324.2 600.7h1v10.1h-1zM335.7 600.7h1.3v10.1h-1.3z" fill="#ee6a4b"/>
<path d="M318.8 600.7h1.4v10.1h-1.4zM320.9 600.7h2v10.1h-2zM326.7 600.7h1v10.1h-1zM329.9 600.7h0.8v10.1h-0.8zM338.4 600.7h1.9v10.1h-1.9z" fill="#eb6042"/>
<path d="M328.6 600.7h1.4v10.1h-1.4z" fill="#f89c7c"/>
<rect x="352" y="600.7" width="34.4" height="10.1" fill="#b89ee5"/>
<path d="M352 600.7h1.8v10.1h-1.8zM355.5 600.7h1.3v10.1h-1.3zM359.6 600.7h1.5v10.1h-1.5zM361 600.7h1.2v10.1h-1.2zM362.1 600.7h2v10.1h-2zM364.1 600.7h1v10.1h-1zM366.9 600.7h1.1v10.1h-1.1zM373.5 600.7h2v10.1h-2zM377.4 600.7h1.5v10.1h-1.5zM380.5 600.7h0.8v10.1h-0.8zM381.2 600.7h0.9v10.1h-0.9zM382 600.7h1.5v10.1h-1.5zM385.2 600.7h1.2v10.1h-1.2z" fill="#b398e3"/>
<path d="M353.8 600.7h1.8v10.1h-1.8zM356.7 600.7h1.3v10.1h-1.3zM358 600.7h1.6v10.1h-1.6zM367.9 600.7h1.3v10.1h-1.3zM370.5 600.7h1.3v10.1h-1.3zM371.7 600.7h0.9v10.1h-0.9zM375.5 600.7h2v10.1h-2z" fill="#bfa7e8"/>
<path d="M365.1 600.7h1.9v10.1h-1.9zM369.2 600.7h1.4v10.1h-1.4zM378.8 600.7h1.7v10.1h-1.7z" fill="#cbb6ee"/>
<path d="M372.6 600.7h1v10.1h-1z" fill="#a98ee0"/>
<path d="M383.5 600.7h1.8v10.1h-1.8z" fill="#a083dd"/>
<rect x="390.6" y="600.7" width="8.6" height="10.1" fill="#cbb6ee"/>
<path d="M390.6 600.7h2v10.1h-2zM393.6 600.7h1.9v10.1h-1.9zM395.4 600.7h1.6v10.1h-1.6z" fill="#d7c5f3"/>
<path d="M392.6 600.7h1.1v10.1h-1.1zM397 600.7h1.9v10.1h-1.9z" fill="#bfa7e8"/>
<path d="M398.9 600.7h0.3v10.1h-0.3z" fill="#cbb6ee"/>
<rect x="403.6" y="600.7" width="36.4" height="10.1" fill="#fddcce"/>
<path d="M403.6 600.7h1.6v10.1h-1.6zM419.2 600.7h1.3v10.1h-1.3zM426.1 600.7h1.1v10.1h-1.1z" fill="#fcd2c0"/>
<path d="M405.1 600.7h0.8v10.1h-0.8zM427.2 600.7h1.8v10.1h-1.8z" fill="#fbbca3"/>
<path d="M405.9 600.7h0.8v10.1h-0.8zM408.5 600.7h1.1v10.1h-1.1zM409.5 600.7h1.9v10.1h-1.9zM417.5 600.7h1.8v10.1h-1.8zM420.5 600.7h2v10.1h-2zM431.5 600.7h1.9v10.1h-1.9zM436.3 600.7h0.9v10.1h-0.9z" fill="#fbece8"/>
<path d="M406.6 600.7h2v10.1h-2zM415.6 600.7h1v10.1h-1zM416.5 600.7h1v10.1h-1zM429 600.7h1.2v10.1h-1.2zM434.1 600.7h1v10.1h-1zM438.5 600.7h1.3v10.1h-1.3zM439.7 600.7h0.3v10.1h-0.3z" fill="#fddcce"/>
<path d="M411.4 600.7h1.9v10.1h-1.9zM437.1 600.7h1.4v10.1h-1.4z" fill="#fcc8b2"/>
<path d="M413.3 600.7h1.5v10.1h-1.5zM414.7 600.7h0.9v10.1h-0.9zM422.4 600.7h1.1v10.1h-1.1zM423.5 600.7h1.5v10.1h-1.5zM425 600.7h1.2v10.1h-1.2zM433.3 600.7h0.9v10.1h-0.9zM435.1 600.7h1.2v10.1h-1.2z" fill="#fde6dc"/>
<path d="M430.1 600.7h1.4v10.1h-1.4z" fill="#eee5f8"/>
<rect x="444.3" y="600.7" width="34.8" height="10.1" fill="#bfa7e8"/>
<path d="M444.3 600.7h1.3v10.1h-1.3zM457.5 600.7h1.9v10.1h-1.9zM463.3 600.7h0.9v10.1h-0.9z" fill="#d7c5f3"/>
<path d="M445.5 600.7h1.1v10.1h-1.1zM446.6 600.7h1.8v10.1h-1.8zM451.9 600.7h0.8v10.1h-0.8zM455.8 600.7h1.8v10.1h-1.8zM464.2 600.7h0.9v10.1h-0.9zM467 600.7h1.1v10.1h-1.1zM474.5 600.7h1.4v10.1h-1.4z" fill="#b398e3"/>
<path d="M448.4 600.7h1.8v10.1h-1.8zM452.6 600.7h1.8v10.1h-1.8zM460.1 600.7h0.9v10.1h-0.9zM460.9 600.7h1.1v10.1h-1.1zM465 600.7h2v10.1h-2zM468 600.7h1.2v10.1h-1.2zM469.1 600.7h1.5v10.1h-1.5zM470.5 600.7h1.5v10.1h-1.5zM472.7 600.7h1.9v10.1h-1.9zM475.8 600.7h1.5v10.1h-1.5zM477.3 600.7h1.4v10.1h-1.4zM478.6 600.7h0.6v10.1h-0.6z" fill="#bfa7e8"/>
<path d="M450.1 600.7h0.8v10.1h-0.8zM450.8 600.7h1.1v10.1h-1.1zM454.3 600.7h1.5v10.1h-1.5zM459.4 600.7h0.8v10.1h-0.8zM472 600.7h0.8v10.1h-0.8z" fill="#cbb6ee"/>
<path d="M462 600.7h1.4v10.1h-1.4z" fill="#a98ee0"/>
<rect x="483.8" y="600.7" width="47.5" height="10.1" fill="#f89c7c"/>
<path d="M483.8 600.7h1v10.1h-1zM499.9 600.7h1.5v10.1h-1.5zM510.1 600.7h2v10.1h-2zM514.7 600.7h1.7v10.1h-1.7zM520.8 600.7h0.9v10.1h-0.9zM521.6 600.7h2v10.1h-2zM528.6 600.7h1.3v10.1h-1.3z" fill="#f89c7c"/>
<path d="M484.8 600.7h1.4v10.1h-1.4zM494.4 600.7h1.9v10.1h-1.9zM496.2 600.7h1.9v10.1h-1.9zM498.1 600.7h1.9v10.1h-1.9zM523.6 600.7h1.5v10.1h-1.5zM527.7 600.7h0.9v10.1h-0.9z" fill="#f9a586"/>
<path d="M486.2 600.7h1.9v10.1h-1.9zM488 600.7h1v10.1h-1zM490.3 600.7h0.9v10.1h-0.9zM491.2 600.7h1.6v10.1h-1.6zM506.3 600.7h1.5v10.1h-1.5zM509.2 600.7h1v10.1h-1zM512.1 600.7h0.9v10.1h-0.9zM516.4 600.7h1.3v10.1h-1.3z" fill="#f79271"/>
<path d="M488.9 600.7h1.5v10.1h-1.5zM501.3 600.7h0.9v10.1h-0.9zM503.6 600.7h1.8v10.1h-1.8z" fill="#f68866"/>
<path d="M492.8 600.7h1.6v10.1h-1.6zM507.7 600.7h1.6v10.1h-1.6zM530.5 600.7h0.8v10.1h-0.8z" fill="#fbbca3"/>
<path d="M502.1 600.7h1.5v10.1h-1.5zM512.9 600.7h1.9v10.1h-1.9zM517.6 600.7h1.7v10.1h-1.7zM525 600.7h1.3v10.1h-1.3z" fill="#fab195"/>
<path d="M505.4 600.7h1v10.1h-1zM519.3 600.7h1.6v10.1h-1.6zM529.8 600.7h0.8v10.1h-0.8z" fill="#fcc8b2"/>
<path d="M526.2 600.7h1.5v10.1h-1.5z" fill="#fcd2c0"/>
<rect x="535.9" y="600.7" width="25.4" height="10.1" fill="#fab195"/>
<path d="M535.9 600.7h1.7v10.1h-1.7zM552.5 600.7h1.7v10.1h-1.7zM555.6 600.7h1.9v10.1h-1.9zM557.4 600.7h1v10.1h-1zM560.7 600.7h0.6v10.1h-0.6z" fill="#fab195"/>
<path d="M537.6 600.7h1.4v10.1h-1.4zM548.5 600.7h1.9v10.1h-1.9zM550.4 600.7h1.1v10.1h-1.1zM551.5 600.7h1v10.1h-1z" fill="#fbbca3"/>
<path d="M539 600.7h0.9v10.1h-0.9z" fill="#f27454"/>
<path d="M539.8 600.7h1.6v10.1h-1.6zM544.9 600.7h1.5v10.1h-1.5z" fill="#f9a586"/>
<path d="M541.3 600.7h1.8v10.1h-1.8z" fill="#f89c7c"/>
<path d="M543 600.7h1.9v10.1h-1.9zM546.3 600.7h1.2v10.1h-1.2z" fill="#f68866"/>
<path d="M547.4 600.7h1.1v10.1h-1.1z" fill="#fcc8b2"/>
<path d="M554.1 600.7h1.5v10.1h-1.5z" fill="#fcd2c0"/>
<path d="M558.4 600.7h1.1v10.1h-1.1zM559.4 600.7h1.3v10.1h-1.3z" fill="#f79271"/>
<rect x="565" y="600.7" width="6.9" height="10.1" fill="#b398e3"/>
<path d="M565 600.7h1.2v10.1h-1.2zM568.8 600.7h1.7v10.1h-1.7zM571.4 600.7h0.5v10.1h-0.5z" fill="#b398e3"/>
<path d="M566.1 600.7h1.7v10.1h-1.7zM567.8 600.7h1v10.1h-1z" fill="#bfa7e8"/>
<path d="M570.5 600.7h1v10.1h-1z" fill="#a98ee0"/>
<rect x="575.4" y="600.7" width="22.6" height="10.1" fill="#b398e3"/>
<path d="M575.4 600.7h0.8v10.1h-0.8zM576.9 600.7h1.4v10.1h-1.4z" fill="#bfa7e8"/>
<path d="M576.2 600.7h0.8v10.1h-0.8zM579.5 600.7h1.5v10.1h-1.5zM591.6 600.7h1.8v10.1h-1.8z" fill="#a98ee0"/>
<path d="M578.3 600.7h1.3v10.1h-1.3zM581 600.7h1.4v10.1h-1.4zM582.3 600.7h1.8v10.1h-1.8zM584.1 600.7h0.8v10.1h-0.8zM584.9 600.7h1.5v10.1h-1.5zM586.3 600.7h1.3v10.1h-1.3zM587.6 600.7h1.3v10.1h-1.3zM588.8 600.7h1.8v10.1h-1.8zM590.6 600.7h1.1v10.1h-1.1zM593.4 600.7h1.9v10.1h-1.9zM595.3 600.7h1.2v10.1h-1.2zM596.4 600.7h1.6v10.1h-1.6z" fill="#b398e3"/>
<rect x="299" y="610.8" width="48.8" height="10.1" fill="#fcd2c0"/>
<path d="M299 610.8h1.2v10.1h-1.2zM302 610.8h0.9v10.1h-0.9zM314.1 610.8h1.2v10.1h-1.2zM318.6 610.8h2v10.1h-2zM336.2 610.8h1.9v10.1h-1.9z" fill="#fddcce"/>
<path d="M300.2 610.8h1.8v10.1h-1.8zM304.1 610.8h1.4v10.1h-1.4zM310.6 610.8h1.7v10.1h-1.7zM320.6 610.8h0.8v10.1h-0.8zM334.4 610.8h1.9v10.1h-1.9zM338.1 610.8h1.8v10.1h-1.8z" fill="#fcc8b2"/>
<path d="M302.8 610.8h1.3v10.1h-1.3zM306.7 610.8h2v10.1h-2zM327.8 610.8h1.1v10.1h-1.1zM344.9 610.8h1.4v10.1h-1.4zM347.4 610.8h0.4v10.1h-0.4z" fill="#fde6dc"/>
<path d="M305.5 610.8h1.3v10.1h-1.3zM312.3 610.8h1.9v10.1h-1.9z" fill="#fbbca3"/>
<path d="M308.6 610.8h1v10.1h-1zM309.6 610.8h1v10.1h-1zM315.3 610.8h1.7v10.1h-1.7zM317 610.8h1.7v10.1h-1.7zM321.4 610.8h1.2v10.1h-1.2zM322.5 610.8h2v10.1h-2zM326.3 610.8h1.5v10.1h-1.5zM328.9 610.8h1.1v10.1h-1.1zM329.9 610.8h1.2v10.1h-1.2zM331 610.8h2v10.1h-2zM333 610.8h1.4v10.1h-1.4zM341.7 610.8h1.8v10.1h-1.8zM343.4 610.8h1.6v10.1h-1.6zM346.3 610.8h1.2v10.1h-1.2z" fill="#fcd2c0"/>
<path d="M324.5 610.8h1.9v10.1h-1.9zM339.8 610.8h1.9v10.1h-1.9z" fill="#fab195"/>
<rect x="352" y="610.8" width="34.4" height="10.1" fill="#fbbca3"/>
<path d="M352 610.8h1.6v10.1h-1.6zM359.4 610.8h1.1v10.1h-1.1zM363.7 610.8h1.6v10.1h-1.6z" fill="#fcc8b2"/>
<path d="M353.5 610.8h1.1v10.1h-1.1zM354.6 610.8h1.5v10.1h-1.5zM373.8 610.8h1.7v10.1h-1.7zM377.4 610.8h2v10.1h-2zM381.3 610.8h1.5v10.1h-1.5z" fill="#fcd2c0"/>
<path d="M356 610.8h2v10.1h-2zM360.5 610.8h1.5v10.1h-1.5zM375.5 610.8h2v10.1h-2zM379.4 610.8h0.8v10.1h-0.8z" fill="#fab195"/>
<path d="M358 610.8h1.4v10.1h-1.4zM362 610.8h1.8v10.1h-1.8zM366.8 610.8h1.9v10.1h-1.9zM368.7 610.8h1.6v10.1h-1.6zM370.2 610.8h1.8v10.1h-1.8zM384.5 610.8h1.3v10.1h-1.3zM385.7 610.8h0.7v10.1h-0.7z" fill="#fbbca3"/>
<path d="M365.2 610.8h1.7v10.1h-1.7zM380.1 610.8h1.3v10.1h-1.3zM382.8 610.8h1.8v10.1h-1.8z" fill="#f9a586"/>
<path d="M372 610.8h1.9v10.1h-1.9z" fill="#fddcce"/>
<rect x="390.6" y="610.8" width="8.6" height="10.1" fill="#7962cc"/>
<path d="M390.6 610.8h2v10.1h-2z" fill="#7962cc"/>
<path d="M392.6 610.8h1.9v10.1h-1.9z" fill="#9679da"/>
<path d="M394.4 610.8h1v10.1h-1z" fill="#bfa7e8"/>
<path d="M395.4 610.8h1.8v10.1h-1.8zM397.1 610.8h1.1v10.1h-1.1zM399 610.8h0.2v10.1h-0.2z" fill="#8c71d5"/>
<path d="M398.2 610.8h0.9v10.1h-0.9z" fill="#705ac7"/>
<rect x="403.6" y="610.8" width="36.4" height="10.1" fill="#f9a586"/>
<path d="M403.6 610.8h1.2v10.1h-1.2zM404.8 610.8h1.8v10.1h-1.8zM409.7 610.8h1.8v10.1h-1.8zM415.7 610.8h1.8v10.1h-1.8zM428.7 610.8h0.8v10.1h-0.8zM429.5 610.8h1.6v10.1h-1.6zM434.5 610.8h1.8v10.1h-1.8z" fill="#fab195"/>
<path d="M406.6 610.8h1.4v10.1h-1.4zM413.2 610.8h1.7v10.1h-1.7zM426.7 610.8h2v10.1h-2zM437.9 610.8h1.9v10.1h-1.9z" fill="#fbbca3"/>
<path d="M407.9 610.8h1.9v10.1h-1.9zM411.4 610.8h1.8v10.1h-1.8zM422.2 610.8h1.9v10.1h-1.9zM425.8 610.8h1v10.1h-1zM431 610.8h1.4v10.1h-1.4zM432.3 610.8h1.2v10.1h-1.2zM433.5 610.8h1.1v10.1h-1.1zM439.8 610.8h0.3v10.1h-0.3z" fill="#f89c7c"/>
<path d="M414.8 610.8h1v10.1h-1z" fill="#f79271"/>
<path d="M417.5 610.8h1.1v10.1h-1.1z" fill="#fcc8b2"/>
<path d="M418.5 610.8h1.2v10.1h-1.2zM419.6 610.8h1.4v10.1h-1.4zM421 610.8h1.2v10.1h-1.2zM424 610.8h1.8v10.1h-1.8z" fill="#f9a586"/>
<path d="M436.3 610.8h1.7v10.1h-1.7z" fill="#f57f5c"/>
<rect x="444.3" y="610.8" width="34.8" height="10.1" fill="#fde6dc"/>
<path d="M444.3 610.8h0.8v10.1h-0.8zM446.4 610.8h1.7v10.1h-1.7zM448 610.8h1.7v10.1h-1.7zM455.1 610.8h1.5v10.1h-1.5zM460 610.8h1.8v10.1h-1.8zM461.8 610.8h1.1v10.1h-1.1zM468.2 610.8h1v10.1h-1zM469.1 610.8h2v10.1h-2zM475.7 610.8h1.3v10.1h-1.3zM477 610.8h1.3v10.1h-1.3zM478.2 610.8h0.9v10.1h-0.9z" fill="#fde6dc"/>
<path d="M445.1 610.8h1.3v10.1h-1.3zM449.7 610.8h1.4v10.1h-1.4zM452.4 610.8h2v10.1h-2zM467.2 610.8h1.1v10.1h-1.1zM472.9 610.8h1.9v10.1h-1.9zM479 610.8h0.1v10.1h-0.1z" fill="#fbece8"/>
<path d="M451.1 610.8h1.4v10.1h-1.4zM458.3 610.8h1.8v10.1h-1.8zM466.2 610.8h1v10.1h-1z" fill="#fcd2c0"/>
<path d="M454.3 610.8h0.8v10.1h-0.8zM462.8 610.8h1.7v10.1h-1.7z" fill="#f9f2f4"/>
<path d="M456.6 610.8h1.8v10.1h-1.8zM464.5 610.8h1.8v10.1h-1.8zM474.7 610.8h1.1v10.1h-1.1z" fill="#fddcce"/>
<path d="M471.1 610.8h1.9v10.1h-1.9z" fill="#fcc8b2"/>
<rect x="483.8" y="610.8" width="47.5" height="10.1" fill="#f9f2f4"/>
<path d="M483.8 610.8h1.5v10.1h-1.5zM493.4 610.8h0.9v10.1h-0.9zM494.2 610.8h1.6v10.1h-1.6zM499.4 610.8h1.1v10.1h-1.1zM509.4 610.8h1.7v10.1h-1.7zM522.6 610.8h1.1v10.1h-1.1z" fill="#f9f2f4"/>
<path d="M485.3 610.8h1.9v10.1h-1.9zM519.7 610.8h1.3v10.1h-1.3zM523.6 610.8h1.9v10.1h-1.9zM525.5 610.8h1.7v10.1h-1.7z" fill="#fde6dc"/>
<path d="M487.1 610.8h1.4v10.1h-1.4zM488.4 610.8h2v10.1h-2zM492.5 610.8h0.9v10.1h-0.9zM498.1 610.8h1.3v10.1h-1.3zM508.2 610.8h1.3v10.1h-1.3zM511.1 610.8h1.3v10.1h-1.3zM529 610.8h1.4v10.1h-1.4z" fill="#e2d5f6"/>
<path d="M490.4 610.8h1.5v10.1h-1.5zM495.8 610.8h1.6v10.1h-1.6zM503.5 610.8h1.7v10.1h-1.7z" fill="#fddcce"/>
<path d="M491.8 610.8h0.8v10.1h-0.8zM512.3 610.8h1.9v10.1h-1.9zM517.8 610.8h2v10.1h-2zM520.9 610.8h1.7v10.1h-1.7z" fill="#fcc8b2"/>
<path d="M497.4 610.8h0.8v10.1h-0.8z" fill="#fcd2c0"/>
<path d="M500.5 610.8h1.6v10.1h-1.6zM516 610.8h0.9v10.1h-0.9zM531.2 610.8h0.2v10.1h-0.2z" fill="#fbece8"/>
<path d="M502 610.8h0.8v10.1h-0.8zM516.9 610.8h0.9v10.1h-0.9zM527.1 610.8h1v10.1h-1z" fill="#b398e3"/>
<path d="M502.8 610.8h0.8v10.1h-0.8zM514.2 610.8h1.9v10.1h-1.9zM530.3 610.8h0.9v10.1h-0.9z" fill="#eee5f8"/>
<path d="M505.1 610.8h1.7v10.1h-1.7z" fill="#f9a586"/>
<path d="M506.8 610.8h1.4v10.1h-1.4z" fill="#d7c5f3"/>
<path d="M528 610.8h1v10.1h-1z" fill="#a98ee0"/>
<rect x="535.9" y="610.8" width="25.4" height="10.1" fill="#e2d5f6"/>
<path d="M535.9 610.8h1.2v10.1h-1.2z" fill="#8c71d5"/>
<path d="M537 610.8h1.9v10.1h-1.9z" fill="#fddcce"/>
<path d="M538.9 610.8h2v10.1h-2zM548.8 610.8h1.1v10.1h-1.1zM552.1 610.8h1.5v10.1h-1.5zM555.8 610.8h1.3v10.1h-1.3zM558.4 610.8h1.4v10.1h-1.4z" fill="#bfa7e8"/>
<path d="M540.8 610.8h1.7v10.1h-1.7z" fill="#a083dd"/>
<path d="M542.4 610.8h1.8v10.1h-1.8zM549.9 610.8h1.2v10.1h-1.2z" fill="#8369d0"/>
<path d="M544.1 610.8h1.9v10.1h-1.9z" fill="#fbbca3"/>
<path d="M545.9 610.8h1.9v10.1h-1.9zM554.6 610.8h1.3v10.1h-1.3z" fill="#fde6dc"/>
<path d="M547.8 610.8h1.1v10.1h-1.1zM561 610.8h0.3v10.1h-0.3z" fill="#e2d5f6"/>
<path d="M551 610.8h1.1v10.1h-1.1z" fill="#a98ee0"/>
<path d="M553.5 610.8h1.2v10.1h-1.2z" fill="#b398e3"/>
<path d="M557.1 610.8h1.4v10.1h-1.4z" fill="#eee5f8"/>
<path d="M559.8 610.8h1.3v10.1h-1.3z" fill="#fbece8"/>
<rect x="565" y="610.8" width="6.9" height="10.1" fill="#7962cc"/>
<path d="M565 610.8h1.8v10.1h-1.8z" fill="#5f4ebe"/>
<path d="M566.8 610.8h1.8v10.1h-1.8zM568.5 610.8h0.8v10.1h-0.8z" fill="#6652c2"/>
<path d="M569.3 610.8h0.8v10.1h-0.8z" fill="#a083dd"/>
<path d="M570 610.8h1.4v10.1h-1.4z" fill="#574ab9"/>
<path d="M571.3 610.8h0.6v10.1h-0.6z" fill="#705ac7"/>
<rect x="575.4" y="610.8" width="22.6" height="10.1" fill="#b398e3"/>
<path d="M575.4 610.8h1.7v10.1h-1.7zM577.1 610.8h1v10.1h-1zM578 610.8h1.7v10.1h-1.7zM594.8 610.8h1.4v10.1h-1.4z" fill="#b398e3"/>
<path d="M579.6 610.8h1.1v10.1h-1.1z" fill="#bfa7e8"/>
<path d="M580.7 610.8h1.2v10.1h-1.2zM596.1 610.8h1.4v10.1h-1.4z" fill="#8369d0"/>
<path d="M581.8 610.8h1v10.1h-1z" fill="#5f4ebe"/>
<path d="M582.7 610.8h2v10.1h-2z" fill="#f9f2f4"/>
<path d="M584.6 610.8h1.5v10.1h-1.5z" fill="#9679da"/>
<path d="M586 610.8h1.9v10.1h-1.9zM587.9 610.8h1.9v10.1h-1.9z" fill="#a98ee0"/>
<path d="M589.7 610.8h1.5v10.1h-1.5zM597.4 610.8h0.7v10.1h-0.7z" fill="#eee5f8"/>
<path d="M591.2 610.8h1.9v10.1h-1.9z" fill="#d7c5f3"/>
<path d="M593.1 610.8h1.7v10.1h-1.7z" fill="#cbb6ee"/>
<text x="603" y="301.7">Patients</text>
<text x="603" y="315.6">Clusters</text>
<text x="603" y="331.4">amp1q</text>
<text x="603" y="345.1">amp9q</text>
<text x="603" y="358.8">del13q</text>
<text x="603" y="372.5">del17p</text>
<text x="603" y="388.5">CQAWDSSTYVVF</text>
<text x="603" y="401.8">CQQANTFPLTF</text>
<text x="603" y="415.1">CCSYAGTSTYNYVF</text>
<text x="603" y="428.4">CQHLNSYPITF</text>
<text x="603" y="441.7">CCSYAGDNTFWVF</text>
<text x="603" y="455">CQQYDSPPYTF</text>
<text x="603" y="468.3">CGQYYDVPYTF</text>
<text x="603" y="484" class="it">CCND1</text>
<text x="603" y="494.2" class="it">MAF</text>
<text x="603" y="508.5" class="it">ST3GAL6</text>
<text x="603" y="518.5" class="it">FRZB</text>
<text x="603" y="528.6" class="it">CTSH</text>
<text x="603" y="538.6" class="it">C6orf62</text>
<text x="603" y="548.7" class="it">CCND1</text>
<text x="603" y="558.8" class="it">DST</text>
<text x="603" y="568.8" class="it">RPS18</text>
<text x="603" y="578.8" class="it">DEPTOR</text>
<text x="603" y="588.9" class="it">FBLN2</text>
<text x="603" y="598.9" class="it">TCF4</text>
<text x="603" y="609" class="it">GAS2</text>
<text x="603" y="619" class="it">LDHA</text>
<text x="292.6" y="354" text-anchor="middle" transform="rotate(-90 292.6 354)">CNVs</text>
<text x="292.6" y="424" text-anchor="middle" transform="rotate(-90 292.6 424)">CDR3</text>
<text x="292.6" y="488" text-anchor="middle" transform="rotate(-90 292.6 488)">t()</text>
<text x="292.6" y="569.5" text-anchor="middle" transform="rotate(-90 292.6 569.5)">RF markers</text>
<text x="0.3" y="702.7" class="pl">f</text>
<rect x="33.2" y="711.1" width="234.1" height="101.1" fill="none" stroke="#8e8e8e" stroke-width="0.8"/>
<line x1="30.4" y1="726.4" x2="33.2" y2="726.4" stroke="#8e8e8e" stroke-width="0.8"/>
<text x="27.6" y="729.6" text-anchor="end">4</text>
<line x1="30.4" y1="754.4" x2="33.2" y2="754.4" stroke="#8e8e8e" stroke-width="0.8"/>
<text x="27.6" y="757.6" text-anchor="end">2</text>
<line x1="30.4" y1="782.4" x2="33.2" y2="782.4" stroke="#8e8e8e" stroke-width="0.8"/>
<text x="27.6" y="785.6" text-anchor="end">0</text>
<line x1="30.4" y1="810.4" x2="33.2" y2="810.4" stroke="#8e8e8e" stroke-width="0.8"/>
<text x="27.6" y="813.6" text-anchor="end">−2</text>
<line x1="50.5" y1="812.2" x2="50.5" y2="815.0" stroke="#8e8e8e" stroke-width="0.8"/>
<text x="50.5" y="827.2" text-anchor="middle">MM1</text>
<line x1="79.1" y1="812.2" x2="79.1" y2="815.0" stroke="#8e8e8e" stroke-width="0.8"/>
<text x="79.1" y="827.2" text-anchor="middle">MM3</text>
<line x1="107.3" y1="812.2" x2="107.3" y2="815.0" stroke="#8e8e8e" stroke-width="0.8"/>
<text x="107.3" y="827.2" text-anchor="middle">MM5</text>
<line x1="136.1" y1="812.2" x2="136.1" y2="815.0" stroke="#8e8e8e" stroke-width="0.8"/>
<text x="136.1" y="827.2" text-anchor="middle">MM6</text>
<line x1="164.4" y1="812.2" x2="164.4" y2="815.0" stroke="#8e8e8e" stroke-width="0.8"/>
<text x="164.4" y="827.2" text-anchor="middle">MM7</text>
<line x1="193.5" y1="812.2" x2="193.5" y2="815.0" stroke="#8e8e8e" stroke-width="0.8"/>
<text x="193.5" y="827.2" text-anchor="middle">MM8</text>
<line x1="221.5" y1="812.2" x2="221.5" y2="815.0" stroke="#8e8e8e" stroke-width="0.8"/>
<text x="221.5" y="827.2" text-anchor="middle">MM9</text>
<line x1="250.2" y1="812.2" x2="250.2" y2="815.0" stroke="#8e8e8e" stroke-width="0.8"/>
<text x="250.2" y="827.2" text-anchor="middle">ND</text>
<text x="150" y="841.4" text-anchor="middle">Patients</text>
<text x="7.9" y="762.0" text-anchor="middle" transform="rotate(-90 7.9 762)">Composite malignancy score</text>
<line x1="33.7" y1="770.3" x2="266.8" y2="770.3" stroke="#bdbdbd" stroke-width="1.1" stroke-dasharray="5.2 3.6"/>
<path d="M46.2,712.9L46.7,714.3L48.1,714.3L47,715.1L47.4,716.5L46.2,715.7L45.1,716.5L45.5,715.1L44.4,714.3L45.8,714.3ZM50.5,712.9L51,714.3L52.4,714.3L51.3,715.1L51.7,716.5L50.5,715.7L49.4,716.5L49.8,715.1L48.7,714.3L50.1,714.3ZM54.9,712.9L55.3,714.3L56.7,714.3L55.6,715.1L56,716.5L54.9,715.7L53.7,716.5L54.1,715.1L53,714.3L54.4,714.3ZM59.1,712.9L59.6,714.3L61,714.3L59.9,715.1L60.3,716.5L59.1,715.7L58,716.5L58.4,715.1L57.3,714.3L58.7,714.3ZM73.2,712.9L73.7,714.3L75.1,714.3L74,715.1L74.4,716.5L73.2,715.7L72.1,716.5L72.5,715.1L71.4,714.3L72.8,714.3ZM77.5,712.9L78,714.3L79.4,714.3L78.3,715.1L78.7,716.5L77.5,715.7L76.4,716.5L76.8,715.1L75.7,714.3L77.1,714.3ZM81.8,712.9L82.3,714.3L83.7,714.3L82.6,715.1L83,716.5L81.8,715.7L80.7,716.5L81.1,715.1L80,714.3L81.4,714.3ZM86.2,712.9L86.6,714.3L88,714.3L86.9,715.1L87.3,716.5L86.2,715.7L85,716.5L85.4,715.1L84.3,714.3L85.7,714.3ZM130.6,712.9L131,714.3L132.4,714.3L131.3,715.1L131.7,716.5L130.6,715.7L129.4,716.5L129.8,715.1L128.7,714.3L130.1,714.3ZM134.9,712.9L135.3,714.3L136.7,714.3L135.6,715.1L136,716.5L134.9,715.7L133.7,716.5L134.1,715.1L133,714.3L134.4,714.3ZM139.2,712.9L139.6,714.3L141,714.3L139.9,715.1L140.3,716.5L139.2,715.7L138,716.5L138.4,715.1L137.3,714.3L138.7,714.3ZM143.5,712.9L143.9,714.3L145.3,714.3L144.2,715.1L144.6,716.5L143.5,715.7L142.3,716.5L142.7,715.1L141.6,714.3L143,714.3ZM160.1,712.9L160.5,714.3L161.9,714.3L160.8,715.1L161.2,716.5L160.1,715.7L158.9,716.5L159.3,715.1L158.2,714.3L159.6,714.3ZM164.4,712.9L164.8,714.3L166.2,714.3L165.1,715.1L165.5,716.5L164.4,715.7L163.2,716.5L163.6,715.1L162.5,714.3L163.9,714.3ZM168.7,712.9L169.1,714.3L170.5,714.3L169.4,715.1L169.8,716.5L168.7,715.7L167.5,716.5L167.9,715.1L166.8,714.3L168.2,714.3ZM173,712.9L173.4,714.3L174.8,714.3L173.7,715.1L174.1,716.5L173,715.7L171.8,716.5L172.2,715.1L171.1,714.3L172.5,714.3ZM188.4,712.9L188.8,714.3L190.2,714.3L189.1,715.1L189.5,716.5L188.4,715.7L187.2,716.5L187.6,715.1L186.5,714.3L187.9,714.3ZM192.7,712.9L193.1,714.3L194.5,714.3L193.4,715.1L193.8,716.5L192.7,715.7L191.5,716.5L191.9,715.1L190.8,714.3L192.2,714.3ZM197,712.9L197.4,714.3L198.8,714.3L197.7,715.1L198.1,716.5L197,715.7L195.8,716.5L196.2,715.1L195.1,714.3L196.5,714.3ZM201.3,712.9L201.7,714.3L203.1,714.3L202,715.1L202.4,716.5L201.3,715.7L200.1,716.5L200.5,715.1L199.4,714.3L200.8,714.3ZM217.2,712.9L217.6,714.3L219,714.3L217.9,715.1L218.3,716.5L217.2,715.7L216,716.5L216.4,715.1L215.3,714.3L216.7,714.3ZM221.5,712.9L221.9,714.3L223.3,714.3L222.2,715.1L222.6,716.5L221.5,715.7L220.3,716.5L220.7,715.1L219.6,714.3L221,714.3ZM225.8,712.9L226.2,714.3L227.6,714.3L226.5,715.1L226.9,716.5L225.8,715.7L224.6,716.5L225,715.1L223.9,714.3L225.3,714.3ZM230.1,712.9L230.5,714.3L231.9,714.3L230.8,715.1L231.2,716.5L230.1,715.7L228.9,716.5L229.3,715.1L228.2,714.3L229.6,714.3Z" fill="#111"/>
<text x="108.6" y="718.6" text-anchor="middle" style="font-size:9.2px">NS</text>
<line x1="50.5" y1="721.8" x2="50.5" y2="786" stroke="#333" stroke-width="0.5"/>
<polygon points="50.2,721.8 49.8,728 48.9,733 47.8,740 47.5,747 48,754 49.1,760 49.9,766 50.1,772 50.2,786 50.8,786 50.9,772 51.1,766 51.9,760 53,754 53.5,747 53.2,740 52.1,733 51.2,728 50.8,721.8" fill="#c4de86" stroke="#5a6e2a" stroke-width="0.35" stroke-linejoin="round"/>
<rect x="49.8" y="739" width="1.5" height="18" fill="#ffffff" stroke="#555" stroke-width="0.25"/>
<circle cx="50.5" cy="778.6" r="1.0" fill="#111"/>
<polygon points="78.6,735.7 77.5,738 75.1,740 71.1,741.5 68.1,742.7 71.1,743.9 75.1,745.4 77.5,747.4 78.6,749.5 79.6,749.5 80.7,747.4 83.1,745.4 87.1,743.9 90.1,742.7 87.1,741.5 83.1,740 80.7,738 79.6,735.7" fill="#f4a1a1" stroke="#7a4040" stroke-width="0.35" stroke-linejoin="round"/>
<line x1="79.1" y1="735" x2="79.1" y2="738" stroke="#111" stroke-width="1.3"/>
<line x1="79.1" y1="747" x2="79.1" y2="750" stroke="#111" stroke-width="1.3"/>
<rect x="78.3" y="740.5" width="1.5" height="4.5" fill="#ffffff" stroke="#555" stroke-width="0.25"/>
<line x1="107.3" y1="725.4" x2="107.3" y2="808" stroke="#333" stroke-width="0.5"/>
<polygon points="107.1,725.4 106.7,735 106,742 105.6,747 106.3,752 106.6,760 106.6,770 105.8,776 104.8,781 104.7,785 105.6,790 106.5,797 107.1,808 107.5,808 108.1,797 109,790 109.9,785 109.8,781 108.8,776 108,770 108,760 108.3,752 109,747 108.6,742 107.9,735 107.5,725.4" fill="#f8c07c" stroke="#6a5030" stroke-width="0.35" stroke-linejoin="round"/>
<polygon points="107,741 105.9,744 105.6,747 106.1,750 107,752 107.6,752 108.5,750 109,747 108.7,744 107.6,741" fill="#c8944e" stroke="none" stroke-width="0" stroke-linejoin="round"/>
<rect x="106.5" y="753" width="1.5" height="30" fill="#e8e8e8" stroke="#555" stroke-width="0.25"/>
<polygon points="135.6,742.2 133.1,744.5 123.4,747.7 132.1,750.3 135.5,752.5 136.7,752.5 140.1,750.3 148.8,747.7 139.1,744.5 136.6,742.2" fill="#ef7f12" stroke="#6a3a10" stroke-width="0.35" stroke-linejoin="round"/>
<rect x="135.4" y="745.5" width="1.4" height="4" fill="#ffffff" stroke="#555" stroke-width="0.25"/>
<circle cx="136.1" cy="754.6" r="0.9" fill="#111"/>
<polygon points="164,733 161.6,736.5 157.2,742.2 161.4,747.2 164,750.5 164.8,750.5 167.4,747.2 171.6,742.2 167.2,736.5 164.8,733" fill="#e2c3f1" stroke="#6a5a80" stroke-width="0.35" stroke-linejoin="round"/>
<rect x="163.7" y="740" width="1.4" height="4" fill="#ffffff" stroke="#555" stroke-width="0.25"/>
<line x1="193.5" y1="723.6" x2="193.5" y2="787.1" stroke="#444" stroke-width="0.45"/>
<polygon points="193.2,723.6 192.2,728 190.8,734.6 192,740 191.4,744 189.8,749.9 191.4,755 192.9,760 193.2,770 193.3,787.1 193.7,787.1 193.8,770 194.1,760 195.6,755 197.2,749.9 195.6,744 195,740 196.2,734.6 194.8,728 193.8,723.6" fill="#e27cbd" stroke="#6a3458" stroke-width="0.35" stroke-linejoin="round"/>
<rect x="192.8" y="739.5" width="1.4" height="12.5" fill="#ffffff" stroke="#555" stroke-width="0.25"/>
<line x1="193.5" y1="758" x2="193.5" y2="787.1" stroke="#333" stroke-width="0.45"/>
<circle cx="193.5" cy="774.6" r="0.9" fill="#111"/>
<circle cx="193.5" cy="777.6" r="0.9" fill="#111"/>
<line x1="221.4" y1="734" x2="221.4" y2="760" stroke="#111" stroke-width="0.9"/>
<polygon points="221,734.6 218.8,738.2 214.4,742 213.1,744.4 216.4,747 219.8,749.5 220.8,752 222,752 223,749.5 226.4,747 229.7,744.4 228.4,742 224,738.2 221.8,734.6" fill="#b65a1f" stroke="#4a2410" stroke-width="0.35" stroke-linejoin="round"/>
<rect x="220.8" y="742.5" width="1.3" height="3.5" fill="#ffffff" stroke="#555" stroke-width="0.25"/>
<line x1="221.4" y1="751" x2="221.4" y2="759.5" stroke="#111" stroke-width="1.3"/>
<polygon points="249.9,764 249.6,770 247.6,775 243.6,781.6 247.2,786 249.9,789.3 250.5,789.3 253.2,786 256.8,781.6 252.8,775 250.8,770 250.5,764" fill="#b9d4ec" stroke="#4a5a6a" stroke-width="0.35" stroke-linejoin="round"/>
<rect x="249.5" y="779.5" width="1.3" height="4.5" fill="#ffffff" stroke="#555" stroke-width="0.25"/>
<line x1="250.2" y1="763.8" x2="250.2" y2="772.5" stroke="#111" stroke-width="1.2"/>
<text x="284.7" y="650.2" class="pls" style="font-size:10.8px">g</text>
<rect x="298.7" y="656.7" width="58.2" height="10.9" fill="#d3ea8c"/>
<text x="327.8" y="666" text-anchor="middle">MM1</text>
<rect x="359.4" y="656.7" width="40.2" height="10.9" fill="#fba6a5"/>
<text x="379.5" y="666" text-anchor="middle">MM3</text>
<rect x="402.6" y="656.7" width="10.1" height="10.9" fill="#fdc57f"/>
<rect x="415.5" y="656.7" width="43.3" height="10.9" fill="#ee7d10"/>
<text x="437.1" y="666" text-anchor="middle">MM6</text>
<rect x="461.6" y="656.7" width="41.6" height="10.9" fill="#e1c1ef"/>
<text x="482.4" y="666" text-anchor="middle">MM7</text>
<rect x="506" y="656.7" width="56.9" height="10.9" fill="#e580bf"/>
<text x="534.5" y="666" text-anchor="middle">MM8</text>
<rect x="565.6" y="656.7" width="30.3" height="10.9" fill="#b4581e"/>
<text x="580.8" y="666" text-anchor="middle">MM9</text>
<text x="407.6" y="653.6" text-anchor="middle">MM5</text>
<text x="603" y="665.2">Patients</text>
<rect x="298.7" y="671" width="58.2" height="13.3" fill="#fcc7b1"/>
<path d="M298.7 671h0.8v13.3h-0.8zM301.6 671h0.9v13.3h-0.9zM302.5 671h1.2v13.3h-1.2zM318.6 671h1.3v13.3h-1.3zM333 671h2v13.3h-2z" fill="#fddcce"/>
<path d="M299.5 671h1.3v13.3h-1.3zM300.8 671h0.9v13.3h-0.9zM304.5 671h1.8v13.3h-1.8zM307.9 671h1.8v13.3h-1.8zM311.6 671h1.2v13.3h-1.2zM324.2 671h0.8v13.3h-0.8zM326.7 671h1.4v13.3h-1.4zM328.1 671h2v13.3h-2z" fill="#fbbca3"/>
<path d="M303.6 671h0.9v13.3h-0.9zM315.1 671h1.4v13.3h-1.4zM331.6 671h1.4v13.3h-1.4zM334.9 671h1.5v13.3h-1.5zM336.3 671h1.1v13.3h-1.1zM337.4 671h1.5v13.3h-1.5zM338.9 671h1.7v13.3h-1.7zM343.4 671h1.8v13.3h-1.8zM347.1 671h1.5v13.3h-1.5zM348.5 671h1v13.3h-1zM349.4 671h1.8v13.3h-1.8zM352.2 671h1.2v13.3h-1.2zM354.4 671h1.1v13.3h-1.1zM355.5 671h1.2v13.3h-1.2zM356.7 671h0.3v13.3h-0.3z" fill="#fcc8b2"/>
<path d="M306.2 671h1.8v13.3h-1.8zM319.9 671h1.8v13.3h-1.8zM342.1 671h1.4v13.3h-1.4z" fill="#f9a586"/>
<path d="M309.7 671h0.9v13.3h-0.9zM310.6 671h1v13.3h-1zM312.8 671h0.9v13.3h-0.9zM313.7 671h1.5v13.3h-1.5zM316.4 671h1.4v13.3h-1.4zM323.1 671h1.2v13.3h-1.2zM324.9 671h1.1v13.3h-1.1zM330.1 671h1.6v13.3h-1.6zM345.1 671h1.1v13.3h-1.1zM346.2 671h1v13.3h-1z" fill="#fcd2c0"/>
<path d="M317.7 671h0.9v13.3h-0.9zM325.9 671h0.9v13.3h-0.9zM351.1 671h1.1v13.3h-1.1z" fill="#fde6dc"/>
<path d="M321.6 671h1.5v13.3h-1.5z" fill="#fbece8"/>
<path d="M340.5 671h1.6v13.3h-1.6zM353.4 671h1.1v13.3h-1.1z" fill="#fab195"/>
<rect x="359.4" y="671" width="40.2" height="13.3" fill="#dcccf4"/>
<path d="M359.4 671h1v13.3h-1zM362.1 671h1.4v13.3h-1.4zM368.3 671h1.2v13.3h-1.2zM373.6 671h1.4v13.3h-1.4zM377.8 671h1.5v13.3h-1.5zM384.7 671h1.1v13.3h-1.1zM392 671h1.2v13.3h-1.2zM396.6 671h1.5v13.3h-1.5z" fill="#e2d5f6"/>
<path d="M360.4 671h1v13.3h-1z" fill="#fbece8"/>
<path d="M361.3 671h0.9v13.3h-0.9zM366.4 671h1.1v13.3h-1.1zM372.1 671h1.6v13.3h-1.6zM376.6 671h1.2v13.3h-1.2zM380.8 671h1.5v13.3h-1.5zM385.8 671h1.3v13.3h-1.3zM387.1 671h1.5v13.3h-1.5zM390 671h2v13.3h-2zM394.9 671h1.8v13.3h-1.8z" fill="#d7c5f3"/>
<path d="M363.5 671h1.8v13.3h-1.8zM375 671h1.7v13.3h-1.7zM379.3 671h1.6v13.3h-1.6zM398.1 671h1.5v13.3h-1.5z" fill="#cbb6ee"/>
<path d="M365.2 671h1.3v13.3h-1.3zM382.3 671h1.2v13.3h-1.2z" fill="#eee5f8"/>
<path d="M367.5 671h0.8v13.3h-0.8zM369.4 671h1.8v13.3h-1.8zM388.5 671h1.6v13.3h-1.6z" fill="#b398e3"/>
<path d="M371.2 671h0.9v13.3h-0.9zM383.5 671h1.3v13.3h-1.3z" fill="#bfa7e8"/>
<path d="M393.2 671h1.8v13.3h-1.8z" fill="#f9f2f4"/>
<rect x="402.6" y="671" width="10.1" height="13.3" fill="#fcc7b1"/>
<path d="M402.6 671h1.9v13.3h-1.9zM405.7 671h1.5v13.3h-1.5zM411.2 671h0.8v13.3h-0.8z" fill="#fbbca3"/>
<path d="M404.4 671h1.3v13.3h-1.3z" fill="#fbece8"/>
<path d="M407.1 671h0.8v13.3h-0.8z" fill="#fddcce"/>
<path d="M407.9 671h1.4v13.3h-1.4z" fill="#fcc8b2"/>
<path d="M409.2 671h2v13.3h-2z" fill="#fcd2c0"/>
<path d="M412 671h0.8v13.3h-0.8z" fill="#f89c7c"/>
<rect x="415.5" y="671" width="43.3" height="13.3" fill="#fbbda4"/>
<path d="M415.5 671h1.8v13.3h-1.8zM419.1 671h1.8v13.3h-1.8zM425.9 671h1.7v13.3h-1.7zM427.6 671h1.9v13.3h-1.9zM432.1 671h1.8v13.3h-1.8zM437.4 671h2v13.3h-2zM440.4 671h1.9v13.3h-1.9zM443.4 671h2v13.3h-2zM448.4 671h1.5v13.3h-1.5zM456.6 671h1v13.3h-1zM457.6 671h1.3v13.3h-1.3z" fill="#fab195"/>
<path d="M417.3 671h1.9v13.3h-1.9zM420.8 671h1.2v13.3h-1.2zM423.2 671h2v13.3h-2zM439.3 671h1.2v13.3h-1.2zM445.4 671h1.9v13.3h-1.9zM452.2 671h0.9v13.3h-0.9z" fill="#fbbca3"/>
<path d="M421.9 671h1.3v13.3h-1.3zM425.1 671h0.9v13.3h-0.9zM430.3 671h1.9v13.3h-1.9zM447.3 671h1.2v13.3h-1.2zM449.8 671h1.5v13.3h-1.5zM454.3 671h1.6v13.3h-1.6zM455.9 671h0.8v13.3h-0.8z" fill="#fcc8b2"/>
<path d="M429.5 671h0.9v13.3h-0.9zM433.9 671h2v13.3h-2zM442.3 671h1.2v13.3h-1.2zM451.2 671h1v13.3h-1z" fill="#fcd2c0"/>
<path d="M435.8 671h1.7v13.3h-1.7z" fill="#fddcce"/>
<path d="M453.1 671h1.3v13.3h-1.3z" fill="#f9a586"/>
<rect x="461.6" y="671" width="41.6" height="13.3" fill="#baa0e6"/>
<path d="M461.6 671h0.8v13.3h-0.8zM462.3 671h2v13.3h-2zM464.3 671h1.5v13.3h-1.5zM473 671h1.7v13.3h-1.7zM475.7 671h0.9v13.3h-0.9zM477.6 671h0.9v13.3h-0.9zM489.8 671h0.9v13.3h-0.9zM492.8 671h1.7v13.3h-1.7z" fill="#a98ee0"/>
<path d="M465.7 671h0.9v13.3h-0.9zM496.5 671h0.9v13.3h-0.9zM497.3 671h1.2v13.3h-1.2z" fill="#cbb6ee"/>
<path d="M466.5 671h1.7v13.3h-1.7zM484.3 671h0.9v13.3h-0.9zM494.5 671h2v13.3h-2z" fill="#a083dd"/>
<path d="M468.1 671h2v13.3h-2zM474.6 671h1.1v13.3h-1.1zM476.6 671h1.1v13.3h-1.1zM481.6 671h1.7v13.3h-1.7zM483.3 671h1v13.3h-1zM485.1 671h0.9v13.3h-0.9zM486 671h1v13.3h-1zM490.6 671h1.2v13.3h-1.2zM491.7 671h1.2v13.3h-1.2zM498.4 671h1.4v13.3h-1.4zM500.7 671h0.8v13.3h-0.8z" fill="#b398e3"/>
<path d="M470.1 671h1.7v13.3h-1.7zM471.7 671h1.3v13.3h-1.3zM478.4 671h0.8v13.3h-0.8zM479.1 671h1.5v13.3h-1.5zM480.5 671h1.2v13.3h-1.2zM487 671h1.4v13.3h-1.4zM488.4 671h1.5v13.3h-1.5zM499.8 671h1v13.3h-1zM501.4 671h1.8v13.3h-1.8z" fill="#bfa7e8"/>
<rect x="506" y="671" width="56.9" height="13.3" fill="#fcc7b1"/>
<path d="M506 671h1v13.3h-1zM518.4 671h1.2v13.3h-1.2zM523.7 671h1.3v13.3h-1.3zM542.3 671h1.5v13.3h-1.5zM546.6 671h0.8v13.3h-0.8zM549.8 671h1.8v13.3h-1.8zM551.6 671h1v13.3h-1zM556.3 671h1.5v13.3h-1.5zM560.9 671h1.9v13.3h-1.9z" fill="#fcd2c0"/>
<path d="M506.9 671h1.5v13.3h-1.5zM513.3 671h1.4v13.3h-1.4zM516.3 671h0.8v13.3h-0.8zM519.5 671h1.4v13.3h-1.4zM520.8 671h1.9v13.3h-1.9zM539.4 671h1.5v13.3h-1.5zM540.9 671h1.5v13.3h-1.5z" fill="#fab195"/>
<path d="M508.4 671h1v13.3h-1zM509.3 671h1.1v13.3h-1.1zM510.4 671h1.5v13.3h-1.5zM522.7 671h1v13.3h-1zM524.9 671h1v13.3h-1zM529.1 671h1.7v13.3h-1.7zM531.8 671h1.3v13.3h-1.3zM533.1 671h1.6v13.3h-1.6zM536.1 671h1.5v13.3h-1.5zM549 671h0.9v13.3h-0.9zM553.9 671h1.2v13.3h-1.2zM562.8 671h0.2v13.3h-0.2z" fill="#fcc8b2"/>
<path d="M511.9 671h1.5v13.3h-1.5zM530.8 671h1v13.3h-1z" fill="#f9a586"/>
<path d="M514.6 671h1.7v13.3h-1.7zM525.9 671h1.7v13.3h-1.7zM544.9 671h1.7v13.3h-1.7zM555.1 671h1.3v13.3h-1.3zM559.1 671h1.8v13.3h-1.8z" fill="#fddcce"/>
<path d="M517 671h1.4v13.3h-1.4zM527.6 671h1.6v13.3h-1.6zM534.6 671h1.6v13.3h-1.6zM537.5 671h1.9v13.3h-1.9zM543.7 671h1.2v13.3h-1.2zM547.4 671h1.7v13.3h-1.7zM552.5 671h1.4v13.3h-1.4zM557.8 671h1.4v13.3h-1.4z" fill="#fbbca3"/>
<rect x="565.6" y="671" width="30.3" height="13.3" fill="#fde0d4"/>
<path d="M565.6 671h1.5v13.3h-1.5z" fill="#e2d5f6"/>
<path d="M567 671h1.3v13.3h-1.3zM574.2 671h0.8v13.3h-0.8zM581.4 671h1.5v13.3h-1.5zM584.6 671h1.6v13.3h-1.6zM586.2 671h1.7v13.3h-1.7zM594.4 671h0.9v13.3h-0.9z" fill="#fbece8"/>
<path d="M568.3 671h0.8v13.3h-0.8zM571.7 671h1.9v13.3h-1.9zM577.5 671h2v13.3h-2z" fill="#f9f2f4"/>
<path d="M569 671h1.7v13.3h-1.7z" fill="#eee5f8"/>
<path d="M570.7 671h1v13.3h-1zM589.2 671h1.2v13.3h-1.2zM591.3 671h1.7v13.3h-1.7zM595.3 671h0.7v13.3h-0.7z" fill="#fde6dc"/>
<path d="M573.5 671h0.8v13.3h-0.8zM579.4 671h2v13.3h-2zM593 671h1.5v13.3h-1.5z" fill="#fcd2c0"/>
<path d="M574.9 671h1.3v13.3h-1.3zM582.9 671h1.8v13.3h-1.8z" fill="#fcc8b2"/>
<path d="M576.2 671h1.4v13.3h-1.4zM587.8 671h1.5v13.3h-1.5zM590.4 671h0.9v13.3h-0.9z" fill="#fddcce"/>
<rect x="298.7" y="684.3" width="58.2" height="13.3" fill="#fcd5c4"/>
<path d="M298.7 684.3h1.7v13.3h-1.7zM316.3 684.3h1.3v13.3h-1.3zM318.5 684.3h0.9v13.3h-0.9zM324 684.3h0.9v13.3h-0.9zM326.8 684.3h1.2v13.3h-1.2zM327.9 684.3h1.4v13.3h-1.4zM329.3 684.3h1v13.3h-1zM339.9 684.3h2v13.3h-2zM342.7 684.3h1.6v13.3h-1.6z" fill="#fcc8b2"/>
<path d="M300.4 684.3h1.1v13.3h-1.1zM301.5 684.3h1.9v13.3h-1.9zM306.2 684.3h1.4v13.3h-1.4zM310.8 684.3h1.9v13.3h-1.9zM312.6 684.3h0.9v13.3h-0.9zM314.8 684.3h0.8v13.3h-0.8zM315.5 684.3h0.9v13.3h-0.9zM317.6 684.3h0.9v13.3h-0.9zM319.3 684.3h1.9v13.3h-1.9zM321.2 684.3h0.9v13.3h-0.9zM332.5 684.3h0.9v13.3h-0.9zM335 684.3h1.6v13.3h-1.6zM338 684.3h2v13.3h-2zM345.9 684.3h1.1v13.3h-1.1zM350.4 684.3h1.5v13.3h-1.5zM354.9 684.3h1.9v13.3h-1.9z" fill="#fcd2c0"/>
<path d="M303.3 684.3h0.9v13.3h-0.9zM307.6 684.3h1.3v13.3h-1.3zM308.9 684.3h1.9v13.3h-1.9zM344.3 684.3h1.7v13.3h-1.7zM347 684.3h2v13.3h-2zM349 684.3h1.5v13.3h-1.5zM351.8 684.3h1.6v13.3h-1.6zM353.3 684.3h1.6v13.3h-1.6z" fill="#fde6dc"/>
<path d="M304.1 684.3h1.1v13.3h-1.1zM334.3 684.3h0.8v13.3h-0.8z" fill="#fbece8"/>
<path d="M305.2 684.3h1v13.3h-1zM330.3 684.3h1v13.3h-1z" fill="#fbbca3"/>
<path d="M313.5 684.3h1.3v13.3h-1.3zM322.1 684.3h1.9v13.3h-1.9zM324.8 684.3h1.1v13.3h-1.1zM325.8 684.3h1v13.3h-1zM331.2 684.3h1.4v13.3h-1.4zM333.4 684.3h1v13.3h-1zM336.6 684.3h1.5v13.3h-1.5zM341.9 684.3h0.9v13.3h-0.9zM356.7 684.3h0.2v13.3h-0.2z" fill="#fddcce"/>
<rect x="359.4" y="684.3" width="40.2" height="13.3" fill="#f9f2f4"/>
<path d="M359.4 684.3h1.6v13.3h-1.6zM390.9 684.3h1.7v13.3h-1.7zM394.6 684.3h1.6v13.3h-1.6z" fill="#e2d5f6"/>
<path d="M360.9 684.3h1.9v13.3h-1.9zM362.8 684.3h0.8v13.3h-0.8zM363.5 684.3h1.9v13.3h-1.9zM365.4 684.3h2v13.3h-2zM367.3 684.3h1.4v13.3h-1.4zM370.3 684.3h1.2v13.3h-1.2zM371.5 684.3h2v13.3h-2zM373.4 684.3h1.3v13.3h-1.3zM377.3 684.3h1.1v13.3h-1.1zM378.3 684.3h1.4v13.3h-1.4zM379.7 684.3h2v13.3h-2zM386.2 684.3h1.9v13.3h-1.9zM389.3 684.3h1.7v13.3h-1.7zM393.8 684.3h0.9v13.3h-0.9z" fill="#f9f2f4"/>
<path d="M368.6 684.3h1.7v13.3h-1.7zM381.7 684.3h1.1v13.3h-1.1zM397.7 684.3h1.4v13.3h-1.4zM399 684.3h0.6v13.3h-0.6z" fill="#fbece8"/>
<path d="M374.7 684.3h0.9v13.3h-0.9zM382.7 684.3h1.9v13.3h-1.9zM384.6 684.3h1.7v13.3h-1.7z" fill="#fde6dc"/>
<path d="M375.6 684.3h1.8v13.3h-1.8zM388 684.3h1.3v13.3h-1.3zM392.6 684.3h1.2v13.3h-1.2z" fill="#eee5f8"/>
<path d="M396.1 684.3h1.6v13.3h-1.6z" fill="#fddcce"/>
<rect x="402.6" y="684.3" width="10.1" height="13.3" fill="#f0e7f7"/>
<path d="M402.6 684.3h1v13.3h-1z" fill="#fde6dc"/>
<path d="M403.6 684.3h1.3v13.3h-1.3zM406.8 684.3h1.7v13.3h-1.7zM408.4 684.3h1.1v13.3h-1.1zM412.6 684.3h0.1v13.3h-0.1z" fill="#f9f2f4"/>
<path d="M404.8 684.3h0.9v13.3h-0.9zM411.3 684.3h1.4v13.3h-1.4z" fill="#eee5f8"/>
<path d="M405.7 684.3h1.2v13.3h-1.2zM409.4 684.3h1.9v13.3h-1.9z" fill="#e2d5f6"/>
<rect x="415.5" y="684.3" width="43.3" height="13.3" fill="#bea6e8"/>
<path d="M415.5 684.3h0.8v13.3h-0.8zM417.7 684.3h2v13.3h-2zM432.7 684.3h1.7v13.3h-1.7zM435.5 684.3h1.4v13.3h-1.4zM438.2 684.3h1.2v13.3h-1.2zM440.1 684.3h1.3v13.3h-1.3zM452.2 684.3h1.9v13.3h-1.9z" fill="#b398e3"/>
<path d="M416.2 684.3h1.5v13.3h-1.5zM422.3 684.3h1.3v13.3h-1.3zM439.3 684.3h0.9v13.3h-0.9zM442.3 684.3h1.3v13.3h-1.3zM445.5 684.3h1.2v13.3h-1.2zM446.6 684.3h1.7v13.3h-1.7zM450.3 684.3h1.1v13.3h-1.1zM457 684.3h1.9v13.3h-1.9z" fill="#cbb6ee"/>
<path d="M419.6 684.3h1.2v13.3h-1.2zM420.8 684.3h1.5v13.3h-1.5zM425.1 684.3h0.8v13.3h-0.8zM425.8 684.3h1.6v13.3h-1.6zM427.4 684.3h1.7v13.3h-1.7zM429 684.3h1.7v13.3h-1.7zM430.7 684.3h2v13.3h-2zM434.3 684.3h1.3v13.3h-1.3zM436.8 684.3h1.4v13.3h-1.4zM441.4 684.3h0.9v13.3h-0.9zM443.5 684.3h2v13.3h-2zM448.3 684.3h2v13.3h-2zM451.3 684.3h1v13.3h-1zM454 684.3h1.3v13.3h-1.3zM455.3 684.3h1.8v13.3h-1.8z" fill="#bfa7e8"/>
<path d="M423.5 684.3h1.6v13.3h-1.6z" fill="#a98ee0"/>
<rect x="461.6" y="684.3" width="41.6" height="13.3" fill="#eadff7"/>
<path d="M461.6 684.3h1.7v13.3h-1.7zM465.3 684.3h1.4v13.3h-1.4zM466.6 684.3h1.6v13.3h-1.6zM470.7 684.3h1.3v13.3h-1.3zM472.7 684.3h1.2v13.3h-1.2zM473.9 684.3h1.2v13.3h-1.2zM481.4 684.3h0.9v13.3h-0.9zM484.1 684.3h1.3v13.3h-1.3zM485.4 684.3h0.8v13.3h-0.8zM486.2 684.3h1.8v13.3h-1.8zM497 684.3h1.6v13.3h-1.6zM498.5 684.3h0.9v13.3h-0.9zM502.5 684.3h0.7v13.3h-0.7z" fill="#e2d5f6"/>
<path d="M463.2 684.3h1v13.3h-1zM468.2 684.3h1.4v13.3h-1.4zM483.2 684.3h1v13.3h-1z" fill="#f9f2f4"/>
<path d="M464.2 684.3h1.2v13.3h-1.2zM469.5 684.3h1.2v13.3h-1.2zM476.9 684.3h1.9v13.3h-1.9zM478.7 684.3h1.3v13.3h-1.3zM480 684.3h1.5v13.3h-1.5zM488 684.3h1.5v13.3h-1.5zM490.4 684.3h0.9v13.3h-0.9zM491.3 684.3h1.9v13.3h-1.9zM494.8 684.3h0.8v13.3h-0.8zM501 684.3h1.5v13.3h-1.5z" fill="#eee5f8"/>
<path d="M471.9 684.3h0.8v13.3h-0.8zM493.8 684.3h1v13.3h-1zM499.4 684.3h1.7v13.3h-1.7z" fill="#d7c5f3"/>
<path d="M475 684.3h2v13.3h-2zM482.2 684.3h1.1v13.3h-1.1z" fill="#bfa7e8"/>
<path d="M489.4 684.3h1.1v13.3h-1.1z" fill="#cbb6ee"/>
<path d="M493.1 684.3h0.8v13.3h-0.8zM495.5 684.3h1.6v13.3h-1.6z" fill="#fbece8"/>
<rect x="506" y="684.3" width="56.9" height="13.3" fill="#fde0d4"/>
<path d="M506 684.3h1.7v13.3h-1.7zM520.1 684.3h1.3v13.3h-1.3zM524.3 684.3h1.8v13.3h-1.8zM526.1 684.3h1.6v13.3h-1.6zM549.5 684.3h1.5v13.3h-1.5zM553.7 684.3h1v13.3h-1zM559.5 684.3h2v13.3h-2z" fill="#fcd2c0"/>
<path d="M507.6 684.3h0.9v13.3h-0.9zM509.2 684.3h1.4v13.3h-1.4zM514.4 684.3h0.9v13.3h-0.9zM516.7 684.3h0.8v13.3h-0.8zM521.4 684.3h1.6v13.3h-1.6zM527.6 684.3h1.5v13.3h-1.5zM529.1 684.3h1.4v13.3h-1.4zM535.1 684.3h1.6v13.3h-1.6zM547.9 684.3h1.6v13.3h-1.6zM554.7 684.3h1.4v13.3h-1.4z" fill="#fddcce"/>
<path d="M508.5 684.3h0.8v13.3h-0.8zM510.6 684.3h1.2v13.3h-1.2zM513.6 684.3h0.8v13.3h-0.8zM515.2 684.3h1.5v13.3h-1.5zM536.7 684.3h1.4v13.3h-1.4zM542.3 684.3h1.6v13.3h-1.6zM552.4 684.3h1.3v13.3h-1.3zM556.1 684.3h1.7v13.3h-1.7zM557.8 684.3h1.8v13.3h-1.8z" fill="#fde6dc"/>
<path d="M511.7 684.3h1.9v13.3h-1.9zM532.1 684.3h1.6v13.3h-1.6zM533.6 684.3h1.5v13.3h-1.5z" fill="#fbece8"/>
<path d="M517.5 684.3h1.1v13.3h-1.1zM522.9 684.3h1.5v13.3h-1.5zM530.4 684.3h1.7v13.3h-1.7zM539.9 684.3h1v13.3h-1zM543.9 684.3h1.4v13.3h-1.4zM550.9 684.3h1.6v13.3h-1.6z" fill="#fcc8b2"/>
<path d="M518.5 684.3h1.7v13.3h-1.7zM538 684.3h2v13.3h-2zM546.8 684.3h1.2v13.3h-1.2zM561.5 684.3h1.5v13.3h-1.5z" fill="#eee5f8"/>
<path d="M540.8 684.3h1.6v13.3h-1.6z" fill="#f9f2f4"/>
<path d="M545.3 684.3h1.6v13.3h-1.6z" fill="#e2d5f6"/>
<rect x="565.6" y="684.3" width="30.3" height="13.3" fill="#faaf93"/>
<path d="M565.6 684.3h1.1v13.3h-1.1zM574.8 684.3h1.6v13.3h-1.6zM579.6 684.3h1.6v13.3h-1.6zM582 684.3h1.8v13.3h-1.8zM583.8 684.3h1.1v13.3h-1.1zM584.8 684.3h0.8v13.3h-0.8zM587.5 684.3h1.9v13.3h-1.9zM589.4 684.3h1.5v13.3h-1.5zM590.9 684.3h1.9v13.3h-1.9zM592.7 684.3h0.8v13.3h-0.8zM593.5 684.3h1.6v13.3h-1.6z" fill="#fab195"/>
<path d="M566.6 684.3h0.9v13.3h-0.9zM568.6 684.3h1.5v13.3h-1.5zM572 684.3h1.5v13.3h-1.5zM573.5 684.3h1.3v13.3h-1.3zM581.2 684.3h0.9v13.3h-0.9zM595.1 684.3h0.8v13.3h-0.8z" fill="#f9a586"/>
<path d="M567.4 684.3h1.3v13.3h-1.3zM576.3 684.3h1.9v13.3h-1.9zM578.1 684.3h1.6v13.3h-1.6zM585.6 684.3h2v13.3h-2z" fill="#fbbca3"/>
<path d="M570.1 684.3h2v13.3h-2z" fill="#f89c7c"/>
<rect x="298.7" y="697.6" width="58.2" height="13.3" fill="#dcccf4"/>
<path d="M298.7 697.6h1v13.3h-1zM303.8 697.6h2v13.3h-2zM307.4 697.6h1.8v13.3h-1.8zM313.6 697.6h1.3v13.3h-1.3zM316.4 697.6h1.3v13.3h-1.3zM318.6 697.6h1v13.3h-1zM321.8 697.6h1.2v13.3h-1.2zM323 697.6h1.5v13.3h-1.5zM324.5 697.6h1.9v13.3h-1.9zM326.3 697.6h1.5v13.3h-1.5zM327.7 697.6h1.8v13.3h-1.8zM332.8 697.6h1.3v13.3h-1.3zM338.5 697.6h1.3v13.3h-1.3zM344.1 697.6h1.2v13.3h-1.2zM349.2 697.6h1.6v13.3h-1.6zM354.3 697.6h1.2v13.3h-1.2zM355.4 697.6h1.5v13.3h-1.5z" fill="#e2d5f6"/>
<path d="M299.6 697.6h1.6v13.3h-1.6zM301.2 697.6h0.9v13.3h-0.9zM302 697.6h1.8v13.3h-1.8zM305.7 697.6h0.9v13.3h-0.9zM306.5 697.6h1v13.3h-1zM309.2 697.6h2v13.3h-2zM311.1 697.6h1.2v13.3h-1.2zM312.2 697.6h1.4v13.3h-1.4zM317.7 697.6h0.9v13.3h-0.9zM320.9 697.6h1v13.3h-1zM331.1 697.6h0.9v13.3h-0.9zM331.9 697.6h1v13.3h-1zM335.2 697.6h1.3v13.3h-1.3zM336.4 697.6h1.4v13.3h-1.4zM339.8 697.6h1.9v13.3h-1.9zM345.3 697.6h0.8v13.3h-0.8zM346.1 697.6h1.7v13.3h-1.7zM347.7 697.6h1.5v13.3h-1.5zM350.7 697.6h1.7v13.3h-1.7z" fill="#d7c5f3"/>
<path d="M314.8 697.6h1.7v13.3h-1.7zM329.5 697.6h1.6v13.3h-1.6zM341.6 697.6h1.6v13.3h-1.6z" fill="#eee5f8"/>
<path d="M319.6 697.6h1.4v13.3h-1.4zM334.1 697.6h1.1v13.3h-1.1zM343.2 697.6h1v13.3h-1zM352.4 697.6h2v13.3h-2z" fill="#cbb6ee"/>
<path d="M337.7 697.6h0.8v13.3h-0.8z" fill="#bfa7e8"/>
<rect x="359.4" y="697.6" width="40.2" height="13.3" fill="#eadff7"/>
<path d="M359.4 697.6h1.2v13.3h-1.2zM363.9 697.6h1.2v13.3h-1.2zM365 697.6h1.4v13.3h-1.4zM367.5 697.6h1.7v13.3h-1.7zM369.1 697.6h1.5v13.3h-1.5zM383.1 697.6h1.4v13.3h-1.4zM391.3 697.6h1v13.3h-1zM392.2 697.6h2v13.3h-2zM395.8 697.6h1.7v13.3h-1.7zM397.4 697.6h1.5v13.3h-1.5z" fill="#eee5f8"/>
<path d="M360.6 697.6h1.4v13.3h-1.4zM373.7 697.6h0.8v13.3h-0.8zM374.4 697.6h1.3v13.3h-1.3zM379.6 697.6h1.1v13.3h-1.1zM385.6 697.6h1.2v13.3h-1.2z" fill="#f9f2f4"/>
<path d="M361.9 697.6h2v13.3h-2zM366.3 697.6h1.3v13.3h-1.3zM370.6 697.6h0.8v13.3h-0.8zM371.3 697.6h0.9v13.3h-0.9zM372.2 697.6h1.6v13.3h-1.6zM386.7 697.6h1.7v13.3h-1.7zM398.9 697.6h0.7v13.3h-0.7z" fill="#d7c5f3"/>
<path d="M375.6 697.6h1.9v13.3h-1.9zM377.5 697.6h1.4v13.3h-1.4zM382.2 697.6h1v13.3h-1z" fill="#e2d5f6"/>
<path d="M378.8 697.6h0.9v13.3h-0.9z" fill="#b398e3"/>
<path d="M380.7 697.6h1.5v13.3h-1.5z" fill="#fde6dc"/>
<path d="M384.5 697.6h1.1v13.3h-1.1zM394.1 697.6h1.7v13.3h-1.7z" fill="#fbece8"/>
<path d="M388.4 697.6h1.9v13.3h-1.9z" fill="#cbb6ee"/>
<path d="M390.3 697.6h1v13.3h-1z" fill="#bfa7e8"/>
<rect x="402.6" y="697.6" width="10.1" height="13.3" fill="#fbedea"/>
<path d="M402.6 697.6h0.9v13.3h-0.9z" fill="#eee5f8"/>
<path d="M403.4 697.6h1.9v13.3h-1.9zM405.2 697.6h1.5v13.3h-1.5zM406.6 697.6h1.6v13.3h-1.6z" fill="#fbece8"/>
<path d="M408.1 697.6h1.2v13.3h-1.2zM410.8 697.6h0.8v13.3h-0.8zM411.6 697.6h1.2v13.3h-1.2z" fill="#fddcce"/>
<path d="M409.3 697.6h1.5v13.3h-1.5z" fill="#f9f2f4"/>
<rect x="415.5" y="697.6" width="43.3" height="13.3" fill="#fdd8c8"/>
<path d="M415.5 697.6h1.2v13.3h-1.2zM417.8 697.6h0.8v13.3h-0.8zM425.1 697.6h2v13.3h-2zM435.9 697.6h0.9v13.3h-0.9zM436.7 697.6h2v13.3h-2zM440.4 697.6h2v13.3h-2zM444 697.6h1.9v13.3h-1.9zM450.6 697.6h1v13.3h-1zM453.3 697.6h1.1v13.3h-1.1zM454.3 697.6h0.9v13.3h-0.9z" fill="#fddcce"/>
<path d="M416.6 697.6h1.2v13.3h-1.2zM418.6 697.6h1v13.3h-1zM419.5 697.6h1.4v13.3h-1.4zM421.8 697.6h0.9v13.3h-0.9zM422.6 697.6h1.7v13.3h-1.7zM428.7 697.6h1v13.3h-1zM429.6 697.6h1.8v13.3h-1.8zM431.4 697.6h1.8v13.3h-1.8zM455.1 697.6h0.8v13.3h-0.8zM456.7 697.6h1.5v13.3h-1.5zM458.2 697.6h0.7v13.3h-0.7z" fill="#fcd2c0"/>
<path d="M420.9 697.6h1v13.3h-1zM427 697.6h1.7v13.3h-1.7zM434.9 697.6h1.1v13.3h-1.1zM438.7 697.6h1.8v13.3h-1.8zM447.2 697.6h1.7v13.3h-1.7zM451.6 697.6h1.7v13.3h-1.7zM455.9 697.6h0.8v13.3h-0.8z" fill="#fde6dc"/>
<path d="M424.3 697.6h0.9v13.3h-0.9zM433.2 697.6h1v13.3h-1zM442.4 697.6h1.7v13.3h-1.7z" fill="#fbbca3"/>
<path d="M434.1 697.6h0.8v13.3h-0.8zM445.9 697.6h1.3v13.3h-1.3zM448.8 697.6h1.9v13.3h-1.9z" fill="#fcc8b2"/>
<rect x="461.6" y="697.6" width="41.6" height="13.3" fill="#f9f2f4"/>
<path d="M461.6 697.6h1.5v13.3h-1.5zM470.5 697.6h1.5v13.3h-1.5zM471.9 697.6h1.5v13.3h-1.5zM473.4 697.6h0.8v13.3h-0.8zM477.1 697.6h1.7v13.3h-1.7zM482.9 697.6h1.2v13.3h-1.2zM493.4 697.6h1.7v13.3h-1.7zM495.9 697.6h0.8v13.3h-0.8zM499.3 697.6h1v13.3h-1z" fill="#fbece8"/>
<path d="M463 697.6h1.2v13.3h-1.2zM478.7 697.6h1v13.3h-1zM479.7 697.6h0.8v13.3h-0.8zM485.4 697.6h1.6v13.3h-1.6zM495 697.6h0.9v13.3h-0.9z" fill="#f9f2f4"/>
<path d="M464.2 697.6h1.2v13.3h-1.2zM498.3 697.6h1v13.3h-1z" fill="#eee5f8"/>
<path d="M465.3 697.6h1.5v13.3h-1.5zM500.2 697.6h0.8v13.3h-0.8z" fill="#d7c5f3"/>
<path d="M466.8 697.6h1.9v13.3h-1.9z" fill="#cbb6ee"/>
<path d="M468.6 697.6h1.9v13.3h-1.9zM480.4 697.6h1v13.3h-1zM481.4 697.6h1.6v13.3h-1.6zM484.1 697.6h1.4v13.3h-1.4zM487 697.6h1.3v13.3h-1.3zM488.9 697.6h1.9v13.3h-1.9zM490.8 697.6h1.1v13.3h-1.1zM491.9 697.6h1.6v13.3h-1.6zM496.6 697.6h1.7v13.3h-1.7zM501 697.6h1.9v13.3h-1.9z" fill="#fde6dc"/>
<path d="M474.1 697.6h1.6v13.3h-1.6z" fill="#fddcce"/>
<path d="M475.6 697.6h1.6v13.3h-1.6zM488.2 697.6h0.8v13.3h-0.8zM502.8 697.6h0.5v13.3h-0.5z" fill="#e2d5f6"/>
<rect x="506" y="697.6" width="56.9" height="13.3" fill="#fcd0bc"/>
<path d="M506 697.6h1v13.3h-1zM508.2 697.6h1v13.3h-1zM512 697.6h0.9v13.3h-0.9zM513.9 697.6h1.7v13.3h-1.7zM515.5 697.6h1.3v13.3h-1.3zM517.8 697.6h1.4v13.3h-1.4zM522 697.6h1.5v13.3h-1.5zM523.4 697.6h1v13.3h-1zM526.2 697.6h1v13.3h-1zM527.2 697.6h1.3v13.3h-1.3zM530.7 697.6h1v13.3h-1zM535.8 697.6h0.9v13.3h-0.9zM541.5 697.6h1.1v13.3h-1.1zM547.9 697.6h0.8v13.3h-0.8zM548.6 697.6h1.7v13.3h-1.7zM553.9 697.6h1.1v13.3h-1.1zM556.6 697.6h1v13.3h-1zM562.5 697.6h0.4v13.3h-0.4z" fill="#fcd2c0"/>
<path d="M506.9 697.6h1.4v13.3h-1.4zM512.9 697.6h1v13.3h-1zM524.4 697.6h1.9v13.3h-1.9zM531.6 697.6h1.1v13.3h-1.1zM532.7 697.6h1.2v13.3h-1.2zM537.8 697.6h1.2v13.3h-1.2zM538.9 697.6h1.7v13.3h-1.7zM542.5 697.6h1.4v13.3h-1.4zM547 697.6h0.9v13.3h-0.9z" fill="#fddcce"/>
<path d="M509.2 697.6h1.9v13.3h-1.9zM511 697.6h1.1v13.3h-1.1zM516.7 697.6h1.1v13.3h-1.1zM519.1 697.6h1.4v13.3h-1.4zM520.4 697.6h1.6v13.3h-1.6zM528.4 697.6h1v13.3h-1zM529.3 697.6h1.5v13.3h-1.5zM533.9 697.6h1.2v13.3h-1.2zM535 697.6h0.9v13.3h-0.9zM536.7 697.6h1.2v13.3h-1.2zM540.5 697.6h1v13.3h-1zM545.6 697.6h1.5v13.3h-1.5zM550.3 697.6h2v13.3h-2zM552.2 697.6h1.7v13.3h-1.7zM558.4 697.6h1.4v13.3h-1.4zM560.6 697.6h2v13.3h-2z" fill="#fcc8b2"/>
<path d="M543.9 697.6h1.7v13.3h-1.7zM555 697.6h1.7v13.3h-1.7zM557.6 697.6h0.8v13.3h-0.8zM559.7 697.6h0.9v13.3h-0.9z" fill="#fbbca3"/>
<rect x="565.6" y="697.6" width="30.3" height="13.3" fill="#f0e7f7"/>
<path d="M565.6 697.6h1.3v13.3h-1.3zM571.8 697.6h1.5v13.3h-1.5zM575.3 697.6h0.8v13.3h-0.8zM590.3 697.6h1.4v13.3h-1.4zM595.5 697.6h0.5v13.3h-0.5z" fill="#f9f2f4"/>
<path d="M566.8 697.6h1.5v13.3h-1.5zM569.3 697.6h1v13.3h-1zM576 697.6h1.5v13.3h-1.5z" fill="#e2d5f6"/>
<path d="M568.3 697.6h1.1v13.3h-1.1zM579.2 697.6h1.7v13.3h-1.7zM593.3 697.6h0.8v13.3h-0.8z" fill="#fbece8"/>
<path d="M570.2 697.6h1.6v13.3h-1.6zM574 697.6h1.3v13.3h-1.3zM577.4 697.6h1.8v13.3h-1.8zM580.8 697.6h1.6v13.3h-1.6zM582.4 697.6h1.3v13.3h-1.3zM585 697.6h1.6v13.3h-1.6zM594.1 697.6h1.4v13.3h-1.4z" fill="#eee5f8"/>
<path d="M573.2 697.6h0.9v13.3h-0.9zM583.6 697.6h1.4v13.3h-1.4zM586.5 697.6h1.5v13.3h-1.5zM591.6 697.6h1.8v13.3h-1.8z" fill="#d7c5f3"/>
<path d="M588 697.6h1v13.3h-1z" fill="#cbb6ee"/>
<path d="M589 697.6h1.3v13.3h-1.3z" fill="#fddcce"/>
<rect x="298.7" y="710.8" width="58.2" height="13.3" fill="#fceae4"/>
<path d="M298.7 710.8h1.5v13.3h-1.5zM325.4 710.8h1.1v13.3h-1.1zM337.5 710.8h1.9v13.3h-1.9z" fill="#fddcce"/>
<path d="M300.2 710.8h2v13.3h-2zM302.1 710.8h1.2v13.3h-1.2zM308.7 710.8h1.4v13.3h-1.4zM311.2 710.8h0.8v13.3h-0.8zM312 710.8h1.3v13.3h-1.3zM313.2 710.8h1.2v13.3h-1.2zM316.8 710.8h1.7v13.3h-1.7zM327.6 710.8h1.3v13.3h-1.3zM330.4 710.8h1.7v13.3h-1.7zM339.3 710.8h2v13.3h-2zM346.9 710.8h1.2v13.3h-1.2zM348.1 710.8h1v13.3h-1zM353.6 710.8h2v13.3h-2z" fill="#fbece8"/>
<path d="M303.3 710.8h1.8v13.3h-1.8zM305 710.8h1.3v13.3h-1.3zM307.8 710.8h1v13.3h-1zM318.4 710.8h1.9v13.3h-1.9zM333.4 710.8h1.2v13.3h-1.2zM355.6 710.8h1.4v13.3h-1.4z" fill="#f9f2f4"/>
<path d="M306.3 710.8h1.5v13.3h-1.5zM310.1 710.8h1.2v13.3h-1.2zM320.2 710.8h1v13.3h-1zM322 710.8h1.6v13.3h-1.6zM323.5 710.8h2v13.3h-2zM326.5 710.8h1.1v13.3h-1.1zM332.1 710.8h1.3v13.3h-1.3zM336.1 710.8h1.4v13.3h-1.4zM341.3 710.8h1.9v13.3h-1.9zM343.1 710.8h0.8v13.3h-0.8zM349 710.8h1.7v13.3h-1.7zM351.8 710.8h1.9v13.3h-1.9z" fill="#fde6dc"/>
<path d="M314.3 710.8h1v13.3h-1zM315.3 710.8h1.5v13.3h-1.5zM328.8 710.8h1.6v13.3h-1.6zM334.5 710.8h1.6v13.3h-1.6zM343.8 710.8h1.6v13.3h-1.6zM350.6 710.8h1.2v13.3h-1.2z" fill="#eee5f8"/>
<path d="M321.2 710.8h0.8v13.3h-0.8zM345.4 710.8h1.6v13.3h-1.6z" fill="#fcd2c0"/>
<rect x="359.4" y="710.8" width="40.2" height="13.3" fill="#eadff7"/>
<path d="M359.4 710.8h1v13.3h-1zM361.7 710.8h1.9v13.3h-1.9zM363.5 710.8h0.9v13.3h-0.9zM365.7 710.8h1.5v13.3h-1.5zM367.2 710.8h1.2v13.3h-1.2zM370.1 710.8h1.3v13.3h-1.3zM371.3 710.8h1.7v13.3h-1.7zM387.8 710.8h0.9v13.3h-0.9zM393.2 710.8h1.1v13.3h-1.1z" fill="#d7c5f3"/>
<path d="M360.4 710.8h1.3v13.3h-1.3zM364.4 710.8h1.4v13.3h-1.4zM368.4 710.8h1.8v13.3h-1.8zM378.6 710.8h1.9v13.3h-1.9zM380.4 710.8h1.2v13.3h-1.2zM389.6 710.8h1v13.3h-1z" fill="#f9f2f4"/>
<path d="M373 710.8h1.3v13.3h-1.3zM377.2 710.8h1.5v13.3h-1.5zM388.6 710.8h1.1v13.3h-1.1z" fill="#fde6dc"/>
<path d="M374.3 710.8h1.6v13.3h-1.6zM382.8 710.8h2v13.3h-2zM386 710.8h1.8v13.3h-1.8zM398.1 710.8h1.5v13.3h-1.5z" fill="#e2d5f6"/>
<path d="M375.8 710.8h1.4v13.3h-1.4zM384.7 710.8h1.3v13.3h-1.3zM390.6 710.8h0.9v13.3h-0.9zM391.5 710.8h1.7v13.3h-1.7zM394.2 710.8h1.9v13.3h-1.9zM396 710.8h1.4v13.3h-1.4z" fill="#eee5f8"/>
<path d="M381.6 710.8h1.3v13.3h-1.3z" fill="#fddcce"/>
<path d="M397.3 710.8h0.8v13.3h-0.8z" fill="#cbb6ee"/>
<rect x="402.6" y="710.8" width="10.1" height="13.3" fill="#dcccf4"/>
<path d="M402.6 710.8h2v13.3h-2zM412 710.8h0.8v13.3h-0.8z" fill="#d7c5f3"/>
<path d="M404.5 710.8h1.8v13.3h-1.8zM407.8 710.8h1.8v13.3h-1.8z" fill="#cbb6ee"/>
<path d="M406.3 710.8h1.6v13.3h-1.6zM409.6 710.8h1.5v13.3h-1.5zM411 710.8h1v13.3h-1z" fill="#e2d5f6"/>
<rect x="415.5" y="710.8" width="43.3" height="13.3" fill="#fbbda4"/>
<path d="M415.5 710.8h0.9v13.3h-0.9zM417.7 710.8h1.8v13.3h-1.8zM422.1 710.8h1.7v13.3h-1.7zM428.6 710.8h1.4v13.3h-1.4zM433.5 710.8h1.3v13.3h-1.3zM437.7 710.8h1.5v13.3h-1.5zM440.8 710.8h0.8v13.3h-0.8zM442.3 710.8h1.6v13.3h-1.6zM443.9 710.8h0.9v13.3h-0.9zM447.5 710.8h1.3v13.3h-1.3zM448.7 710.8h1.8v13.3h-1.8zM450.5 710.8h1.6v13.3h-1.6zM453.5 710.8h1.9v13.3h-1.9zM455.3 710.8h0.9v13.3h-0.9zM457.7 710.8h1.2v13.3h-1.2z" fill="#fbbca3"/>
<path d="M416.3 710.8h1.4v13.3h-1.4zM429.9 710.8h1.7v13.3h-1.7zM434.8 710.8h1.3v13.3h-1.3zM436 710.8h1.8v13.3h-1.8zM456.2 710.8h1.6v13.3h-1.6z" fill="#fcc8b2"/>
<path d="M419.5 710.8h0.9v13.3h-0.9zM420.3 710.8h1.8v13.3h-1.8zM425.4 710.8h2v13.3h-2zM427.4 710.8h1.3v13.3h-1.3zM441.5 710.8h0.8v13.3h-0.8zM444.7 710.8h2v13.3h-2zM446.7 710.8h0.8v13.3h-0.8zM452 710.8h1.5v13.3h-1.5z" fill="#fab195"/>
<path d="M423.8 710.8h1.7v13.3h-1.7z" fill="#f89c7c"/>
<path d="M431.6 710.8h2v13.3h-2zM439.1 710.8h1.7v13.3h-1.7z" fill="#fcd2c0"/>
<rect x="461.6" y="710.8" width="41.6" height="13.3" fill="#e2d4f5"/>
<path d="M461.6 710.8h0.9v13.3h-0.9zM471.4 710.8h2v13.3h-2zM474.8 710.8h1.2v13.3h-1.2zM476 710.8h0.8v13.3h-0.8zM480.4 710.8h2v13.3h-2zM484.1 710.8h1.9v13.3h-1.9zM489.8 710.8h0.8v13.3h-0.8zM495.9 710.8h1.8v13.3h-1.8zM500.1 710.8h1.7v13.3h-1.7z" fill="#e2d5f6"/>
<path d="M462.4 710.8h1.8v13.3h-1.8zM485.9 710.8h1.1v13.3h-1.1zM487 710.8h1.2v13.3h-1.2zM488.1 710.8h1.7v13.3h-1.7zM490.5 710.8h1.9v13.3h-1.9zM494.8 710.8h1.1v13.3h-1.1z" fill="#eee5f8"/>
<path d="M464.2 710.8h1.7v13.3h-1.7zM501.8 710.8h1.5v13.3h-1.5z" fill="#fbece8"/>
<path d="M465.8 710.8h1v13.3h-1zM466.8 710.8h1.3v13.3h-1.3zM468 710.8h1.6v13.3h-1.6zM469.6 710.8h1.9v13.3h-1.9zM473.4 710.8h1.5v13.3h-1.5zM476.8 710.8h1.3v13.3h-1.3zM478 710.8h1.1v13.3h-1.1zM482.3 710.8h1.8v13.3h-1.8zM493.4 710.8h1.5v13.3h-1.5zM497.7 710.8h1.1v13.3h-1.1z" fill="#d7c5f3"/>
<path d="M479.1 710.8h1.4v13.3h-1.4zM492.3 710.8h1.1v13.3h-1.1z" fill="#f9f2f4"/>
<path d="M498.8 710.8h1.4v13.3h-1.4z" fill="#b398e3"/>
<rect x="506" y="710.8" width="56.9" height="13.3" fill="#fdd8c8"/>
<path d="M506 710.8h0.8v13.3h-0.8zM511.2 710.8h1.2v13.3h-1.2zM522.9 710.8h1.4v13.3h-1.4zM530.9 710.8h1.5v13.3h-1.5zM558.2 710.8h1.8v13.3h-1.8z" fill="#fcc8b2"/>
<path d="M506.8 710.8h1v13.3h-1zM526.6 710.8h1.9v13.3h-1.9zM528.4 710.8h1.4v13.3h-1.4zM532.3 710.8h1.7v13.3h-1.7zM534 710.8h1.6v13.3h-1.6zM535.6 710.8h1.6v13.3h-1.6zM543.1 710.8h1.9v13.3h-1.9zM545 710.8h0.9v13.3h-0.9zM547 710.8h1.9v13.3h-1.9zM551.5 710.8h1.7v13.3h-1.7zM553.1 710.8h1.6v13.3h-1.6zM556.5 710.8h1.7v13.3h-1.7z" fill="#fcd2c0"/>
<path d="M507.7 710.8h1.9v13.3h-1.9zM509.5 710.8h1v13.3h-1zM514.1 710.8h1.9v13.3h-1.9zM519.4 710.8h1.8v13.3h-1.8zM522.1 710.8h0.8v13.3h-0.8zM549.9 710.8h1.7v13.3h-1.7z" fill="#fbece8"/>
<path d="M510.4 710.8h0.8v13.3h-0.8zM524.3 710.8h1.2v13.3h-1.2zM525.5 710.8h1.2v13.3h-1.2zM537.1 710.8h1.5v13.3h-1.5zM541.3 710.8h1.8v13.3h-1.8zM545.8 710.8h1.2v13.3h-1.2zM554.6 710.8h1.9v13.3h-1.9zM561.5 710.8h1v13.3h-1zM562.4 710.8h0.5v13.3h-0.5z" fill="#fde6dc"/>
<path d="M512.3 710.8h1.8v13.3h-1.8zM517.4 710.8h1.3v13.3h-1.3zM518.7 710.8h0.8v13.3h-0.8zM521.2 710.8h0.9v13.3h-0.9zM529.8 710.8h1.1v13.3h-1.1zM538.5 710.8h1.8v13.3h-1.8zM540.3 710.8h1v13.3h-1zM548.8 710.8h1.1v13.3h-1.1zM559.9 710.8h1.6v13.3h-1.6z" fill="#fddcce"/>
<path d="M515.9 710.8h1.5v13.3h-1.5z" fill="#f9f2f4"/>
<rect x="565.6" y="710.8" width="30.3" height="13.3" fill="#fce8e0"/>
<path d="M565.6 710.8h1.9v13.3h-1.9zM590.8 710.8h0.9v13.3h-0.9z" fill="#fcd2c0"/>
<path d="M567.5 710.8h0.8v13.3h-0.8zM571.7 710.8h1.1v13.3h-1.1zM574.6 710.8h0.8v13.3h-0.8zM575.4 710.8h1.3v13.3h-1.3zM581.3 710.8h1v13.3h-1zM587.8 710.8h1.7v13.3h-1.7z" fill="#fddcce"/>
<path d="M568.2 710.8h1.7v13.3h-1.7zM578.1 710.8h1.8v13.3h-1.8zM589.4 710.8h1.4v13.3h-1.4z" fill="#f9f2f4"/>
<path d="M569.9 710.8h1.9v13.3h-1.9zM572.8 710.8h1.8v13.3h-1.8zM585 710.8h1.7v13.3h-1.7z" fill="#fbece8"/>
<path d="M576.7 710.8h1.5v13.3h-1.5zM583.2 710.8h1.8v13.3h-1.8zM586.6 710.8h1.2v13.3h-1.2zM591.6 710.8h1.5v13.3h-1.5zM593 710.8h1.3v13.3h-1.3zM594.3 710.8h1.7v13.3h-1.7z" fill="#fde6dc"/>
<path d="M579.9 710.8h1.4v13.3h-1.4z" fill="#eee5f8"/>
<path d="M582.2 710.8h1.1v13.3h-1.1z" fill="#fcc8b2"/>
<rect x="298.7" y="724.1" width="58.2" height="13.3" fill="#cebaef"/>
<path d="M298.7 724.1h0.8v13.3h-0.8zM305 724.1h1.4v13.3h-1.4zM307.1 724.1h0.8v13.3h-0.8zM312.2 724.1h0.9v13.3h-0.9zM320.5 724.1h1.9v13.3h-1.9zM322.3 724.1h1.4v13.3h-1.4zM323.6 724.1h1v13.3h-1zM333.3 724.1h2v13.3h-2zM346.3 724.1h1.9v13.3h-1.9zM348.1 724.1h1.6v13.3h-1.6zM353.9 724.1h0.8v13.3h-0.8zM356.1 724.1h0.8v13.3h-0.8z" fill="#d7c5f3"/>
<path d="M299.4 724.1h1.3v13.3h-1.3zM300.6 724.1h2v13.3h-2zM303.3 724.1h1.7v13.3h-1.7zM306.3 724.1h0.9v13.3h-0.9zM307.9 724.1h1.9v13.3h-1.9zM309.7 724.1h1.7v13.3h-1.7zM311.3 724.1h0.9v13.3h-0.9zM313 724.1h1.7v13.3h-1.7zM317.4 724.1h1.8v13.3h-1.8zM319.2 724.1h1.3v13.3h-1.3zM324.6 724.1h1.1v13.3h-1.1zM330.7 724.1h1.7v13.3h-1.7zM332.4 724.1h0.9v13.3h-0.9zM335.2 724.1h1.4v13.3h-1.4zM338.1 724.1h1.3v13.3h-1.3zM339.4 724.1h0.9v13.3h-0.9zM340.2 724.1h0.9v13.3h-0.9zM341.1 724.1h1.5v13.3h-1.5zM350.6 724.1h1.4v13.3h-1.4z" fill="#cbb6ee"/>
<path d="M302.6 724.1h0.8v13.3h-0.8zM326.5 724.1h0.8v13.3h-0.8zM345.3 724.1h1.1v13.3h-1.1z" fill="#e2d5f6"/>
<path d="M314.6 724.1h1.2v13.3h-1.2zM325.6 724.1h0.9v13.3h-0.9zM327.3 724.1h1.6v13.3h-1.6zM328.9 724.1h1.9v13.3h-1.9zM336.6 724.1h1.5v13.3h-1.5zM344.1 724.1h1.2v13.3h-1.2zM349.7 724.1h1v13.3h-1zM352 724.1h2v13.3h-2z" fill="#bfa7e8"/>
<path d="M315.8 724.1h1.6v13.3h-1.6zM342.5 724.1h1.7v13.3h-1.7zM354.6 724.1h1.6v13.3h-1.6z" fill="#b398e3"/>
<rect x="359.4" y="724.1" width="40.2" height="13.3" fill="#fcc7b1"/>
<path d="M359.4 724.1h1.4v13.3h-1.4z" fill="#f9a586"/>
<path d="M360.8 724.1h1.2v13.3h-1.2zM366.1 724.1h1.1v13.3h-1.1zM370 724.1h1.1v13.3h-1.1zM371.1 724.1h1.7v13.3h-1.7zM375.7 724.1h1.8v13.3h-1.8zM379.9 724.1h1.7v13.3h-1.7zM384.1 724.1h1.8v13.3h-1.8zM394.6 724.1h1.6v13.3h-1.6z" fill="#fbbca3"/>
<path d="M361.9 724.1h1.3v13.3h-1.3zM365.2 724.1h0.9v13.3h-0.9zM374.3 724.1h1.5v13.3h-1.5zM377.4 724.1h0.8v13.3h-0.8zM389.4 724.1h1.1v13.3h-1.1z" fill="#fcd2c0"/>
<path d="M363.2 724.1h1.2v13.3h-1.2z" fill="#fde6dc"/>
<path d="M364.3 724.1h0.9v13.3h-0.9zM367.1 724.1h1.3v13.3h-1.3zM372.7 724.1h1.6v13.3h-1.6zM378.2 724.1h1.8v13.3h-1.8zM385.8 724.1h1.6v13.3h-1.6zM387.4 724.1h1v13.3h-1zM388.3 724.1h1.1v13.3h-1.1zM392.1 724.1h0.8v13.3h-0.8zM392.8 724.1h1.9v13.3h-1.9zM396.1 724.1h1.2v13.3h-1.2zM398.3 724.1h1.4v13.3h-1.4z" fill="#fcc8b2"/>
<path d="M368.4 724.1h1.6v13.3h-1.6zM381.6 724.1h1.5v13.3h-1.5zM383 724.1h1.1v13.3h-1.1zM390.4 724.1h1.7v13.3h-1.7z" fill="#fab195"/>
<path d="M397.2 724.1h1.1v13.3h-1.1z" fill="#f89c7c"/>
<rect x="402.6" y="724.1" width="10.1" height="13.3" fill="#fcd0bc"/>
<path d="M402.6 724.1h1.3v13.3h-1.3zM407.6 724.1h1.8v13.3h-1.8z" fill="#fbbca3"/>
<path d="M403.8 724.1h1.3v13.3h-1.3zM405.1 724.1h1.1v13.3h-1.1z" fill="#fcc8b2"/>
<path d="M406.2 724.1h1.5v13.3h-1.5z" fill="#fcd2c0"/>
<path d="M409.4 724.1h2v13.3h-2zM411.3 724.1h1.5v13.3h-1.5z" fill="#fddcce"/>
<rect x="415.5" y="724.1" width="43.3" height="13.3" fill="#f0e7f7"/>
<path d="M415.5 724.1h1.3v13.3h-1.3zM416.7 724.1h1v13.3h-1zM423.7 724.1h0.9v13.3h-0.9zM440.6 724.1h1.1v13.3h-1.1zM453.4 724.1h1.4v13.3h-1.4zM458.3 724.1h0.5v13.3h-0.5z" fill="#d7c5f3"/>
<path d="M417.7 724.1h0.9v13.3h-0.9zM424.6 724.1h1.9v13.3h-1.9zM429.1 724.1h1.4v13.3h-1.4zM436.5 724.1h1.3v13.3h-1.3zM444.6 724.1h1.2v13.3h-1.2zM450.5 724.1h0.8v13.3h-0.8z" fill="#fbece8"/>
<path d="M418.6 724.1h2v13.3h-2zM422.1 724.1h1.6v13.3h-1.6zM427.7 724.1h1.5v13.3h-1.5zM432.1 724.1h1.4v13.3h-1.4zM433.5 724.1h2v13.3h-2zM435.4 724.1h1.1v13.3h-1.1zM443.5 724.1h1.1v13.3h-1.1zM445.7 724.1h2v13.3h-2zM448.7 724.1h1.9v13.3h-1.9zM451.3 724.1h1.4v13.3h-1.4z" fill="#eee5f8"/>
<path d="M420.5 724.1h1.7v13.3h-1.7zM426.4 724.1h1.4v13.3h-1.4zM430.5 724.1h1.7v13.3h-1.7zM437.8 724.1h1.9v13.3h-1.9zM439.6 724.1h1v13.3h-1zM447.7 724.1h1v13.3h-1z" fill="#f9f2f4"/>
<path d="M441.6 724.1h1.9v13.3h-1.9zM452.7 724.1h0.8v13.3h-0.8zM455.6 724.1h1.6v13.3h-1.6z" fill="#e2d5f6"/>
<path d="M454.7 724.1h0.9v13.3h-0.9zM457.1 724.1h1.2v13.3h-1.2z" fill="#fde6dc"/>
<rect x="461.6" y="724.1" width="41.6" height="13.3" fill="#f68d6b"/>
<path d="M461.6 724.1h1.7v13.3h-1.7zM464 724.1h1.3v13.3h-1.3zM471.7 724.1h1.9v13.3h-1.9zM473.5 724.1h1.4v13.3h-1.4zM480.9 724.1h1.4v13.3h-1.4zM485.9 724.1h2v13.3h-2zM490.7 724.1h0.8v13.3h-0.8zM492.3 724.1h1.2v13.3h-1.2zM495.8 724.1h1v13.3h-1zM499.6 724.1h1.3v13.3h-1.3zM502.6 724.1h0.6v13.3h-0.6z" fill="#f68866"/>
<path d="M463.3 724.1h0.8v13.3h-0.8zM479.7 724.1h1.2v13.3h-1.2zM487.8 724.1h1.4v13.3h-1.4z" fill="#f57f5c"/>
<path d="M465.3 724.1h1.8v13.3h-1.8zM467 724.1h1.5v13.3h-1.5zM468.4 724.1h1.8v13.3h-1.8zM474.9 724.1h1.1v13.3h-1.1zM475.9 724.1h1.1v13.3h-1.1zM477 724.1h0.8v13.3h-0.8zM477.7 724.1h2v13.3h-2zM482.3 724.1h1.9v13.3h-1.9zM484.2 724.1h1.8v13.3h-1.8zM489.1 724.1h1.7v13.3h-1.7zM491.4 724.1h0.9v13.3h-0.9zM493.4 724.1h1.1v13.3h-1.1zM494.5 724.1h1.4v13.3h-1.4zM496.8 724.1h0.9v13.3h-0.9zM497.7 724.1h2v13.3h-2zM500.9 724.1h1.8v13.3h-1.8z" fill="#f79271"/>
<path d="M470.2 724.1h1.5v13.3h-1.5z" fill="#f89c7c"/>
<rect x="506" y="724.1" width="56.9" height="13.3" fill="#baa0e6"/>
<path d="M506 724.1h1.5v13.3h-1.5zM509.9 724.1h1.5v13.3h-1.5zM511.3 724.1h1.9v13.3h-1.9zM514.6 724.1h1.8v13.3h-1.8zM528.7 724.1h1.3v13.3h-1.3zM529.9 724.1h0.8v13.3h-0.8zM532.3 724.1h1.3v13.3h-1.3zM537.5 724.1h0.8v13.3h-0.8zM547.7 724.1h1v13.3h-1zM548.7 724.1h1.9v13.3h-1.9zM550.6 724.1h1.2v13.3h-1.2zM556.5 724.1h2v13.3h-2zM562.1 724.1h0.8v13.3h-0.8z" fill="#b398e3"/>
<path d="M507.4 724.1h1.8v13.3h-1.8zM509.2 724.1h0.8v13.3h-0.8zM516.4 724.1h1.2v13.3h-1.2zM518.8 724.1h1.8v13.3h-1.8zM520.6 724.1h1.8v13.3h-1.8zM522.3 724.1h1.7v13.3h-1.7zM533.5 724.1h1.1v13.3h-1.1zM534.6 724.1h1.3v13.3h-1.3zM535.9 724.1h0.9v13.3h-0.9zM538.3 724.1h1.6v13.3h-1.6zM540.9 724.1h0.8v13.3h-0.8zM541.7 724.1h1.9v13.3h-1.9zM543.6 724.1h0.8v13.3h-0.8zM544.3 724.1h1.8v13.3h-1.8zM546.1 724.1h1.7v13.3h-1.7zM551.7 724.1h1.1v13.3h-1.1zM554 724.1h0.8v13.3h-0.8zM554.8 724.1h1.8v13.3h-1.8z" fill="#bfa7e8"/>
<path d="M513.2 724.1h1.5v13.3h-1.5zM517.5 724.1h1.3v13.3h-1.3zM524 724.1h1.2v13.3h-1.2zM525.2 724.1h1.7v13.3h-1.7zM526.8 724.1h1.9v13.3h-1.9zM530.6 724.1h1.7v13.3h-1.7zM536.7 724.1h0.8v13.3h-0.8z" fill="#cbb6ee"/>
<path d="M539.9 724.1h1.1v13.3h-1.1zM552.7 724.1h1.3v13.3h-1.3zM558.5 724.1h1.1v13.3h-1.1zM559.6 724.1h1.8v13.3h-1.8zM561.3 724.1h0.9v13.3h-0.9z" fill="#a98ee0"/>
<rect x="565.6" y="724.1" width="30.3" height="13.3" fill="#d2bff1"/>
<path d="M565.6 724.1h1.9v13.3h-1.9zM568.6 724.1h1.6v13.3h-1.6zM574.8 724.1h1.6v13.3h-1.6zM578.2 724.1h1.8v13.3h-1.8zM585 724.1h0.8v13.3h-0.8zM592.9 724.1h1v13.3h-1z" fill="#d7c5f3"/>
<path d="M567.4 724.1h1.2v13.3h-1.2zM572.3 724.1h1.5v13.3h-1.5zM580 724.1h1.9v13.3h-1.9zM583.6 724.1h1.4v13.3h-1.4zM587.6 724.1h1.9v13.3h-1.9zM589.5 724.1h1.3v13.3h-1.3zM590.7 724.1h0.9v13.3h-0.9zM591.5 724.1h1.5v13.3h-1.5z" fill="#cbb6ee"/>
<path d="M570.1 724.1h1.3v13.3h-1.3zM576.3 724.1h1.9v13.3h-1.9zM585.8 724.1h1.9v13.3h-1.9zM595.2 724.1h0.7v13.3h-0.7z" fill="#e2d5f6"/>
<path d="M571.3 724.1h1.1v13.3h-1.1zM573.8 724.1h1.1v13.3h-1.1zM581.8 724.1h1.9v13.3h-1.9zM593.9 724.1h1.4v13.3h-1.4z" fill="#bfa7e8"/>
<rect x="298.7" y="737.4" width="58.2" height="13.3" fill="#fce8e0"/>
<path d="M298.7 737.4h2v13.3h-2zM302.6 737.4h1.4v13.3h-1.4zM303.9 737.4h0.8v13.3h-0.8zM304.6 737.4h1v13.3h-1zM305.6 737.4h0.9v13.3h-0.9zM307.6 737.4h1.9v13.3h-1.9zM309.5 737.4h1v13.3h-1zM311.3 737.4h2v13.3h-2zM313.3 737.4h1.3v13.3h-1.3zM318.5 737.4h2v13.3h-2zM321.6 737.4h0.8v13.3h-0.8zM334.5 737.4h1.6v13.3h-1.6zM344.5 737.4h1.5v13.3h-1.5zM353.4 737.4h1.1v13.3h-1.1z" fill="#fbece8"/>
<path d="M300.6 737.4h2v13.3h-2zM317.3 737.4h1.3v13.3h-1.3zM324.2 737.4h1.6v13.3h-1.6zM327.5 737.4h1.5v13.3h-1.5zM329 737.4h1.9v13.3h-1.9zM336.1 737.4h1.3v13.3h-1.3zM338.5 737.4h1.3v13.3h-1.3zM347.9 737.4h1.9v13.3h-1.9zM356.7 737.4h0.3v13.3h-0.3z" fill="#fddcce"/>
<path d="M306.4 737.4h1.2v13.3h-1.2zM320.5 737.4h1.2v13.3h-1.2zM332.4 737.4h1.1v13.3h-1.1zM337.3 737.4h1.2v13.3h-1.2zM341.7 737.4h1.5v13.3h-1.5z" fill="#f9f2f4"/>
<path d="M310.4 737.4h0.9v13.3h-0.9zM314.6 737.4h0.9v13.3h-0.9zM315.5 737.4h1.9v13.3h-1.9zM322.3 737.4h2v13.3h-2zM325.8 737.4h1.7v13.3h-1.7zM330.8 737.4h1.6v13.3h-1.6zM333.5 737.4h1.1v13.3h-1.1zM339.7 737.4h2v13.3h-2zM345.9 737.4h1v13.3h-1zM349.8 737.4h1.5v13.3h-1.5zM351.3 737.4h1.4v13.3h-1.4zM352.6 737.4h0.8v13.3h-0.8zM354.4 737.4h1.1v13.3h-1.1z" fill="#fde6dc"/>
<path d="M343.2 737.4h1.4v13.3h-1.4z" fill="#eee5f8"/>
<path d="M346.8 737.4h1.2v13.3h-1.2z" fill="#fcc8b2"/>
<path d="M355.5 737.4h1.2v13.3h-1.2z" fill="#fcd2c0"/>
<rect x="359.4" y="737.4" width="40.2" height="13.3" fill="#fcd0bc"/>
<path d="M359.4 737.4h1.3v13.3h-1.3zM360.7 737.4h1.5v13.3h-1.5zM364 737.4h2v13.3h-2zM367.2 737.4h1v13.3h-1zM371.8 737.4h1.8v13.3h-1.8zM382.3 737.4h1.8v13.3h-1.8zM397.2 737.4h1.4v13.3h-1.4zM398.6 737.4h1.1v13.3h-1.1z" fill="#fcc8b2"/>
<path d="M362.2 737.4h1.8v13.3h-1.8zM369 737.4h0.9v13.3h-0.9z" fill="#fbece8"/>
<path d="M365.9 737.4h1.3v13.3h-1.3zM374.8 737.4h1.2v13.3h-1.2zM384 737.4h1.2v13.3h-1.2zM389.6 737.4h0.8v13.3h-0.8zM394 737.4h1.4v13.3h-1.4zM395.3 737.4h2v13.3h-2z" fill="#fcd2c0"/>
<path d="M368.2 737.4h0.9v13.3h-0.9zM369.8 737.4h2v13.3h-2zM378.5 737.4h0.8v13.3h-0.8zM379.3 737.4h1.1v13.3h-1.1zM380.3 737.4h2v13.3h-2zM387.6 737.4h2v13.3h-2zM390.4 737.4h2v13.3h-2zM392.4 737.4h1.7v13.3h-1.7z" fill="#fddcce"/>
<path d="M373.5 737.4h1.4v13.3h-1.4zM385.1 737.4h1.5v13.3h-1.5z" fill="#fde6dc"/>
<path d="M375.9 737.4h1.6v13.3h-1.6zM377.5 737.4h1.1v13.3h-1.1zM386.5 737.4h1.1v13.3h-1.1z" fill="#fbbca3"/>
<rect x="402.6" y="737.4" width="10.1" height="13.3" fill="#dcccf4"/>
<path d="M402.6 737.4h1.9v13.3h-1.9zM410.4 737.4h2v13.3h-2z" fill="#d7c5f3"/>
<path d="M404.5 737.4h0.9v13.3h-0.9zM406.4 737.4h1v13.3h-1zM409.6 737.4h0.8v13.3h-0.8zM412.3 737.4h0.5v13.3h-0.5z" fill="#eee5f8"/>
<path d="M405.3 737.4h1.2v13.3h-1.2z" fill="#bfa7e8"/>
<path d="M407.4 737.4h1.1v13.3h-1.1z" fill="#cbb6ee"/>
<path d="M408.4 737.4h1.3v13.3h-1.3z" fill="#e2d5f6"/>
<rect x="415.5" y="737.4" width="43.3" height="13.3" fill="#fde6db"/>
<path d="M415.5 737.4h0.8v13.3h-0.8zM416.2 737.4h1.9v13.3h-1.9zM420.1 737.4h1.2v13.3h-1.2zM422.7 737.4h0.8v13.3h-0.8zM423.4 737.4h1v13.3h-1zM424.3 737.4h0.9v13.3h-0.9zM427 737.4h1.4v13.3h-1.4zM432.1 737.4h1.4v13.3h-1.4zM433.5 737.4h1.8v13.3h-1.8zM443 737.4h1.4v13.3h-1.4zM444.3 737.4h1.8v13.3h-1.8zM454.6 737.4h0.9v13.3h-0.9zM455.4 737.4h0.9v13.3h-0.9zM458.7 737.4h0.1v13.3h-0.1z" fill="#fde6dc"/>
<path d="M418.1 737.4h0.8v13.3h-0.8zM430.5 737.4h1.6v13.3h-1.6zM435.2 737.4h1.6v13.3h-1.6zM438.8 737.4h1.5v13.3h-1.5zM452.4 737.4h1.5v13.3h-1.5zM456.3 737.4h0.9v13.3h-0.9z" fill="#fddcce"/>
<path d="M418.9 737.4h1.3v13.3h-1.3zM421.3 737.4h1.4v13.3h-1.4zM425.2 737.4h1.9v13.3h-1.9zM442.2 737.4h0.8v13.3h-0.8zM446.1 737.4h1.9v13.3h-1.9zM448 737.4h1.9v13.3h-1.9z" fill="#fbece8"/>
<path d="M428.3 737.4h1.1v13.3h-1.1zM429.4 737.4h1.2v13.3h-1.2zM449.8 737.4h1.1v13.3h-1.1zM453.9 737.4h0.8v13.3h-0.8z" fill="#fcd2c0"/>
<path d="M436.8 737.4h2v13.3h-2z" fill="#fcc8b2"/>
<path d="M440.2 737.4h2v13.3h-2zM450.9 737.4h1.5v13.3h-1.5zM457.2 737.4h1.6v13.3h-1.6z" fill="#f9f2f4"/>
<rect x="461.6" y="737.4" width="41.6" height="13.3" fill="#f9f2f4"/>
<path d="M461.6 737.4h1.3v13.3h-1.3zM468.9 737.4h2v13.3h-2zM481.5 737.4h1.3v13.3h-1.3zM500.2 737.4h0.8v13.3h-0.8zM500.9 737.4h1.9v13.3h-1.9z" fill="#eee5f8"/>
<path d="M462.8 737.4h1.2v13.3h-1.2zM484.9 737.4h1.1v13.3h-1.1zM486.7 737.4h1.7v13.3h-1.7zM491 737.4h1v13.3h-1z" fill="#d7c5f3"/>
<path d="M464 737.4h1.2v13.3h-1.2zM477.9 737.4h1.7v13.3h-1.7zM483.5 737.4h1.4v13.3h-1.4zM491.9 737.4h1v13.3h-1zM492.8 737.4h1.7v13.3h-1.7z" fill="#fbece8"/>
<path d="M465.1 737.4h2v13.3h-2zM467 737.4h1.9v13.3h-1.9zM472.8 737.4h1.8v13.3h-1.8zM474.5 737.4h1.5v13.3h-1.5zM476 737.4h2v13.3h-2zM482.7 737.4h0.9v13.3h-0.9zM498.3 737.4h1v13.3h-1z" fill="#f9f2f4"/>
<path d="M470.9 737.4h2v13.3h-2zM479.6 737.4h2v13.3h-2zM489.3 737.4h1.7v13.3h-1.7zM494.5 737.4h1.3v13.3h-1.3zM495.7 737.4h1.3v13.3h-1.3z" fill="#fde6dc"/>
<path d="M485.9 737.4h0.8v13.3h-0.8zM488.4 737.4h1v13.3h-1zM497 737.4h1.4v13.3h-1.4zM499.2 737.4h1.1v13.3h-1.1zM502.8 737.4h0.4v13.3h-0.4z" fill="#e2d5f6"/>
<rect x="506" y="737.4" width="56.9" height="13.3" fill="#e6daf6"/>
<path d="M506 737.4h1.8v13.3h-1.8zM514.1 737.4h1.1v13.3h-1.1zM521 737.4h1.6v13.3h-1.6zM543.3 737.4h1.9v13.3h-1.9zM550.2 737.4h1.7v13.3h-1.7z" fill="#cbb6ee"/>
<path d="M507.7 737.4h1.1v13.3h-1.1zM517.9 737.4h1.8v13.3h-1.8zM527.2 737.4h1.3v13.3h-1.3zM531.8 737.4h1.2v13.3h-1.2zM551.8 737.4h0.8v13.3h-0.8zM552.6 737.4h1v13.3h-1z" fill="#d7c5f3"/>
<path d="M508.7 737.4h1.1v13.3h-1.1zM509.8 737.4h1.1v13.3h-1.1zM512.6 737.4h1.6v13.3h-1.6zM524.3 737.4h1.8v13.3h-1.8zM534.6 737.4h0.9v13.3h-0.9zM535.4 737.4h1.5v13.3h-1.5zM538.4 737.4h1.5v13.3h-1.5zM545.2 737.4h1.4v13.3h-1.4zM549.2 737.4h1v13.3h-1z" fill="#e2d5f6"/>
<path d="M510.9 737.4h1.7v13.3h-1.7zM530.7 737.4h1.1v13.3h-1.1zM532.9 737.4h1.7v13.3h-1.7zM539.8 737.4h1.6v13.3h-1.6zM541.4 737.4h2v13.3h-2zM546.5 737.4h1.3v13.3h-1.3zM553.5 737.4h1.8v13.3h-1.8zM560.1 737.4h1.7v13.3h-1.7zM561.7 737.4h0.9v13.3h-0.9z" fill="#eee5f8"/>
<path d="M515.2 737.4h1.6v13.3h-1.6zM516.8 737.4h1.2v13.3h-1.2zM519.6 737.4h1.4v13.3h-1.4zM522.5 737.4h1.9v13.3h-1.9zM529.2 737.4h1.6v13.3h-1.6zM536.8 737.4h1.6v13.3h-1.6zM547.7 737.4h1.5v13.3h-1.5zM555.3 737.4h1.8v13.3h-1.8zM557 737.4h1.4v13.3h-1.4zM558.3 737.4h1.8v13.3h-1.8zM562.6 737.4h0.4v13.3h-0.4z" fill="#f9f2f4"/>
<path d="M526.1 737.4h1.1v13.3h-1.1z" fill="#fbece8"/>
<path d="M528.5 737.4h0.8v13.3h-0.8z" fill="#bfa7e8"/>
<rect x="565.6" y="737.4" width="30.3" height="13.3" fill="#d2bff1"/>
<path d="M565.6 737.4h1.2v13.3h-1.2zM572.2 737.4h1.9v13.3h-1.9zM586.1 737.4h2v13.3h-2zM590.5 737.4h1.6v13.3h-1.6zM592 737.4h1.9v13.3h-1.9zM595.1 737.4h0.8v13.3h-0.8z" fill="#cbb6ee"/>
<path d="M566.8 737.4h1.7v13.3h-1.7zM570.2 737.4h2v13.3h-2zM575.4 737.4h0.9v13.3h-0.9zM576.2 737.4h1.9v13.3h-1.9zM583 737.4h1v13.3h-1zM593.9 737.4h1.3v13.3h-1.3z" fill="#d7c5f3"/>
<path d="M568.4 737.4h1.8v13.3h-1.8z" fill="#eee5f8"/>
<path d="M574.1 737.4h1.4v13.3h-1.4zM579.9 737.4h1.3v13.3h-1.3zM581.2 737.4h1.9v13.3h-1.9zM583.9 737.4h1.2v13.3h-1.2z" fill="#e2d5f6"/>
<path d="M578 737.4h1.2v13.3h-1.2zM579.2 737.4h0.8v13.3h-0.8zM585.1 737.4h1.1v13.3h-1.1zM588 737.4h1.6v13.3h-1.6zM589.5 737.4h1v13.3h-1z" fill="#bfa7e8"/>
<rect x="298.7" y="750.7" width="58.2" height="13.3" fill="#e6daf6"/>
<path d="M298.7 750.7h1.4v13.3h-1.4zM301.7 750.7h1.4v13.3h-1.4zM324.6 750.7h0.8v13.3h-0.8zM330.1 750.7h1.9v13.3h-1.9zM335.2 750.7h1.8v13.3h-1.8zM337 750.7h1v13.3h-1zM346.7 750.7h1.2v13.3h-1.2zM349.3 750.7h1.2v13.3h-1.2zM353.8 750.7h1.9v13.3h-1.9z" fill="#eee5f8"/>
<path d="M300 750.7h1.8v13.3h-1.8zM303.1 750.7h1.8v13.3h-1.8zM304.9 750.7h1.4v13.3h-1.4zM306.2 750.7h1.9v13.3h-1.9zM308.1 750.7h1.3v13.3h-1.3zM310 750.7h1.6v13.3h-1.6zM313.9 750.7h1.6v13.3h-1.6zM320.1 750.7h1.5v13.3h-1.5zM344 750.7h1.9v13.3h-1.9zM353 750.7h0.9v13.3h-0.9zM355.7 750.7h1.3v13.3h-1.3z" fill="#e2d5f6"/>
<path d="M309.3 750.7h0.8v13.3h-0.8zM311.5 750.7h1.7v13.3h-1.7zM328.5 750.7h1.6v13.3h-1.6zM345.8 750.7h0.9v13.3h-0.9zM350.4 750.7h1.5v13.3h-1.5z" fill="#fbece8"/>
<path d="M313.1 750.7h0.8v13.3h-0.8zM317.2 750.7h1.8v13.3h-1.8zM325.3 750.7h2v13.3h-2zM327.3 750.7h1.2v13.3h-1.2zM332.7 750.7h1.3v13.3h-1.3zM333.9 750.7h1.4v13.3h-1.4zM342.2 750.7h1.9v13.3h-1.9z" fill="#d7c5f3"/>
<path d="M315.4 750.7h1.9v13.3h-1.9z" fill="#bfa7e8"/>
<path d="M319 750.7h1.2v13.3h-1.2z" fill="#fddcce"/>
<path d="M321.6 750.7h1.3v13.3h-1.3zM331.9 750.7h0.9v13.3h-0.9zM339.1 750.7h1.9v13.3h-1.9zM347.9 750.7h1.4v13.3h-1.4zM351.8 750.7h1.2v13.3h-1.2z" fill="#f9f2f4"/>
<path d="M322.8 750.7h1.8v13.3h-1.8zM341 750.7h1.3v13.3h-1.3z" fill="#cbb6ee"/>
<path d="M337.9 750.7h1.3v13.3h-1.3z" fill="#b398e3"/>
<rect x="359.4" y="750.7" width="40.2" height="13.3" fill="#f0e7f7"/>
<path d="M359.4 750.7h1.4v13.3h-1.4zM360.8 750.7h2v13.3h-2zM369.8 750.7h1.6v13.3h-1.6zM396.7 750.7h2v13.3h-2zM398.6 750.7h0.8v13.3h-0.8z" fill="#fbece8"/>
<path d="M362.7 750.7h1.5v13.3h-1.5zM377.6 750.7h1v13.3h-1zM379.9 750.7h1.6v13.3h-1.6zM383.4 750.7h0.8v13.3h-0.8zM390.7 750.7h1.9v13.3h-1.9z" fill="#d7c5f3"/>
<path d="M364.2 750.7h2v13.3h-2zM366.1 750.7h1.9v13.3h-1.9zM368 750.7h1.9v13.3h-1.9zM373 750.7h1.6v13.3h-1.6zM381.5 750.7h1.9v13.3h-1.9zM385.8 750.7h1.5v13.3h-1.5zM388.8 750.7h1.9v13.3h-1.9zM392.5 750.7h1.9v13.3h-1.9z" fill="#f9f2f4"/>
<path d="M371.4 750.7h1.7v13.3h-1.7zM375.5 750.7h1.2v13.3h-1.2zM387.2 750.7h1.6v13.3h-1.6z" fill="#fde6dc"/>
<path d="M374.5 750.7h1v13.3h-1zM376.6 750.7h1v13.3h-1z" fill="#e2d5f6"/>
<path d="M378.6 750.7h1.4v13.3h-1.4z" fill="#b398e3"/>
<path d="M384.2 750.7h1.7v13.3h-1.7zM394.4 750.7h1.2v13.3h-1.2zM395.5 750.7h1.2v13.3h-1.2zM399.4 750.7h0.3v13.3h-0.3z" fill="#eee5f8"/>
<rect x="402.6" y="750.7" width="10.1" height="13.3" fill="#fcc7b1"/>
<path d="M402.6 750.7h1.1v13.3h-1.1zM404.8 750.7h0.8v13.3h-0.8zM408.6 750.7h1.2v13.3h-1.2zM411.5 750.7h1.2v13.3h-1.2z" fill="#fcc8b2"/>
<path d="M403.7 750.7h1.2v13.3h-1.2zM405.6 750.7h1.4v13.3h-1.4zM409.8 750.7h1.8v13.3h-1.8z" fill="#fbbca3"/>
<path d="M406.9 750.7h1.7v13.3h-1.7z" fill="#fab195"/>
<rect x="415.5" y="750.7" width="43.3" height="13.3" fill="#f0e7f7"/>
<path d="M415.5 750.7h0.9v13.3h-0.9zM418.8 750.7h1.3v13.3h-1.3zM423.2 750.7h1.8v13.3h-1.8zM424.9 750.7h1.5v13.3h-1.5zM429.7 750.7h0.9v13.3h-0.9zM430.6 750.7h1.3v13.3h-1.3zM441.7 750.7h1.2v13.3h-1.2zM458.6 750.7h0.2v13.3h-0.2z" fill="#f9f2f4"/>
<path d="M416.4 750.7h1.1v13.3h-1.1zM428.2 750.7h1.6v13.3h-1.6zM440.6 750.7h1.2v13.3h-1.2zM446.2 750.7h1.9v13.3h-1.9zM448 750.7h0.9v13.3h-0.9z" fill="#eee5f8"/>
<path d="M417.4 750.7h1.4v13.3h-1.4zM420 750.7h1.8v13.3h-1.8zM431.8 750.7h2v13.3h-2zM433.8 750.7h1.1v13.3h-1.1zM439.1 750.7h1.5v13.3h-1.5zM442.9 750.7h1.6v13.3h-1.6zM444.4 750.7h1.8v13.3h-1.8zM455.3 750.7h1.8v13.3h-1.8z" fill="#fbece8"/>
<path d="M421.8 750.7h1.5v13.3h-1.5zM434.8 750.7h1.9v13.3h-1.9z" fill="#cbb6ee"/>
<path d="M426.4 750.7h1.8v13.3h-1.8zM436.7 750.7h1.4v13.3h-1.4z" fill="#e2d5f6"/>
<path d="M438 750.7h1.1v13.3h-1.1zM448.9 750.7h1.7v13.3h-1.7zM454.1 750.7h1.3v13.3h-1.3zM457 750.7h1.6v13.3h-1.6z" fill="#d7c5f3"/>
<path d="M450.5 750.7h1.8v13.3h-1.8zM452.3 750.7h1.8v13.3h-1.8z" fill="#fde6dc"/>
<rect x="461.6" y="750.7" width="41.6" height="13.3" fill="#fce8e0"/>
<path d="M461.6 750.7h1.4v13.3h-1.4zM464.2 750.7h1.4v13.3h-1.4zM465.5 750.7h0.8v13.3h-0.8zM466.2 750.7h1.2v13.3h-1.2zM474.1 750.7h1.2v13.3h-1.2zM476.4 750.7h1.7v13.3h-1.7zM484.1 750.7h1.2v13.3h-1.2zM487.9 750.7h1.8v13.3h-1.8z" fill="#fde6dc"/>
<path d="M462.9 750.7h1.3v13.3h-1.3zM475.2 750.7h1.3v13.3h-1.3zM479.6 750.7h1.2v13.3h-1.2zM482.4 750.7h1.8v13.3h-1.8zM490.5 750.7h0.8v13.3h-0.8zM496.3 750.7h1.7v13.3h-1.7z" fill="#fbece8"/>
<path d="M467.4 750.7h1v13.3h-1zM469.2 750.7h1.7v13.3h-1.7zM472.7 750.7h1.4v13.3h-1.4zM489.6 750.7h1v13.3h-1zM491.2 750.7h1.9v13.3h-1.9zM494.4 750.7h1.9v13.3h-1.9z" fill="#fddcce"/>
<path d="M468.4 750.7h0.9v13.3h-0.9z" fill="#fcc8b2"/>
<path d="M470.8 750.7h1.9v13.3h-1.9zM493.1 750.7h1.4v13.3h-1.4zM497.9 750.7h1.7v13.3h-1.7zM500.8 750.7h1.9v13.3h-1.9zM502.6 750.7h0.6v13.3h-0.6z" fill="#f9f2f4"/>
<path d="M478.1 750.7h1.5v13.3h-1.5zM485.3 750.7h1.3v13.3h-1.3z" fill="#fcd2c0"/>
<path d="M480.8 750.7h1.7v13.3h-1.7z" fill="#e2d5f6"/>
<path d="M486.5 750.7h1.4v13.3h-1.4zM499.5 750.7h1.3v13.3h-1.3z" fill="#eee5f8"/>
<rect x="506" y="750.7" width="56.9" height="13.3" fill="#fde0d4"/>
<path d="M506 750.7h1.3v13.3h-1.3zM513.7 750.7h1.7v13.3h-1.7zM521.2 750.7h2v13.3h-2zM532.5 750.7h1.8v13.3h-1.8zM534.2 750.7h0.8v13.3h-0.8zM537.1 750.7h1.7v13.3h-1.7zM541.2 750.7h0.8v13.3h-0.8zM543.9 750.7h1.5v13.3h-1.5zM550.3 750.7h0.8v13.3h-0.8zM560.5 750.7h2v13.3h-2z" fill="#fddcce"/>
<path d="M507.2 750.7h1.4v13.3h-1.4zM519.5 750.7h1.8v13.3h-1.8zM525.8 750.7h1.6v13.3h-1.6zM528.3 750.7h0.9v13.3h-0.9zM542 750.7h1.9v13.3h-1.9zM548.5 750.7h1.8v13.3h-1.8zM554.4 750.7h1.2v13.3h-1.2zM555.5 750.7h1.2v13.3h-1.2z" fill="#fcc8b2"/>
<path d="M508.6 750.7h1.7v13.3h-1.7zM515.3 750.7h1.9v13.3h-1.9zM517.2 750.7h1.2v13.3h-1.2zM523.2 750.7h0.8v13.3h-0.8zM523.9 750.7h1v13.3h-1zM527.3 750.7h1v13.3h-1zM545.3 750.7h1.9v13.3h-1.9zM547.2 750.7h1.3v13.3h-1.3zM558.6 750.7h1.9v13.3h-1.9z" fill="#fcd2c0"/>
<path d="M510.2 750.7h1.3v13.3h-1.3zM512.5 750.7h1.3v13.3h-1.3zM524.9 750.7h1v13.3h-1zM538.7 750.7h0.8v13.3h-0.8zM551 750.7h1.9v13.3h-1.9zM552.8 750.7h1.6v13.3h-1.6z" fill="#fbece8"/>
<path d="M511.5 750.7h1.1v13.3h-1.1zM518.4 750.7h1.2v13.3h-1.2zM529.1 750.7h1.8v13.3h-1.8zM530.9 750.7h1.7v13.3h-1.7zM535.9 750.7h1.2v13.3h-1.2zM539.4 750.7h1.9v13.3h-1.9z" fill="#fde6dc"/>
<path d="M534.9 750.7h1v13.3h-1zM562.4 750.7h0.5v13.3h-0.5z" fill="#f9f2f4"/>
<path d="M556.6 750.7h2v13.3h-2z" fill="#fbbca3"/>
<rect x="565.6" y="750.7" width="30.3" height="13.3" fill="#fcc7b1"/>
<path d="M565.6 750.7h2v13.3h-2zM573.1 750.7h1.5v13.3h-1.5zM582.3 750.7h0.8v13.3h-0.8zM585.8 750.7h1.7v13.3h-1.7z" fill="#fbbca3"/>
<path d="M567.5 750.7h1.3v13.3h-1.3zM577.5 750.7h1.4v13.3h-1.4zM584.6 750.7h1.2v13.3h-1.2zM587.5 750.7h1.9v13.3h-1.9zM590.4 750.7h2v13.3h-2z" fill="#fcd2c0"/>
<path d="M568.8 750.7h1.4v13.3h-1.4zM572.3 750.7h0.9v13.3h-0.9zM578.8 750.7h2v13.3h-2z" fill="#fddcce"/>
<path d="M570.1 750.7h0.8v13.3h-0.8zM574.6 750.7h1.9v13.3h-1.9zM580.7 750.7h1.7v13.3h-1.7zM594.5 750.7h1v13.3h-1z" fill="#fab195"/>
<path d="M570.9 750.7h1.4v13.3h-1.4zM576.5 750.7h1.1v13.3h-1.1zM589.3 750.7h1.1v13.3h-1.1zM592.3 750.7h0.8v13.3h-0.8zM593 750.7h1.6v13.3h-1.6zM595.5 750.7h0.4v13.3h-0.4z" fill="#fcc8b2"/>
<path d="M583.1 750.7h1.5v13.3h-1.5z" fill="#fbece8"/>
<rect x="298.7" y="764" width="58.2" height="13.3" fill="#fbb79d"/>
<path d="M298.7 764h1.4v13.3h-1.4zM301.8 764h0.9v13.3h-0.9zM307.4 764h1.7v13.3h-1.7zM309 764h1.2v13.3h-1.2zM310.2 764h1.7v13.3h-1.7zM311.9 764h1.1v13.3h-1.1zM313 764h0.8v13.3h-0.8zM317.6 764h1.4v13.3h-1.4zM320.2 764h1.7v13.3h-1.7zM322.8 764h1.4v13.3h-1.4zM326.9 764h1.5v13.3h-1.5zM329.4 764h1v13.3h-1zM330.3 764h1.4v13.3h-1.4zM333.8 764h1.2v13.3h-1.2zM338.7 764h1.6v13.3h-1.6zM340.3 764h0.8v13.3h-0.8zM342.5 764h1.2v13.3h-1.2zM347.2 764h1.2v13.3h-1.2zM351.8 764h1.4v13.3h-1.4zM353.1 764h0.9v13.3h-0.9z" fill="#fab195"/>
<path d="M300.1 764h1.8v13.3h-1.8zM302.7 764h2v13.3h-2zM304.7 764h0.9v13.3h-0.9zM305.5 764h1.9v13.3h-1.9zM313.7 764h1.6v13.3h-1.6zM316.8 764h0.9v13.3h-0.9zM321.9 764h0.9v13.3h-0.9zM324.2 764h1.9v13.3h-1.9zM335 764h1.9v13.3h-1.9zM336.9 764h1.9v13.3h-1.9zM341 764h1.5v13.3h-1.5zM343.6 764h1.3v13.3h-1.3zM344.9 764h1.5v13.3h-1.5zM346.3 764h0.9v13.3h-0.9zM348.3 764h1.8v13.3h-1.8zM355.3 764h1.6v13.3h-1.6z" fill="#fbbca3"/>
<path d="M315.3 764h1.6v13.3h-1.6z" fill="#f89c7c"/>
<path d="M319 764h1.3v13.3h-1.3zM326.1 764h0.9v13.3h-0.9zM331.7 764h0.9v13.3h-0.9zM354 764h1.4v13.3h-1.4z" fill="#f9a586"/>
<path d="M328.4 764h1.1v13.3h-1.1zM332.6 764h1.3v13.3h-1.3zM350 764h1.8v13.3h-1.8z" fill="#fcc8b2"/>
<rect x="359.4" y="764" width="40.2" height="13.3" fill="#c8b2ec"/>
<path d="M359.4 764h1.1v13.3h-1.1zM364.3 764h1.5v13.3h-1.5zM365.8 764h1.1v13.3h-1.1zM368 764h1.5v13.3h-1.5zM373.8 764h1.1v13.3h-1.1zM376.6 764h0.8v13.3h-0.8zM381.4 764h1.1v13.3h-1.1zM384.4 764h2v13.3h-2zM386.4 764h1.6v13.3h-1.6zM396 764h2v13.3h-2z" fill="#bfa7e8"/>
<path d="M360.4 764h1.4v13.3h-1.4zM363.3 764h1.1v13.3h-1.1zM366.8 764h1.2v13.3h-1.2zM379.5 764h1.2v13.3h-1.2zM380.7 764h0.8v13.3h-0.8zM382.5 764h2v13.3h-2zM388 764h2v13.3h-2zM390.7 764h1.4v13.3h-1.4zM392 764h1.7v13.3h-1.7zM393.7 764h1.7v13.3h-1.7zM395.3 764h0.8v13.3h-0.8z" fill="#cbb6ee"/>
<path d="M361.8 764h1.6v13.3h-1.6zM369.4 764h1.9v13.3h-1.9zM374.9 764h1.8v13.3h-1.8z" fill="#e2d5f6"/>
<path d="M371.2 764h1.2v13.3h-1.2zM377.4 764h1.2v13.3h-1.2zM389.9 764h0.9v13.3h-0.9zM398 764h1.6v13.3h-1.6z" fill="#d7c5f3"/>
<path d="M372.4 764h1.5v13.3h-1.5zM378.5 764h1.1v13.3h-1.1z" fill="#b398e3"/>
<rect x="402.6" y="764" width="10.1" height="13.3" fill="#fde0d4"/>
<path d="M402.6 764h1.7v13.3h-1.7zM405.1 764h1.1v13.3h-1.1z" fill="#fde6dc"/>
<path d="M404.2 764h0.9v13.3h-0.9zM409.9 764h1.5v13.3h-1.5zM411.3 764h1.2v13.3h-1.2z" fill="#fddcce"/>
<path d="M406.1 764h1.3v13.3h-1.3z" fill="#eee5f8"/>
<path d="M407.4 764h1.7v13.3h-1.7z" fill="#fbece8"/>
<path d="M409 764h0.9v13.3h-0.9zM412.5 764h0.2v13.3h-0.2z" fill="#fcd2c0"/>
<rect x="415.5" y="764" width="43.3" height="13.3" fill="#dcccf4"/>
<path d="M415.5 764h1v13.3h-1zM419.5 764h1.7v13.3h-1.7zM433.5 764h1.5v13.3h-1.5zM436.8 764h0.9v13.3h-0.9zM446.8 764h1.1v13.3h-1.1zM452.7 764h1.6v13.3h-1.6zM456.2 764h1.9v13.3h-1.9z" fill="#cbb6ee"/>
<path d="M416.5 764h1.3v13.3h-1.3zM437.7 764h1.8v13.3h-1.8z" fill="#bfa7e8"/>
<path d="M417.7 764h0.8v13.3h-0.8zM418.4 764h1.1v13.3h-1.1zM423 764h1.6v13.3h-1.6zM430 764h0.9v13.3h-0.9zM454.2 764h1v13.3h-1z" fill="#e2d5f6"/>
<path d="M421.2 764h1.8v13.3h-1.8zM442.7 764h1.3v13.3h-1.3zM455.2 764h1.1v13.3h-1.1zM458.1 764h0.7v13.3h-0.7z" fill="#eee5f8"/>
<path d="M424.5 764h1.8v13.3h-1.8zM427.5 764h1.5v13.3h-1.5zM428.9 764h1.1v13.3h-1.1zM430.8 764h1.7v13.3h-1.7zM432.5 764h1.1v13.3h-1.1zM435 764h1.9v13.3h-1.9zM441.1 764h0.9v13.3h-0.9zM441.9 764h0.8v13.3h-0.8zM449.7 764h1.5v13.3h-1.5zM451.1 764h1.6v13.3h-1.6z" fill="#d7c5f3"/>
<path d="M426.3 764h1.3v13.3h-1.3zM439.4 764h1.7v13.3h-1.7z" fill="#a98ee0"/>
<path d="M443.9 764h1.1v13.3h-1.1zM445 764h1.9v13.3h-1.9z" fill="#f9f2f4"/>
<path d="M447.8 764h1.9v13.3h-1.9z" fill="#fbece8"/>
<rect x="461.6" y="764" width="41.6" height="13.3" fill="#f0e7f7"/>
<path d="M461.6 764h1.2v13.3h-1.2zM464.1 764h0.9v13.3h-0.9zM465.7 764h1.1v13.3h-1.1zM471.3 764h1.5v13.3h-1.5zM482 764h1.9v13.3h-1.9zM483.9 764h1.5v13.3h-1.5zM485.4 764h1.8v13.3h-1.8zM491.3 764h1.9v13.3h-1.9zM494.2 764h2v13.3h-2zM499.6 764h1.2v13.3h-1.2zM500.8 764h1v13.3h-1zM501.8 764h1.3v13.3h-1.3z" fill="#eee5f8"/>
<path d="M462.7 764h1.4v13.3h-1.4zM478.2 764h1.8v13.3h-1.8zM488.1 764h2v13.3h-2zM493.2 764h1v13.3h-1z" fill="#d7c5f3"/>
<path d="M464.9 764h0.9v13.3h-0.9zM466.8 764h1.8v13.3h-1.8z" fill="#fde6dc"/>
<path d="M468.5 764h1.7v13.3h-1.7zM470.2 764h1.1v13.3h-1.1zM473.9 764h1v13.3h-1zM490 764h1.4v13.3h-1.4zM496.1 764h1.6v13.3h-1.6z" fill="#e2d5f6"/>
<path d="M472.7 764h1.2v13.3h-1.2zM474.8 764h1.8v13.3h-1.8zM476.6 764h1.6v13.3h-1.6zM481 764h1.1v13.3h-1.1zM487.2 764h1v13.3h-1zM497.7 764h2v13.3h-2z" fill="#f9f2f4"/>
<path d="M479.9 764h1.1v13.3h-1.1z" fill="#cbb6ee"/>
<path d="M503 764h0.2v13.3h-0.2z" fill="#fbece8"/>
<rect x="506" y="764" width="56.9" height="13.3" fill="#eadff7"/>
<path d="M506 764h1.9v13.3h-1.9zM508.9 764h1.6v13.3h-1.6zM523 764h1.7v13.3h-1.7zM538.1 764h0.8v13.3h-0.8zM544.3 764h1.8v13.3h-1.8z" fill="#f9f2f4"/>
<path d="M507.9 764h1.1v13.3h-1.1zM518.8 764h1.1v13.3h-1.1zM528.6 764h1.9v13.3h-1.9zM533.7 764h1.2v13.3h-1.2zM558.8 764h1.7v13.3h-1.7zM560.4 764h0.9v13.3h-0.9z" fill="#d7c5f3"/>
<path d="M510.5 764h1.4v13.3h-1.4zM538.8 764h0.9v13.3h-0.9zM547 764h1.5v13.3h-1.5zM549.5 764h0.9v13.3h-0.9z" fill="#fde6dc"/>
<path d="M511.8 764h1.6v13.3h-1.6zM515.1 764h0.9v13.3h-0.9zM515.9 764h0.9v13.3h-0.9zM519.9 764h1v13.3h-1zM520.8 764h1.4v13.3h-1.4zM522.1 764h1v13.3h-1zM524.7 764h2v13.3h-2zM526.6 764h2v13.3h-2zM530.4 764h1.8v13.3h-1.8zM532.2 764h1.6v13.3h-1.6zM535.8 764h1v13.3h-1zM539.6 764h2v13.3h-2zM546 764h1v13.3h-1zM552 764h0.8v13.3h-0.8zM554.5 764h1.7v13.3h-1.7z" fill="#eee5f8"/>
<path d="M513.4 764h1.7v13.3h-1.7zM534.9 764h1v13.3h-1zM541.6 764h1.2v13.3h-1.2zM548.4 764h1.2v13.3h-1.2zM556.1 764h1.8v13.3h-1.8z" fill="#e2d5f6"/>
<path d="M516.8 764h2v13.3h-2zM536.8 764h1.4v13.3h-1.4zM550.4 764h1.6v13.3h-1.6z" fill="#fbece8"/>
<path d="M542.7 764h1.7v13.3h-1.7zM557.9 764h1v13.3h-1z" fill="#cbb6ee"/>
<path d="M552.7 764h1.8v13.3h-1.8z" fill="#fcd2c0"/>
<path d="M561.3 764h1.6v13.3h-1.6z" fill="#bfa7e8"/>
<rect x="565.6" y="764" width="30.3" height="13.3" fill="#fbedea"/>
<path d="M565.6 764h1v13.3h-1zM572.1 764h1.3v13.3h-1.3zM573.4 764h0.8v13.3h-0.8zM574.2 764h1.2v13.3h-1.2zM575.3 764h1.7v13.3h-1.7zM586 764h1.6v13.3h-1.6zM590.3 764h1.2v13.3h-1.2zM593.8 764h1.6v13.3h-1.6zM595.4 764h0.6v13.3h-0.6z" fill="#fbece8"/>
<path d="M566.6 764h1.1v13.3h-1.1zM578.5 764h1.9v13.3h-1.9zM587.6 764h0.9v13.3h-0.9z" fill="#f9f2f4"/>
<path d="M567.6 764h1.9v13.3h-1.9zM583.3 764h1.7v13.3h-1.7z" fill="#e2d5f6"/>
<path d="M569.5 764h1.7v13.3h-1.7z" fill="#fddcce"/>
<path d="M571.2 764h1v13.3h-1zM585 764h1.1v13.3h-1.1zM588.4 764h2v13.3h-2zM591.5 764h1v13.3h-1z" fill="#eee5f8"/>
<path d="M576.9 764h1.6v13.3h-1.6zM580.3 764h2v13.3h-2zM582.3 764h1v13.3h-1zM592.5 764h1.4v13.3h-1.4z" fill="#fde6dc"/>
<rect x="298.7" y="777.2" width="58.2" height="13.3" fill="#f0e7f7"/>
<path d="M298.7 777.2h1v13.3h-1zM299.6 777.2h1.4v13.3h-1.4zM301 777.2h1.6v13.3h-1.6zM304.8 777.2h0.9v13.3h-0.9zM324.8 777.2h1.9v13.3h-1.9zM330.6 777.2h1.3v13.3h-1.3zM346.5 777.2h2v13.3h-2zM353.8 777.2h0.8v13.3h-0.8zM354.5 777.2h1.8v13.3h-1.8zM356.3 777.2h0.6v13.3h-0.6z" fill="#d7c5f3"/>
<path d="M302.6 777.2h1.1v13.3h-1.1zM303.6 777.2h1.2v13.3h-1.2zM305.6 777.2h1.4v13.3h-1.4zM307 777.2h1.9v13.3h-1.9zM318.4 777.2h1.9v13.3h-1.9zM323.1 777.2h1.8v13.3h-1.8zM328.3 777.2h1.3v13.3h-1.3zM331.9 777.2h1.2v13.3h-1.2zM335.1 777.2h1.4v13.3h-1.4zM336.4 777.2h1.1v13.3h-1.1zM337.4 777.2h2v13.3h-2zM339.4 777.2h1.5v13.3h-1.5z" fill="#eee5f8"/>
<path d="M308.8 777.2h1.1v13.3h-1.1z" fill="#fddcce"/>
<path d="M309.8 777.2h0.9v13.3h-0.9zM320.9 777.2h1.2v13.3h-1.2zM326.7 777.2h1.6v13.3h-1.6zM340.8 777.2h0.8v13.3h-0.8zM343.1 777.2h1.7v13.3h-1.7zM349.8 777.2h2v13.3h-2zM351.7 777.2h1.3v13.3h-1.3z" fill="#f9f2f4"/>
<path d="M310.6 777.2h0.8v13.3h-0.8zM313.3 777.2h1.1v13.3h-1.1zM315.2 777.2h1.4v13.3h-1.4zM316.6 777.2h1.8v13.3h-1.8zM320.2 777.2h0.8v13.3h-0.8zM322.1 777.2h1.1v13.3h-1.1zM333 777.2h0.9v13.3h-0.9zM341.6 777.2h1.5v13.3h-1.5z" fill="#e2d5f6"/>
<path d="M311.4 777.2h2v13.3h-2zM329.6 777.2h1.1v13.3h-1.1zM333.8 777.2h1.4v13.3h-1.4zM344.8 777.2h1.8v13.3h-1.8z" fill="#cbb6ee"/>
<path d="M314.4 777.2h0.9v13.3h-0.9zM348.5 777.2h1.4v13.3h-1.4zM353 777.2h0.8v13.3h-0.8z" fill="#fbece8"/>
<rect x="359.4" y="777.2" width="40.2" height="13.3" fill="#baa0e6"/>
<path d="M359.4 777.2h0.8v13.3h-0.8zM364.2 777.2h1.2v13.3h-1.2zM365.4 777.2h1.4v13.3h-1.4zM366.7 777.2h1.1v13.3h-1.1zM373.6 777.2h1.3v13.3h-1.3zM379.7 777.2h1.1v13.3h-1.1zM380.7 777.2h1.9v13.3h-1.9zM385.6 777.2h0.8v13.3h-0.8zM386.3 777.2h1.6v13.3h-1.6zM398.2 777.2h1.4v13.3h-1.4z" fill="#bfa7e8"/>
<path d="M360.1 777.2h1.2v13.3h-1.2zM369.2 777.2h1.6v13.3h-1.6zM375.8 777.2h1v13.3h-1zM378.3 777.2h1.4v13.3h-1.4zM382.6 777.2h2v13.3h-2zM387.9 777.2h1.6v13.3h-1.6zM389.5 777.2h1.1v13.3h-1.1zM393.9 777.2h1.7v13.3h-1.7z" fill="#a98ee0"/>
<path d="M361.3 777.2h1v13.3h-1zM384.5 777.2h1.1v13.3h-1.1zM392.3 777.2h1.6v13.3h-1.6z" fill="#cbb6ee"/>
<path d="M362.3 777.2h2v13.3h-2zM367.8 777.2h1.4v13.3h-1.4zM371.9 777.2h1.8v13.3h-1.8zM374.8 777.2h1v13.3h-1zM390.5 777.2h1.9v13.3h-1.9zM395.5 777.2h1.7v13.3h-1.7z" fill="#b398e3"/>
<path d="M370.7 777.2h1.3v13.3h-1.3z" fill="#d7c5f3"/>
<path d="M376.7 777.2h1.6v13.3h-1.6zM397.2 777.2h1.1v13.3h-1.1z" fill="#a083dd"/>
<rect x="402.6" y="777.2" width="10.1" height="13.3" fill="#d2bff1"/>
<path d="M402.6 777.2h0.9v13.3h-0.9zM410.7 777.2h1.6v13.3h-1.6z" fill="#bfa7e8"/>
<path d="M403.4 777.2h1.5v13.3h-1.5zM404.9 777.2h1.1v13.3h-1.1zM405.9 777.2h1.7v13.3h-1.7zM409.4 777.2h1.4v13.3h-1.4z" fill="#d7c5f3"/>
<path d="M407.5 777.2h1.9v13.3h-1.9z" fill="#cbb6ee"/>
<path d="M412.2 777.2h0.5v13.3h-0.5z" fill="#e2d5f6"/>
<rect x="415.5" y="777.2" width="43.3" height="13.3" fill="#fab398"/>
<path d="M415.5 777.2h1.8v13.3h-1.8zM417.3 777.2h1.8v13.3h-1.8zM419 777.2h1.2v13.3h-1.2zM420.2 777.2h1.1v13.3h-1.1zM421.2 777.2h0.9v13.3h-0.9zM432.6 777.2h1v13.3h-1zM436.7 777.2h1.4v13.3h-1.4zM438.1 777.2h1.4v13.3h-1.4zM442.3 777.2h1.4v13.3h-1.4zM443.7 777.2h0.8v13.3h-0.8zM445.4 777.2h1.2v13.3h-1.2zM448.6 777.2h0.9v13.3h-0.9zM452.2 777.2h2v13.3h-2zM457.8 777.2h1.1v13.3h-1.1z" fill="#fab195"/>
<path d="M422 777.2h1.3v13.3h-1.3zM424 777.2h1.3v13.3h-1.3zM427.1 777.2h1.9v13.3h-1.9zM444.4 777.2h1.1v13.3h-1.1zM454.2 777.2h1.6v13.3h-1.6z" fill="#fcc8b2"/>
<path d="M423.2 777.2h0.8v13.3h-0.8zM426 777.2h1.2v13.3h-1.2zM429 777.2h0.9v13.3h-0.9zM429.8 777.2h0.9v13.3h-0.9zM430.6 777.2h2v13.3h-2zM435.2 777.2h1.6v13.3h-1.6zM449.4 777.2h1.5v13.3h-1.5zM456.9 777.2h0.9v13.3h-0.9z" fill="#fbbca3"/>
<path d="M425.2 777.2h0.8v13.3h-0.8zM433.5 777.2h1.7v13.3h-1.7zM439.4 777.2h1.9v13.3h-1.9zM441.3 777.2h1.1v13.3h-1.1zM446.6 777.2h2v13.3h-2zM450.9 777.2h1.4v13.3h-1.4zM455.8 777.2h1.2v13.3h-1.2z" fill="#f9a586"/>
<rect x="461.6" y="777.2" width="41.6" height="13.3" fill="#bea6e8"/>
<path d="M461.6 777.2h2v13.3h-2zM463.5 777.2h1.5v13.3h-1.5zM493 777.2h1.8v13.3h-1.8zM495.8 777.2h1.3v13.3h-1.3z" fill="#d7c5f3"/>
<path d="M465 777.2h1v13.3h-1zM474 777.2h1.5v13.3h-1.5zM476.2 777.2h1v13.3h-1zM484.7 777.2h0.8v13.3h-0.8zM486.8 777.2h1.1v13.3h-1.1z" fill="#cbb6ee"/>
<path d="M465.9 777.2h0.8v13.3h-0.8zM470.3 777.2h1.1v13.3h-1.1zM471.3 777.2h1.9v13.3h-1.9zM473.1 777.2h0.9v13.3h-0.9zM477.2 777.2h1.8v13.3h-1.8zM480.5 777.2h1.4v13.3h-1.4zM487.9 777.2h1.2v13.3h-1.2zM489 777.2h1.4v13.3h-1.4zM491.1 777.2h1.9v13.3h-1.9zM494.7 777.2h1.1v13.3h-1.1z" fill="#b398e3"/>
<path d="M466.7 777.2h1.9v13.3h-1.9zM468.5 777.2h1.9v13.3h-1.9zM478.9 777.2h1.7v13.3h-1.7zM481.8 777.2h1.2v13.3h-1.2zM485.5 777.2h1.4v13.3h-1.4zM498.2 777.2h0.9v13.3h-0.9zM499 777.2h0.9v13.3h-0.9zM500.9 777.2h1.3v13.3h-1.3z" fill="#bfa7e8"/>
<path d="M475.4 777.2h0.9v13.3h-0.9zM483 777.2h1.7v13.3h-1.7zM497 777.2h1.2v13.3h-1.2zM499.8 777.2h1.1v13.3h-1.1zM502.2 777.2h1.1v13.3h-1.1z" fill="#a98ee0"/>
<path d="M490.3 777.2h0.8v13.3h-0.8z" fill="#e2d5f6"/>
<rect x="506" y="777.2" width="56.9" height="13.3" fill="#fbb79d"/>
<path d="M506 777.2h1.2v13.3h-1.2zM510.7 777.2h1.5v13.3h-1.5zM512.1 777.2h1.6v13.3h-1.6zM515.2 777.2h1v13.3h-1zM516.2 777.2h1.4v13.3h-1.4zM522.7 777.2h0.8v13.3h-0.8zM523.4 777.2h1.8v13.3h-1.8zM525.2 777.2h1.3v13.3h-1.3zM526.5 777.2h1.9v13.3h-1.9zM537.1 777.2h1.5v13.3h-1.5zM539.5 777.2h2v13.3h-2zM543.5 777.2h0.8v13.3h-0.8zM549.2 777.2h1.1v13.3h-1.1zM550.3 777.2h1v13.3h-1zM557.6 777.2h0.8v13.3h-0.8zM558.3 777.2h1.8v13.3h-1.8zM560.1 777.2h1.2v13.3h-1.2z" fill="#fab195"/>
<path d="M507.2 777.2h0.8v13.3h-0.8zM517.5 777.2h1.4v13.3h-1.4zM521.5 777.2h1.3v13.3h-1.3zM533.6 777.2h1.9v13.3h-1.9zM538.6 777.2h1v13.3h-1zM544.2 777.2h0.8v13.3h-0.8z" fill="#fcc8b2"/>
<path d="M507.9 777.2h1v13.3h-1zM513.7 777.2h1.6v13.3h-1.6zM518.9 777.2h0.8v13.3h-0.8zM528.4 777.2h0.8v13.3h-0.8zM529.1 777.2h2v13.3h-2zM531.1 777.2h1.4v13.3h-1.4zM532.5 777.2h1.2v13.3h-1.2zM535.4 777.2h1.7v13.3h-1.7zM541.4 777.2h0.9v13.3h-0.9zM545 777.2h1.3v13.3h-1.3zM546.2 777.2h1.1v13.3h-1.1zM551.2 777.2h1.8v13.3h-1.8zM553 777.2h1.8v13.3h-1.8zM554.8 777.2h1.5v13.3h-1.5zM561.2 777.2h1.8v13.3h-1.8z" fill="#fbbca3"/>
<path d="M508.9 777.2h1.9v13.3h-1.9zM519.7 777.2h1.9v13.3h-1.9zM547.3 777.2h1.9v13.3h-1.9zM556.2 777.2h1.4v13.3h-1.4z" fill="#f9a586"/>
<path d="M542.3 777.2h1.2v13.3h-1.2z" fill="#fcd2c0"/>
<rect x="565.6" y="777.2" width="30.3" height="13.3" fill="#fbedea"/>
<path d="M565.6 777.2h1.7v13.3h-1.7zM567.2 777.2h1v13.3h-1zM571.4 777.2h1.8v13.3h-1.8zM591.1 777.2h0.9v13.3h-0.9z" fill="#f9f2f4"/>
<path d="M568.2 777.2h1.9v13.3h-1.9zM573.2 777.2h1.6v13.3h-1.6zM574.7 777.2h1v13.3h-1zM581.6 777.2h1.2v13.3h-1.2z" fill="#eee5f8"/>
<path d="M570 777.2h1.5v13.3h-1.5zM582.8 777.2h1.9v13.3h-1.9zM586 777.2h1.1v13.3h-1.1zM589.6 777.2h1.5v13.3h-1.5zM595.7 777.2h0.3v13.3h-0.3z" fill="#fde6dc"/>
<path d="M575.7 777.2h1.4v13.3h-1.4z" fill="#fcd2c0"/>
<path d="M577 777.2h1.9v13.3h-1.9z" fill="#d7c5f3"/>
<path d="M578.8 777.2h0.9v13.3h-0.9zM584.6 777.2h1.4v13.3h-1.4zM587 777.2h1.8v13.3h-1.8zM593.8 777.2h1.9v13.3h-1.9z" fill="#fddcce"/>
<path d="M579.7 777.2h1.9v13.3h-1.9zM588.8 777.2h0.9v13.3h-0.9z" fill="#fbece8"/>
<path d="M591.9 777.2h1.9v13.3h-1.9z" fill="#e2d5f6"/>
<rect x="298.7" y="790.5" width="58.2" height="13.3" fill="#fbedea"/>
<path d="M298.7 790.5h1.5v13.3h-1.5zM302.1 790.5h1.2v13.3h-1.2zM326.7 790.5h1.2v13.3h-1.2zM329.2 790.5h0.8v13.3h-0.8zM338.9 790.5h1.3v13.3h-1.3zM343.2 790.5h1v13.3h-1z" fill="#eee5f8"/>
<path d="M300.2 790.5h2v13.3h-2zM308.2 790.5h2v13.3h-2zM318 790.5h2v13.3h-2zM345.4 790.5h0.9v13.3h-0.9zM346.2 790.5h2v13.3h-2zM348.2 790.5h1.7v13.3h-1.7z" fill="#fde6dc"/>
<path d="M303.2 790.5h1v13.3h-1zM321.3 790.5h0.8v13.3h-0.8zM344.2 790.5h1.2v13.3h-1.2zM355.2 790.5h1.2v13.3h-1.2zM356.3 790.5h0.6v13.3h-0.6z" fill="#f9f2f4"/>
<path d="M304.1 790.5h0.8v13.3h-0.8zM311.6 790.5h1.2v13.3h-1.2z" fill="#d7c5f3"/>
<path d="M304.9 790.5h2v13.3h-2zM314.3 790.5h1.9v13.3h-1.9zM320 790.5h1.4v13.3h-1.4z" fill="#e2d5f6"/>
<path d="M306.9 790.5h1.3v13.3h-1.3zM316.2 790.5h1.9v13.3h-1.9zM322 790.5h2v13.3h-2zM329.9 790.5h1.5v13.3h-1.5zM334.4 790.5h1.3v13.3h-1.3zM354 790.5h1.2v13.3h-1.2z" fill="#fbece8"/>
<path d="M310.2 790.5h1.5v13.3h-1.5zM331.4 790.5h1.8v13.3h-1.8zM333.1 790.5h1.4v13.3h-1.4zM335.7 790.5h1.3v13.3h-1.3zM352.2 790.5h1.9v13.3h-1.9z" fill="#fddcce"/>
<path d="M312.8 790.5h1.6v13.3h-1.6zM341.4 790.5h1.9v13.3h-1.9z" fill="#fcd2c0"/>
<path d="M324 790.5h1.7v13.3h-1.7zM336.9 790.5h2v13.3h-2zM349.9 790.5h0.9v13.3h-0.9z" fill="#fcc8b2"/>
<path d="M325.6 790.5h1.1v13.3h-1.1zM340.2 790.5h1.3v13.3h-1.3z" fill="#cbb6ee"/>
<path d="M327.8 790.5h1.4v13.3h-1.4zM350.8 790.5h1.5v13.3h-1.5z" fill="#fbbca3"/>
<rect x="359.4" y="790.5" width="40.2" height="13.3" fill="#f68d6b"/>
<path d="M359.4 790.5h0.8v13.3h-0.8zM360.1 790.5h1.8v13.3h-1.8zM361.9 790.5h1.4v13.3h-1.4zM367.6 790.5h1.5v13.3h-1.5zM375.7 790.5h1.6v13.3h-1.6zM377.2 790.5h1.3v13.3h-1.3zM386.1 790.5h0.9v13.3h-0.9zM387 790.5h1.6v13.3h-1.6zM388.5 790.5h1.9v13.3h-1.9zM391.6 790.5h1v13.3h-1zM394.9 790.5h1.6v13.3h-1.6zM396.4 790.5h0.8v13.3h-0.8zM397.2 790.5h1.8v13.3h-1.8zM398.9 790.5h0.7v13.3h-0.7z" fill="#f79271"/>
<path d="M363.2 790.5h1.6v13.3h-1.6zM364.8 790.5h1.8v13.3h-1.8zM366.5 790.5h1.1v13.3h-1.1zM370.9 790.5h1.1v13.3h-1.1zM372 790.5h0.9v13.3h-0.9zM372.8 790.5h1.3v13.3h-1.3zM374.1 790.5h1.6v13.3h-1.6zM378.5 790.5h1.6v13.3h-1.6zM380 790.5h1.1v13.3h-1.1zM382.9 790.5h1.9v13.3h-1.9zM384.7 790.5h1.5v13.3h-1.5zM390.3 790.5h1.3v13.3h-1.3zM392.6 790.5h0.8v13.3h-0.8zM393.3 790.5h0.8v13.3h-0.8zM394.1 790.5h0.9v13.3h-0.9z" fill="#f68866"/>
<path d="M369 790.5h1.9v13.3h-1.9zM381 790.5h1.9v13.3h-1.9z" fill="#f57f5c"/>
<rect x="402.6" y="790.5" width="10.1" height="13.3" fill="#fce8e0"/>
<path d="M402.6 790.5h1.8v13.3h-1.8zM404.4 790.5h1.4v13.3h-1.4zM405.7 790.5h1v13.3h-1z" fill="#fbece8"/>
<path d="M406.6 790.5h0.9v13.3h-0.9zM407.5 790.5h1.6v13.3h-1.6zM410.2 790.5h0.8v13.3h-0.8zM410.9 790.5h1.6v13.3h-1.6z" fill="#fddcce"/>
<path d="M409.1 790.5h1.1v13.3h-1.1z" fill="#fcd2c0"/>
<path d="M412.4 790.5h0.3v13.3h-0.3z" fill="#fde6dc"/>
<rect x="415.5" y="790.5" width="43.3" height="13.3" fill="#fcc7b1"/>
<path d="M415.5 790.5h1.3v13.3h-1.3zM421 790.5h2v13.3h-2zM441.9 790.5h1v13.3h-1zM443.8 790.5h1.8v13.3h-1.8zM449.9 790.5h1.1v13.3h-1.1zM457.9 790.5h0.8v13.3h-0.8z" fill="#fbbca3"/>
<path d="M416.7 790.5h2v13.3h-2zM448.3 790.5h0.9v13.3h-0.9z" fill="#f9a586"/>
<path d="M418.7 790.5h1.7v13.3h-1.7zM420.3 790.5h0.8v13.3h-0.8zM427 790.5h1.7v13.3h-1.7zM431 790.5h0.9v13.3h-0.9zM434.7 790.5h1.1v13.3h-1.1zM435.8 790.5h1.5v13.3h-1.5zM437.2 790.5h1.4v13.3h-1.4zM452.4 790.5h1.2v13.3h-1.2zM453.5 790.5h1.4v13.3h-1.4zM454.9 790.5h1.6v13.3h-1.6z" fill="#fcc8b2"/>
<path d="M423 790.5h1.6v13.3h-1.6zM428.7 790.5h0.8v13.3h-0.8zM429.4 790.5h1.7v13.3h-1.7zM433 790.5h1.7v13.3h-1.7zM438.6 790.5h2v13.3h-2zM445.5 790.5h2v13.3h-2zM449.2 790.5h0.8v13.3h-0.8zM458.6 790.5h0.2v13.3h-0.2z" fill="#fcd2c0"/>
<path d="M424.5 790.5h1.4v13.3h-1.4zM440.5 790.5h1.4v13.3h-1.4z" fill="#f89c7c"/>
<path d="M425.9 790.5h1.1v13.3h-1.1z" fill="#fde6dc"/>
<path d="M431.9 790.5h1.2v13.3h-1.2zM451 790.5h1.4v13.3h-1.4zM456.4 790.5h1.5v13.3h-1.5z" fill="#fab195"/>
<path d="M442.8 790.5h1v13.3h-1z" fill="#fbece8"/>
<path d="M447.4 790.5h1v13.3h-1z" fill="#fddcce"/>
<rect x="461.6" y="790.5" width="41.6" height="13.3" fill="#fcc7b1"/>
<path d="M461.6 790.5h1.4v13.3h-1.4zM464.8 790.5h1.9v13.3h-1.9zM468 790.5h1.3v13.3h-1.3zM469.3 790.5h2v13.3h-2zM471.2 790.5h1v13.3h-1zM489.1 790.5h0.9v13.3h-0.9zM493 790.5h1.1v13.3h-1.1z" fill="#fbbca3"/>
<path d="M462.9 790.5h1.2v13.3h-1.2zM478.6 790.5h1.5v13.3h-1.5zM484.1 790.5h1.4v13.3h-1.4zM495 790.5h2v13.3h-2zM497.9 790.5h1.5v13.3h-1.5zM502.9 790.5h0.3v13.3h-0.3z" fill="#fab195"/>
<path d="M464 790.5h0.9v13.3h-0.9zM473 790.5h1.5v13.3h-1.5zM481.2 790.5h1v13.3h-1zM485.5 790.5h1.6v13.3h-1.6zM490 790.5h1.5v13.3h-1.5zM494.1 790.5h0.9v13.3h-0.9zM499.3 790.5h1.9v13.3h-1.9z" fill="#fddcce"/>
<path d="M466.7 790.5h1.4v13.3h-1.4zM472.2 790.5h0.8v13.3h-0.8zM474.4 790.5h1.5v13.3h-1.5zM476.8 790.5h1.1v13.3h-1.1zM477.8 790.5h0.8v13.3h-0.8zM480 790.5h1.3v13.3h-1.3zM487.1 790.5h0.9v13.3h-0.9zM487.9 790.5h1.3v13.3h-1.3zM491.5 790.5h1.6v13.3h-1.6zM501.9 790.5h1.1v13.3h-1.1z" fill="#fcc8b2"/>
<path d="M475.8 790.5h1v13.3h-1zM496.9 790.5h1v13.3h-1z" fill="#fcd2c0"/>
<path d="M482.1 790.5h2v13.3h-2z" fill="#f9a586"/>
<path d="M501.1 790.5h0.8v13.3h-0.8z" fill="#fde6dc"/>
<rect x="506" y="790.5" width="56.9" height="13.3" fill="#baa0e6"/>
<path d="M506 790.5h1.6v13.3h-1.6zM515.9 790.5h1.4v13.3h-1.4zM517.3 790.5h1.8v13.3h-1.8zM525.7 790.5h0.8v13.3h-0.8zM530.1 790.5h1.2v13.3h-1.2zM534.6 790.5h1.3v13.3h-1.3zM543.9 790.5h2v13.3h-2zM549.3 790.5h1.8v13.3h-1.8zM559 790.5h1.3v13.3h-1.3zM561.2 790.5h1.7v13.3h-1.7z" fill="#b398e3"/>
<path d="M507.6 790.5h0.8v13.3h-0.8zM509.2 790.5h1.1v13.3h-1.1zM510.2 790.5h1.2v13.3h-1.2zM511.4 790.5h1v13.3h-1zM519 790.5h0.8v13.3h-0.8zM526.4 790.5h1.4v13.3h-1.4zM535.9 790.5h1.7v13.3h-1.7zM539 790.5h1.1v13.3h-1.1zM541 790.5h1.4v13.3h-1.4zM542.4 790.5h1.5v13.3h-1.5zM554.1 790.5h0.9v13.3h-0.9zM556.9 790.5h0.8v13.3h-0.8z" fill="#bfa7e8"/>
<path d="M508.3 790.5h1v13.3h-1zM522.5 790.5h1.5v13.3h-1.5zM529.3 790.5h0.9v13.3h-0.9zM531.3 790.5h1.8v13.3h-1.8zM537.6 790.5h1.5v13.3h-1.5zM551.1 790.5h1.9v13.3h-1.9z" fill="#a98ee0"/>
<path d="M512.4 790.5h0.9v13.3h-0.9zM514.4 790.5h1.5v13.3h-1.5zM519.8 790.5h1v13.3h-1zM520.7 790.5h1.1v13.3h-1.1zM523.9 790.5h1v13.3h-1zM527.8 790.5h1.5v13.3h-1.5zM533.1 790.5h1.6v13.3h-1.6zM548.4 790.5h1v13.3h-1zM560.2 790.5h1.1v13.3h-1.1z" fill="#cbb6ee"/>
<path d="M513.2 790.5h1.3v13.3h-1.3zM524.8 790.5h0.9v13.3h-0.9zM555 790.5h1.9v13.3h-1.9z" fill="#d7c5f3"/>
<path d="M521.7 790.5h0.8v13.3h-0.8zM540.1 790.5h1v13.3h-1zM545.8 790.5h1.4v13.3h-1.4zM547.2 790.5h1.2v13.3h-1.2zM557.6 790.5h1.4v13.3h-1.4z" fill="#a083dd"/>
<path d="M552.9 790.5h1.2v13.3h-1.2z" fill="#e2d5f6"/>
<rect x="565.6" y="790.5" width="30.3" height="13.3" fill="#cebaef"/>
<path d="M565.6 790.5h0.9v13.3h-0.9zM568.7 790.5h1.7v13.3h-1.7zM574.2 790.5h1.7v13.3h-1.7zM577.7 790.5h2v13.3h-2zM579.6 790.5h1.5v13.3h-1.5zM581.1 790.5h1.9v13.3h-1.9zM584.8 790.5h1.9v13.3h-1.9z" fill="#d7c5f3"/>
<path d="M566.4 790.5h1v13.3h-1zM572.2 790.5h2v13.3h-2zM575.8 790.5h1.9v13.3h-1.9zM583.7 790.5h1.2v13.3h-1.2zM588.4 790.5h0.8v13.3h-0.8zM589.2 790.5h1v13.3h-1zM595.6 790.5h0.4v13.3h-0.4z" fill="#cbb6ee"/>
<path d="M567.3 790.5h1.4v13.3h-1.4zM570.3 790.5h2v13.3h-2zM590.1 790.5h1.2v13.3h-1.2z" fill="#e2d5f6"/>
<path d="M582.9 790.5h0.8v13.3h-0.8zM586.7 790.5h0.8v13.3h-0.8z" fill="#eee5f8"/>
<path d="M587.5 790.5h1v13.3h-1zM591.3 790.5h1.3v13.3h-1.3zM592.5 790.5h1.2v13.3h-1.2zM593.6 790.5h2v13.3h-2z" fill="#bfa7e8"/>
<text x="603" y="680.9" class="it">CD1</text>
<text x="603" y="694.2" class="it">CD2</text>
<text x="603" y="707.5" class="it">CTA</text>
<text x="603" y="720.7" class="it">HY</text>
<text x="603" y="734" class="it">MF</text>
<text x="603" y="747.3" class="it">MS</text>
<text x="603" y="760.6">Myeloid</text>
<text x="603" y="773.9" class="it">NFKB</text>
<text x="603" y="787.1" class="it">PR</text>
<text x="603" y="800.4" class="it">PRL3</text>
</svg>
</body></html>
